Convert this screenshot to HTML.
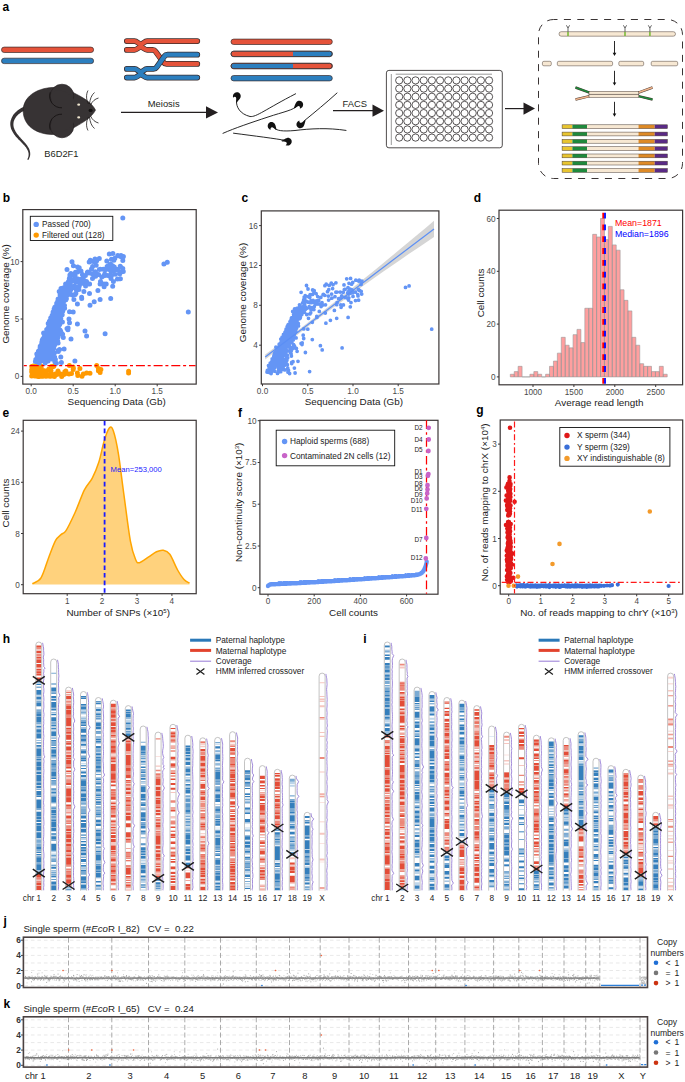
<!DOCTYPE html>
<html><head><meta charset="utf-8"><style>
html,body{margin:0;padding:0;background:#fff;}
svg{display:block;}
text{font-family:"Liberation Sans",sans-serif;}
</style></head><body>
<svg width="685" height="1082" viewBox="0 0 685 1082" font-family="Liberation Sans, sans-serif">
<rect width="685" height="1082" fill="#fff"/>
<text x="2.5" y="11" font-size="12" font-weight="bold" fill="#000">a</text>
<rect x="1.5" y="47.1" width="92.1" height="5.4" rx="2.7" fill="#e5533a" stroke="#3a2c2c" stroke-width="0.7"/>
<rect x="1.5" y="58.2" width="92.1" height="5.4" rx="2.7" fill="#2c7fbf" stroke="#3a2c2c" stroke-width="0.7"/>
<path d="M126.8 41.1H134.5C137.3 41.1 138.3 44.0 140.8 44.0C143.3 44.0 144.3 41.1 147.1 41.1H197.3" fill="none" stroke="#3a2c2c" stroke-width="5.7" stroke-linecap="round" stroke-linejoin="round"/>
<path d="M126.8 49.9H134.5C137.3 49.9 138.3 47.0 140.8 47.0C143.3 47.0 144.3 49.9 147.1 49.9H152.5Q154.5 49.9 155.5 51.4L163.5 62.4Q164.5 63.9 166.5 63.9H197.3" fill="none" stroke="#3a2c2c" stroke-width="5.7" stroke-linecap="round" stroke-linejoin="round"/>
<path d="M126.8 41.1H134.5C137.3 41.1 138.3 44.0 140.8 44.0C143.3 44.0 144.3 41.1 147.1 41.1H197.3" fill="none" stroke="#e5533a" stroke-width="4.3" stroke-linecap="round" stroke-linejoin="round"/>
<path d="M126.8 49.9H134.5C137.3 49.9 138.3 47.0 140.8 47.0C143.3 47.0 144.3 49.9 147.1 49.9H152.5Q154.5 49.9 155.5 51.4L163.5 62.4Q164.5 63.9 166.5 63.9H197.3" fill="none" stroke="#e5533a" stroke-width="4.3" stroke-linecap="round" stroke-linejoin="round"/>
<path d="M126.8 68.9H134.5C137.3 68.9 138.3 71.8 140.8 71.8C143.3 71.8 144.3 68.9 147.1 68.9H153.5Q155.5 68.9 156.5 67.4L164.5 56.2Q165.5 54.7 167.5 54.7H197.3" fill="none" stroke="#3a2c2c" stroke-width="5.7" stroke-linecap="round" stroke-linejoin="round"/>
<path d="M126.8 77.6H134.5C137.3 77.6 138.3 74.7 140.8 74.7C143.3 74.7 144.3 77.6 147.1 77.6H197.3" fill="none" stroke="#3a2c2c" stroke-width="5.7" stroke-linecap="round" stroke-linejoin="round"/>
<path d="M126.8 68.9H134.5C137.3 68.9 138.3 71.8 140.8 71.8C143.3 71.8 144.3 68.9 147.1 68.9H153.5Q155.5 68.9 156.5 67.4L164.5 56.2Q165.5 54.7 167.5 54.7H197.3" fill="none" stroke="#2c7fbf" stroke-width="4.3" stroke-linecap="round" stroke-linejoin="round"/>
<path d="M126.8 77.6H134.5C137.3 77.6 138.3 74.7 140.8 74.7C143.3 74.7 144.3 77.6 147.1 77.6H197.3" fill="none" stroke="#2c7fbf" stroke-width="4.3" stroke-linecap="round" stroke-linejoin="round"/>
<rect x="231" y="39.1" width="101.3" height="5.4" rx="2.7" fill="#e5533a" stroke="#3a2c2c" stroke-width="0.7"/>
<rect x="231" y="51.2" width="101.3" height="5.4" rx="2.7" fill="#2c7fbf" stroke="#3a2c2c" stroke-width="0.7"/>
<path d="M233.7 51.55H293V56.25H233.7A2.35 2.35 0 0 1 233.7 51.55Z" fill="#e5533a"/>
<rect x="231" y="51.2" width="101.3" height="5.4" rx="2.7" fill="none" stroke="#3a2c2c" stroke-width="0.7"/>
<rect x="231" y="63.3" width="101.3" height="5.4" rx="2.7" fill="#e5533a" stroke="#3a2c2c" stroke-width="0.7"/>
<path d="M233.7 63.65H293V68.35H233.7A2.35 2.35 0 0 1 233.7 63.65Z" fill="#2c7fbf"/>
<rect x="231" y="63.3" width="101.3" height="5.4" rx="2.7" fill="none" stroke="#3a2c2c" stroke-width="0.7"/>
<rect x="231" y="75.5" width="101.3" height="5.4" rx="2.7" fill="#2c7fbf" stroke="#3a2c2c" stroke-width="0.7"/>
<path d="M24.8 106.5L23.5 107.0L22.2 107.6L20.9 108.3L19.7 109.0L18.6 109.8L17.5 110.5L16.5 111.4L15.6 112.3L14.7 113.2L13.9 114.1L13.2 115.1L12.5 116.2L12.0 117.2L11.5 118.3L11.1 119.4L10.7 120.5L10.5 121.6L10.3 122.7L10.3 123.9L10.3 125.0L10.5 126.2L10.7 127.3L11.0 128.4L11.4 129.5L11.9 130.6L12.4 131.6L13.0 132.6L13.6 133.5L14.2 134.4L14.9 135.3L15.5 136.2L16.2 137.0L17.0 137.8L17.7 138.6L18.4 139.4L19.1 140.1L19.9 140.8L20.6 141.6L21.3 142.3L22.0 143.0L22.7 143.7L23.3 144.4L24.0 145.1L24.6 145.8L25.1 146.5L25.7 147.1L26.2 147.8L26.6 148.5L26.9 149.0L27.2 149.5L27.4 149.9L27.7 150.4L27.9 150.8L28.0 151.3L28.2 151.7L28.3 152.2L28.4 152.6L28.5 153.1L28.6 153.5L28.6 154.0L28.6 154.4L28.6 154.9L28.6 155.4L28.5 155.8L28.4 156.3L28.4 156.7L28.2 157.2L28.1 157.6L27.9 158.1L27.7 158.6L27.5 159.0L27.3 159.5L28.3 160.1L28.6 159.6L28.9 159.1L29.1 158.6L29.3 158.1L29.5 157.6L29.7 157.1L29.9 156.6L30.0 156.1L30.1 155.5L30.2 155.0L30.2 154.5L30.2 154.0L30.2 153.4L30.2 152.9L30.1 152.3L30.0 151.8L29.9 151.3L29.8 150.7L29.6 150.2L29.4 149.6L29.2 149.1L29.0 148.5L28.7 148.0L28.4 147.5L27.9 146.7L27.4 145.9L26.9 145.1L26.3 144.4L25.7 143.6L25.0 142.9L24.4 142.1L23.7 141.4L23.0 140.6L22.3 139.9L21.6 139.1L20.9 138.4L20.3 137.6L19.6 136.9L18.9 136.1L18.3 135.3L17.6 134.5L17.0 133.7L16.5 132.9L15.9 132.0L15.4 131.2L15.0 130.3L14.5 129.4L14.2 128.5L13.8 127.5L13.6 126.6L13.5 125.8L13.4 124.9L13.4 124.0L13.5 123.1L13.6 122.2L13.8 121.3L14.1 120.5L14.5 119.6L14.9 118.7L15.4 117.9L16.0 117.1L16.6 116.3L17.3 115.5L18.0 114.8L18.8 114.1L19.7 113.4L20.6 112.7L21.6 112.1L22.7 111.6L23.8 111.0L24.9 110.5L26.2 110.1Z" fill="#373334"/>
<path d="M23.2 111C23 97 36 88.5 52 87.5C62 87 69 90 75 93.5C84 98 92 103 95.5 110.1C92 117 84 122 75 127C69 130.5 62 134 52 134.5C35 134 23.5 125 23.2 111Z" fill="#373334" stroke="#241f20" stroke-width="0.6"/>
<circle cx="62" cy="96" r="11.8" fill="#373334" stroke="#241f20" stroke-width="0.6"/>
<circle cx="62" cy="126" r="11.8" fill="#373334" stroke="#241f20" stroke-width="0.6"/>
<path d="M52 92C60 88 70 92 74 100C78 108 78 114 74 122C70 130 60 134 52 130Z" fill="#373334"/>
<path d="M50.2 92.3A11.8 11.8 0 0 0 62 107.8M50.2 129.7A11.8 11.8 0 0 1 62 114.2" fill="none" stroke="#141010" stroke-width="0.85"/>
<ellipse cx="78.7" cy="104.7" rx="1.5" ry="1.1" fill="#efe6cf"/><ellipse cx="78.7" cy="117.4" rx="1.5" ry="1.1" fill="#efe6cf"/>
<ellipse cx="90.6" cy="110.4" rx="2" ry="1.6" fill="#141111"/>
<path d="M88.5 104C86 100 86 94 88 90.5M89.5 104C90 99 91.5 95 94.5 92.5M90.5 105C92.5 101 95 99 98.5 98M88.5 117C86 121 86 127 88 130.5M89.5 117C90 122 91.5 126 94.5 128.5M90.5 116C92.5 120 95 122 98.5 123" fill="none" stroke="#1c1818" stroke-width="0.8"/>
<text x="44.3" y="156.8" font-size="9.3" fill="#231f20">B6D2F1</text>
<path d="M121 112.4H208" stroke="#231f20" stroke-width="1.2"/>
<path d="M206 106.3L218 112.4L206 118.5Z" fill="#231f20"/>
<text x="163.7" y="106.6" font-size="9.4" text-anchor="middle" fill="#231f20">Meiosis</text>
<g fill="none" stroke="#111" stroke-width="0.9" stroke-linecap="round">
<path d="M236.5 101C236 107 240 114 250 116.5C256 117.5 266 109 295.6 93.8"/>
<path d="M297 106C294 110 283 112 268 117C250 123 235 128 223 133.3"/>
<path d="M304 121C315 112 326 103 337 93"/>
<path d="M274 127.5C276 131 283 131.5 295 130.5C310 128.6 328 127.6 346 130.4"/>
<path d="M286 140.5C275 138.5 255 136 233.5 133.2"/>
</g>
<path transform="translate(236.6 103) rotate(-95) scale(1.15 -1.15)" d="M0 0C1.5 -0.8 2.8 -3 4.5 -3.8C6.7 -4.8 9.3 -3.4 9.3 -1C9.3 1.5 7.2 3 4.9 2.6C5.7 1.7 5.7 0.5 4.8 0.1C3.5 -0.4 1.8 0.9 0 0Z" fill="#111"/>
<path transform="translate(293.5 108.3) rotate(-25) scale(1.15 1.15)" d="M0 0C1.5 -0.8 2.8 -3 4.5 -3.8C6.7 -4.8 9.3 -3.4 9.3 -1C9.3 1.5 7.2 3 4.9 2.6C5.7 1.7 5.7 0.5 4.8 0.1C3.5 -0.4 1.8 0.9 0 0Z" fill="#111"/>
<path transform="translate(305.8 120.2) rotate(150) scale(1.15 1.15)" d="M0 0C1.5 -0.8 2.8 -3 4.5 -3.8C6.7 -4.8 9.3 -3.4 9.3 -1C9.3 1.5 7.2 3 4.9 2.6C5.7 1.7 5.7 0.5 4.8 0.1C3.5 -0.4 1.8 0.9 0 0Z" fill="#111"/>
<path transform="translate(277 130) rotate(-150) scale(1.15 -1.15)" d="M0 0C1.5 -0.8 2.8 -3 4.5 -3.8C6.7 -4.8 9.3 -3.4 9.3 -1C9.3 1.5 7.2 3 4.9 2.6C5.7 1.7 5.7 0.5 4.8 0.1C3.5 -0.4 1.8 0.9 0 0Z" fill="#111"/>
<path transform="translate(281 140.8) rotate(15) scale(1.15 1.15)" d="M0 0C1.5 -0.8 2.8 -3 4.5 -3.8C6.7 -4.8 9.3 -3.4 9.3 -1C9.3 1.5 7.2 3 4.9 2.6C5.7 1.7 5.7 0.5 4.8 0.1C3.5 -0.4 1.8 0.9 0 0Z" fill="#111"/>
<path d="M333 110.7H375" stroke="#231f20" stroke-width="1.2"/>
<path d="M372.5 104.6L384 110.7L372.5 116.8Z" fill="#231f20"/>
<text x="354.8" y="107.2" font-size="9.4" text-anchor="middle" fill="#231f20">FACS</text>
<rect x="386.4" y="70.4" width="115.9" height="77.4" rx="2.5" fill="#fff" stroke="#231f20" stroke-width="0.8"/>
<path d="M391.3 74V145M395.7 74.2H492" stroke="#555" stroke-width="0.6"/>
<path d="M395.60 80.40a3.6 3.6 0 1 0 7.2 0a3.6 3.6 0 1 0 -7.2 0M403.77 80.40a3.6 3.6 0 1 0 7.2 0a3.6 3.6 0 1 0 -7.2 0M411.94 80.40a3.6 3.6 0 1 0 7.2 0a3.6 3.6 0 1 0 -7.2 0M420.11 80.40a3.6 3.6 0 1 0 7.2 0a3.6 3.6 0 1 0 -7.2 0M428.28 80.40a3.6 3.6 0 1 0 7.2 0a3.6 3.6 0 1 0 -7.2 0M436.45 80.40a3.6 3.6 0 1 0 7.2 0a3.6 3.6 0 1 0 -7.2 0M444.62 80.40a3.6 3.6 0 1 0 7.2 0a3.6 3.6 0 1 0 -7.2 0M452.79 80.40a3.6 3.6 0 1 0 7.2 0a3.6 3.6 0 1 0 -7.2 0M460.96 80.40a3.6 3.6 0 1 0 7.2 0a3.6 3.6 0 1 0 -7.2 0M469.13 80.40a3.6 3.6 0 1 0 7.2 0a3.6 3.6 0 1 0 -7.2 0M477.30 80.40a3.6 3.6 0 1 0 7.2 0a3.6 3.6 0 1 0 -7.2 0M485.47 80.40a3.6 3.6 0 1 0 7.2 0a3.6 3.6 0 1 0 -7.2 0M395.60 88.57a3.6 3.6 0 1 0 7.2 0a3.6 3.6 0 1 0 -7.2 0M403.77 88.57a3.6 3.6 0 1 0 7.2 0a3.6 3.6 0 1 0 -7.2 0M411.94 88.57a3.6 3.6 0 1 0 7.2 0a3.6 3.6 0 1 0 -7.2 0M420.11 88.57a3.6 3.6 0 1 0 7.2 0a3.6 3.6 0 1 0 -7.2 0M428.28 88.57a3.6 3.6 0 1 0 7.2 0a3.6 3.6 0 1 0 -7.2 0M436.45 88.57a3.6 3.6 0 1 0 7.2 0a3.6 3.6 0 1 0 -7.2 0M444.62 88.57a3.6 3.6 0 1 0 7.2 0a3.6 3.6 0 1 0 -7.2 0M452.79 88.57a3.6 3.6 0 1 0 7.2 0a3.6 3.6 0 1 0 -7.2 0M460.96 88.57a3.6 3.6 0 1 0 7.2 0a3.6 3.6 0 1 0 -7.2 0M469.13 88.57a3.6 3.6 0 1 0 7.2 0a3.6 3.6 0 1 0 -7.2 0M477.30 88.57a3.6 3.6 0 1 0 7.2 0a3.6 3.6 0 1 0 -7.2 0M485.47 88.57a3.6 3.6 0 1 0 7.2 0a3.6 3.6 0 1 0 -7.2 0M395.60 96.74a3.6 3.6 0 1 0 7.2 0a3.6 3.6 0 1 0 -7.2 0M403.77 96.74a3.6 3.6 0 1 0 7.2 0a3.6 3.6 0 1 0 -7.2 0M411.94 96.74a3.6 3.6 0 1 0 7.2 0a3.6 3.6 0 1 0 -7.2 0M420.11 96.74a3.6 3.6 0 1 0 7.2 0a3.6 3.6 0 1 0 -7.2 0M428.28 96.74a3.6 3.6 0 1 0 7.2 0a3.6 3.6 0 1 0 -7.2 0M436.45 96.74a3.6 3.6 0 1 0 7.2 0a3.6 3.6 0 1 0 -7.2 0M444.62 96.74a3.6 3.6 0 1 0 7.2 0a3.6 3.6 0 1 0 -7.2 0M452.79 96.74a3.6 3.6 0 1 0 7.2 0a3.6 3.6 0 1 0 -7.2 0M460.96 96.74a3.6 3.6 0 1 0 7.2 0a3.6 3.6 0 1 0 -7.2 0M469.13 96.74a3.6 3.6 0 1 0 7.2 0a3.6 3.6 0 1 0 -7.2 0M477.30 96.74a3.6 3.6 0 1 0 7.2 0a3.6 3.6 0 1 0 -7.2 0M485.47 96.74a3.6 3.6 0 1 0 7.2 0a3.6 3.6 0 1 0 -7.2 0M395.60 104.91a3.6 3.6 0 1 0 7.2 0a3.6 3.6 0 1 0 -7.2 0M403.77 104.91a3.6 3.6 0 1 0 7.2 0a3.6 3.6 0 1 0 -7.2 0M411.94 104.91a3.6 3.6 0 1 0 7.2 0a3.6 3.6 0 1 0 -7.2 0M420.11 104.91a3.6 3.6 0 1 0 7.2 0a3.6 3.6 0 1 0 -7.2 0M428.28 104.91a3.6 3.6 0 1 0 7.2 0a3.6 3.6 0 1 0 -7.2 0M436.45 104.91a3.6 3.6 0 1 0 7.2 0a3.6 3.6 0 1 0 -7.2 0M444.62 104.91a3.6 3.6 0 1 0 7.2 0a3.6 3.6 0 1 0 -7.2 0M452.79 104.91a3.6 3.6 0 1 0 7.2 0a3.6 3.6 0 1 0 -7.2 0M460.96 104.91a3.6 3.6 0 1 0 7.2 0a3.6 3.6 0 1 0 -7.2 0M469.13 104.91a3.6 3.6 0 1 0 7.2 0a3.6 3.6 0 1 0 -7.2 0M477.30 104.91a3.6 3.6 0 1 0 7.2 0a3.6 3.6 0 1 0 -7.2 0M485.47 104.91a3.6 3.6 0 1 0 7.2 0a3.6 3.6 0 1 0 -7.2 0M395.60 113.08a3.6 3.6 0 1 0 7.2 0a3.6 3.6 0 1 0 -7.2 0M403.77 113.08a3.6 3.6 0 1 0 7.2 0a3.6 3.6 0 1 0 -7.2 0M411.94 113.08a3.6 3.6 0 1 0 7.2 0a3.6 3.6 0 1 0 -7.2 0M420.11 113.08a3.6 3.6 0 1 0 7.2 0a3.6 3.6 0 1 0 -7.2 0M428.28 113.08a3.6 3.6 0 1 0 7.2 0a3.6 3.6 0 1 0 -7.2 0M436.45 113.08a3.6 3.6 0 1 0 7.2 0a3.6 3.6 0 1 0 -7.2 0M444.62 113.08a3.6 3.6 0 1 0 7.2 0a3.6 3.6 0 1 0 -7.2 0M452.79 113.08a3.6 3.6 0 1 0 7.2 0a3.6 3.6 0 1 0 -7.2 0M460.96 113.08a3.6 3.6 0 1 0 7.2 0a3.6 3.6 0 1 0 -7.2 0M469.13 113.08a3.6 3.6 0 1 0 7.2 0a3.6 3.6 0 1 0 -7.2 0M477.30 113.08a3.6 3.6 0 1 0 7.2 0a3.6 3.6 0 1 0 -7.2 0M485.47 113.08a3.6 3.6 0 1 0 7.2 0a3.6 3.6 0 1 0 -7.2 0M395.60 121.25a3.6 3.6 0 1 0 7.2 0a3.6 3.6 0 1 0 -7.2 0M403.77 121.25a3.6 3.6 0 1 0 7.2 0a3.6 3.6 0 1 0 -7.2 0M411.94 121.25a3.6 3.6 0 1 0 7.2 0a3.6 3.6 0 1 0 -7.2 0M420.11 121.25a3.6 3.6 0 1 0 7.2 0a3.6 3.6 0 1 0 -7.2 0M428.28 121.25a3.6 3.6 0 1 0 7.2 0a3.6 3.6 0 1 0 -7.2 0M436.45 121.25a3.6 3.6 0 1 0 7.2 0a3.6 3.6 0 1 0 -7.2 0M444.62 121.25a3.6 3.6 0 1 0 7.2 0a3.6 3.6 0 1 0 -7.2 0M452.79 121.25a3.6 3.6 0 1 0 7.2 0a3.6 3.6 0 1 0 -7.2 0M460.96 121.25a3.6 3.6 0 1 0 7.2 0a3.6 3.6 0 1 0 -7.2 0M469.13 121.25a3.6 3.6 0 1 0 7.2 0a3.6 3.6 0 1 0 -7.2 0M477.30 121.25a3.6 3.6 0 1 0 7.2 0a3.6 3.6 0 1 0 -7.2 0M485.47 121.25a3.6 3.6 0 1 0 7.2 0a3.6 3.6 0 1 0 -7.2 0M395.60 129.42a3.6 3.6 0 1 0 7.2 0a3.6 3.6 0 1 0 -7.2 0M403.77 129.42a3.6 3.6 0 1 0 7.2 0a3.6 3.6 0 1 0 -7.2 0M411.94 129.42a3.6 3.6 0 1 0 7.2 0a3.6 3.6 0 1 0 -7.2 0M420.11 129.42a3.6 3.6 0 1 0 7.2 0a3.6 3.6 0 1 0 -7.2 0M428.28 129.42a3.6 3.6 0 1 0 7.2 0a3.6 3.6 0 1 0 -7.2 0M436.45 129.42a3.6 3.6 0 1 0 7.2 0a3.6 3.6 0 1 0 -7.2 0M444.62 129.42a3.6 3.6 0 1 0 7.2 0a3.6 3.6 0 1 0 -7.2 0M452.79 129.42a3.6 3.6 0 1 0 7.2 0a3.6 3.6 0 1 0 -7.2 0M460.96 129.42a3.6 3.6 0 1 0 7.2 0a3.6 3.6 0 1 0 -7.2 0M469.13 129.42a3.6 3.6 0 1 0 7.2 0a3.6 3.6 0 1 0 -7.2 0M477.30 129.42a3.6 3.6 0 1 0 7.2 0a3.6 3.6 0 1 0 -7.2 0M485.47 129.42a3.6 3.6 0 1 0 7.2 0a3.6 3.6 0 1 0 -7.2 0M395.60 137.59a3.6 3.6 0 1 0 7.2 0a3.6 3.6 0 1 0 -7.2 0M403.77 137.59a3.6 3.6 0 1 0 7.2 0a3.6 3.6 0 1 0 -7.2 0M411.94 137.59a3.6 3.6 0 1 0 7.2 0a3.6 3.6 0 1 0 -7.2 0M420.11 137.59a3.6 3.6 0 1 0 7.2 0a3.6 3.6 0 1 0 -7.2 0M428.28 137.59a3.6 3.6 0 1 0 7.2 0a3.6 3.6 0 1 0 -7.2 0M436.45 137.59a3.6 3.6 0 1 0 7.2 0a3.6 3.6 0 1 0 -7.2 0M444.62 137.59a3.6 3.6 0 1 0 7.2 0a3.6 3.6 0 1 0 -7.2 0M452.79 137.59a3.6 3.6 0 1 0 7.2 0a3.6 3.6 0 1 0 -7.2 0M460.96 137.59a3.6 3.6 0 1 0 7.2 0a3.6 3.6 0 1 0 -7.2 0M469.13 137.59a3.6 3.6 0 1 0 7.2 0a3.6 3.6 0 1 0 -7.2 0M477.30 137.59a3.6 3.6 0 1 0 7.2 0a3.6 3.6 0 1 0 -7.2 0M485.47 137.59a3.6 3.6 0 1 0 7.2 0a3.6 3.6 0 1 0 -7.2 0" fill="none" stroke="#231f20" stroke-width="0.75"/>
<path d="M505 108.6H526" stroke="#231f20" stroke-width="1.2"/>
<path d="M523.5 102.5L535 108.6L523.5 114.7Z" fill="#231f20"/>
<rect x="538.5" y="19.5" width="144" height="159" rx="15" fill="none" stroke="#3a3434" stroke-width="1" stroke-dasharray="7 6.4" stroke-dashoffset="3"/>
<rect x="559" y="31.7" width="116.5" height="4.5" rx="2.25" fill="#f7e8d3" stroke="#4a3c34" stroke-width="0.5"/>
<rect x="567.2" y="31.9" width="1.6" height="4.1" fill="#7cba3a"/>
<path d="M568 28V31.7M566.4 25.3L568 28L569.6 25.3" fill="none" stroke="#222" stroke-width="0.7"/>
<rect x="624.2" y="31.9" width="1.6" height="4.1" fill="#7cba3a"/>
<path d="M625 28V31.7M623.4 25.3L625 28L626.6 25.3" fill="none" stroke="#222" stroke-width="0.7"/>
<rect x="649.1" y="31.9" width="1.6" height="4.1" fill="#7cba3a"/>
<path d="M649.9 28V31.7M648.3 25.3L649.9 28L651.5 25.3" fill="none" stroke="#222" stroke-width="0.7"/>
<path d="M614.5 41V53.5" stroke="#111" stroke-width="0.9"/>
<path d="M612.7 52.8L614.5 56L616.3 52.8Z" fill="#111"/>
<rect x="542.4" y="61.3" width="8.9" height="4.5" rx="1.5" fill="#f7e8d3" stroke="#4a3c34" stroke-width="0.5"/>
<rect x="557.3" y="61.3" width="55.3" height="4.5" rx="1.5" fill="#f7e8d3" stroke="#4a3c34" stroke-width="0.5"/>
<rect x="618.8" y="61.3" width="24.9" height="4.5" rx="1.5" fill="#f7e8d3" stroke="#4a3c34" stroke-width="0.5"/>
<rect x="651.2" y="61.3" width="26.5" height="4.5" rx="1.5" fill="#f7e8d3" stroke="#4a3c34" stroke-width="0.5"/>
<path d="M614.5 70.8V83.1" stroke="#111" stroke-width="0.9"/>
<path d="M612.7 82.4L614.5 85.6L616.3 82.4Z" fill="#111"/>
<path d="M575.5 87.5L589.5 92.6M575.5 99.5L589.5 96.2" stroke="#4a3c34" stroke-width="2.4" stroke-linecap="butt"/>
<path d="M575.5 87.5L589.5 92.6" stroke="#1e8a3c" stroke-width="1.6"/><path d="M575.5 99.5L589.5 96.2" stroke="#f2b48c" stroke-width="1.6"/>
<path d="M652.5 87.5L638.5 92.6M652.5 99.5L638.5 96.2" stroke="#4a3c34" stroke-width="2.4"/>
<path d="M652.5 87.5L638.5 92.6" stroke="#f2b48c" stroke-width="1.6"/><path d="M652.5 99.5L638.5 96.2" stroke="#1e8a3c" stroke-width="1.6"/>
<rect x="589" y="91.3" width="49.8" height="2.9" fill="#f7e8d3" stroke="#4a3c34" stroke-width="0.5"/>
<rect x="589" y="94.4" width="49.8" height="2.9" fill="#f7e8d3" stroke="#4a3c34" stroke-width="0.5"/>
<path d="M614.5 101.8V114.2" stroke="#111" stroke-width="0.9"/>
<path d="M612.7 113.5L614.5 116.7L616.3 113.5Z" fill="#111"/>
<rect x="562.1" y="124.8" width="10.3" height="3.8" fill="#e8c530"/>
<rect x="572.4" y="124.8" width="14.6" height="3.8" fill="#1e8a3c"/>
<rect x="587" y="124.8" width="51.5" height="3.8" fill="#f7e8d3"/>
<rect x="638.5" y="124.8" width="16.2" height="3.8" fill="#de8a26"/>
<rect x="654.7" y="124.8" width="12.7" height="3.8" fill="#5a2a86"/>
<rect x="562.1" y="124.8" width="105.3" height="3.8" fill="none" stroke="#4a3c34" stroke-width="0.5"/>
<rect x="562.1" y="132.1" width="10.3" height="3.8" fill="#e8c530"/>
<rect x="572.4" y="132.1" width="14.6" height="3.8" fill="#1e8a3c"/>
<rect x="587" y="132.1" width="51.5" height="3.8" fill="#f7e8d3"/>
<rect x="638.5" y="132.1" width="16.2" height="3.8" fill="#de8a26"/>
<rect x="654.7" y="132.1" width="12.7" height="3.8" fill="#5a2a86"/>
<rect x="562.1" y="132.1" width="105.3" height="3.8" fill="none" stroke="#4a3c34" stroke-width="0.5"/>
<rect x="562.1" y="139.4" width="10.3" height="3.8" fill="#e8c530"/>
<rect x="572.4" y="139.4" width="14.6" height="3.8" fill="#1e8a3c"/>
<rect x="587" y="139.4" width="51.5" height="3.8" fill="#f7e8d3"/>
<rect x="638.5" y="139.4" width="16.2" height="3.8" fill="#de8a26"/>
<rect x="654.7" y="139.4" width="12.7" height="3.8" fill="#5a2a86"/>
<rect x="562.1" y="139.4" width="105.3" height="3.8" fill="none" stroke="#4a3c34" stroke-width="0.5"/>
<rect x="562.1" y="146.7" width="10.3" height="3.8" fill="#e8c530"/>
<rect x="572.4" y="146.7" width="14.6" height="3.8" fill="#1e8a3c"/>
<rect x="587" y="146.7" width="51.5" height="3.8" fill="#f7e8d3"/>
<rect x="638.5" y="146.7" width="16.2" height="3.8" fill="#de8a26"/>
<rect x="654.7" y="146.7" width="12.7" height="3.8" fill="#5a2a86"/>
<rect x="562.1" y="146.7" width="105.3" height="3.8" fill="none" stroke="#4a3c34" stroke-width="0.5"/>
<rect x="562.1" y="154" width="10.3" height="3.8" fill="#e8c530"/>
<rect x="572.4" y="154" width="14.6" height="3.8" fill="#1e8a3c"/>
<rect x="587" y="154" width="51.5" height="3.8" fill="#f7e8d3"/>
<rect x="638.5" y="154" width="16.2" height="3.8" fill="#de8a26"/>
<rect x="654.7" y="154" width="12.7" height="3.8" fill="#5a2a86"/>
<rect x="562.1" y="154" width="105.3" height="3.8" fill="none" stroke="#4a3c34" stroke-width="0.5"/>
<rect x="562.1" y="161.2" width="10.3" height="3.8" fill="#e8c530"/>
<rect x="572.4" y="161.2" width="14.6" height="3.8" fill="#1e8a3c"/>
<rect x="587" y="161.2" width="51.5" height="3.8" fill="#f7e8d3"/>
<rect x="638.5" y="161.2" width="16.2" height="3.8" fill="#de8a26"/>
<rect x="654.7" y="161.2" width="12.7" height="3.8" fill="#5a2a86"/>
<rect x="562.1" y="161.2" width="105.3" height="3.8" fill="none" stroke="#4a3c34" stroke-width="0.5"/>
<rect x="562.1" y="168.5" width="10.3" height="3.8" fill="#e8c530"/>
<rect x="572.4" y="168.5" width="14.6" height="3.8" fill="#1e8a3c"/>
<rect x="587" y="168.5" width="51.5" height="3.8" fill="#f7e8d3"/>
<rect x="638.5" y="168.5" width="16.2" height="3.8" fill="#de8a26"/>
<rect x="654.7" y="168.5" width="12.7" height="3.8" fill="#5a2a86"/>
<rect x="562.1" y="168.5" width="105.3" height="3.8" fill="none" stroke="#4a3c34" stroke-width="0.5"/>
<text x="2.8" y="202.3" font-size="12" font-weight="bold" fill="#000">b</text>
<rect x="22.8" y="209.6" width="173.4" height="174.5" fill="none" stroke="#3b3636" stroke-width="1.2"/>
<path d="M52.4 374.9h0M51.0 370.6h0M37.7 366.6h0M36.6 369.6h0M40.9 373.4h0M32.3 373.7h0M34.9 373.5h0M62.8 374.9h0M43.6 370.6h0M34.4 373.8h0M33.0 367.3h0M34.5 373.7h0M35.8 368.5h0M50.8 371.7h0M39.6 376.1h0M54.5 376.2h0M36.2 374.1h0M44.6 370.7h0M35.9 367.2h0M61.7 376.4h0M41.7 373.2h0M36.1 373.2h0M35.4 370.6h0M41.0 366.0h0M69.4 365.6h0M36.7 368.3h0M42.2 370.2h0M82.0 376.3h0M37.9 373.9h0M42.4 375.4h0M77.8 375.5h0M36.3 375.9h0M36.7 369.6h0M32.5 375.8h0M42.2 371.3h0M45.3 375.2h0M48.4 369.8h0M46.7 376.0h0M38.0 376.4h0M51.4 366.4h0M54.4 376.4h0M36.0 372.4h0M39.3 376.1h0M47.3 374.8h0M38.8 376.0h0M40.1 376.0h0M32.6 372.7h0M35.1 369.1h0M34.5 373.7h0M32.2 375.4h0M37.7 372.1h0M37.8 368.0h0M32.7 368.0h0M33.3 366.0h0M39.1 373.8h0M41.2 367.8h0M65.1 373.7h0M31.7 375.9h0M48.8 369.7h0M44.2 375.8h0M39.3 376.4h0M32.8 374.8h0M65.8 371.0h0M50.6 376.3h0M37.0 376.2h0M34.7 376.1h0M56.9 374.6h0M38.4 370.9h0M53.6 366.4h0M40.1 372.8h0M55.2 373.9h0M35.2 369.7h0M34.6 374.2h0M37.3 373.1h0M36.1 373.6h0M37.7 376.3h0M49.8 376.3h0M39.2 372.2h0M36.8 375.4h0M32.7 374.2h0M35.4 373.0h0M34.3 369.5h0M38.4 376.4h0M36.9 366.1h0M31.7 371.7h0M64.3 374.2h0M40.8 374.2h0M35.2 371.5h0M40.6 374.7h0M38.6 372.6h0M45.7 376.3h0M32.6 375.2h0M34.8 368.8h0M37.2 367.8h0M36.8 374.9h0M43.1 376.2h0M73.4 368.3h0M35.6 374.7h0M48.9 368.9h0M42.0 376.3h0M46.2 376.3h0M41.5 372.2h0M58.0 371.1h0M31.8 366.6h0M45.7 371.8h0M31.7 369.7h0M37.1 370.5h0M73.1 366.9h0M32.4 369.1h0M37.5 369.5h0M96.7 365.5h0M98.4 368.4h0M98.4 370.7h0M100.1 372.4h0M100.9 369.5h0M128.6 373.0h0M128.6 371.2h0M77.4 373.0h0M83.3 374.1h0M86.6 373.0h0M73.2 369.5h0M69.0 374.1h0M60.6 374.1h0M64.8 371.8h0M79.9 368.4h0M71.5 373.5h0M90.0 373.2h0M53.9 366.1h0" stroke="#ff9900" stroke-width="5" stroke-linecap="round"/>
<path d="M53.5 327.0h0M53.7 322.8h0M43.5 347.7h0M38.4 355.1h0M46.2 355.3h0M69.3 287.6h0M58.4 311.8h0M50.6 321.2h0M43.1 347.3h0M55.8 327.9h0M53.6 321.9h0M49.9 326.6h0M71.0 286.5h0M44.1 337.5h0M43.7 339.5h0M60.3 297.5h0M68.6 289.4h0M63.6 292.9h0M66.2 287.7h0M59.3 302.6h0M41.5 355.6h0M39.5 353.1h0M38.1 354.5h0M53.6 318.9h0M48.8 347.3h0M42.7 353.2h0M44.7 345.5h0M52.5 338.4h0M45.0 345.7h0M48.3 354.5h0M42.9 345.5h0M42.9 339.0h0M43.0 355.4h0M50.5 333.2h0M63.1 289.3h0M40.1 347.9h0M66.5 293.0h0M64.5 305.5h0M52.2 346.8h0M46.7 329.4h0M47.6 359.7h0M52.4 342.0h0M54.6 316.1h0M39.6 357.2h0M58.0 318.9h0M61.5 292.3h0M36.6 361.6h0M42.9 348.4h0M50.7 317.9h0M68.4 287.7h0M59.1 309.0h0M46.2 361.5h0M64.6 308.3h0M55.4 324.7h0M56.0 337.2h0M63.9 305.6h0M61.8 305.6h0M49.2 334.7h0M65.3 293.5h0M64.1 296.3h0M54.2 314.0h0M42.8 356.2h0M68.9 286.8h0M59.0 305.8h0M57.0 327.9h0M42.3 360.5h0M49.8 324.8h0M59.6 314.8h0M41.9 342.1h0M43.1 346.3h0M63.0 293.2h0M51.2 336.6h0M44.9 346.6h0M60.1 295.1h0M54.4 317.1h0M66.0 298.2h0M63.2 307.6h0M50.3 327.1h0M43.6 345.4h0M51.6 337.5h0M65.6 287.6h0M60.2 295.6h0M58.6 307.7h0M37.4 361.4h0M48.6 326.8h0M38.4 351.2h0M55.0 313.7h0M64.5 300.4h0M55.0 309.5h0M39.2 362.2h0M56.2 307.3h0M59.4 308.6h0M57.4 314.8h0M62.3 293.1h0M67.0 291.2h0M61.6 313.9h0M51.9 332.8h0M63.2 290.4h0M54.4 312.0h0M57.2 312.7h0M53.6 345.5h0M56.9 320.6h0M54.2 337.1h0M40.2 356.0h0M57.1 319.6h0M58.4 300.3h0M57.8 301.0h0M41.2 351.3h0M56.8 322.1h0M63.4 290.3h0M62.6 290.0h0M51.5 339.5h0M57.7 312.9h0M45.7 337.8h0M66.3 297.6h0M67.4 288.6h0M51.4 317.9h0M52.3 315.5h0M64.0 288.5h0M55.7 318.6h0M54.1 309.1h0M68.3 289.4h0M47.3 341.1h0M65.9 299.8h0M51.3 325.2h0M63.2 291.8h0M57.7 302.5h0M57.2 309.4h0M51.9 334.4h0M44.0 352.7h0M42.3 342.5h0M48.7 332.8h0M51.4 321.2h0M58.4 313.0h0M63.7 297.2h0M61.9 305.4h0M61.4 293.4h0M54.6 345.1h0M61.0 294.5h0M44.5 341.8h0M61.3 298.6h0M52.2 330.8h0M35.4 361.5h0M61.0 288.6h0M54.6 323.0h0M40.6 347.4h0M36.8 354.1h0M51.7 318.2h0M43.1 347.8h0M59.2 291.6h0M46.2 357.7h0M48.5 336.6h0M52.7 322.2h0M61.7 308.3h0M43.9 348.0h0M40.4 346.9h0M51.3 322.4h0M61.0 308.0h0M54.7 313.7h0M67.4 287.5h0M52.1 341.9h0M58.9 299.9h0M66.2 293.9h0M57.7 303.5h0M55.4 306.7h0M38.6 362.2h0M58.2 313.0h0M58.5 310.9h0M57.0 311.4h0M67.0 286.3h0M61.2 308.3h0M58.6 314.7h0M46.1 342.1h0M46.5 332.9h0M50.7 342.5h0M65.4 288.7h0M67.2 286.6h0M58.0 316.0h0M47.7 359.1h0M45.0 349.0h0M53.8 315.0h0M54.5 321.4h0M46.7 333.6h0M48.9 340.0h0M43.6 339.0h0M47.5 350.0h0M55.1 331.8h0M69.2 287.1h0M46.4 356.8h0M64.3 288.2h0M58.6 321.6h0M67.0 287.8h0M52.1 315.6h0M40.2 346.2h0M49.4 321.3h0M50.2 326.8h0M54.7 317.2h0M68.6 286.5h0M58.9 305.8h0M63.1 302.1h0M46.6 334.1h0M55.7 316.5h0M57.5 304.4h0M70.0 292.5h0M35.8 359.6h0M54.4 314.1h0M52.2 320.2h0M56.6 319.6h0M49.7 333.0h0M63.7 305.1h0M37.9 356.7h0M56.7 303.3h0M49.2 329.1h0M61.5 311.8h0M48.9 336.7h0M47.6 328.9h0M47.9 354.8h0M54.9 318.5h0M56.4 309.5h0M47.0 345.5h0M39.1 356.1h0M42.3 340.0h0M51.7 334.2h0M59.6 307.7h0M68.8 292.2h0M59.0 300.7h0M49.1 337.3h0M43.9 342.7h0M47.3 333.6h0M46.3 346.9h0M61.9 301.2h0M46.7 348.4h0M62.7 295.0h0M55.1 320.1h0M66.5 288.7h0M57.1 319.9h0M37.3 355.9h0M41.4 355.8h0M46.3 351.0h0M48.4 344.9h0M55.9 321.8h0M67.2 288.6h0M53.0 323.9h0M61.7 292.5h0M64.2 299.0h0M64.0 298.5h0M64.6 289.4h0M60.2 300.8h0M47.7 329.4h0M43.6 332.9h0M43.5 346.2h0M41.3 358.0h0M44.7 353.4h0M39.9 357.7h0M60.3 317.0h0M41.7 347.8h0M48.2 343.7h0M41.8 347.7h0M47.2 348.7h0M62.4 299.7h0M52.6 341.8h0M59.1 319.8h0M52.5 324.7h0M60.8 300.9h0M53.5 321.3h0M58.2 311.6h0M37.9 362.1h0M61.0 307.4h0M39.9 349.9h0M63.6 295.9h0M62.0 313.1h0M48.6 350.5h0M45.1 363.1h0M37.5 356.0h0M54.8 307.2h0M65.8 289.5h0M61.3 296.7h0M60.5 292.4h0M58.4 299.0h0M48.1 349.9h0M46.8 337.8h0M55.0 325.9h0M52.4 334.1h0M58.4 326.3h0M64.0 298.8h0M56.7 307.6h0M57.5 318.5h0M59.1 301.0h0M53.5 314.7h0M46.8 338.8h0M52.1 331.6h0M58.5 306.1h0M65.0 290.3h0M58.1 299.0h0M38.6 351.3h0M41.9 348.1h0M63.3 298.2h0M40.4 349.9h0M48.0 330.5h0M54.5 322.5h0M62.5 303.4h0M47.6 330.1h0M54.6 330.9h0M58.2 311.4h0M36.9 361.5h0M42.1 354.1h0M57.2 322.7h0M46.2 349.8h0M63.3 293.4h0M47.2 351.2h0M65.5 287.2h0M49.3 346.7h0M54.7 313.8h0M57.6 317.6h0M53.4 336.4h0M50.7 352.6h0M47.7 351.7h0M52.3 318.8h0M68.7 292.9h0M46.2 352.7h0M52.7 339.6h0M60.9 298.7h0M51.7 319.8h0M69.5 287.2h0M54.9 311.5h0M49.5 332.4h0M58.5 300.7h0M43.1 351.1h0M51.5 318.1h0M53.3 318.3h0M53.3 312.7h0M65.3 289.3h0M50.3 325.7h0M61.2 304.1h0M59.7 324.5h0M48.3 330.3h0M58.2 318.4h0M56.0 328.5h0M44.1 337.1h0M57.9 306.0h0M57.9 304.5h0M42.0 352.6h0M53.6 323.2h0M52.0 321.4h0M46.8 338.2h0M68.3 292.8h0M59.7 310.9h0M49.7 344.8h0M60.8 318.3h0M44.4 352.6h0M62.3 289.9h0M45.4 336.8h0M65.4 294.0h0M52.6 316.9h0M45.8 360.3h0M69.7 291.1h0M49.1 325.5h0M63.6 293.8h0M60.2 298.2h0M67.7 295.1h0M47.5 346.4h0M38.5 358.7h0M59.2 306.5h0M54.9 307.4h0M62.4 308.7h0M43.7 344.7h0M56.6 307.6h0M61.1 311.0h0M52.6 333.1h0M42.7 344.2h0M65.3 291.6h0M50.5 355.4h0M51.5 327.9h0M53.8 315.9h0M51.1 342.5h0M58.3 304.3h0M48.6 340.3h0M65.3 287.2h0M53.2 326.3h0M51.9 323.4h0M55.2 319.2h0M61.8 302.2h0M56.7 323.0h0M61.7 289.8h0M57.5 302.5h0M54.2 327.9h0M63.4 302.0h0M47.7 344.8h0M48.2 323.5h0M58.2 317.9h0M42.1 348.1h0M50.9 328.3h0M52.6 341.6h0M56.3 318.2h0M59.3 301.6h0M38.9 359.4h0M56.4 314.3h0M47.8 355.5h0M42.3 348.8h0M65.6 298.7h0M39.5 357.8h0M63.4 288.4h0M56.3 324.2h0M54.7 326.8h0M37.8 359.7h0M47.9 331.5h0M50.8 329.1h0M62.9 303.7h0M42.5 344.2h0M57.0 326.3h0M49.2 333.7h0M39.0 359.6h0M53.1 312.1h0M64.7 296.2h0M61.4 294.6h0M54.5 332.4h0M44.2 345.3h0M42.0 349.4h0M44.6 345.4h0M68.3 286.8h0M60.3 296.3h0M57.2 309.0h0M43.3 340.7h0M56.3 331.5h0M56.6 307.3h0M64.0 290.9h0M62.3 303.5h0M47.0 337.0h0M46.5 356.0h0M51.7 321.9h0M48.3 331.5h0M52.4 316.2h0M46.7 337.7h0M56.5 307.9h0M61.0 306.5h0M50.4 340.2h0M49.9 330.6h0M45.3 339.3h0M42.7 345.3h0M58.4 318.4h0M63.1 288.1h0M45.9 345.2h0M62.8 310.9h0M53.0 313.4h0M51.0 328.9h0M48.8 336.5h0M42.9 340.3h0M46.9 349.2h0M41.7 343.4h0M45.6 350.4h0M58.8 308.3h0M48.6 331.6h0M41.0 357.6h0M55.5 316.9h0M46.9 336.7h0M64.0 294.2h0M49.2 341.7h0M62.2 314.7h0M51.9 333.9h0M57.0 313.8h0M49.6 330.2h0M64.0 295.1h0M61.9 292.9h0M47.4 338.0h0M63.7 288.0h0M56.4 309.9h0M39.2 363.1h0M55.0 323.9h0M53.9 319.8h0M63.5 288.6h0M64.1 349.0h0M58.3 350.5h0M62.6 334.2h0M69.5 322.8h0M54.6 357.0h0M58.1 342.9h0M53.6 348.1h0M61.0 332.0h0M51.6 353.7h0M52.2 350.0h0M54.3 342.0h0M48.1 361.1h0M55.4 359.4h0M51.9 359.0h0M60.6 331.0h0M60.8 356.9h0M58.4 326.8h0M54.3 353.0h0M60.0 329.9h0M57.8 333.4h0M58.4 333.4h0M59.5 349.6h0M68.1 328.0h0M57.4 339.7h0M61.7 333.7h0M67.0 328.5h0M51.3 358.5h0M57.0 335.3h0M49.3 355.9h0M71.0 338.9h0M60.2 322.6h0M58.9 334.6h0M58.0 336.9h0M77.4 324.1h0M54.9 361.7h0M48.7 358.7h0M58.3 351.6h0M60.4 321.6h0M51.3 349.8h0M57.7 340.7h0M53.8 347.9h0M67.9 329.8h0M53.4 351.7h0M63.3 337.5h0M62.4 322.1h0M104.1 286.8h0M71.9 288.1h0M73.4 265.7h0M77.7 266.9h0M91.5 268.9h0M65.6 284.0h0M96.2 265.3h0M79.0 269.5h0M76.3 289.6h0M78.1 279.0h0M67.0 269.6h0M81.0 271.1h0M68.4 281.7h0M123.4 256.6h0M74.9 274.5h0M87.1 284.2h0M111.2 271.6h0M95.3 271.7h0M101.8 276.9h0M119.7 272.3h0M114.9 258.3h0M112.9 269.1h0M106.1 269.5h0M73.1 280.8h0M70.4 276.7h0M107.9 266.1h0M81.0 280.1h0M75.4 281.5h0M121.0 255.6h0M111.4 268.3h0M110.3 270.2h0M111.0 278.4h0M112.6 265.8h0M69.5 311.8h0M120.4 278.7h0M77.6 272.0h0M117.8 255.6h0M76.3 279.1h0M85.6 286.1h0M111.5 259.2h0M84.2 283.0h0M79.3 286.1h0M117.5 269.4h0M82.4 274.5h0M107.1 266.6h0M95.0 259.0h0M103.3 269.3h0M71.7 279.6h0M83.3 278.9h0M92.4 274.0h0M86.5 281.5h0M120.5 256.6h0M75.1 275.7h0M107.9 275.5h0M69.9 275.1h0M121.2 267.5h0M75.9 293.2h0M73.6 274.5h0M78.9 289.5h0M81.7 298.5h0M73.9 299.5h0M72.0 261.7h0M100.5 281.5h0M75.5 272.2h0M99.3 258.6h0M100.1 283.9h0M92.5 278.6h0M113.2 270.5h0M103.9 284.1h0M87.4 272.3h0M85.4 275.4h0M96.7 260.8h0M93.2 261.6h0M89.0 273.0h0M97.9 290.4h0M72.2 295.1h0M90.3 260.2h0M81.2 279.3h0M106.8 261.0h0M115.1 268.8h0M70.9 273.5h0M76.7 281.4h0M113.4 281.4h0M112.7 286.2h0M110.7 298.4h0M67.7 288.9h0M115.3 269.8h0M111.3 275.9h0M89.5 293.4h0M74.6 286.0h0M79.3 281.7h0M95.6 276.3h0M110.0 276.3h0M110.8 268.8h0M114.3 266.9h0M117.5 279.1h0M110.6 264.2h0M69.5 278.0h0M66.4 298.7h0M112.9 253.6h0M70.4 280.7h0M113.9 260.2h0M99.4 269.5h0M122.8 268.4h0M75.2 294.4h0M106.2 284.1h0M74.7 286.6h0M65.4 298.4h0M82.7 283.2h0M79.2 267.7h0M98.5 274.6h0M70.9 289.5h0M104.1 275.7h0M70.3 283.5h0M119.8 273.7h0M74.6 287.3h0M123.3 271.6h0M83.9 291.5h0M81.0 283.1h0M100.2 269.3h0M87.7 272.1h0M89.6 284.0h0M92.6 266.5h0M104.7 273.9h0M76.8 287.3h0M69.3 278.8h0M89.2 261.9h0M109.3 254.0h0M122.8 257.5h0M122.8 260.5h0M85.0 331.1h0M86.6 336.0h0M105.1 333.7h0M163.9 263.9h0M167.3 262.2h0M188.3 312.1h0M74.9 360.9h0M113.5 269.6h0M115.2 274.2h0M120.2 266.2h0M61.4 362.6h0M56.4 363.2h0M77.4 304.1h0M81.6 297.2h0M90.0 305.2h0M94.2 301.8h0M100.1 299.5h0M73.2 312.1h0M69.0 319.0h0" stroke="#6495f5" stroke-width="5" stroke-linecap="round"/>
<path d="M122.8 218.0h0" stroke="#6495f5" stroke-width="5" stroke-linecap="round"/>
<path d="M23.4 365.5H195.6" stroke="#ff0000" stroke-width="1.25" stroke-dasharray="9 2.8 3 2.9" stroke-dashoffset="11.4"/>
<path d="M20.6 376.4h2.2M20.6 319h2.2M20.6 261.6h2.2" stroke="#3b3636" stroke-width="1"/>
<text x="19.4" y="379.4" font-size="8.2" text-anchor="end" fill="#4a4a4a">0</text>
<text x="19.4" y="322" font-size="8.2" text-anchor="end" fill="#4a4a4a">5</text>
<text x="19.4" y="264.6" font-size="8.2" text-anchor="end" fill="#4a4a4a">10</text>
<path d="M31.2 384.1v2.2M73.2 384.1v2.2M115.2 384.1v2.2M157.2 384.1v2.2" stroke="#3b3636" stroke-width="1"/>
<text x="31.2" y="394.1" font-size="8.2" text-anchor="middle" fill="#4a4a4a">0.0</text>
<text x="73.2" y="394.1" font-size="8.2" text-anchor="middle" fill="#4a4a4a">0.5</text>
<text x="115.2" y="394.1" font-size="8.2" text-anchor="middle" fill="#4a4a4a">1.0</text>
<text x="157.2" y="394.1" font-size="8.2" text-anchor="middle" fill="#4a4a4a">1.5</text>
<text x="116.7" y="405.3" font-size="9.9" text-anchor="middle" fill="#222">Sequencing Data (Gb)</text>
<text transform="translate(8.7 293.9) rotate(-90)" font-size="9.9" text-anchor="middle" fill="#222">Genome coverage (%)</text>
<rect x="30.3" y="216.3" width="82.5" height="24.2" fill="#fff" stroke="#111" stroke-width="0.9"/>
<path d="M36.2 224.4h0" stroke="#6495f5" stroke-width="5.4" stroke-linecap="round"/>
<path d="M36.2 235.1h0" stroke="#ff9900" stroke-width="5.4" stroke-linecap="round"/>
<text x="42.1" y="227.3" font-size="8.2" fill="#222">Passed (700)</text>
<text x="42.1" y="238" font-size="8.2" fill="#222">Filtered out (128)</text>
<text x="241.6" y="202.3" font-size="12" font-weight="bold" fill="#000">c</text>
<rect x="261.3" y="210.9" width="177.6" height="173.1" fill="none" stroke="#3b3636" stroke-width="1.2"/>
<path d="M265.2 354.5L273.7 348.3L282.1 342.1L290.5 335.8L299.0 329.4L307.4 323.0L315.8 316.5L324.3 310.0L332.7 303.5L341.2 296.9L349.6 290.2L358.0 283.5L366.5 276.7L374.9 269.9L383.4 263.0L391.8 256.1L400.2 249.1L408.7 242.1L417.1 235.0L425.6 227.9L434.0 220.7L434.0 237.1L425.6 242.7L417.1 248.4L408.7 254.1L400.2 259.9L391.8 265.7L383.4 271.6L374.9 277.6L366.5 283.6L358.0 289.6L349.6 295.7L341.2 301.9L332.7 308.1L324.3 314.3L315.8 320.6L307.4 327.0L299.0 333.4L290.5 339.9L282.1 346.4L273.7 352.9L265.2 359.6Z" fill="#d5d5d5"/>
<path d="M286.5 342.1h0M286.8 338.5h0M275.7 360.1h0M270.3 366.5h0M278.7 366.7h0M303.5 307.9h0M291.8 329.0h0M283.4 337.1h0M275.3 359.8h0M289.0 342.9h0M286.7 337.7h0M282.6 341.8h0M305.4 307.0h0M276.4 351.3h0M276.0 353.0h0M293.8 316.6h0M302.8 309.5h0M297.4 312.5h0M300.2 308.1h0M292.8 320.9h0M273.6 367.0h0M271.4 364.8h0M269.9 366.0h0M286.6 335.1h0M281.4 359.7h0M274.9 364.9h0M277.0 358.2h0M285.5 352.0h0M277.3 358.3h0M281.0 366.0h0M275.1 358.2h0M275.1 352.5h0M275.3 366.8h0M283.3 347.5h0M296.9 309.4h0M272.1 360.3h0M300.5 312.6h0M298.3 323.5h0M285.2 359.3h0M279.2 344.2h0M280.2 370.5h0M285.3 355.2h0M287.7 332.7h0M271.6 368.3h0M291.3 335.1h0M295.2 312.1h0M268.3 372.2h0M275.1 360.7h0M283.5 334.3h0M302.6 308.1h0M292.6 326.6h0M278.7 372.1h0M298.5 325.9h0M288.6 340.2h0M289.2 351.0h0M297.7 323.6h0M295.5 323.6h0M281.9 348.8h0M299.2 313.1h0M297.9 315.5h0M287.2 330.8h0M275.0 367.5h0M303.1 307.2h0M292.5 323.7h0M290.3 342.9h0M274.5 371.2h0M282.5 340.3h0M293.1 331.5h0M274.0 355.3h0M275.4 358.9h0M296.8 312.8h0M284.1 350.5h0M277.3 359.2h0M293.6 314.4h0M287.5 333.6h0M300.0 317.2h0M296.9 325.3h0M283.1 342.3h0M275.8 358.1h0M284.5 351.3h0M299.5 308.0h0M293.8 314.9h0M292.0 325.4h0M269.2 372.0h0M281.2 342.0h0M270.2 363.2h0M288.2 330.6h0M298.4 319.1h0M288.1 327.0h0M271.2 372.6h0M289.4 325.1h0M292.9 326.2h0M290.7 331.5h0M296.0 312.8h0M301.0 311.1h0M295.3 330.8h0M284.8 347.1h0M297.0 310.4h0M287.5 329.1h0M290.5 329.8h0M286.6 358.2h0M290.2 336.6h0M287.3 350.9h0M272.2 367.3h0M290.4 335.7h0M291.8 319.0h0M291.1 319.6h0M273.3 363.2h0M290.1 337.9h0M297.2 310.3h0M296.4 310.0h0M284.4 352.9h0M291.1 329.9h0M278.1 351.5h0M300.3 316.7h0M301.5 308.8h0M284.2 334.2h0M285.2 332.1h0M297.8 308.8h0M288.9 334.9h0M287.2 326.6h0M302.5 309.6h0M279.9 354.4h0M299.9 318.6h0M284.1 340.5h0M297.0 311.6h0M291.1 320.9h0M290.5 326.8h0M284.8 348.6h0M276.2 364.4h0M274.4 355.6h0M281.3 347.2h0M284.3 337.1h0M291.8 330.0h0M297.5 316.3h0M295.5 323.4h0M295.1 313.0h0M287.7 357.8h0M294.6 314.0h0M276.8 355.0h0M294.9 317.5h0M285.1 345.4h0M267.0 372.1h0M294.6 308.8h0M287.7 338.6h0M272.6 359.8h0M268.5 365.6h0M284.6 334.5h0M275.3 360.1h0M292.7 311.5h0M278.7 368.8h0M281.1 350.5h0M285.7 338.0h0M295.4 325.9h0M276.1 360.4h0M272.4 359.4h0M284.1 338.2h0M294.6 325.7h0M287.8 330.6h0M301.5 307.9h0M285.0 355.1h0M292.3 318.6h0M300.2 313.4h0M291.0 321.8h0M288.6 324.5h0M270.5 372.7h0M291.6 330.0h0M291.9 328.2h0M290.3 328.6h0M301.0 306.8h0M294.8 325.9h0M292.0 331.5h0M278.5 355.2h0M279.0 347.2h0M283.5 355.6h0M299.4 308.9h0M301.3 307.1h0M291.4 332.6h0M280.3 370.0h0M277.4 361.2h0M286.9 331.7h0M287.6 337.2h0M279.1 347.9h0M281.6 353.4h0M275.8 352.6h0M280.1 362.1h0M288.3 346.3h0M303.4 307.5h0M278.9 368.0h0M298.1 308.5h0M292.0 337.5h0M301.1 308.2h0M285.0 332.2h0M272.2 358.8h0M282.1 337.2h0M283.0 341.9h0M287.9 333.6h0M302.7 307.0h0M292.3 323.8h0M296.8 320.6h0M279.0 348.3h0M288.9 333.0h0M290.8 322.6h0M304.3 312.2h0M267.4 370.4h0M287.5 331.0h0M285.1 336.3h0M289.9 335.7h0M282.4 347.4h0M297.5 323.1h0M269.8 367.9h0M290.0 321.6h0M281.8 344.0h0M295.2 329.0h0M281.6 350.6h0M280.2 343.8h0M280.5 366.3h0M288.0 334.8h0M289.6 326.9h0M279.6 358.2h0M271.0 367.4h0M274.5 353.4h0M284.6 348.4h0M293.1 325.4h0M303.0 312.0h0M292.5 319.4h0M281.8 351.1h0M276.2 355.8h0M279.9 347.9h0M278.7 359.4h0M295.6 319.7h0M279.2 360.7h0M296.5 314.4h0M288.3 336.1h0M300.6 308.9h0M290.5 335.9h0M269.1 367.2h0M273.5 367.2h0M278.8 363.0h0M281.1 357.7h0M289.1 337.6h0M301.3 308.8h0M286.0 339.4h0M295.4 312.2h0M298.0 317.9h0M297.8 317.4h0M298.4 309.5h0M293.7 319.4h0M280.3 344.2h0M275.9 347.2h0M275.8 358.8h0M273.3 369.0h0M277.0 365.0h0M271.9 368.8h0M293.9 333.5h0M273.8 360.1h0M280.8 356.7h0M273.9 360.1h0M279.8 361.0h0M296.1 318.5h0M285.6 355.0h0M292.6 335.9h0M285.4 340.1h0M294.4 319.5h0M286.6 337.2h0M291.6 328.7h0M269.7 372.6h0M294.6 325.1h0M271.9 362.0h0M297.4 315.1h0M295.6 330.1h0M281.2 362.5h0M277.5 373.4h0M269.2 367.3h0M288.0 324.9h0M299.8 309.6h0M294.9 315.9h0M294.1 312.1h0M291.8 317.9h0M280.7 362.0h0M279.4 351.5h0M288.2 341.2h0M285.3 348.3h0M291.8 341.5h0M297.9 317.7h0M289.9 325.3h0M290.9 334.8h0M292.5 319.6h0M286.5 331.4h0M279.4 352.4h0M285.1 346.1h0M291.9 324.0h0M299.0 310.3h0M291.5 317.8h0M270.5 363.2h0M274.0 360.5h0M297.1 317.2h0M272.4 362.0h0M280.6 345.1h0M287.6 338.2h0M296.2 321.7h0M280.1 344.8h0M287.7 345.6h0M291.6 328.6h0M268.6 372.0h0M274.2 365.6h0M290.5 338.4h0M278.7 362.0h0M297.1 313.0h0M279.7 363.1h0M299.4 307.7h0M282.0 359.3h0M287.8 330.7h0M290.9 334.0h0M286.4 350.3h0M283.5 364.4h0M280.3 363.5h0M285.2 335.1h0M303.0 312.6h0M278.6 364.5h0M285.7 353.1h0M294.5 317.6h0M284.6 335.9h0M303.8 307.6h0M288.0 328.7h0M282.3 346.8h0M291.9 319.3h0M275.3 363.0h0M284.3 334.5h0M286.3 334.6h0M286.4 329.8h0M299.3 309.4h0M283.1 341.0h0M294.8 322.3h0M293.2 339.9h0M280.9 345.0h0M291.5 334.7h0M289.2 343.5h0M276.4 350.9h0M291.3 323.9h0M291.2 322.7h0M274.1 364.3h0M286.7 338.8h0M284.9 337.3h0M279.3 351.9h0M302.5 312.5h0M293.2 328.2h0M282.4 357.6h0M294.4 334.6h0M276.7 364.4h0M296.0 309.9h0M277.9 350.6h0M299.3 313.5h0M285.6 333.4h0M278.2 371.1h0M304.0 311.0h0M281.8 340.8h0M297.5 313.4h0M293.8 317.1h0M301.8 314.5h0M280.0 358.9h0M270.4 369.7h0M292.6 324.3h0M288.0 325.1h0M296.1 326.3h0M275.9 357.5h0M289.9 325.3h0M294.7 328.3h0M285.6 347.4h0M274.9 357.1h0M299.3 311.5h0M283.3 366.8h0M284.4 342.9h0M286.9 332.5h0M283.9 355.6h0M291.7 322.4h0M281.2 353.7h0M299.2 307.6h0M286.2 341.5h0M284.8 339.0h0M288.3 335.3h0M295.5 320.7h0M290.0 338.6h0M295.4 309.9h0M290.8 320.9h0M287.3 342.9h0M297.2 320.4h0M280.3 357.6h0M280.8 339.1h0M291.6 334.3h0M274.2 360.5h0M283.7 343.3h0M285.5 354.8h0M289.6 334.5h0M292.8 320.1h0M270.8 370.2h0M289.7 331.1h0M280.4 366.9h0M274.5 361.0h0M299.6 317.6h0M271.4 368.9h0M297.2 308.7h0M289.6 339.7h0M287.8 341.9h0M269.6 370.5h0M280.5 346.1h0M283.7 344.0h0M296.7 321.9h0M274.7 357.0h0M290.3 341.5h0M281.9 348.0h0M270.9 370.4h0M286.1 329.2h0M298.6 315.4h0M295.0 314.0h0M287.6 346.9h0M276.5 358.0h0M274.1 361.6h0M277.0 358.1h0M302.5 307.2h0M293.8 315.5h0M290.6 326.6h0M275.5 354.0h0M289.5 346.1h0M289.8 325.0h0M297.8 310.8h0M296.0 321.8h0M279.5 350.8h0M279.0 367.3h0M284.6 337.7h0M281.0 346.0h0M285.4 332.8h0M279.2 351.5h0M289.7 325.6h0M294.6 324.4h0M283.2 353.6h0M282.6 345.2h0M277.7 352.8h0M274.9 358.0h0M291.8 334.7h0M296.8 308.4h0M278.3 358.0h0M296.6 328.2h0M286.0 330.4h0M283.8 343.8h0M281.5 350.4h0M275.2 353.6h0M279.4 361.4h0M273.8 356.4h0M278.0 362.5h0M292.3 325.9h0M281.3 346.2h0M273.1 368.7h0M288.7 333.4h0M279.4 350.6h0M297.8 313.7h0M281.9 354.9h0M295.9 331.5h0M284.8 348.1h0M290.3 330.7h0M282.3 344.9h0M297.9 314.5h0M295.6 312.6h0M279.9 351.7h0M297.5 308.3h0M289.7 327.3h0M271.1 373.5h0M288.2 339.4h0M287.0 335.9h0M297.3 308.8h0M298.0 361.3h0M291.7 362.5h0M296.4 348.4h0M303.7 338.5h0M287.8 368.2h0M291.4 356.0h0M286.6 360.4h0M294.6 346.4h0M284.5 365.3h0M285.1 362.1h0M287.3 355.1h0M280.7 371.7h0M288.5 370.3h0M284.8 369.9h0M294.2 345.6h0M294.4 368.1h0M291.8 342.0h0M287.4 364.7h0M293.6 344.7h0M291.1 347.7h0M291.8 347.7h0M293.0 361.7h0M302.2 343.0h0M290.7 353.1h0M295.3 348.0h0M301.1 343.4h0M284.1 369.4h0M290.3 349.4h0M282.0 367.2h0M305.4 352.5h0M293.7 338.3h0M292.3 348.7h0M291.3 350.8h0M312.3 339.6h0M288.0 372.2h0M281.3 369.7h0M291.7 363.5h0M293.9 337.4h0M284.1 361.9h0M291.1 354.0h0M286.9 360.3h0M302.0 344.5h0M286.5 363.6h0M297.1 351.3h0M296.1 337.9h0M341.1 307.3h0M306.4 308.4h0M308.0 289.0h0M312.6 290.0h0M327.5 291.7h0M299.5 304.8h0M332.6 288.6h0M314.0 292.3h0M311.1 309.7h0M313.1 300.5h0M301.1 292.3h0M316.1 293.7h0M302.6 302.9h0M361.9 281.1h0M309.6 296.6h0M322.7 305.0h0M348.7 294.1h0M331.6 294.1h0M338.6 298.7h0M357.8 294.6h0M352.7 282.5h0M350.6 291.9h0M343.2 292.3h0M307.7 302.0h0M304.8 298.5h0M345.1 289.3h0M316.2 301.4h0M310.1 302.7h0M359.2 280.2h0M349.0 291.2h0M347.7 292.9h0M348.5 300.0h0M350.1 289.1h0M303.8 328.9h0M358.6 300.2h0M312.5 294.4h0M355.8 280.2h0M311.1 300.6h0M321.1 306.6h0M349.0 283.3h0M319.6 304.0h0M314.3 306.6h0M355.5 292.1h0M317.7 296.6h0M344.3 289.7h0M331.3 283.1h0M340.2 292.1h0M306.2 301.1h0M318.7 300.4h0M328.4 296.1h0M322.0 302.7h0M358.7 281.1h0M309.8 297.6h0M345.1 297.5h0M304.2 297.1h0M359.5 290.5h0M310.7 312.8h0M308.2 296.6h0M313.9 309.6h0M316.9 317.4h0M308.5 318.3h0M306.5 285.5h0M337.1 302.7h0M310.2 294.6h0M335.9 282.8h0M336.7 304.7h0M328.6 300.1h0M350.8 293.1h0M340.8 304.9h0M323.1 294.7h0M320.8 297.4h0M333.0 284.7h0M329.2 285.4h0M324.8 295.3h0M334.4 310.4h0M306.7 314.5h0M326.2 284.2h0M316.4 300.8h0M344.0 284.9h0M352.9 291.6h0M305.2 295.7h0M311.5 302.6h0M351.0 302.6h0M350.3 306.8h0M348.1 317.4h0M301.8 309.1h0M353.1 292.5h0M348.8 297.8h0M325.3 313.0h0M309.2 306.6h0M314.3 302.9h0M331.8 298.2h0M347.4 298.1h0M348.3 291.7h0M352.0 290.0h0M355.5 300.6h0M348.0 287.7h0M303.8 299.6h0M300.4 317.6h0M350.6 278.4h0M304.7 302.0h0M351.6 284.2h0M335.9 292.2h0M361.2 291.3h0M309.9 313.9h0M343.4 304.9h0M309.3 307.1h0M299.3 317.4h0M318.0 304.1h0M314.2 290.7h0M335.0 296.7h0M305.3 309.6h0M341.1 297.7h0M304.6 304.4h0M358.0 295.9h0M309.3 307.7h0M361.7 294.1h0M319.3 311.4h0M316.2 304.0h0M336.9 292.1h0M323.4 294.5h0M325.5 304.8h0M328.7 289.7h0M341.7 296.0h0M311.6 307.7h0M303.6 300.3h0M324.9 285.7h0M346.7 278.8h0M361.1 281.8h0M361.1 284.4h0M320.4 345.7h0M322.2 349.9h0M342.1 347.9h0M405.5 287.4h0M409.1 285.9h0M431.7 329.2h0M309.6 371.6h0M351.2 292.4h0M353.0 296.4h0M358.4 289.4h0M295.1 373.0h0M289.6 373.5h0M312.3 322.3h0M316.8 316.3h0M325.9 323.2h0M330.4 320.3h0M336.7 318.3h0M307.8 329.2h0M303.2 335.2h0" stroke="#6495f5" stroke-width="3.8" stroke-linecap="round"/>
<path d="M265.2 357.0L434.0 228.9" stroke="#5b8ff5" stroke-width="1.2"/>
<path d="M259.1 345.2h2.2M259.1 305.3h2.2M259.1 265.5h2.2M259.1 225.6h2.2" stroke="#3b3636" stroke-width="1"/>
<text x="257.9" y="348.1" font-size="8.2" text-anchor="end" fill="#4a4a4a">4</text>
<text x="257.9" y="308.3" font-size="8.2" text-anchor="end" fill="#4a4a4a">8</text>
<text x="257.9" y="268.4" font-size="8.2" text-anchor="end" fill="#4a4a4a">12</text>
<text x="257.9" y="228.6" font-size="8.2" text-anchor="end" fill="#4a4a4a">16</text>
<path d="M262.5 384v2.2M307.8 384v2.2M353 384v2.2M398.2 384v2.2" stroke="#3b3636" stroke-width="1"/>
<text x="262.5" y="394" font-size="8.2" text-anchor="middle" fill="#4a4a4a">0.0</text>
<text x="307.8" y="394" font-size="8.2" text-anchor="middle" fill="#4a4a4a">0.5</text>
<text x="353" y="394" font-size="8.2" text-anchor="middle" fill="#4a4a4a">1.0</text>
<text x="398.2" y="394" font-size="8.2" text-anchor="middle" fill="#4a4a4a">1.5</text>
<text x="353.8" y="405.3" font-size="9.9" text-anchor="middle" fill="#222">Sequencing Data (Gb)</text>
<text transform="translate(246.2 292.5) rotate(-90)" font-size="9.9" text-anchor="middle" fill="#222">Genome coverage (%)</text>
<text x="473.8" y="202.1" font-size="12" font-weight="bold" fill="#000">d</text>
<rect x="499" y="210.2" width="183.6" height="174.6" fill="none" stroke="#3b3636" stroke-width="1.2"/>
<path d="M510.30 376.90H514.22V374.26H510.30ZM514.22 376.90H518.14V371.62H514.22ZM518.14 376.90H522.07V366.34H518.14ZM522.07 376.90H525.99V376.90H522.07ZM525.99 376.90H529.91V376.90H525.99ZM529.91 376.90H533.84V374.26H529.91ZM533.84 376.90H537.76V371.62H533.84ZM537.76 376.90H541.68V374.26H537.76ZM541.68 376.90H545.60V376.90H541.68ZM545.60 376.90H549.52V374.26H545.60ZM549.52 376.90H553.45V366.34H549.52ZM553.45 376.90H557.37V361.06H553.45ZM557.37 376.90H561.29V353.14H557.37ZM561.29 376.90H565.22V337.30H561.29ZM565.22 376.90H569.14V345.22H565.22ZM569.14 376.90H573.06V347.86H569.14ZM573.06 376.90H576.98V334.66H573.06ZM576.98 376.90H580.90V329.38H576.98ZM580.90 376.90H584.83V342.58H580.90ZM584.83 376.90H588.75V308.26H584.83ZM588.75 376.90H592.67V308.26H588.75ZM592.67 376.90H596.60V234.34H592.67ZM596.60 376.90H600.52V236.98H596.60ZM600.52 376.90H604.44V218.50H600.52ZM604.44 376.90H608.36V239.62H604.44ZM608.36 376.90H612.29V226.42H608.36ZM612.29 376.90H616.21V244.90H612.29ZM616.21 376.90H620.13V250.18H616.21ZM620.13 376.90H624.05V289.78H620.13ZM624.05 376.90H627.98V300.34H624.05ZM627.98 376.90H631.90V310.90H627.98ZM631.90 376.90H635.82V337.30H631.90ZM635.82 376.90H639.74V345.22H635.82ZM639.74 376.90H643.67V363.70H639.74ZM643.67 376.90H647.59V366.34H643.67ZM647.59 376.90H651.51V366.34H647.59ZM651.51 376.90H655.43V371.62H651.51ZM655.43 376.90H659.36V371.62H655.43ZM659.36 376.90H663.28V366.34H659.36ZM663.28 376.90H667.20V374.26H663.28Z" fill="#ff9f9f" stroke="#999" stroke-width="0.6"/>
<path d="M603.2 210.2V384.2" stroke="#ff0000" stroke-width="1.8" stroke-dasharray="5.8 6" stroke-dashoffset="9.3"/>
<path d="M605.0 210.2V384.2" stroke="#0000ff" stroke-width="1.8" stroke-dasharray="5.8 6" stroke-dashoffset="9.3"/>
<text x="615" y="226.3" font-size="8.8" fill="#ff0000">Mean=1871</text>
<text x="615" y="237" font-size="8.8" fill="#0000ff">Median=1896</text>
<path d="M496.8 376.9h2.2M496.8 324.1h2.2M496.8 271.3h2.2M496.8 218.5h2.2" stroke="#3b3636" stroke-width="1"/>
<text x="495.6" y="379.9" font-size="8.2" text-anchor="end" fill="#4a4a4a">0</text>
<text x="495.6" y="327.1" font-size="8.2" text-anchor="end" fill="#4a4a4a">20</text>
<text x="495.6" y="274.3" font-size="8.2" text-anchor="end" fill="#4a4a4a">40</text>
<text x="495.6" y="221.5" font-size="8.2" text-anchor="end" fill="#4a4a4a">60</text>
<path d="M533 384.8v2.2M573.9 384.8v2.2M614.8 384.8v2.2M655.7 384.8v2.2" stroke="#3b3636" stroke-width="1"/>
<text x="533" y="394.8" font-size="8.2" text-anchor="middle" fill="#4a4a4a">1000</text>
<text x="573.9" y="394.8" font-size="8.2" text-anchor="middle" fill="#4a4a4a">1500</text>
<text x="614.8" y="394.8" font-size="8.2" text-anchor="middle" fill="#4a4a4a">2000</text>
<text x="655.7" y="394.8" font-size="8.2" text-anchor="middle" fill="#4a4a4a">2500</text>
<text x="599.2" y="406.3" font-size="9.9" text-anchor="middle" fill="#222">Average read length</text>
<text transform="translate(483.5 292.9) rotate(-90)" font-size="9.9" text-anchor="middle" fill="#222">Cell counts</text>
<text x="2.6" y="417.1" font-size="12" font-weight="bold" fill="#000">e</text>
<rect x="23.2" y="420.3" width="173" height="173.4" fill="none" stroke="#3b3636" stroke-width="1.2"/>
<path d="M32.3 583.7C33.8 582.7 38.2 582.4 41.0 577.9C43.8 573.4 46.5 563.1 48.9 556.9C51.3 550.7 53.5 544.3 55.5 540.6C57.5 536.9 59.2 536.3 61.0 534.6C62.8 532.9 63.6 534.3 66.0 530.6C68.4 526.9 72.1 519.0 75.2 512.2C78.3 505.4 81.6 495.6 84.4 489.9C87.2 484.2 89.9 482.7 92.3 478.1C94.7 473.5 96.8 468.4 98.8 462.3C100.8 456.2 102.3 447.0 104.1 441.3C105.8 435.6 107.8 429.9 109.3 428.1C110.8 426.4 111.8 426.4 113.3 430.8C114.8 435.2 116.8 443.9 118.5 454.4C120.2 464.9 121.8 479.4 123.8 493.8C125.8 508.2 128.4 530.1 130.4 541.1C132.4 552.1 134.1 555.9 135.6 559.5C137.1 563.1 137.3 563.1 139.5 562.7C141.7 562.3 145.9 558.7 148.7 556.9C151.5 555.1 154.1 552.9 156.5 551.8C158.9 550.7 161.0 549.9 163.2 550.3C165.4 550.7 167.4 551.0 169.8 554.3C172.2 557.6 175.2 565.8 177.6 570.0C180.0 574.2 182.0 577.3 184.0 579.5C186.0 581.7 188.6 582.6 189.5 583.2L189.5 584.4L32.3 584.4Z" fill="#ffd27d"/>
<path d="M32.3 583.7C33.8 582.7 38.2 582.4 41.0 577.9C43.8 573.4 46.5 563.1 48.9 556.9C51.3 550.7 53.5 544.3 55.5 540.6C57.5 536.9 59.2 536.3 61.0 534.6C62.8 532.9 63.6 534.3 66.0 530.6C68.4 526.9 72.1 519.0 75.2 512.2C78.3 505.4 81.6 495.6 84.4 489.9C87.2 484.2 89.9 482.7 92.3 478.1C94.7 473.5 96.8 468.4 98.8 462.3C100.8 456.2 102.3 447.0 104.1 441.3C105.8 435.6 107.8 429.9 109.3 428.1C110.8 426.4 111.8 426.4 113.3 430.8C114.8 435.2 116.8 443.9 118.5 454.4C120.2 464.9 121.8 479.4 123.8 493.8C125.8 508.2 128.4 530.1 130.4 541.1C132.4 552.1 134.1 555.9 135.6 559.5C137.1 563.1 137.3 563.1 139.5 562.7C141.7 562.3 145.9 558.7 148.7 556.9C151.5 555.1 154.1 552.9 156.5 551.8C158.9 550.7 161.0 549.9 163.2 550.3C165.4 550.7 167.4 551.0 169.8 554.3C172.2 557.6 175.2 565.8 177.6 570.0C180.0 574.2 182.0 577.3 184.0 579.5C186.0 581.7 188.6 582.6 189.5 583.2" fill="none" stroke="#ffa500" stroke-width="1.5"/>
<path d="M104.6 421V593" stroke="#1a1aff" stroke-width="1.8" stroke-dasharray="4.6 3"/>
<text x="110.6" y="472.4" font-size="7.65" fill="#1a1aff">Mean=253,000</text>
<path d="M21 584.7h2.2M21 533.5h2.2M21 482.3h2.2M21 431.1h2.2" stroke="#3b3636" stroke-width="1"/>
<text x="19.8" y="587.7" font-size="8.2" text-anchor="end" fill="#4a4a4a">0</text>
<text x="19.8" y="536.5" font-size="8.2" text-anchor="end" fill="#4a4a4a">8</text>
<text x="19.8" y="485.3" font-size="8.2" text-anchor="end" fill="#4a4a4a">16</text>
<text x="19.8" y="434.1" font-size="8.2" text-anchor="end" fill="#4a4a4a">24</text>
<path d="M67.2 593.7v2.2M102.1 593.7v2.2M137 593.7v2.2M171.9 593.7v2.2" stroke="#3b3636" stroke-width="1"/>
<text x="67.2" y="603.7" font-size="8.2" text-anchor="middle" fill="#4a4a4a">1</text>
<text x="102.1" y="603.7" font-size="8.2" text-anchor="middle" fill="#4a4a4a">2</text>
<text x="137" y="603.7" font-size="8.2" text-anchor="middle" fill="#4a4a4a">3</text>
<text x="171.9" y="603.7" font-size="8.2" text-anchor="middle" fill="#4a4a4a">4</text>
<text x="118.2" y="616" font-size="9.9" text-anchor="middle" fill="#222">Number of SNPs (×10<tspan font-size="6" dy="-3.2">5</tspan><tspan dy="3.2">)</tspan></text>
<text transform="translate(8.6 503) rotate(-90)" font-size="9.9" text-anchor="middle" fill="#222">Cell counts</text>
<text x="237.9" y="416.9" font-size="12" font-weight="bold" fill="#000">f</text>
<rect x="259.9" y="420.3" width="178.1" height="173.9" fill="none" stroke="#3b3636" stroke-width="1.2"/>
<path d="M268.0 586.0h0M268.2 585.8h0M268.5 585.5h0M268.7 585.4h0M268.9 585.2h0M269.2 585.1h0M269.4 584.9h0M269.6 584.8h0M269.8 584.8h0M270.1 584.7h0M270.3 584.6h0M270.5 584.6h0M270.8 584.5h0M271.0 584.5h0M271.2 584.4h0M271.5 584.4h0M271.7 584.4h0M271.9 584.4h0M272.2 584.3h0M272.4 584.3h0M272.6 584.3h0M272.9 584.3h0M273.1 584.3h0M273.3 584.3h0M273.5 584.2h0M273.8 584.2h0M274.0 584.2h0M274.2 584.2h0M274.5 584.2h0M274.7 584.2h0M274.9 584.2h0M275.2 584.2h0M275.4 584.2h0M275.6 584.1h0M275.9 584.1h0M276.1 584.1h0M276.3 584.1h0M276.5 584.1h0M276.8 584.1h0M277.0 584.1h0M277.2 584.1h0M277.5 584.1h0M277.7 584.1h0M277.9 584.0h0M278.2 584.0h0M278.4 584.0h0M278.6 584.0h0M278.9 584.0h0M279.1 584.0h0M279.3 584.0h0M279.6 584.0h0M279.8 584.0h0M280.0 584.0h0M280.2 584.0h0M280.5 583.9h0M280.7 583.9h0M280.9 583.9h0M281.2 583.9h0M281.4 583.9h0M281.6 583.9h0M281.9 583.9h0M282.1 583.9h0M282.3 583.9h0M282.6 583.9h0M282.8 583.8h0M283.0 583.8h0M283.2 583.8h0M283.5 583.8h0M283.7 583.8h0M283.9 583.8h0M284.2 583.8h0M284.4 583.8h0M284.6 583.8h0M284.9 583.8h0M285.1 583.7h0M285.3 583.7h0M285.6 583.7h0M285.8 583.7h0M286.0 583.7h0M286.2 583.7h0M286.5 583.7h0M286.7 583.7h0M286.9 583.7h0M287.2 583.6h0M287.4 583.6h0M287.6 583.6h0M287.9 583.6h0M288.1 583.6h0M288.3 583.6h0M288.6 583.6h0M288.8 583.6h0M289.0 583.6h0M289.3 583.5h0M289.5 583.5h0M289.7 583.5h0M289.9 583.5h0M290.2 583.5h0M290.4 583.5h0M290.6 583.5h0M290.9 583.5h0M291.1 583.5h0M291.3 583.4h0M291.6 583.4h0M291.8 583.4h0M292.0 583.4h0M292.3 583.4h0M292.5 583.4h0M292.7 583.4h0M292.9 583.4h0M293.2 583.4h0M293.4 583.3h0M293.6 583.3h0M293.9 583.3h0M294.1 583.3h0M294.3 583.3h0M294.6 583.3h0M294.8 583.3h0M295.0 583.3h0M295.3 583.3h0M295.5 583.2h0M295.7 583.2h0M296.0 583.2h0M296.2 583.2h0M296.4 583.2h0M296.6 583.2h0M296.9 583.2h0M297.1 583.2h0M297.3 583.1h0M297.6 583.1h0M297.8 583.1h0M298.0 583.1h0M298.3 583.1h0M298.5 583.1h0M298.7 583.1h0M299.0 583.1h0M299.2 583.0h0M299.4 583.0h0M299.6 583.0h0M299.9 583.0h0M300.1 583.0h0M300.3 583.0h0M300.6 583.0h0M300.8 583.0h0M301.0 583.0h0M301.3 582.9h0M301.5 582.9h0M301.7 582.9h0M302.0 582.9h0M302.2 582.9h0M302.4 582.9h0M302.6 582.9h0M302.9 582.9h0M303.1 582.8h0M303.3 582.8h0M303.6 582.8h0M303.8 582.8h0M304.0 582.8h0M304.3 582.8h0M304.5 582.8h0M304.7 582.8h0M305.0 582.7h0M305.2 582.7h0M305.4 582.7h0M305.7 582.7h0M305.9 582.7h0M306.1 582.7h0M306.3 582.7h0M306.6 582.6h0M306.8 582.6h0M307.0 582.6h0M307.3 582.6h0M307.5 582.6h0M307.7 582.6h0M308.0 582.6h0M308.2 582.6h0M308.4 582.5h0M308.7 582.5h0M308.9 582.5h0M309.1 582.5h0M309.3 582.5h0M309.6 582.5h0M309.8 582.5h0M310.0 582.5h0M310.3 582.4h0M310.5 582.4h0M310.7 582.4h0M311.0 582.4h0M311.2 582.4h0M311.4 582.4h0M311.7 582.4h0M311.9 582.4h0M312.1 582.3h0M312.4 582.3h0M312.6 582.3h0M312.8 582.3h0M313.0 582.3h0M313.3 582.3h0M313.5 582.3h0M313.7 582.2h0M314.0 582.2h0M314.2 582.2h0M314.4 582.2h0M314.7 582.2h0M314.9 582.2h0M315.1 582.2h0M315.4 582.2h0M315.6 582.1h0M315.8 582.1h0M316.0 582.1h0M316.3 582.1h0M316.5 582.1h0M316.7 582.1h0M317.0 582.1h0M317.2 582.0h0M317.4 582.0h0M317.7 582.0h0M317.9 582.0h0M318.1 582.0h0M318.4 582.0h0M318.6 582.0h0M318.8 581.9h0M319.1 581.9h0M319.3 581.9h0M319.5 581.9h0M319.7 581.9h0M320.0 581.9h0M320.2 581.9h0M320.4 581.8h0M320.7 581.8h0M320.9 581.8h0M321.1 581.8h0M321.4 581.8h0M321.6 581.8h0M321.8 581.8h0M322.1 581.8h0M322.3 581.7h0M322.5 581.7h0M322.7 581.7h0M323.0 581.7h0M323.2 581.7h0M323.4 581.7h0M323.7 581.7h0M323.9 581.6h0M324.1 581.6h0M324.4 581.6h0M324.6 581.6h0M324.8 581.6h0M325.1 581.6h0M325.3 581.6h0M325.5 581.5h0M325.8 581.5h0M326.0 581.5h0M326.2 581.5h0M326.4 581.5h0M326.7 581.5h0M326.9 581.5h0M327.1 581.4h0M327.4 581.4h0M327.6 581.4h0M327.8 581.4h0M328.1 581.4h0M328.3 581.4h0M328.5 581.4h0M328.8 581.3h0M329.0 581.3h0M329.2 581.3h0M329.4 581.3h0M329.7 581.3h0M329.9 581.3h0M330.1 581.3h0M330.4 581.2h0M330.6 581.2h0M330.8 581.2h0M331.1 581.2h0M331.3 581.2h0M331.5 581.2h0M331.8 581.2h0M332.0 581.1h0M332.2 581.1h0M332.4 581.1h0M332.7 581.1h0M332.9 581.1h0M333.1 581.1h0M333.4 581.1h0M333.6 581.0h0M333.8 581.0h0M334.1 581.0h0M334.3 581.0h0M334.5 581.0h0M334.8 581.0h0M335.0 581.0h0M335.2 580.9h0M335.5 580.9h0M335.7 580.9h0M335.9 580.9h0M336.1 580.9h0M336.4 580.9h0M336.6 580.8h0M336.8 580.8h0M337.1 580.8h0M337.3 580.8h0M337.5 580.8h0M337.8 580.8h0M338.0 580.8h0M338.2 580.7h0M338.5 580.7h0M338.7 580.7h0M338.9 580.7h0M339.1 580.7h0M339.4 580.7h0M339.6 580.7h0M339.8 580.6h0M340.1 580.6h0M340.3 580.6h0M340.5 580.6h0M340.8 580.6h0M341.0 580.6h0M341.2 580.5h0M341.5 580.5h0M341.7 580.5h0M341.9 580.5h0M342.2 580.5h0M342.4 580.5h0M342.6 580.5h0M342.8 580.4h0M343.1 580.4h0M343.3 580.4h0M343.5 580.4h0M343.8 580.4h0M344.0 580.4h0M344.2 580.4h0M344.5 580.3h0M344.7 580.3h0M344.9 580.3h0M345.2 580.3h0M345.4 580.3h0M345.6 580.3h0M345.8 580.2h0M346.1 580.2h0M346.3 580.2h0M346.5 580.2h0M346.8 580.2h0M347.0 580.2h0M347.2 580.2h0M347.5 580.1h0M347.7 580.1h0M347.9 580.1h0M348.2 580.1h0M348.4 580.1h0M348.6 580.1h0M348.9 580.0h0M349.1 580.0h0M349.3 580.0h0M349.5 580.0h0M349.8 580.0h0M350.0 580.0h0M350.2 580.0h0M350.5 579.9h0M350.7 579.9h0M350.9 579.9h0M351.2 579.9h0M351.4 579.9h0M351.6 579.9h0M351.9 579.8h0M352.1 579.8h0M352.3 579.8h0M352.5 579.8h0M352.8 579.8h0M353.0 579.8h0M353.2 579.8h0M353.5 579.7h0M353.7 579.7h0M353.9 579.7h0M354.2 579.7h0M354.4 579.7h0M354.6 579.7h0M354.9 579.6h0M355.1 579.6h0M355.3 579.6h0M355.5 579.6h0M355.8 579.6h0M356.0 579.6h0M356.2 579.5h0M356.5 579.5h0M356.7 579.5h0M356.9 579.5h0M357.2 579.5h0M357.4 579.5h0M357.6 579.5h0M357.9 579.4h0M358.1 579.4h0M358.3 579.4h0M358.6 579.4h0M358.8 579.4h0M359.0 579.4h0M359.2 579.3h0M359.5 579.3h0M359.7 579.3h0M359.9 579.3h0M360.2 579.3h0M360.4 579.3h0M360.6 579.2h0M360.9 579.2h0M361.1 579.2h0M361.3 579.2h0M361.6 579.2h0M361.8 579.2h0M362.0 579.2h0M362.2 579.1h0M362.5 579.1h0M362.7 579.1h0M362.9 579.1h0M363.2 579.1h0M363.4 579.1h0M363.6 579.0h0M363.9 579.0h0M364.1 579.0h0M364.3 579.0h0M364.6 579.0h0M364.8 579.0h0M365.0 578.9h0M365.3 578.9h0M365.5 578.9h0M365.7 578.9h0M365.9 578.9h0M366.2 578.9h0M366.4 578.8h0M366.6 578.8h0M366.9 578.8h0M367.1 578.8h0M367.3 578.8h0M367.6 578.8h0M367.8 578.7h0M368.0 578.7h0M368.3 578.7h0M368.5 578.7h0M368.7 578.7h0M368.9 578.7h0M369.2 578.7h0M369.4 578.6h0M369.6 578.6h0M369.9 578.6h0M370.1 578.6h0M370.3 578.6h0M370.6 578.6h0M370.8 578.5h0M371.0 578.5h0M371.3 578.5h0M371.5 578.5h0M371.7 578.5h0M371.9 578.5h0M372.2 578.4h0M372.4 578.4h0M372.6 578.4h0M372.9 578.4h0M373.1 578.4h0M373.3 578.4h0M373.6 578.3h0M373.8 578.3h0M374.0 578.3h0M374.3 578.3h0M374.5 578.3h0M374.7 578.3h0M375.0 578.2h0M375.2 578.2h0M375.4 578.2h0M375.6 578.2h0M375.9 578.2h0M376.1 578.2h0M376.3 578.1h0M376.6 578.1h0M376.8 578.1h0M377.0 578.1h0M377.3 578.1h0M377.5 578.1h0M377.7 578.0h0M378.0 578.0h0M378.2 578.0h0M378.4 578.0h0M378.6 578.0h0M378.9 578.0h0M379.1 577.9h0M379.3 577.9h0M379.6 577.9h0M379.8 577.9h0M380.0 577.9h0M380.3 577.9h0M380.5 577.8h0M380.7 577.8h0M381.0 577.8h0M381.2 577.8h0M381.4 577.8h0M381.7 577.8h0M381.9 577.7h0M382.1 577.7h0M382.3 577.7h0M382.6 577.7h0M382.8 577.7h0M383.0 577.7h0M383.3 577.6h0M383.5 577.6h0M383.7 577.6h0M384.0 577.6h0M384.2 577.6h0M384.4 577.6h0M384.7 577.5h0M384.9 577.5h0M385.1 577.5h0M385.3 577.5h0M385.6 577.5h0M385.8 577.5h0M386.0 577.4h0M386.3 577.4h0M386.5 577.4h0M386.7 577.4h0M387.0 577.4h0M387.2 577.4h0M387.4 577.3h0M387.7 577.3h0M387.9 577.3h0M388.1 577.3h0M388.4 577.3h0M388.6 577.3h0M388.8 577.2h0M389.0 577.2h0M389.3 577.2h0M389.5 577.2h0M389.7 577.2h0M390.0 577.1h0M390.2 577.1h0M390.4 577.1h0M390.7 577.1h0M390.9 577.1h0M391.1 577.1h0M391.4 577.0h0M391.6 577.0h0M391.8 577.0h0M392.0 577.0h0M392.3 577.0h0M392.5 577.0h0M392.7 576.9h0M393.0 576.9h0M393.2 576.9h0M393.4 576.9h0M393.7 576.9h0M393.9 576.9h0M394.1 576.8h0M394.4 576.8h0M394.6 576.8h0M394.8 576.8h0M395.1 576.8h0M395.3 576.8h0M395.5 576.7h0M395.7 576.7h0M396.0 576.7h0M396.2 576.7h0M396.4 576.7h0M396.7 576.7h0M396.9 576.6h0M397.1 576.6h0M397.4 576.6h0M397.6 576.6h0M397.8 576.6h0M398.1 576.5h0M398.3 576.5h0M398.5 576.5h0M398.7 576.5h0M399.0 576.5h0M399.2 576.5h0M399.4 576.4h0M399.7 576.4h0M399.9 576.4h0M400.1 576.4h0M400.4 576.4h0M400.6 576.4h0M400.8 576.3h0M401.1 576.3h0M401.3 576.3h0M401.5 576.3h0M401.7 576.3h0M402.0 576.3h0M402.2 576.2h0M402.4 576.2h0M402.7 576.2h0M402.9 576.2h0M403.1 576.2h0M403.4 576.1h0M403.6 576.1h0M403.8 576.1h0M404.1 576.1h0M404.3 576.1h0M404.5 576.1h0M404.8 576.0h0M405.0 576.0h0M405.2 576.0h0M405.4 576.0h0M405.7 576.0h0M405.9 576.0h0M406.1 575.9h0M406.4 575.9h0M406.6 575.9h0M406.8 575.9h0M407.1 575.9h0M407.3 575.8h0M407.5 575.8h0M407.8 575.8h0M408.0 575.8h0M408.2 575.8h0M408.4 575.8h0M408.7 575.7h0M408.9 575.7h0M409.1 575.7h0M409.4 575.7h0M409.6 575.7h0M409.8 575.6h0M410.1 575.6h0M410.3 575.6h0M410.5 575.6h0M410.8 575.6h0M411.0 575.5h0M411.2 575.5h0M411.5 575.5h0M411.7 575.5h0M411.9 575.5h0M412.1 575.4h0M412.4 575.4h0M412.6 575.4h0M412.8 575.4h0M413.1 575.3h0M413.3 575.3h0M413.5 575.3h0M413.8 575.3h0M414.0 575.2h0M414.2 575.2h0M414.5 575.2h0M414.7 575.2h0M414.9 575.1h0M415.1 575.1h0M415.4 575.1h0M415.6 575.0h0M415.8 575.0h0M416.1 575.0h0M416.3 574.9h0M416.5 574.9h0M416.8 574.9h0M417.0 574.8h0M417.2 574.8h0M417.5 574.7h0M417.7 574.7h0M417.9 574.6h0M418.1 574.6h0M418.4 574.5h0M418.6 574.4h0M418.8 574.4h0M419.1 574.3h0M419.3 574.2h0M419.5 574.1h0M419.8 574.0h0M420.0 573.9h0M420.2 573.8h0M420.5 573.7h0M420.7 573.6h0M420.9 573.4h0M421.2 573.3h0M421.4 573.1h0M421.6 573.0h0M421.8 572.8h0M422.1 572.6h0M422.3 572.4h0M422.5 572.1h0M422.8 571.9h0M423.0 571.6h0M423.2 571.3h0M423.5 571.0h0M423.7 570.6h0M423.9 570.2h0M424.2 569.8h0M424.4 569.3h0M424.6 568.8h0M424.8 568.3h0M425.1 567.7h0M425.3 567.0h0M425.5 566.4h0M425.8 565.6h0M426.0 564.8h0M426.2 563.9h0M426.5 562.9h0M426.7 561.8h0" stroke="#6495f5" stroke-width="4.4" stroke-linecap="round"/>
<path d="M426.5 420.3V593.8" stroke="#ff0000" stroke-width="1.25" stroke-dasharray="8.7 3.2 2.6 3.3"/>
<path d="M428.7 427.8h0M428.7 439.5h0M428.4 451.0h0M428.4 474.1h0M427.9 475.8h0M427.5 485.2h0M427.5 489.5h0M427.2 493.4h0M426.7 498.4h0M426.3 508.8h0M426.3 538.0h0M425.8 558.5h0" stroke="#c864c8" stroke-width="4.8" stroke-linecap="round"/>
<text x="422.6" y="430.1" font-size="6.4" text-anchor="end" fill="#222">D2</text>
<text x="422.6" y="441.8" font-size="6.4" text-anchor="end" fill="#222">D4</text>
<text x="422.6" y="451.9" font-size="6.4" text-anchor="end" fill="#222">D5</text>
<text x="422.6" y="473.5" font-size="6.4" text-anchor="end" fill="#222">D1</text>
<text x="422.6" y="478.6" font-size="6.4" text-anchor="end" fill="#222">D3</text>
<text x="422.6" y="486.1" font-size="6.4" text-anchor="end" fill="#222">D8</text>
<text x="422.6" y="490.9" font-size="6.4" text-anchor="end" fill="#222">D6</text>
<text x="422.6" y="496.6" font-size="6.4" text-anchor="end" fill="#222">D9</text>
<text x="422.6" y="502.6" font-size="6.4" text-anchor="end" fill="#222">D10</text>
<text x="422.6" y="512.3" font-size="6.4" text-anchor="end" fill="#222">D11</text>
<text x="422.6" y="542.3" font-size="6.4" text-anchor="end" fill="#222">D7</text>
<text x="422.6" y="559.8" font-size="6.4" text-anchor="end" fill="#222">D12</text>
<path d="M257.7 587.7h2.2M257.7 546h2.2M257.7 504.2h2.2M257.7 462.5h2.2M257.7 420.7h2.2" stroke="#3b3636" stroke-width="1"/>
<text x="256.5" y="590.7" font-size="8.2" text-anchor="end" fill="#4a4a4a">0</text>
<text x="256.5" y="548.9" font-size="8.2" text-anchor="end" fill="#4a4a4a">2.5</text>
<text x="256.5" y="507.2" font-size="8.2" text-anchor="end" fill="#4a4a4a">5</text>
<text x="256.5" y="465.4" font-size="8.2" text-anchor="end" fill="#4a4a4a">7.5</text>
<text x="256.5" y="423.7" font-size="8.2" text-anchor="end" fill="#4a4a4a">10</text>
<path d="M268 594.2v2.2M314.2 594.2v2.2M360.4 594.2v2.2M406.6 594.2v2.2" stroke="#3b3636" stroke-width="1"/>
<text x="268" y="604.2" font-size="8.2" text-anchor="middle" fill="#4a4a4a">0</text>
<text x="314.2" y="604.2" font-size="8.2" text-anchor="middle" fill="#4a4a4a">200</text>
<text x="360.4" y="604.2" font-size="8.2" text-anchor="middle" fill="#4a4a4a">400</text>
<text x="406.6" y="604.2" font-size="8.2" text-anchor="middle" fill="#4a4a4a">600</text>
<text x="353.5" y="616" font-size="9.9" text-anchor="middle" fill="#222">Cell counts</text>
<text transform="translate(242.3 502.4) rotate(-90)" font-size="9.9" text-anchor="middle" fill="#222">Non-continuity score (×10<tspan font-size="6" dy="-3.2">3</tspan><tspan dy="3.2">)</tspan></text>
<rect x="276.2" y="430.2" width="118.5" height="35.6" fill="#fff" stroke="#111" stroke-width="0.9"/>
<path d="M284.6 441.5h0" stroke="#6495f5" stroke-width="5.4" stroke-linecap="round"/>
<path d="M284.6 455.6h0" stroke="#c864c8" stroke-width="5.4" stroke-linecap="round"/>
<text x="289.9" y="444.4" font-size="8.3" fill="#222">Haploid sperms (688)</text>
<text x="289.9" y="458.5" font-size="8.3" fill="#222">Contaminated 2N cells (12)</text>
<text x="476.3" y="414.3" font-size="12" font-weight="bold" fill="#000">g</text>
<rect x="500.2" y="420" width="182.5" height="174.1" fill="none" stroke="#3b3636" stroke-width="1.2"/>
<path d="M507.7 570.5h0M507.8 579.5h0M508.7 523.8h0M506.8 550.4h0M510.0 577.0h0M508.3 528.9h0M508.1 555.2h0M508.9 557.0h0M509.4 539.0h0M508.9 577.9h0M508.9 570.6h0M508.3 530.5h0M508.5 522.1h0M508.5 575.2h0M509.0 581.9h0M509.4 575.2h0M508.2 554.9h0M511.0 563.3h0M509.4 564.1h0M510.9 581.0h0M509.4 544.0h0M508.3 532.1h0M509.0 540.4h0M509.1 558.8h0M510.2 542.6h0M508.8 540.9h0M509.2 541.3h0M507.9 551.4h0M508.7 581.5h0M508.5 523.4h0M508.8 523.1h0M507.1 570.1h0M508.0 522.6h0M509.7 524.9h0M509.7 534.0h0M510.8 568.1h0M510.7 543.0h0M507.9 543.6h0M507.3 528.6h0M508.6 567.7h0M509.3 524.2h0M507.1 579.7h0M509.5 559.3h0M509.2 578.0h0M507.7 555.3h0M510.5 541.1h0M508.6 526.8h0M509.3 531.1h0M507.7 531.9h0M506.0 525.0h0M509.9 546.8h0M508.7 536.5h0M507.4 549.8h0M507.9 547.7h0M510.7 524.0h0M509.5 552.1h0M509.1 566.6h0M508.4 579.9h0M507.7 528.5h0M507.6 548.5h0M509.8 540.0h0M510.2 549.6h0M510.6 581.5h0M508.8 549.7h0M507.3 551.2h0M508.9 539.8h0M508.4 545.0h0M509.1 582.3h0M510.0 552.5h0M508.5 542.6h0M509.4 569.7h0M509.2 574.9h0M507.8 569.3h0M510.0 564.4h0M508.0 544.2h0M507.5 565.0h0M508.6 569.0h0M509.8 564.1h0M508.2 561.6h0M510.9 557.4h0M509.9 537.3h0M508.9 563.0h0M507.2 561.5h0M509.2 570.7h0M508.1 567.0h0M509.9 572.5h0M507.8 575.1h0M510.2 564.0h0M511.0 553.6h0M508.5 554.3h0M509.7 579.2h0M510.3 551.1h0M508.3 566.6h0M507.5 532.5h0M509.0 562.6h0M507.6 547.7h0M507.7 560.8h0M507.7 565.9h0M509.3 548.9h0M508.9 561.7h0M509.1 560.5h0M510.1 524.6h0M508.2 525.3h0M508.9 530.1h0M508.6 533.8h0M509.3 524.2h0M507.9 559.3h0M509.0 558.0h0M508.9 522.0h0M510.7 546.7h0M508.6 529.0h0M509.7 572.7h0M508.6 559.4h0M509.0 527.8h0M508.0 557.4h0M508.6 580.5h0M509.2 571.6h0M507.9 561.2h0M508.5 558.4h0M509.2 556.4h0M511.1 559.1h0M508.2 543.4h0M508.8 528.6h0M508.8 556.5h0M508.4 560.4h0M508.5 576.4h0M508.1 535.8h0M509.5 539.8h0M509.7 580.6h0M508.6 577.7h0M508.2 581.8h0M508.4 552.3h0M508.1 582.0h0M509.2 552.0h0M508.6 529.4h0M509.8 559.9h0M508.1 569.7h0M509.1 572.4h0M509.9 538.7h0M508.9 579.1h0M508.9 538.3h0M508.1 531.4h0M509.5 559.1h0M508.7 551.0h0M508.0 567.4h0M507.8 529.2h0M508.8 554.5h0M508.0 542.5h0M508.5 550.3h0M509.9 544.0h0M508.8 524.2h0M507.6 537.4h0M506.9 576.2h0M509.4 555.3h0M510.4 548.1h0M508.9 557.1h0M508.5 551.4h0M507.6 577.6h0M508.1 574.0h0M509.4 534.0h0M508.3 526.0h0M510.4 573.0h0M508.5 539.5h0M507.9 569.6h0M509.2 551.2h0M508.5 555.5h0M508.0 531.4h0M508.8 557.7h0M508.9 536.0h0M508.5 572.0h0M509.1 523.6h0M507.5 566.1h0M512.0 564.8h0M508.4 525.0h0M509.1 561.4h0M508.3 580.1h0M508.7 539.8h0M508.3 578.0h0M509.5 547.3h0M509.8 531.8h0M508.6 528.6h0M508.6 545.1h0M509.1 557.1h0M508.9 567.3h0M509.1 548.3h0M508.5 541.2h0M508.0 579.3h0M508.2 544.8h0M510.1 531.2h0M509.3 560.5h0M506.8 555.8h0M508.7 559.9h0M508.7 537.5h0M509.9 567.8h0M508.3 536.3h0M508.7 544.6h0M508.8 565.5h0M508.2 562.0h0M509.9 527.6h0M509.5 529.6h0M508.2 575.5h0M508.4 551.3h0M508.1 523.8h0M510.2 566.2h0M509.3 580.1h0M509.0 563.5h0M508.9 581.3h0M509.2 562.6h0M509.0 560.1h0M508.4 543.6h0M508.9 559.4h0M509.6 543.3h0M508.4 572.7h0M509.1 561.5h0M509.1 573.9h0M507.9 553.6h0M507.8 567.1h0M508.2 546.1h0M509.0 534.3h0M508.9 524.4h0M509.6 568.4h0M508.1 522.0h0M506.9 559.8h0M509.2 548.1h0M508.4 531.4h0M508.9 531.7h0M508.2 575.7h0M509.4 531.3h0M508.8 531.9h0M509.5 539.5h0M508.9 484.7h0M509.9 513.7h0M507.2 506.1h0M510.5 505.6h0M506.4 487.5h0M509.2 505.4h0M508.4 507.4h0M510.2 489.0h0M508.9 491.2h0M509.0 486.2h0M506.6 495.5h0M510.4 493.8h0M508.0 507.5h0M509.0 507.0h0M509.2 505.5h0M509.4 514.3h0M508.2 515.4h0M508.0 483.9h0M510.4 497.0h0M509.4 485.2h0M505.9 500.6h0M507.9 495.1h0M509.1 512.9h0M509.0 499.7h0M509.1 491.6h0M508.7 485.3h0M508.5 492.0h0M509.0 496.9h0M508.7 484.9h0M509.1 515.3h0M509.3 496.8h0M509.9 501.0h0M509.5 487.2h0M509.2 501.3h0M510.0 511.5h0M508.2 490.7h0M510.0 499.5h0M508.9 502.3h0M507.8 507.3h0M509.8 513.4h0M508.4 510.6h0M509.8 491.0h0M509.4 486.5h0M509.4 508.8h0M509.2 487.9h0M508.0 486.4h0M508.8 497.6h0M509.2 502.5h0M508.8 506.5h0M509.2 485.3h0M509.1 495.8h0M509.6 486.9h0M508.0 508.2h0M509.2 501.8h0M510.0 508.4h0M507.9 502.4h0M507.1 505.0h0M509.5 514.7h0M508.6 492.4h0M507.3 510.1h0M508.4 485.8h0M509.2 489.2h0M508.7 493.0h0M510.3 485.8h0M508.9 484.6h0M507.5 485.3h0M509.4 511.6h0M509.5 514.5h0M508.2 497.6h0M508.3 495.5h0M508.7 502.7h0M508.9 510.6h0M508.7 500.9h0M508.4 489.3h0M508.5 514.2h0M507.7 509.5h0M509.4 513.4h0M509.4 498.7h0M507.8 508.6h0M509.2 514.1h0M510.0 427.7h0M509.6 477.4h0M514.6 501.7h0M512.6 553.6h0M513.3 577.7h0M509.5 481.0h0M510.5 484.0h0" stroke="#e01818" stroke-width="4.6" stroke-linecap="round"/>
<path d="M559.0 586.5h0M523.5 585.9h0M584.3 585.9h0M599.4 586.1h0M518.5 585.6h0M590.5 585.8h0M546.9 586.1h0M531.1 586.3h0M561.6 585.6h0M534.3 586.5h0M543.4 586.0h0M586.7 587.0h0M587.6 585.7h0M526.5 585.8h0M585.9 585.9h0M528.6 586.0h0M523.2 585.8h0M530.9 585.3h0M582.7 585.8h0M588.8 586.5h0M567.0 586.1h0M517.0 585.7h0M557.2 585.8h0M546.6 585.9h0M540.5 586.3h0M546.1 586.1h0M554.1 585.9h0M599.9 585.7h0M584.4 586.5h0M571.2 585.8h0M559.4 586.1h0M564.4 585.7h0M572.1 585.7h0M521.6 586.0h0M522.3 585.7h0M579.3 586.4h0M575.2 585.7h0M537.0 586.8h0M575.4 586.5h0M571.2 586.3h0M597.5 586.4h0M586.5 585.7h0M577.4 585.8h0M557.6 585.8h0M591.8 586.1h0M560.0 586.9h0M547.0 586.3h0M529.2 586.0h0M569.7 586.6h0M566.2 585.5h0M546.4 586.4h0M560.8 586.3h0M575.3 585.5h0M532.0 586.5h0M539.6 585.9h0M591.9 586.5h0M528.4 585.6h0M532.9 585.6h0M520.5 585.4h0M590.2 585.7h0M576.4 585.7h0M558.7 586.2h0M592.6 585.9h0M565.4 586.3h0M598.4 586.0h0M524.4 586.1h0M561.6 585.8h0M530.2 585.9h0M564.5 585.7h0M576.5 585.6h0M520.4 585.3h0M597.5 586.1h0M540.6 586.3h0M594.7 585.6h0M533.3 585.8h0M554.1 585.4h0M523.3 586.1h0M522.7 586.2h0M527.2 585.9h0M579.2 585.9h0M577.2 586.3h0M575.1 585.4h0M594.4 586.5h0M598.2 585.9h0M523.5 586.1h0M531.5 586.1h0M545.3 585.5h0M577.8 586.1h0M522.1 585.6h0M545.4 586.3h0M524.6 585.7h0M572.4 585.8h0M555.8 586.8h0M521.2 585.8h0M579.3 585.9h0M524.5 585.7h0M554.3 585.7h0M593.9 586.5h0M546.0 585.9h0M573.6 586.4h0M582.0 585.7h0M542.2 585.9h0M587.4 585.9h0M549.3 586.0h0M534.0 585.9h0M536.7 585.9h0M523.0 585.0h0M559.8 586.1h0M546.4 586.1h0M543.8 585.9h0M584.0 586.6h0M544.2 586.0h0M517.4 586.0h0M546.1 586.4h0M557.6 586.2h0M599.1 586.1h0M551.2 585.9h0M537.4 586.0h0M597.3 585.8h0M519.9 585.6h0M546.9 586.1h0M564.4 585.6h0M592.4 585.7h0M518.7 585.6h0M517.9 586.0h0M589.8 585.6h0M585.4 586.3h0M601.4 585.8h0M579.0 586.2h0M581.3 585.9h0M549.4 587.1h0M532.3 585.8h0M549.4 585.9h0M538.0 586.4h0M570.9 586.2h0M552.5 586.1h0M521.3 585.5h0M590.8 586.5h0M530.7 586.7h0M597.8 586.1h0M564.9 586.2h0M594.1 586.2h0M595.7 586.2h0M550.0 586.0h0M536.4 586.0h0M580.7 585.7h0M527.2 585.1h0M574.1 585.9h0M522.5 586.4h0M545.4 586.3h0M544.9 585.5h0M598.3 586.1h0M534.3 585.8h0M560.1 585.9h0M576.8 586.3h0M574.4 586.3h0M516.9 586.0h0M556.5 585.6h0M565.9 586.0h0M556.2 585.9h0M518.8 585.8h0M517.7 586.2h0M538.9 585.5h0M594.5 586.2h0M545.0 585.5h0M595.7 585.9h0M596.8 586.3h0M528.3 586.0h0M595.2 586.3h0M577.2 586.2h0M558.7 585.4h0M539.0 586.5h0M560.7 586.1h0M543.4 585.8h0M555.7 585.8h0M552.2 585.9h0M520.3 586.3h0M526.6 586.2h0M598.5 586.0h0M581.5 586.3h0M577.6 585.9h0M567.3 586.7h0M546.6 585.8h0M536.1 585.8h0M590.0 585.3h0M529.1 586.3h0M526.1 586.5h0M561.5 586.2h0M517.0 586.6h0M555.7 586.2h0M589.5 586.5h0M524.6 586.1h0M575.8 585.6h0M532.7 585.7h0M596.7 586.1h0M572.5 586.1h0M522.7 586.4h0M569.3 586.2h0M591.5 586.0h0M568.8 585.9h0M587.0 586.4h0M535.7 586.4h0M539.0 586.6h0M557.5 586.0h0M592.4 585.8h0M532.3 586.0h0M536.1 586.2h0M522.4 585.9h0M543.5 586.3h0M566.9 586.2h0M569.5 586.1h0M555.4 586.2h0M572.8 585.6h0M593.3 586.1h0M526.7 586.0h0M559.3 586.4h0M592.2 585.5h0M549.2 585.8h0M581.6 586.2h0M523.8 585.7h0M535.7 585.5h0M536.2 586.6h0M567.6 585.4h0M524.5 585.3h0M580.3 585.9h0M567.8 586.1h0M587.1 585.9h0M598.9 585.9h0M546.2 585.6h0M535.9 585.6h0M548.2 585.9h0M520.7 586.1h0M575.4 585.4h0M520.5 586.4h0M539.2 586.4h0M582.1 586.8h0M591.9 585.8h0M548.9 586.0h0M533.1 586.4h0M538.3 586.1h0M523.8 585.2h0M596.5 585.9h0M553.2 586.5h0M524.4 586.4h0M559.4 586.9h0M559.9 586.5h0M550.7 585.9h0M599.0 586.4h0M549.9 586.1h0M593.9 586.4h0M546.0 585.5h0M541.2 585.4h0M584.0 585.8h0M519.9 586.0h0M595.8 585.6h0M593.8 586.1h0M562.7 585.7h0M577.9 586.0h0M535.5 585.4h0M565.4 586.1h0M525.8 586.2h0M576.5 586.5h0M523.4 586.2h0M528.4 586.0h0M522.5 585.5h0M588.3 586.2h0M528.1 585.9h0M563.2 585.8h0M535.2 585.9h0M575.8 586.1h0M524.9 586.0h0M564.2 585.7h0M568.4 585.3h0M594.0 586.1h0M537.6 585.6h0M525.7 586.6h0M549.2 585.2h0M525.4 586.5h0M569.9 586.0h0M516.5 585.4h0M596.2 585.7h0M570.4 586.6h0M549.3 586.3h0M542.4 585.6h0M576.8 585.4h0M566.2 586.0h0M582.6 586.2h0M516.6 586.3h0M582.2 586.1h0M519.2 585.3h0M559.2 585.8h0M531.2 586.0h0M599.1 586.2h0M585.7 585.8h0M569.5 585.6h0M533.3 586.3h0M536.9 586.5h0M563.3 586.0h0M577.8 585.6h0M539.6 586.0h0M668.6 586.0h0M604.0 585.8h0M607.0 585.5h0M610.0 585.6h0M612.0 585.2h0M617.8 584.6h0" stroke="#3a6fd8" stroke-width="4.2" stroke-linecap="round"/>
<path d="M508.5 585.7h0M513.8 585.7h0M518.0 576.6h0M552.5 564.0h0M559.5 543.9h0M649.8 511.5h0" stroke="#f39a2a" stroke-width="4.6" stroke-linecap="round"/>
<path d="M514.5 420.5V593.6M500.8 582.4H682.1" stroke="#ff1a1a" stroke-width="1.2" stroke-dasharray="6 2.6 1.8 2.5" stroke-dashoffset="12"/>
<path d="M498 585.7h2.2M498 538.5h2.2M498 491.3h2.2M498 444.1h2.2" stroke="#3b3636" stroke-width="1"/>
<text x="496.8" y="588.7" font-size="8.2" text-anchor="end" fill="#4a4a4a">0</text>
<text x="496.8" y="541.5" font-size="8.2" text-anchor="end" fill="#4a4a4a">1</text>
<text x="496.8" y="494.3" font-size="8.2" text-anchor="end" fill="#4a4a4a">2</text>
<text x="496.8" y="447.1" font-size="8.2" text-anchor="end" fill="#4a4a4a">3</text>
<path d="M508.7 594.1v2.2M540.7 594.1v2.2M572.7 594.1v2.2M604.7 594.1v2.2M636.7 594.1v2.2M668.7 594.1v2.2" stroke="#3b3636" stroke-width="1"/>
<text x="508.7" y="604.1" font-size="8.2" text-anchor="middle" fill="#4a4a4a">0</text>
<text x="540.7" y="604.1" font-size="8.2" text-anchor="middle" fill="#4a4a4a">1</text>
<text x="572.7" y="604.1" font-size="8.2" text-anchor="middle" fill="#4a4a4a">2</text>
<text x="604.7" y="604.1" font-size="8.2" text-anchor="middle" fill="#4a4a4a">3</text>
<text x="636.7" y="604.1" font-size="8.2" text-anchor="middle" fill="#4a4a4a">4</text>
<text x="668.7" y="604.1" font-size="8.2" text-anchor="middle" fill="#4a4a4a">5</text>
<text x="599" y="616" font-size="9.9" text-anchor="middle" fill="#222">No. of reads mapping to chrY (×10<tspan font-size="6" dy="-3.2">3</tspan><tspan dy="3.2">)</tspan></text>
<text transform="translate(488 502.4) rotate(-90)" font-size="9.9" text-anchor="middle" fill="#222">No. of reads mapping to chrX (×10<tspan font-size="6" dy="-3.2">4</tspan><tspan dy="3.2">)</tspan></text>
<rect x="559.8" y="427.5" width="110.1" height="38.7" fill="#fff" stroke="#111" stroke-width="0.9"/>
<path d="M567.0 435.5h0" stroke="#e01818" stroke-width="5.4" stroke-linecap="round"/>
<path d="M567.0 447.1h0" stroke="#3a6fd8" stroke-width="5.4" stroke-linecap="round"/>
<path d="M567.0 458.4h0" stroke="#f39a2a" stroke-width="5.4" stroke-linecap="round"/>
<text x="577" y="438.4" font-size="8.4" fill="#222">X sperm (344)</text>
<text x="577" y="450" font-size="8.4" fill="#222">Y sperm (329)</text>
<text x="577" y="461.3" font-size="8.4" fill="#222">XY indistinguishable (8)</text>
<path d="M38.8 682.4v0.5m0 0v1m0 10.8v0.8m0 0v1.2m0 3v1.2m0 5.1v0.9m0 2v0.5m0 6.8v0.6m0 7.3v2m0 1.5v1.2m0 0v0.5m0 17.5v1m0 8.2v0.5m0 4.1v0.9m0 9v1m0 2.6v1m0 13v0.8m0 21.9v1.2m0 19v1.2m0 5.9v1.5m0 3v1m0 7.3v0.9m0 18.5v1M53.7 691.5v1m0 5.6v0.8m0 22.3v0.5m0 4.9v1.5m0 0.8v0.9m0 7.5v0.5m0 10.3v0.6m0 9.4v1.2m0 25.3v0.8m0 0v0.5m0 7.7v2m0 13.6v0.9m0 24.6v1.5m0 7.1v0.6m0 7.4v1m0 3.9v1m0 0v0.6m0 19.5v0.5M68.6 887.8v1.5M83.5 709.5v2m0 2v1m0 2v0.8m0 24.1v0.6m0 0v2m0 2.4v1m0 15.8v1m0 1.9v0.8m0 3.5v1.2m0 5.4v2m0 13v1m0 12.8v0.6m0 1.1v0.8m0 29.7v2m0 1.9v1.5m0 11.5v2m0 6.2v0.8m0 3.4v0.6m0 0.5v0.6m0 20.5v0.8M98.4 702.2v0.6m0 4.1v2m0 8.4v1m0 1v0.9m0 5.7v0.6m0 2.6v1.2m0 18.5v0.8m0 2.5v1.2m0 9.5v0.5m0 8.4v1.5m0 3.8v0.5m0 3.9v1.2m0 13.4v1.2m0 11.4v1.2m0 18.5v1.5m0 11.3v1m0 5.6v2m0 11.2v0.6m0 15.9v1M128.3 717.4v0.9m0 1.2v2m0 0v0.9M143.2 754.8v1.5m0 1v0.9m0 4.4v1.5m0 17.8v1m0 72.2v1m0 30v0.6M158.1 886.8v1m0 1v1.2M187.9 747.1v0.5m0 12.6v1m0 0v0.8m0 4.1v1.2m0 7.6v0.5m0 5.8v1.2m0 0v0.6m0 3v0.6m0 0v1.2m0 26v1m0 2.7v1.2m0 4v0.8m0 1v0.5m0 0.8v1m0 1.6v0.9m0 21.7v0.5m0 10.5v1M217.7 743.5v1.2m0 6.7v1.2m0 8.4v1.2m0 2.5v1.2m0 3.4v0.8m0 11.7v0.6m0 9.8v2m0 18.9v0.5m0 0v1m0 6v0.5m0 6.6v0.6m0 36.4v1.2m0 0.8v0.9m0 16.9v1.5M247.5 797.5v0.6m0 2.7v0.8m0 20.6v1.5m0 3.8v1m0 12.1v0.8m0 2.5v1.2m0 7.6v2m0 7.1v0.5m0 8.4v0.5m0 0v1.2m0 0v1.2m0 11v0.6m0 0.5v1.2m0 0v0.5M277.4 861.2v1m0 6.9v0.9m0 2.2v0.9M292.3 784.8v2m0 27v1.5m0 19v0.8m0 6.9v1.2m0 6.1v2M307.2 849.0v1m0 4.7v0.8m0 10.2v2m0 13.9v0.8m0 5.6v1" stroke="#2a78b8" stroke-opacity="0.3" stroke-width="5.0"/>
<path d="M38.8 686.5v1.5m0 10.9v0.8m0 1.2v1.5m0 0v0.6m0 6.4v1.2m0 0v1.2m0 0.9v0.5m0 9.1v1.2m0 9.1v0.9m0 8.6v0.8m0 4.9v1m0 17.5v0.5m0 4.7v0.6m0 9v2m0 2.5v0.5m0 2.8v1.2m0 5.2v0.6m0 12.5v1.5m0 6.1v0.5m0 8.4v0.9m0 13.8v1.5m0 0v1m0 1.5v1.5m0 0v0.5m0 0v0.9m0 2.6v0.9m0 0v0.9m0 4.8v1.5m0 5v0.5m0 0v1.5m0 7.1v1.2m0 0v0.5M53.7 672.8v0.9m0 26.2v1m0 11.2v0.6m0 9v1.2m0 0v0.8m0 2.3v0.6m0 4.5v1m0 9v1.2m0 0.5v1m0 0v1m0 3.9v0.9m0 4.2v1m0 2.5v0.8m0 3.2v2m0 4v0.9m0 1.7v2m0 4.2v0.9m0 0v1m0 2.7v0.5m0 0v0.9m0 0v1.5m0 4.3v0.8m0 1v1m0 4.9v1.2m0 5.4v0.5m0 3.9v0.8m0 0v0.9m0 4.6v0.8m0 1.5v0.5m0 2.6v0.5m0 0v0.6m0 1.6v0.9m0 17.4v0.8m0 0v1m0 9.7v0.5m0 2.5v0.6m0 3.9v1m0 0v1.2m0 4.9v1.2m0 4.8v1m0 1.3v0.8m0 9.6v0.8m0 0v1M83.5 697.3v0.8m0 7v1m0 0v0.9m0 4.5v2m0 5.9v2m0 1.5v0.6m0 1v0.6m0 11.7v2m0 11.2v0.9m0 4.6v2m0 1.6v0.6m0 19.3v1.2m0 6.1v0.5m0 1.6v0.9m0 3.7v0.5m0 9.5v1m0 0v0.8m0 1.6v0.6m0 1.3v1m0 0v0.9m0 0v1m0 0v2m0 18.7v0.8m0 1.6v0.5m0 0v1.2m0 12.8v1.2m0 6.9v1.2m0 8.4v0.8m0 0.6v0.5m0 1.1v0.5m0 1.4v2m0 2.7v0.8m0 11.1v1.5M98.4 701.7v0.5m0 10.3v0.9m0 8.3v1m0 9.7v1.5m0 8.6v0.9m0 4.5v0.9m0 1.8v1.5m0 5.9v1.2m0 1.9v0.5m0 2.9v1m0 3.1v1.2m0 7.7v1m0 0v0.6m0 7v0.9m0 0v1m0 3.5v1m0 2v0.5m0 8.2v1m0 2.1v0.8m0 0v1.5m0 3.9v1m0 1.8v0.5m0 3.6v0.6m0 11.2v1.5m0 3.5v1.2m0 0v1.2m0 11.1v0.5m0 2.8v2m0 5v0.9m0 0.6v1.2m0 0.8v0.8m0 1v0.6m0 3.8v0.8m0 15.4v1.5M128.3 709.2v0.9m0 3v1m0 4.2v0.6m0 13.4v1.2m0 0v0.6M143.2 741.7v1m0 2.8v0.6m0 4.6v0.8m0 1.5v0.6m0 2.7v1m0 11.6v0.9m0 0v1.2m0 0v1m0 1.8v1.2m0 0v0.6m0 5.7v0.6m0 1.5v0.5m0 2.2v0.5m0 12v0.5m0 3v1.5m0 3.3v0.6m0 0.8v1.5m0 7.7v0.8m0 4.3v1.2m0 0.9v1m0 6.8v1m0 0v1m0 8.6v1.2m0 5.6v1m0 1.2v2m0 4v1.2m0 1.2v0.8m0 1.5v1m0 5v1m0 5.5v0.6m0 2.7v0.9m0 2v1m0 1.5v0.6m0 0v1.5m0 3.6v0.6M158.1 884.3v1.5M187.9 751.0v0.8m0 15.5v1m0 0v0.5m0 8.6v0.8m0 1v1m0 5.2v0.6m0 3v0.9m0 6.6v1m0 2.2v0.6m0 3.3v0.6m0 1.5v0.6m0 1.1v2m0 3v0.9m0 2.1v1.5m0 4.8v0.5m0 1.3v1m0 2.9v1m0 0.9v0.6m0 0.9v0.5m0 2.4v0.5m0 5.3v0.5m0 7.1v0.8m0 3.6v0.5m0 2.8v0.6m0 10v0.6M217.7 742.0v1m0 10.6v1.5m0 4.5v0.5m0 3.1v1.5m0 2.8v1m0 2.2v1m0 7.9v1.2m0 2.6v0.8m0 0v0.8m0 2.3v1m0 0v0.9m0 2v1m0 5.9v1m0 4.8v0.6m0 2.6v2m0 2.4v1m0 2.1v2m0 6.2v0.5m0 6.5v1m0 3.6v1m0 0v2m0 7.6v1.2m0 0.6v0.5m0 1v1.5m0 0v0.8m0 2.5v1.5m0 3.5v2m0 8.1v0.8m0 2.8v1m0 2v1m0 4.7v0.8m0 0.9v0.5m0 4.8v0.9M247.5 783.7v1.5m0 0v1.5m0 6.2v1.2m0 4.6v1.5m0 1.4v2m0 6v1m0 1v1.5m0 16.4v0.9m0 0.5v0.6m0 3.8v1m0 21.9v2m0 2.1v0.9m0 0.8v0.8m0 0v0.9m0 0v1.5m0 10.7v1.2m0 2v1m0 1v0.5M277.4 828.5v1m0 5.2v2m0 0v1m0 4.5v0.6m0 1.4v1m0 19.6v1m0 4.2v1m0 0v1.2m0 0.9v0.8m0 5.8v0.8m0 2v1.2m0 0.6v1.2M292.3 778.7v1m0 0v1.2m0 0v0.8m0 0.9v1m0 11.7v1.2m0 2.4v1m0 0v1.2m0 1v0.6m0 5.7v1.5m0 0.6v1.5m0 1v0.8m0 7.2v1.2m0 0v0.5m0 1v0.5m0 3.8v0.5m0 0v0.9m0 6.9v1.2m0 5.7v2m0 1.1v1.5m0 0.6v0.9M307.2 835.0v2m0 16.2v0.9m0 0v0.6m0 3.1v1.2m0 0v0.8m0 1v2m0 11.3v0.8m0 0v2m0 1.8v1.5m0 6v0.8m0 0v1m0 1v1.2" stroke="#2a78b8" stroke-opacity="0.62" stroke-width="5.0"/>
<path d="M38.8 680.9v1.5m0 1.5v1.2m0 4.9v1.5m0 0v1m0 0v1.2m0 0v1m0 2v1m0 0v1.2m0 4.1v1m0 0v1.2m0 0v0.8m0 5.8v0.9m0 0.5v1m0 0v2m0 0.6v2m0 0v2m0 0v0.6m0 0v0.9m0 1.2v0.6m0 2v1.5m0 1.7v0.9m0 0v1.2m0 0v1.2m0 0.9v0.5m0 0v1m0 0v1.5m0 0v0.9m0 0v1.2m0 2v0.5m0 1.8v0.6m0 1.5v0.8m0 0v1m0 2v2m0 0v1.2m0 0v1.5m0 0v1m0 0v1m0 0v0.5m0 0.5v1.2m0 0.9v2m0 0.9v1m0 0v2m0 0v0.9m0 0v0.9m0 0.5v0.6m0 0v0.8m0 0v1.5m0 0v0.8m0 1.6v2m0 1v0.8m0 0v1m0 0v0.8m0 0v1m0 0v0.9m0 0v0.6m0 0v0.9m0 2v0.5m0 0v1.5m0 1v1m0 0v1m0 2.8v2m0 0v0.9m0 0v1.5m0 0.6v1m0 2.5v0.9m0 0v2m0 0v0.6m0 0v1.5m0 0v0.9m0 0v1.2m0 0v1m0 0v0.9m0 3.6v0.5m0 0v1.5m0 0v2m0 0.5v1.5m0 0v1.2m0 0.6v0.6m0 0v1.5m0 1v0.6m0 0v0.8m0 0v0.6m0 0.9v1.5m0 0v0.9m0 0v2m0 0v0.8m0 1.2v0.9m0 0v1.5m0 0v1.2m0 0v0.8m0 0v1.5m0 4v0.5m0 3.9v2m0 0v0.6m0 2.7v1.2m0 1v1.2m0 2v1m0 0v2m0 0v1m0 0v1m0 2v0.8m0 0v0.6m0 0v0.9m0 0v2m0 0v0.9m0 0v0.9m0 2.7v1M53.7 683.4v1m0 3.2v1m0 0v2m0 0v0.9m0 1v0.5m0 0v0.8m0 2.3v2m0 0.8v1m0 2v1m0 0v0.8m0 0v1.5m0 0v1.5m0 0v1m0 0.9v2m0 3.1v1.5m0 2v1.5m0 0v0.6m0 0v0.9m0 0v1m0 2.5v0.5m0 0.6v1.2m0 2.1v0.8m0 0.9v0.5m0 1.8v1m0 0v1.2m0 0v2m0 1.5v0.8m0 1.5v1m0 1.2v0.5m0 2v1m0 1.3v1m0 1.5v0.8m0 0v2m0 0v0.8m0 0v0.6m0 1v0.9m0 0v1m0 3.6v1m0 2v0.9m0 0v1.5m0 0.6v1m0 0.9v0.6m0 0.5v0.6m0 2v0.9m0 0v0.5m0 0v0.8m0 0v2m0 1.9v0.9m0 1v0.8m0 2.9v1m0 4.1v1m0 1.9v2m0 3.2v2m0 0v1m0 0v1.5m0 0v0.9m0 0.5v0.5m0 5.1v0.9m0 0.9v0.6m0 0v1.2m0 0v1m0 0.8v1.5m0 1.1v1.5m0 1.6v0.6m0 0v1m0 0.9v0.5m0 0v1m0 0v1.5m0 0v1m0 0v1m0 0.5v0.8m0 0v2m0 0v1m0 2v0.6m0 0v0.9m0 1.5v0.8m0 0v0.5m0 0v0.8m0 0v1m0 4.6v0.8m0 0v1.5m0 0v0.6m0 0v1m0 0v0.8m0 0v1.2m0 0v0.5m0 0v0.5m0 4.5v0.9m0 4.3v0.5m0 0v0.8m0 3v0.6m0 1.7v0.9m0 0v0.8m0 1.2v0.6m0 1.8v0.8m0 1.3v1m0 0.6v1.2m0 2v0.8m0 1.5v1m0 0v1.5m0 1.8v1m0 0v1.5m0 0v1.9M68.6 887.2v0.6m0 1.5v1M83.5 696.1v1.2m0 0.8v1m0 5v1m0 1.9v1.5m0 0v1m0 8.3v0.8m0 2.8v0.6m0 0v0.9m0 0.6v1m0 0.6v0.8m0 1v0.5m0 1.1v1m0 0v1.2m0 0v1.5m0 0v0.6m0 2v2m0 2v2m0 0v0.6m0 2.6v0.8m0 0v1m0 3.6v0.6m0 0.9v0.6m0 0v2m0 4v0.6m0 0v1m0 0.6v1.5m0 4v0.9m0 1.8v1m0 2.7v1m0 0v0.9m0 1.5v2m0 3.2v1.2m0 0v0.5m0 0v2m0 0v1.5m0 0v0.9m0 1v0.6m0 0v0.5m0 0.9v0.6m0 0v1.5m0 2.1v0.8m0 0v0.6m0 0v2m0 0.6v0.9m0 0v1.5m0 0v1m0 0.6v0.9m0 4.6v0.5m0 5.7v1m0 1.2v1m0 0v1m0 0v1m0 1.5v1m0 0v1m0 1.2v1.5m0 0v2m0 0v0.5m0 0v0.6m0 1v1.5m0 0v0.8m0 0v0.9m0 5.3v0.8m0 3v0.9m0 2.1v1m0 0v0.9m0 1v1m0 0v0.9m0 1.2v1.5m0 1v1.2m0 0v1.2m0 4v1.5m0 0v1.5m0 3v0.6m0 0v1m0 3.5v0.8m0 0v0.6m0 2v1.2m0 2.3v1m0 0v1m0 0v1m0 0v0.8m0 0.6v2m0 1.2v0.8m0 0v1.2m0 0v1.5M98.4 701.1v0.6m0 1.1v1.5m0 4.6v1.2m0 0v1.2m0 2.1v2m0 0.9v1m0 1v1m0 3.4v0.6m0 0v2m0 0v0.6m0 0.6v0.6m0 0v1m0 0v1m0 2.2v0.5m0 0v0.6m0 4.2v1m0 0.9v0.9m0 0v0.5m0 0.6v1m0 0v1m0 3.6v1m0 0v0.8m0 1.7v1m0 2.7v1.2m0 0v1m0 1v1.5m0 1.2v1m0 0v0.9m0 0.5v1.2m0 0.5v1.2m0 1v0.8m0 0v1.2m0 0v0.5m0 0v0.6m0 1.2v1m0 0v0.9m0 2.5v0.8m0 4.1v0.8m0 0.9v0.6m0 1.2v2m0 3.9v0.9m0 0v1.5m0 0v0.6m0 2v1m0 0.5v1m0 1.2v0.8m0 0.8v1.5m0 0.9v0.8m0 0v1.2m0 1v0.9m0 4.7v1m0 0.8v0.9m0 1v1m0 0v0.8m0 1v1m0 2.7v2m0 0.5v1m0 0.5v0.8m0 0v1.2m0 3.8v0.9m0 0v0.5m0 1.5v1.5m0 0v2m0 2.4v1.5m0 0v1m0 1v1.2m0 0v1m0 2.2v1.2m0 3.1v1.2m0 0.5v0.5m0 2v2m0 0v2m0 0v1m0 4.3v1m0 0.6v0.5m0 0v2m0 0v0.8m0 0v0.5m0 0.8v1.5m0 0.6v0.5m0 0v1.2m0 0v0.6m0 0v0.6m0 0v1m0 0v0.9m0 3.5v1.5m0 2.4v0.5m0 0v0.6m0 2.5v1.2M128.3 710.1v0.9m0 0.5v1m0 0v0.6m0 1v1m0 0v1m0 0v0.8m0 0v0.5m0 5v1.2m0 0v0.8m0 1v1m0 1v0.8m0 0v1.5m0 1v1m0 2.4v1.5m0 0v1M143.2 746.1v0.6m0 0v0.8m0 0v2m0 0v1.2m0 0.8v1.5m0 0.6v1.2m0 3.4v1m0 1.5v0.9m0 0v1m0 1.5v0.5m0 2v1m0 0v0.5m0 3.9v1m0 2.6v1.2m0 1v2m0 5.7v0.6m0 0.5v2m0 0v0.5m0 0v1m0 0v1.5m0 0v0.6m0 1.5v2m0 0v2m0 0v0.9m0 0.5v1.5m0 3v0.6m0 0v0.8m0 0v1m0 3.8v0.5m0 2v1m0 0v0.8m0 0v1m0 0v0.9m0 0v0.9m0 0v0.6m0 0.8v0.8m0 0v2m0 1v0.5m0 1.2v0.9m0 1v1m0 0v1m0 0v0.9m0 2v0.9m0 0v1m0 4.9v0.8m0 6.1v0.9m0 2v1.2m0 0v1.5m0 1v1.2m0 2v1m0 1v2m0 6.7v2m0 0v0.5m0 0v1.5m0 1v2m0 0v1.5m0 2.6v1.5m0 2.1v1m0 6.2v1M158.1 878.6v1m0 0v1.2m0 1.5v2m0 1.5v1m0 1v1m0 1.2v0.3M187.9 745.5v1m0 0v0.6m0 0.5v0.9m0 0v1m0 0v1.5m0 0.8v0.6m0 0v1.5m0 0.9v1m0 0v0.8m0 0.9v0.5m0 0v1.2m0 0v1m0 1.8v0.9m0 0v2m0 3.9v1m0 0v2m0 0v0.6m0 1v1.5m0 0.5v0.5m0 4.3v1m0 2.7v1.5m0 2.4v1.2m0 0.9v2m0 0v0.8m0 0v0.9m0 1.9v1m0 2v1.2m0 0.6v1m0 0v0.5m0 1v0.8m0 0.6v1.5m0 0.6v0.5m0 0v0.6m0 2v1m0 0v2m0 0.9v0.5m0 4.9v1m0 1v1m0 0.5v0.5m0 2.3v0.8m0 4.1v0.9m0 0.5v0.5m0 0.9v1m0 0.5v1.5m0 0v2m0 0v1m0 0v0.8m0 0.5v2m0 0v1m0 0v1.5m0 2v0.6m0 1.4v1.5m0 0v1m0 1v2m0 1.4v2m0 0v0.6m0 0v1m0 0v1.5m0 2.5v1.2m0 0v1.2m0 0.6v1.2M217.7 746.2v0.8m0 0v0.8m0 0v0.6m0 2v1m0 3.7v1m0 0v1m0 0v0.5m0 0v2m0 0.5v0.9m0 7.5v0.8m0 0.8v0.6m0 1v1.2m0 0v0.5m0 0v0.9m0 0v1m0 0v1.5m0 0v1m0 0v0.8m0 0v1m0 1.2v1m0 0.6v1m0 3v0.9m0 1.9v1m0 0v1m0 3v2m0 0v1m0 0v0.9m0 1v2m0 0v0.8m0 4.6v0.6m0 2v1m0 0v0.9m0 0v0.5m0 1v0.6m0 3.5v0.5m0 0v0.6m0 1v0.9m0 0v1m0 0.5v0.9m0 0v0.8m0 0.5v1.5m0 0v0.9m0 5.1v1.5m0 0v1.2m0 4.5v1m0 0v1.5m0 0v0.6m0 0v1.2m0 0v1m0 0v0.8m0 0v0.9m0 1.2v0.6m0 0.5v1m0 2.8v1m0 2.5v1.5m0 4v2m0 0v0.6m0 0v2m0 1.2v0.8m0 0.9v0.6m0 0.8v0.8m0 1v1m0 1v1m0 0v1m0 1v0.6m0 0v0.5m0 0v0.8m0 0v0.8m0 0v0.5m0 0v0.5m0 0v1m0 2.2v0.6m0 0v1.2m0 1.5v1.5m0 0.9v1m0 0v0.6m0 0v0.3M247.5 770.3v1m0 0v1.5m0 0.5v1m0 0.9v1.5m0 0.5v1m0 0v2m0 1.5v2m0 4.2v1m0 5.2v1m0 0.9v1m0 10.6v2m0 3.5v0.9m0 5v1.2m0 0v2m0 8.2v0.5m0 5.4v2m0 0v1.5m0 1.6v2m0 0v0.5m0 1.2v1.5m0 0v1.2m0 1v0.6m0 1v0.6m0 0v0.9m0 0v0.8m0 4v1.5m0 3v0.6m0 1.4v0.8m0 3.2v1m0 1v1.5m0 3.8v0.5m0 0v2m0 11v0.9M277.4 829.5v1.2m0 1.5v1.5m0 0v1m0 3.8v1.2m0 0v0.9m0 0.6v1m0 0.6v0.6m0 2.8v0.8m0 0v1m0 0v1.2m0 0v0.5m0 0v1.5m0 0v1m0 0v0.5m0 0v0.9m0 0v1m0 0v1.5m0 0v1.5m0 0v0.8m0 0v0.9m0 0v1m0 2.7v0.6m0 0v1.2m0 1v1.2m0 1.5v0.6m0 4.8v0.6m0 0v2m0 0v2m0 0v1.2m0 0.8v2m0 1.2v0.6m0 1.2v0.9m0 1.2v1.2m0 0v1.5M292.3 801.1v0.5m0 0v0.5m0 0.6v0.8m0 0v0.5m0 0v0.8m0 0v0.6m0 0v1.5m0 0v1.5m0 1.5v0.6m0 1.5v1m0 2.3v0.5m0 0v1.2m0 0v0.8m0 0v0.8m0 0v1.5m0 0v0.9m0 3.2v1.2m0 0.5v1.2m0 0v0.9m0 3.8v1m0 0v1.5m0 3.2v0.6m0 0.5v0.9m0 1v1.5m0 3.2v0.5m0 0v0.6m0 1.5v0.6m0 3.9v1m0 0v2M307.2 815.9v1.2m0 0v1m0 1.8v0.8m0 0.9v1m0 0v1m0 2v0.9m0 0v1m0 0v1.5m0 0v1.2m0 0v0.8m0 0v1.2m0 0v2m0 0v0.8m0 2v0.9m0 0v0.8m0 1.5v2m0 0v0.9m0 0v1.5m0 0v1.2m0 0v1.2m0 0v0.5m0 0v0.5m0 0v1m0 1v0.8m0 0v1m0 0v0.9m0 0v0.5m0 2.3v0.8m0 0v1.5m0 2v1m0 2v1m0 0v0.5m0 0v0.8m0 2.6v1m0 0v2m0 0v0.8m0 0v0.9m0 0v0.9m0 0v0.8m0 2.8v1m0 0v0.8m0 1.5v0.9m0 1.3v1.2m0 0v0.8" stroke="#2a78b8" stroke-opacity="0.95" stroke-width="5.0"/>
<path d="M38.8 648.9v2m0 2v1.2m0 2v0.6m0 10.9v1.5m0 220.9v0.3M68.6 693.7v0.5m0 4.9v2m0 24.9v2m0 5.7v1m0 11v0.8m0 4v1.5m0 1.6v1.5m0 1.8v0.5m0 19.5v0.8m0 0v1.5m0 6.7v2m0 21.2v0.9m0 0v0.8m0 0v0.9m0 0v0.5m0 0.5v1.5m0 4.4v2m0 7.5v0.5m0 2.3v1.2m0 6.2v0.8m0 3.8v0.8m0 8.5v0.6m0 0v0.5m0 3v1.2m0 12.7v1m0 7.6v0.5m0 4.5v1M113.3 713.7v0.5m0 3.5v1m0 2v1.5m0 4.2v0.5m0 6.9v0.9m0 4v0.8m0 14.1v1.2m0 1.5v0.9m0 4.9v1m0 28.7v0.5m0 10.2v0.5m0 1v2m0 7.8v1m0 11v1.2m0 0.9v1m0 9v0.6m0 3.5v0.6m0 0v0.9m0 0v0.6m0 0v1.5m0 4.5v0.8m0 1.2v0.5m0 2.8v2m0 5.2v1m0 10.4v1M128.3 738.4v2m0 2v0.8m0 34.9v0.5m0 2.8v0.9m0 3.9v0.9m0 2.9v0.8m0 4.6v0.8m0 6.5v0.5m0 11.7v1m0 21.3v1.5m0 28.9v0.5m0 15v1m0 3.6v0.9M158.1 756.5v0.6m0 8.4v1.2m0 9.5v0.6m0 8.2v2m0 3v0.8m0 8.3v0.5m0 4.7v0.5m0 3.5v0.9m0 0v0.9m0 4.9v0.8m0 2.3v1.2m0 1.5v1.2m0 5.4v0.9m0 23.9v1.2m0 3.9v0.5m0 2.9v2m0 2.4v0.9m0 6.4v0.5m0 0v1.5m0 0.9v0.5m0 1.2v1M173.0 731.1v1.2m0 9.9v0.8m0 3.6v1.2m0 44.1v1m0 23.2v1m0 0v1.5m0 17.8v0.6m0 9.8v0.5m0 24.1v0.5m0 12v2M187.9 870.2v0.5M202.8 745.7v0.5m0 0v1m0 3.8v0.6m0 10v1.2m0 8.9v1m0 1v1m0 3.4v1m0 0v1.2m0 16v0.5m0 14.5v0.8m0 13.3v0.6m0 2v0.5m0 4.8v0.9m0 17.1v1m0 7v1m0 20.6v0.6m0 2.2v1.5M232.6 743.7v2m0 5.2v0.9m0 15.8v1m0 0v0.9m0 8.7v0.9m0 1.5v0.5m0 38.8v0.9m0 2.4v1.2m0 23.9v1m0 15.7v0.5m0 6.9v0.5M262.4 783.0v0.9m0 6.4v0.5m0 2.3v0.8m0 20.8v2m0 20.3v0.9m0 18.4v1.5m0 2.7v0.9m0 5.6v0.5m0 7.9v1.2m0 8v1.2m0 1.9v2M277.4 774.1v1m0 5.6v0.9m0 13.4v1m0 12.6v0.5m0 0v0.5m0 4.6v1m0 3.8v2m0 4.3v0.5M292.3 857.3v1m0 0v0.9m0 6v0.6m0 24.2v0.3M322.1 682.3v0.9m0 17.4v1.5m0 3.1v0.6m0 0v1m0 0v0.5m0 10.8v0.8m0 0v0.8m0 16.1v1.2m0 34.6v0.8m0 22.1v0.9m0 6.5v0.5m0 19v0.8m0 10.6v2m0 8.3v0.5m0 15v2m0 1.2v0.5m0 27.5v0.5" stroke="#e2432d" stroke-opacity="0.3" stroke-width="5.0"/>
<path d="M38.8 647.4v1.5m0 5.2v1m0 0v1m0 2.1v1.2m0 10.8v1m0 1.8v0.9m0 6.1v0.9m0 196.6v1m0 2v0.8m0 0.5v1M68.6 701.1v0.8m0 1.5v1.5m0 0v0.6m0 9.2v0.9m0 0.9v1.5m0 11v1m0 0.5v1.5m0 10.3v0.6m0 9.1v0.6m0 11.3v0.5m0 0.9v0.9m0 0v0.8m0 7.9v2m0 2.3v1.2m0 0v1.5m0 0v1m0 5v1.2m0 7.4v0.8m0 6.9v0.8m0 1.5v2m0 13.1v1.2m0 3.8v1.5m0 4.9v1.2m0 12v1.2m0 1.1v0.9m0 3.9v1.5m0 9.9v1m0 2.8v0.9m0 3v1.2m0 0v1m0 3.2v1M113.3 709.0v1.2m0 8.5v0.5m0 10.2v0.6m0 2.2v0.8m0 0v0.8m0 2.5v1.5m0 1.7v0.9m0 2.4v2m0 0v0.6m0 3.4v0.5m0 3.5v0.8m0 6v1m0 10.6v2m0 6.5v1m0 10.1v1m0 1.5v0.9m0 1.2v1m0 10.8v0.6m0 2v2m0 0v2m0 6v0.6m0 3.1v0.8m0 0v1.5m0 3.1v0.5m0 1v1m0 26.9v0.5m0 4.8v2m0 1.5v0.8m0 0v1.5m0 3.1v0.5m0 0v1m0 2v0.6m0 0v2m0 5.2v1.5m0 3.2v1M128.3 752.2v1.5m0 11.7v1m0 0v0.6m0 0v0.5m0 0v0.5m0 3.1v0.5m0 1v2m0 10.4v1.2m0 8.2v1m0 2.4v2m0 2v0.9m0 0.5v1.2m0 3.1v2m0 1v0.9m0 28.5v1.5m0 6.5v0.9m0 2.9v0.5m0 0.9v0.6m0 0v2m0 2.5v0.9m0 6v1.5m0 0v1m0 6.4v1m0 1.9v0.9m0 6.3v0.6m0 1.8v1.2M158.1 738.3v1.2m0 30.3v1.5m0 5.5v0.6m0 0v1.5m0 18.7v0.5m0 7.5v1m0 10.4v0.5m0 0v0.6m0 3.9v1m0 0.9v0.8m0 3.6v1.5m0 3.8v2m0 9v0.6m0 4.5v0.5m0 9.6v0.9m0 2v1.5m0 7.3v0.9m0 2v0.9M173.0 734.3v1m0 3.3v0.6m0 0v1m0 1v1m0 3.4v1m0 16.3v1m0 2.6v1.2m0 32.5v0.5m0 0v0.8m0 19.1v2m0 0.8v1m0 6v0.8m0 16.1v1m0 3.1v0.9m0 1v1.5M187.9 885.9v0.9m0 3v0.5M202.8 751.6v0.9m0 0v2m0 0v0.9m0 5.3v0.9m0 5.8v1.2m0 22.1v0.9m0 1.5v0.5m0 7.7v0.9m0 0.5v0.5m0 0v0.9m0 0v2m0 0v1.5m0 5.5v0.8m0 0v1m0 0v0.8m0 0v1.2m0 1v0.8m0 0v1m0 2.5v1.2m0 3.6v1m0 1.5v0.8m0 5.4v1m0 4v2m0 1v1m0 1v0.8m0 0v1m0 2v1m0 4.4v0.6m0 1.2v2m0 3.1v0.6m0 2.4v1.5m0 0v1m0 0v0.6m0 2v0.9m0 1.5v0.8m0 1.2v0.6m0 3.5v0.5m0 1v1M232.6 740.2v2m0 10.1v0.6m0 0.8v1.2m0 3.5v0.5m0 0.5v1.2m0 1v2m0 2v2m0 3.7v0.9m0 1.2v0.6m0 9.1v0.8m0 3.1v1.5m0 3.8v0.6m0 4v0.5m0 0.9v1m0 9.7v2m0 9.8v0.8m0 5.4v1m0 7.3v1m0 0.9v1.2m0 1v1.2m0 3.7v1.5m0 0v0.5m0 4.9v2m0 0v1.5m0 0.6v1.2m0 1.8v0.6m0 0v2m0 7.1v0.6m0 5.8v0.5m0 9.5v1m0 2.3v0.6M262.4 792.2v0.9m0 0.8v2m0 14.8v2m0 4v0.8m0 1.5v0.9m0 2.4v2m0 1v1m0 3.4v0.6m0 10.7v1m0 3.2v0.6m0 0v1.2m0 1.5v1.2m0 8.1v1.2m0 6.4v0.8m0 6.1v0.6m0 0v0.5m0 4.7v0.8m0 0.5v0.6m0 5.8v0.9M277.4 776.1v0.5m0 1.5v0.5m0 7.5v1m0 2.8v2m0 2.1v1m0 7.7v1.5m0 2v0.6m0 2.8v0.6m0 0v2m0 8.8v2m0 0.5v0.6M292.3 864.4v0.8m0 4.8v0.9m0 15.6v1m0 0v1.2M322.1 696.3v0.5m0 2v0.8m0 17.5v1m0 14.2v0.5m0 24.2v2m0 34.5v1m0 1.8v1m0 90v1.5" stroke="#e2432d" stroke-opacity="0.62" stroke-width="5.0"/>
<path d="M38.8 645.6v0.8m0 0v1m0 3.5v0.5m0 0v0.6m0 0v0.9m0 3.8v1.5m0 1.2v0.5m0 0v0.6m0 0v0.6m0 0v2m0 1v2m0 0v1.5m0 1.5v0.6m0 0v0.5m0 1v0.8m0 0v1m0 0.9v0.8m0 0v0.8m0 2v0.5m0 0v2m0 194v1.5m0 0v2m0 1v1m0 1.8v0.5m0 1v1.2m0 0v1m0 0.6v0.9m0 0v1.5m0 0v0.8m0 0v1.2M68.6 690.7v0.5m0 1v0.9m0 1.1v0.5m0 1v1.2m0 0v1m0 0v1.2m0 2.8v0.6m0 3v0.8m0 0v0.5m0 0v1m0 0v1.5m0 0.5v1m0 0v2m0 0v0.8m0 0v0.6m0 0v0.5m0 0.9v0.9m0 1.5v1m0 0v1.2m0 0v1.2m0 0v0.8m0 0v0.9m0 0v0.8m0 0v0.9m0 0v1.2m0 2v1m0 1v0.5m0 1.5v1.2m0 0v0.5m0 1v1m0 0v1.2m0 0v0.8m0 0v1.5m0 0v0.6m0 1.5v1m0 0.6v0.8m0 0v1m0 1.8v0.8m0 0v1.2m0 0v2m0 2.1v1m0 1.5v1m0 0v0.8m0 0.5v0.6m0 0v0.9m0 0v0.5m0 0.5v1m0 0v2m0 0v1m0 0.5v0.9m0 1.7v1.5m0 1.9v0.6m0 0v1.2m0 1v0.5m0 9.2v1.5m0 0v0.6m0 4.1v0.8m0 0v2m0 0v0.5m0 0v0.6m0 0v2m0 0v0.9m0 0v0.6m0 0.8v1m0 0v1.5m0 0v1.2m0 0v1.2m0 2.8v1.5m0 2v0.6m0 3.1v0.5m0 2.7v0.8m0 0v1m0 0v0.6m0 0v0.8m0 2v1m0 1.7v0.8m0 1.5v1m0 2v0.9m0 0v0.9m0 0v0.5m0 1.2v0.9m0 1.2v0.6m0 0v1.2m0 0v1.5m0 0v0.8m0 0.8v1.2m0 0v0.6m0 0v1m0 0.5v0.5m0 0.8v1.5m0 0v1m0 1.2v0.6m0 0v0.5m0 0.9v0.6m0 0v1.2m0 0v1m0 2.6v1.5m0 1.2v2m0 0v0.8m0 0v2m0 0v0.9m0 0v1.5m0 1v0.8m0 2.9v0.8m0 1v1.2m0 2.2v1m0 0v1m0 0v1.2m0 1.5v0.5m0 0v0.5m0 0v2m0 0v1.5m0 1v0.9M113.3 703.8v2m0 0v1m0 0v0.6m0 1v0.6m0 1.2v1.5m0 0v2m0 0.5v1.5m0 0v2m0 1.5v1.5m0 1.5v1m0 0v1.2m0 0v1m0 0v0.5m0 1v0.5m0 0v2m0 0.6v1m0 0v1.2m0 2.5v0.6m0 0v1m0 4.1v1.5m0 0v0.9m0 2.6v1m0 0v0.9m0 0v1.5m0 0.5v2m0 0v1.5m0 3v0.5m0 0.9v0.8m0 0v1m0 0v0.6m0 1v0.6m0 0v0.9m0 1.6v1.2m0 0v1.5m0 0v1.5m0 0v0.8m0 0v1m0 0v0.5m0 0v1m0 2v0.6m0 0v0.9m0 0v1.5m0 0v2m0 0v1.5m0 1v0.9m0 0v0.6m0 0v0.6m0 1.6v0.6m0 0v1.2m0 3.1v1.5m0 1.5v1m0 0.9v1.2m0 1v0.6m0 0v0.5m0 0v0.8m0 0v0.6m0 0v0.8m0 2v0.8m0 0.5v1m0 2v1.2m0 0.6v2m0 5v0.8m0 0v0.8m0 0v1.2m0 2.8v1.5m0 0v0.6m0 4.5v0.9m0 1.5v1m0 1.8v0.8m0 0v0.9m0 1.2v0.9m0 0v1m0 0v0.9m0 1.2v0.5m0 0v1.2m0 0v1.2m0 3.6v0.5m0 0v2m0 0v2m0 0.8v1.2m0 0.5v1.2m0 0.6v1m0 2v0.9m0 0.5v1m0 0v0.9m0 0v0.9m0 4v1.5m0 2.3v0.5m0 0v2m0 0v0.6m0 2.5v1m0 2.6v2m0 0v1m0 1.2v1m0 5.7v0.8M128.3 737.4v1m0 2v0.8m0 0v1.2m0 0.8v0.5m0 0v2m0 0v1.2m0 0v1m0 0v0.5m0 0v1.2m0 0v1m0 0v1m0 3.1v1m0 0v1.2m0 0v2m0 0v1m0 0v1.2m0 0v0.8m0 0v1.5m0 0v2m0 2.6v1.5m0 0v0.6m0 0v1m0 0.5v1m0 2v1.2m0 0v0.6m0 0v0.9m0 0v0.8m0 2v0.8m0 0v0.5m0 0.9v0.9m0 1v0.8m0 2.6v1.5m0 0v0.9m0 1.4v0.8m0 0v0.5m0 0v1.2m0 3.1v0.8m0 2v2m0 2.6v1m0 0v1m0 0.5v0.6m0 2v1m0 1.9v0.8m0 0v0.5m0 0v1.2m0 1v0.9m0 0v1m0 0v1m0 0v0.9m0 0v0.8m0 2.7v1m0 0v1.5m0 0v0.6m0 0v0.9m0 5v1.2m0 0v0.8m0 0v1m0 0v2m0 1.5v1.2m0 1.5v1.2m0 9.6v0.9m0 2.6v1m0 0.9v0.6m0 2v1m0 6.9v0.6m0 0v0.9m0 0v0.9m0 0v1m0 0v1m0 0v1.5m0 1.9v1m0 0.9v0.8m0 1.2v1m0 1.5v0.8m0 1.6v0.8m0 0v1m0 3.3v0.5M158.1 773.6v1.2m0 0.6v0.8m0 2.7v1m0 0v1.2m0 0v1m0 0v0.5m0 0v1m0 0v0.8m0 0v0.6m0 2v1m0 0v2m0 0.8v1.5m0 0v0.8m0 0v1.5m0 0v1.2m0 0v0.6m0 1.7v1m0 0.5v1.2m0 0v0.5m0 0v0.8m0 0v0.5m0 0v0.5m0 0v0.6m0 0v0.6m0 0.5v0.8m0 1v0.8m0 0v0.9m0 1.8v1m0 0v0.9m0 0.8v1.2m0 0v1m0 4.3v0.5m0 0v1m0 2.2v0.9m0 0.8v1m0 0v0.9m0 0v0.8m0 3.3v1m0 0.8v0.6m0 0v0.5m0 2v0.8m0 0v2m0 0v0.6m0 0v1.5m0 0v2m0 0v0.6m0 0v1.5m0 1.2v0.5m0 0v1.2m0 0v1.2m0 1.5v2m0 1.2v0.6m0 0v1.5m0 0v1m0 0v0.8m0 0.5v2m0 4.4v0.9m0 0.9v1.2m0 1v1.5m0 0v0.8m0 0v1m0 4.3v1.2m0 1v0.6M173.0 727.9v1.2m0 3.2v1.2m0 0v0.8m0 1v0.9m0 0v1.2m0 2.8v1m0 6.6v0.6m0 2v1.2m0 5.1v1m0 0v1.2m0 0.5v0.9m0 3.6v1m0 0v1m0 0v0.6m0 4v0.9m0 1v1m0 0v0.6m0 1.5v0.9m0 2v0.8m0 0v0.9m0 2.8v2m0 2.9v1m0 0v0.9m0 11.8v1m0 4.9v1m0 1v2m0 11.2v0.8m0 3v1.5m0 3.3v0.8m0 1.8v0.5m0 0v1.5m0 0v0.6m0 0.6v1m0 3.5v1m0 0v1.5m0 4.3v1m0 3v1m0 1.5v2m0 2.2v1m0 1v0.8m0 0v1m0 3.7v1.5m0 0v0.8m0 0v0.5m0 2.6v2m0 1.6v0.5m0 0v1.2m0 1v0.9m0 0v1m0 1v2m0 2.8v1m0 0v2m0 0v1M187.9 867.2v1m0 4.4v0.8m0 0v0.8m0 0v1m0 0v1m0 0v2m0 2.4v0.5m0 2.8v2m0 0.9v1m0 0v2M202.8 741.4v0.5m0 0v0.8m0 1v0.5m0 4.8v2m0 5v0.9m0 0v1m0 0v1m0 0v0.9m0 0v0.9m0 2.1v2m0 0v0.5m0 0v1.2m0 2.1v0.6m0 0v2m0 0v0.5m0 1v1m0 1v0.5m0 0v1.5m0 0v0.8m0 2.8v0.6m0 1.8v0.5m0 0.8v1.5m0 0v0.9m0 0v1.2m0 0v1.2m0 1.4v0.5m0 0.9v1.5m0 0.5v0.6m0 0v0.6m0 1v0.5m0 0.5v1m0 0v0.5m0 0v1.2m0 0v0.8m0 8.2v0.8m0 1v1m0 5.6v1m0 2.8v0.5m0 2.2v2m0 0.6v1m0 1.5v1m0 7.2v1m0 1v0.6m0 5.4v1m0 1.8v1m0 0v1m0 1v0.8m0 3v0.6m0 0.6v1.2m0 2v0.6m0 1v0.9m0 0v0.6m0 0.6v1.5m0 0v0.9m0 3.1v2m0 0.9v1.5m0 0.8v1.2m0 0.6v1.5m0 0v0.8m0 1.7v1m0 1.6v1m0 0v1.2m0 3v1.5m0 0v2M232.6 745.7v1m0 1.2v2m0 0v1m0 0.9v0.5m0 0.6v0.8m0 3.2v1.5m0 0.5v0.5m0 1.2v1m0 2v2m0 3.9v1m0 0v0.8m0 0.9v0.6m0 0v0.6m0 0.6v0.8m0 0v1.2m0 0v1.2m0 0v1m0 0.9v1.5m0 0.5v1m0 1.8v0.9m0 0v0.8m0 0v0.8m0 2.1v2m0 1v0.8m0 0.6v1.5m0 0v1.5m0 0v1m0 0.5v0.9m0 3v0.9m0 0v1m0 0v1.5m0 1v1.5m0 3.8v0.9m0 1.2v0.6m0 1.2v2m0 0.9v0.5m0 0v1m0 0v0.6m0 1.7v0.6m0 2.2v1.5m0 0v0.6m0 1.5v1.5m0 0v0.9m0 0v1.2m0 1.2v0.5m0 0v2m0 1v0.9m0 1.2v1m0 1.2v1.5m0 1v1.2m0 2v2m0 1v1m0 0v0.9m0 3.5v0.6m0 6.1v1m0 0v0.8m0 0.8v1m0 0.5v1m0 0v1.5m0 0.6v2m0 0v0.9m0 0v0.9m0 0.5v1.5m0 1v1m0 0v1m0 0.8v1.2m0 0v1m0 1.5v1.5m0 0v1m0 1v0.8m0 0v1.5m0 0.6v1.5m0 0v0.5M262.4 775.7v0.9m0 0v0.5m0 0v0.5m0 0v1.5m0 1.5v0.9m0 0v1.5m0 1.9v1.5m0 1.5v0.6m0 0v0.6m0 6.8v0.8m0 0v1.5m0 0.9v2m0 2v0.9m0 0.5v2m0 0v0.6m0 0v1m0 0v0.8m0 0v0.6m0 0v1.2m0 2v2m0 3.8v0.5m0 0.9v1.5m0 0v0.9m0 4v1.5m0 0v0.9m0 0v1m0 0.6v0.6m0 0v0.5m0 0v1m0 2v0.8m0 5.2v0.6m0 1v2m0 6.6v1m0 0v0.9m0 0v2m0 4.5v1.5m0 0.9v1m0 5.1v1.2m0 1v1.5m0 0v0.5m0 0v0.6m0 1.1v0.5m0 0v1.5m0 1.2v1.5m0 0.8v0.5m0 10.3v0.6M277.4 772.9v1.2m0 1v1m0 0.5v0.5m0 1.5v0.9m0 0v1.2m0 0.9v0.8m0 0v1m0 0v1.2m0 0v0.9m0 0v0.6m0 1v2m0 6.9v1.5m0 1.2v1.5m0 0v2m0 2v2m0 0.6v0.8m0 0v1m0 3.6v2m0 1v1m0 0v0.8m0 0v1m0 0v1m0 4v0.5m0 0.6v1.2m0 0.5v0.6m0 0v0.9M292.3 862.4v1m0 0v1m0 2v0.6m0 0v2m0 0v1m0 0.9v2m0 2.9v0.5m0 0v0.5m0 0v1.5m0 0v0.9m0 0v2m0 0v1m0 0.5v0.5m0 6.3v0.5" stroke="#e2432d" stroke-opacity="0.95" stroke-width="5.0"/>
<path d="M35.8 890.6V645.0A3.0 3.0 0 0 1 41.8 645.0V890.6M50.7 890.6V662.0A3.0 3.0 0 0 1 56.7 662.0V890.6M65.6 890.6V690.1A3.0 3.0 0 0 1 71.6 690.1V890.6M80.5 890.6V694.5A3.0 3.0 0 0 1 86.5 694.5V890.6M95.4 890.6V700.5A3.0 3.0 0 0 1 101.4 700.5V890.6M110.3 890.6V703.2A3.0 3.0 0 0 1 116.3 703.2V890.6M125.3 890.6V708.6A3.0 3.0 0 0 1 131.3 708.6V890.6M140.2 890.6V729.0A3.0 3.0 0 0 1 146.2 729.0V890.6M155.1 890.6V735.1A3.0 3.0 0 0 1 161.1 735.1V890.6M170.0 890.6V727.3A3.0 3.0 0 0 1 176.0 727.3V890.6M184.9 890.6V738.2A3.0 3.0 0 0 1 190.9 738.2V890.6M199.8 890.6V740.8A3.0 3.0 0 0 1 205.8 740.8V890.6M214.7 890.6V740.4A3.0 3.0 0 0 1 220.7 740.4V890.6M229.6 890.6V734.7A3.0 3.0 0 0 1 235.6 734.7V890.6M244.5 890.6V761.2A3.0 3.0 0 0 1 250.5 761.2V890.6M259.4 890.6V768.6A3.0 3.0 0 0 1 265.4 768.6V890.6M274.4 890.6V772.3A3.0 3.0 0 0 1 280.4 772.3V890.6M289.3 890.6V778.1A3.0 3.0 0 0 1 295.3 778.1V890.6M304.2 890.6V815.3A3.0 3.0 0 0 1 310.2 815.3V890.6M319.1 890.6V676.1A3.0 3.0 0 0 1 325.1 676.1V890.6" fill="none" stroke="#b4b4b4" stroke-width="0.8"/>
<path d="M42.6 642.8L43.0 644.9L43.2 646.2L43.6 648.0L43.6 650.6L43.8 652.1L43.9 654.7L43.3 657.1L43.7 659.7L43.6 662.8L43.8 665.3L43.6 666.5L45.2 668.0L43.8 669.6L43.9 671.9L43.5 673.4L43.8 674.8L43.6 676.4L43.9 679.2L43.5 680.9L43.4 682.7L43.8 684.1L43.5 687.1L43.8 688.7L43.9 691.8L43.5 694.5L43.8 697.5L43.9 700.3L43.7 701.6L43.8 704.0L43.9 707.1L43.7 709.1L43.5 711.1L43.8 712.8L44.0 714.5L43.8 716.5L43.6 718.2L43.8 720.5L43.7 721.9L43.8 723.6L43.4 726.2L43.7 728.0L43.5 730.7L43.6 733.7L43.9 736.3L43.7 737.7L43.7 739.4L43.5 741.1L43.6 744.0L43.5 745.8L43.5 747.4L43.6 749.7L43.7 752.5L43.9 755.1L44.7 756.8L43.6 758.7L44.0 761.3L43.7 764.2L43.7 766.6L43.7 768.5L43.9 770.6L43.8 772.2L43.7 774.1L43.6 775.7L43.7 778.3L43.6 781.2L43.6 784.1L43.6 787.0L43.7 788.2L43.8 790.7L43.8 792.7L43.7 794.3L43.8 795.9L43.8 797.9L43.7 800.2L43.5 802.8L43.9 805.5L43.7 807.4L43.8 809.3L43.8 812.1L43.7 815.1L43.6 816.4L43.7 819.0L43.9 821.8L43.9 824.6L43.6 826.4L43.8 829.4L43.8 832.2L43.8 834.3L43.7 836.8L43.4 839.9L43.8 841.7L43.7 843.5L43.6 846.5L43.3 849.0L43.6 851.2L43.9 853.9L43.9 857.0L43.6 859.2L43.8 860.8L43.9 863.5L43.8 866.1L43.7 869.2L43.8 870.9L43.6 874.0L43.4 876.1L43.6 878.0L43.8 879.3L43.9 880.7L43.7 882.6L43.9 885.2L43.6 887.6L43.7 890.3M57.5 659.8L58.1 662.8L58.4 664.5L58.3 667.1L58.6 669.5L58.6 672.5L58.7 674.0L58.9 675.9L58.6 678.9L58.8 681.5L58.5 683.2L58.5 685.9L58.7 688.0L58.6 690.9L58.6 692.4L59.8 695.4L58.6 697.7L58.9 700.8L58.8 702.6L58.5 704.6L58.5 707.3L58.3 709.0L58.5 711.7L58.5 712.9L58.7 715.3L58.6 717.9L58.6 720.6L58.4 722.5L58.5 725.1L58.4 728.3L58.4 731.0L58.6 734.0L59.6 736.3L58.7 737.9L58.5 740.9L58.8 743.5L58.6 746.6L58.7 748.8L58.7 751.0L58.5 753.9L58.7 755.3L58.6 756.6L58.4 759.7L58.7 761.4L58.7 764.1L58.7 765.6L58.4 766.9L58.7 769.8L58.4 772.5L58.7 774.3L58.8 776.5L58.7 778.3L58.6 781.2L58.8 782.9L58.5 784.9L58.7 786.4L58.6 788.7L58.4 790.5L58.8 793.0L58.6 794.5L58.5 796.6L58.7 798.5L58.5 800.0L58.6 802.0L58.7 804.7L58.5 807.4L58.9 809.9L58.6 812.3L58.7 814.0L58.6 815.9L58.7 818.9L58.7 821.0L58.7 823.2L58.3 824.5L58.6 826.9L58.9 828.7L58.6 831.8L58.7 834.8L58.5 836.3L58.6 838.9L58.8 840.4L58.4 843.5L58.5 846.5L58.8 849.2L58.5 850.6L58.7 853.7L58.5 856.6L58.6 857.8L58.4 860.2L58.2 862.3L58.5 864.0L58.3 865.7L58.7 867.7L58.5 869.0L58.7 871.2L58.8 873.5L58.6 875.3L58.6 878.5L58.4 879.7L58.5 882.8L58.6 884.3L58.6 886.3L58.4 889.4L58.6 890.3M72.4 687.9L72.8 690.0L73.1 691.7L73.4 693.0L73.7 695.2L73.3 696.8L73.6 699.8L73.7 702.5L73.5 705.3L73.2 707.1L73.6 709.2L73.4 711.2L73.6 713.9L73.2 716.1L73.7 717.9L74.8 721.0L73.5 723.5L73.5 726.0L73.7 727.8L73.7 730.1L73.3 731.9L73.7 734.9L73.6 736.9L73.7 739.7L73.4 742.6L73.7 745.2L73.4 747.2L73.7 748.5L73.7 749.7L73.4 752.1L73.7 753.6L73.4 756.2L73.4 757.6L74.5 759.4L73.6 761.0L73.6 764.1L73.6 766.8L74.8 769.3L73.4 772.4L73.7 775.4L73.7 777.1L73.5 780.3L73.6 782.1L73.5 783.8L73.7 786.4L73.5 788.1L73.6 790.7L73.8 791.9L73.6 793.5L73.6 796.5L73.6 799.3L73.4 801.4L73.6 803.8L74.9 806.8L73.4 809.9L73.4 811.2L73.4 813.5L73.6 815.5L73.6 816.9L73.4 819.4L73.3 820.8L73.6 822.5L73.5 825.0L73.6 827.4L73.6 828.7L73.8 831.7L73.5 833.5L73.6 835.3L73.5 836.9L73.2 838.9L73.6 841.0L73.5 843.1L73.1 844.9L73.5 847.9L73.6 850.4L73.1 853.6L73.6 856.2L73.4 859.1L73.6 861.6L73.7 864.3L73.4 865.8L73.7 867.9L73.5 870.3L73.5 872.5L73.5 875.3L73.5 876.5L73.7 878.7L73.8 880.8L73.4 882.9L73.6 885.7L73.7 887.8L73.5 890.3M87.3 692.3L87.6 693.7L88.1 696.6L88.2 698.1L88.4 700.0L88.6 702.5L88.3 705.4L88.5 708.1L88.3 709.3L88.2 710.8L88.6 713.3L88.4 715.3L88.5 717.4L88.3 720.5L88.5 723.0L88.5 724.8L90.2 727.3L88.5 730.4L88.6 732.8L88.1 734.7L88.6 736.0L88.3 738.1L88.4 740.1L88.5 742.6L88.3 744.6L88.4 747.6L88.5 749.9L88.2 751.7L88.5 753.8L89.7 756.9L88.5 758.2L88.4 760.1L88.5 761.6L88.3 764.3L88.1 766.9L88.5 768.5L88.4 771.0L88.3 774.1L88.3 777.2L88.4 779.8L88.5 781.7L88.2 783.0L88.6 784.7L88.5 787.2L88.6 789.6L88.3 790.9L88.4 792.3L88.4 795.4L88.5 797.2L88.1 798.9L88.5 800.6L88.3 802.9L88.3 804.8L88.5 807.8L89.6 809.3L89.8 810.6L88.6 812.5L88.4 814.7L88.5 817.9L88.3 820.4L88.8 823.4L88.8 826.3L88.4 829.1L88.5 830.4L88.4 832.1L88.6 833.8L88.5 836.2L88.4 838.1L88.3 841.1L88.5 843.3L88.5 845.0L88.7 847.3L88.2 848.5L88.3 850.4L88.3 851.9L88.6 854.9L88.5 857.8L88.5 859.3L88.6 862.2L88.4 865.2L88.6 866.4L88.3 868.0L88.4 869.9L88.4 872.6L89.6 875.0L88.3 876.8L88.4 879.8L88.2 881.3L88.3 884.3L88.7 886.9L88.1 888.5L88.6 889.8L88.4 890.3M102.2 698.3L102.6 700.3L102.9 701.6L103.1 702.9L103.4 704.4L103.5 706.9L103.0 709.7L103.3 711.1L103.4 713.9L103.6 717.1L103.6 718.3L103.2 721.2L103.6 723.6L103.5 725.6L103.4 727.0L103.3 729.4L103.0 731.9L103.4 734.6L103.2 737.8L103.3 740.8L103.1 743.6L103.4 746.2L103.3 749.4L103.5 751.5L103.5 753.8L103.4 755.5L103.3 756.9L103.1 759.5L103.1 761.2L103.4 763.7L103.4 765.9L103.5 768.1L103.5 769.3L103.3 772.1L104.6 775.0L102.9 777.5L103.5 778.8L103.6 781.7L103.2 783.7L103.3 785.8L103.4 788.7L103.2 790.4L103.5 793.5L103.3 796.3L103.3 799.4L103.4 801.8L103.5 804.3L103.6 806.7L103.4 808.1L103.5 810.6L103.3 813.1L103.7 814.3L103.6 817.4L103.6 819.6L103.4 822.0L103.4 824.6L103.5 827.4L103.2 829.4L103.6 830.7L103.2 832.1L103.3 834.2L103.4 836.0L103.4 838.1L103.5 839.6L103.0 840.8L103.3 842.7L103.3 844.4L103.2 846.6L104.4 848.5L103.4 850.6L103.4 852.0L103.3 854.2L103.4 856.9L103.5 859.6L104.9 862.4L103.4 864.9L103.4 867.5L103.3 869.9L103.5 871.3L104.8 873.1L103.3 875.0L103.6 876.5L103.4 879.0L103.1 882.0L103.0 884.0L103.4 886.1L103.2 887.3L103.3 890.3M117.1 701.0L117.6 703.2L118.0 705.6L118.2 707.1L118.1 709.2L118.4 710.7L118.2 712.5L118.1 714.1L119.7 716.7L118.1 717.9L118.2 720.6L118.1 722.1L118.2 725.2L118.4 727.3L118.3 729.0L118.2 731.2L118.2 734.0L118.1 735.2L118.3 737.7L118.4 740.5L119.2 743.3L118.4 745.9L118.1 747.2L118.1 749.0L118.3 751.4L118.3 754.2L118.1 755.7L118.3 758.8L118.4 760.0L118.3 763.2L118.2 766.1L118.2 767.5L118.3 769.1L118.4 772.0L118.1 774.0L118.3 776.9L118.0 779.8L118.2 782.1L118.4 784.2L118.3 785.5L118.1 788.3L118.3 791.3L118.3 792.5L118.2 795.7L118.3 798.4L118.1 799.9L118.3 801.4L119.2 802.8L118.1 805.0L118.2 806.6L118.2 807.9L117.9 809.6L118.3 811.4L118.5 813.7L118.0 815.0L118.3 817.6L118.4 820.4L118.2 823.1L118.2 825.2L119.3 826.6L118.3 828.8L118.2 830.3L118.4 832.9L118.3 835.0L118.3 836.3L118.3 838.5L118.3 840.4L117.9 843.5L118.4 846.3L118.2 848.5L118.3 850.9L118.1 852.7L118.5 854.7L118.2 856.3L118.1 859.3L118.2 860.9L118.6 862.6L118.0 865.4L118.3 868.5L118.2 869.9L118.5 872.9L118.3 874.3L118.1 877.0L118.2 879.9L118.4 881.4L118.2 882.8L118.4 884.3L118.1 886.1L118.2 887.5L118.4 890.1L118.2 890.3M132.0 706.4L132.4 708.5L132.9 711.0L133.5 713.7L133.2 715.6L133.1 718.5L133.1 721.5L133.2 724.2L133.0 726.1L133.4 728.1L133.2 730.5L133.0 732.2L133.3 734.5L133.1 736.3L133.2 738.9L132.9 740.5L133.7 742.9L133.3 744.8L133.2 747.9L133.2 750.7L133.1 753.4L133.1 754.8L133.1 756.1L133.2 758.5L133.2 760.4L133.3 761.6L133.1 763.4L133.3 765.4L132.9 767.6L133.2 770.0L133.2 771.4L133.4 773.0L133.3 775.8L133.0 777.5L133.1 779.8L133.1 782.0L134.2 783.5L133.2 786.7L133.1 788.6L133.2 790.3L133.2 792.1L133.0 793.5L133.0 796.5L133.5 799.4L133.0 801.6L133.1 804.0L133.2 805.4L133.4 808.3L133.1 810.8L133.1 813.5L133.3 815.9L133.1 817.2L133.0 820.0L133.0 823.2L134.6 825.4L133.3 828.3L133.2 830.1L133.0 831.4L133.1 834.5L133.4 837.4L132.9 839.9L133.1 842.9L133.2 844.1L134.3 846.9L133.2 848.6L133.3 851.6L133.0 853.1L133.3 856.1L133.3 859.1L133.1 861.2L133.2 863.7L133.2 865.8L133.1 868.0L133.2 870.7L133.3 873.2L133.2 874.8L133.3 877.8L133.2 879.9L133.1 881.8L132.9 884.9L133.2 886.5L133.2 887.9L133.2 890.3M146.9 726.8L147.5 729.5L147.9 731.5L148.1 733.1L148.1 735.2L148.3 738.0L148.3 739.2L148.3 742.1L148.1 743.9L148.1 745.4L148.2 747.2L148.2 749.6L148.0 751.2L147.9 753.4L148.1 755.1L148.0 756.8L148.0 759.5L148.2 762.4L148.2 764.7L148.2 767.6L148.1 770.8L148.1 772.2L148.1 775.2L148.2 778.2L148.1 780.9L148.1 783.7L148.0 785.5L149.4 787.5L147.9 789.8L147.8 791.9L148.1 793.3L148.1 795.4L148.4 797.1L148.0 799.8L147.9 801.2L148.0 803.3L147.9 805.3L148.2 807.9L148.1 810.6L148.1 812.6L148.1 814.6L148.1 816.9L148.1 818.5L147.9 821.6L148.2 822.9L148.0 825.3L148.1 827.6L149.2 830.3L148.2 833.2L148.2 835.2L148.0 836.8L147.8 839.6L147.9 841.8L148.3 844.1L148.0 846.0L147.7 849.0L148.1 851.5L147.9 853.7L148.1 856.2L148.4 857.4L148.1 859.2L147.8 861.6L148.2 862.9L148.0 864.9L148.2 867.6L148.1 870.7L148.1 873.8L148.0 876.9L148.1 878.6L148.1 881.3L147.8 882.6L148.0 885.5L148.2 888.1L148.1 890.3M161.8 732.9L162.2 734.8L162.6 736.8L162.7 738.3L162.9 740.7L163.2 743.7L163.3 746.3L163.1 748.3L162.7 750.3L162.6 753.4L163.2 756.1L163.8 757.4L162.9 759.1L163.1 761.6L162.9 764.6L164.3 765.8L163.0 767.1L164.4 769.0L162.8 770.5L162.7 772.7L162.9 774.6L162.8 777.4L163.2 779.1L163.1 781.8L162.8 784.9L164.4 788.0L162.8 791.2L163.1 792.8L163.0 795.2L163.0 798.4L162.9 800.6L163.0 802.0L163.0 803.4L163.2 806.2L162.9 809.0L163.0 812.2L163.2 813.6L163.0 815.5L163.0 817.3L163.1 819.3L163.1 821.8L162.8 824.5L162.9 826.7L163.1 828.6L163.0 830.4L163.0 831.7L162.9 833.7L163.0 836.3L163.0 839.2L163.1 842.4L163.0 845.5L162.7 848.2L162.8 851.0L162.9 853.5L164.4 856.0L163.1 857.4L163.3 858.9L163.0 861.2L163.0 863.7L163.1 866.9L163.0 868.9L162.9 871.1L163.0 873.0L163.0 874.7L162.6 876.7L162.8 879.0L162.9 880.8L162.9 882.5L163.1 884.6L163.1 887.1L163.1 888.4L162.9 889.8L163.0 890.3M176.8 725.1L177.3 727.6L177.5 728.9L178.1 731.7L178.2 733.4L178.0 735.0L177.9 737.6L177.7 740.2L177.9 742.7L178.1 744.5L177.8 745.8L177.8 748.6L178.1 750.8L177.8 753.1L178.0 756.2L177.7 759.1L178.0 761.8L177.6 763.5L177.7 764.8L178.2 767.2L178.0 769.7L177.8 772.1L178.0 774.0L178.0 776.8L178.0 778.4L178.1 781.0L177.9 782.3L177.9 784.1L177.9 786.1L177.9 789.0L177.5 791.3L179.5 794.2L178.1 797.2L177.8 799.3L177.6 800.6L178.2 802.8L177.6 805.1L177.7 807.0L178.0 810.2L179.2 812.7L177.9 814.9L177.7 817.2L177.9 819.9L177.7 822.1L177.9 825.2L177.8 826.9L177.8 829.4L178.0 831.1L178.1 833.9L177.8 836.4L178.1 838.2L177.8 841.1L177.9 843.9L177.8 845.2L178.0 846.8L177.9 849.7L177.7 852.7L178.0 854.9L178.1 857.7L178.1 860.4L177.7 862.4L177.9 863.9L177.8 865.3L178.0 868.3L178.2 869.7L177.8 871.0L177.6 872.9L178.0 874.5L177.9 876.8L177.7 879.0L177.9 880.8L178.0 882.2L177.9 884.4L177.9 887.0L178.0 889.2L177.9 890.3M191.7 736.0L192.1 738.2L192.4 739.9L192.7 742.7L192.9 745.2L192.6 747.0L192.9 748.8L193.1 751.7L193.0 753.5L192.8 756.0L193.0 757.4L192.9 758.9L192.8 760.6L192.8 763.5L192.8 765.5L192.5 768.2L192.6 769.9L192.6 771.7L192.7 774.2L192.8 776.9L192.8 779.7L192.9 781.1L193.0 783.8L192.9 786.1L193.0 788.8L192.7 791.1L192.7 792.6L192.7 794.3L193.0 796.8L192.7 799.3L192.8 802.5L192.9 804.0L192.8 805.9L192.7 807.2L192.7 809.5L193.1 812.4L192.9 813.7L192.6 815.8L192.8 817.4L192.9 819.5L193.0 821.7L192.8 823.7L192.9 825.6L192.8 827.2L192.8 829.4L192.9 831.7L193.0 833.8L192.9 836.6L193.0 838.9L192.6 840.9L192.9 842.9L193.1 845.4L192.7 846.8L193.0 848.2L192.8 850.5L192.8 852.7L193.0 854.5L192.9 857.1L193.1 860.2L192.6 861.4L192.9 864.0L192.7 867.1L193.0 869.6L192.9 872.5L192.9 874.8L192.7 876.9L193.1 878.2L192.5 880.1L192.7 882.6L192.8 885.8L193.0 887.1L192.4 889.9L192.8 890.3M206.6 738.6L207.0 740.7L207.4 742.6L207.9 745.1L207.8 747.3L207.8 748.8L207.6 750.1L207.7 753.0L208.2 755.4L207.8 757.5L207.8 759.2L207.7 761.4L207.7 764.2L207.4 766.0L207.7 768.6L207.4 771.3L207.5 773.4L207.7 776.4L207.9 779.2L207.5 781.0L208.0 784.2L207.8 786.7L209.2 788.5L207.8 790.1L207.9 791.4L207.8 793.6L208.1 795.5L207.8 798.3L207.8 800.5L207.8 803.6L207.6 805.1L207.6 806.7L207.7 808.2L207.6 811.2L207.9 814.1L207.7 815.4L207.9 817.8L207.8 819.2L207.8 821.7L207.7 823.2L207.6 825.8L207.9 828.6L207.4 830.3L207.6 833.0L207.7 834.8L207.8 836.6L207.7 839.3L207.7 840.8L208.8 843.4L207.9 845.5L207.7 847.3L207.7 849.3L207.7 851.2L207.7 853.4L207.6 855.6L207.5 857.8L207.6 860.4L207.6 862.1L207.8 863.8L207.7 866.1L207.8 868.3L207.6 869.6L207.7 872.4L207.4 875.4L207.7 877.3L207.7 879.5L207.7 882.3L207.8 884.5L207.6 885.8L207.9 887.8L207.6 890.0L207.7 890.3M221.5 738.2L222.1 741.1L222.7 744.1L222.6 745.5L222.6 746.8L222.6 749.8L222.6 751.0L222.6 753.7L222.8 755.1L222.7 756.5L222.8 758.5L222.7 760.4L222.6 763.1L222.4 765.7L222.6 767.2L222.6 770.1L222.7 773.2L222.7 775.6L222.6 777.1L222.6 779.9L223.9 781.8L222.4 784.3L222.4 786.2L222.4 789.3L222.6 792.1L222.4 793.4L222.4 796.5L222.7 798.4L222.7 801.2L222.6 802.6L222.8 805.5L222.5 806.9L222.4 808.8L222.4 812.0L222.8 814.6L222.5 816.0L222.7 818.1L222.6 820.1L222.9 823.2L222.8 826.0L222.7 828.6L222.7 830.7L222.6 833.3L222.8 835.4L222.3 837.7L222.7 839.7L222.7 841.8L222.8 843.5L222.7 845.3L222.4 847.9L222.8 849.7L222.7 851.2L222.6 852.8L222.8 854.5L222.8 857.1L222.7 859.9L222.6 861.3L222.7 862.8L222.5 865.4L222.7 867.8L222.5 870.0L222.7 873.2L222.6 875.1L222.7 877.8L222.5 880.2L222.6 882.3L222.8 884.3L222.8 886.2L222.7 889.3L222.6 890.3M236.4 732.5L236.9 734.9L237.7 738.0L237.6 739.2L237.6 741.9L237.3 744.6L237.5 746.5L237.4 749.3L237.4 750.7L237.8 753.0L237.6 755.1L237.4 756.5L237.3 757.8L237.1 760.9L237.5 763.2L237.4 765.7L237.5 768.1L237.8 771.1L237.4 772.7L237.7 775.2L237.7 777.8L237.7 780.1L237.3 783.0L237.5 785.6L237.6 787.1L237.4 789.9L237.7 792.7L237.5 795.6L237.3 797.0L237.5 799.0L237.7 800.7L237.7 802.5L237.4 805.5L239.0 806.7L237.4 809.3L237.7 812.0L237.6 814.3L237.4 816.7L237.6 819.8L237.5 822.9L237.4 824.8L237.6 827.0L237.8 828.2L237.5 831.1L237.6 833.7L237.7 835.0L237.6 836.5L237.5 838.6L237.7 840.4L237.7 842.6L237.6 844.9L237.4 847.6L237.6 850.4L237.5 851.7L237.5 853.1L237.6 856.0L237.6 858.7L237.5 861.8L237.3 863.2L237.5 865.0L237.5 866.6L237.4 869.7L237.6 872.0L237.6 873.7L237.6 875.4L237.3 877.2L237.5 879.7L237.4 881.5L237.5 882.7L237.5 884.3L237.7 886.1L237.5 888.5L237.5 890.3M251.3 759.0L251.8 761.4L252.1 762.8L252.7 765.1L252.4 768.1L252.3 771.0L252.4 773.2L253.7 775.0L252.5 777.9L252.5 779.8L253.9 781.6L252.6 783.1L252.4 785.7L252.2 787.9L252.3 790.4L252.3 791.8L252.5 793.4L252.4 795.6L252.2 797.5L252.2 798.9L252.5 801.9L252.4 804.9L252.5 807.5L252.2 809.6L252.5 811.8L252.6 814.6L252.4 816.0L252.4 817.6L252.6 820.5L252.4 822.2L252.5 824.4L252.2 826.7L252.6 829.4L252.3 830.9L252.4 833.4L253.3 836.0L252.4 837.4L252.6 840.5L252.5 842.8L252.5 845.4L252.5 847.7L252.5 849.9L252.5 852.2L252.4 854.4L252.6 856.8L252.0 859.8L252.4 862.7L252.6 864.0L252.2 865.8L252.7 867.9L252.6 869.4L252.4 871.5L252.9 874.6L252.8 877.5L252.3 879.2L252.5 881.1L252.5 883.5L252.4 884.8L252.6 887.2L252.1 889.4L252.4 890.3M266.2 766.4L266.7 768.8L267.2 771.2L267.2 773.4L267.1 775.5L267.3 777.9L267.3 780.4L267.3 782.2L267.5 785.2L267.2 786.6L267.2 789.6L267.4 791.7L267.2 793.8L267.2 795.4L267.3 798.3L267.7 801.3L267.4 804.4L267.5 805.7L267.4 807.8L267.5 810.5L267.1 812.7L267.5 814.7L267.2 816.7L267.4 819.3L267.0 822.5L267.4 824.2L267.7 826.2L267.2 828.4L267.3 830.9L268.8 832.5L267.2 835.5L267.4 836.9L267.3 838.8L267.5 840.5L267.5 843.3L267.5 845.4L267.3 848.3L267.4 850.9L267.1 853.5L267.2 854.9L267.2 857.8L267.3 860.9L267.4 863.4L267.3 865.9L267.4 867.8L267.4 869.5L267.6 871.9L267.6 874.4L267.1 877.1L267.3 879.1L267.3 880.7L267.4 882.4L267.3 883.8L267.2 886.2L267.4 889.3L267.3 890.3M281.1 770.1L281.4 771.7L281.9 774.0L282.2 775.9L282.2 777.8L282.4 779.6L282.2 781.8L282.1 784.3L282.5 787.3L282.3 789.5L282.2 792.6L282.5 794.1L282.4 795.4L282.5 797.6L282.5 800.5L282.3 802.7L283.1 805.0L282.2 807.0L282.2 808.7L282.2 811.3L282.3 813.5L282.3 815.5L282.3 818.3L282.3 820.7L282.3 823.1L282.2 825.5L282.2 828.1L282.3 829.6L282.0 831.9L282.3 833.9L282.2 835.9L282.4 837.5L282.2 840.1L282.1 842.2L282.2 844.2L282.0 846.8L282.4 850.0L282.3 851.2L282.1 853.9L282.4 856.8L282.2 859.6L282.3 862.2L282.3 863.6L282.3 866.1L282.0 868.7L282.4 871.4L282.1 873.6L282.3 876.8L282.5 879.5L282.2 881.6L282.3 883.0L282.1 885.8L282.4 887.7L282.3 890.3M296.0 775.9L296.3 777.4L296.6 778.8L298.6 781.7L297.2 784.4L297.1 787.3L297.2 788.6L297.1 790.5L297.2 793.2L297.4 794.5L298.9 796.3L297.1 798.8L297.1 800.2L297.1 802.5L296.9 803.7L297.0 805.8L297.1 808.1L296.9 809.9L297.4 812.2L297.3 813.4L297.1 816.3L297.3 819.5L297.4 822.6L297.3 824.1L297.1 825.7L296.9 827.4L297.2 829.7L297.1 832.8L297.3 834.3L297.2 836.5L297.2 839.6L297.1 842.8L297.1 844.0L297.3 847.0L297.1 848.7L297.2 850.5L297.0 852.6L297.3 854.6L297.2 856.0L297.1 857.6L297.3 860.1L297.1 862.5L297.3 865.3L297.0 866.8L297.2 868.1L297.1 869.7L297.3 871.1L297.2 872.5L297.2 875.3L297.1 877.2L297.2 878.7L297.2 880.1L297.0 881.7L297.2 884.9L297.3 887.5L297.2 890.3M310.9 813.1L311.3 815.1L311.7 817.1L313.8 818.9L312.1 821.2L311.9 822.8L312.0 824.0L311.9 825.5L312.1 827.4L313.1 829.2L312.0 831.0L312.3 833.6L311.9 836.3L312.1 839.4L312.1 842.1L312.0 845.1L311.9 846.5L311.9 847.9L312.2 850.5L312.0 852.9L312.2 854.5L312.2 856.7L313.0 859.8L312.1 862.3L312.2 864.4L311.9 866.7L312.2 868.6L312.0 870.5L311.9 873.3L312.3 876.3L312.0 879.3L312.2 880.6L313.2 881.9L312.3 884.0L312.0 886.3L312.2 889.0L312.1 890.3M325.9 673.9L326.1 675.3L326.5 677.4L326.8 678.8L326.9 681.0L327.0 683.2L327.1 684.4L326.8 687.3L326.6 689.4L326.8 691.8L326.9 694.2L327.0 696.9L327.2 699.7L327.0 702.3L327.1 705.0L327.0 707.1L326.8 708.8L326.9 711.0L327.1 712.7L327.0 715.4L326.8 717.7L327.1 720.8L327.0 722.9L327.4 726.0L326.8 727.9L327.3 730.7L327.2 733.0L327.0 735.9L327.0 737.8L326.7 740.2L327.3 742.3L326.9 745.1L327.1 747.7L326.7 749.8L327.3 751.3L327.1 752.6L326.9 754.8L326.8 756.2L327.0 757.7L326.8 759.8L327.0 761.6L326.9 762.9L327.1 765.4L327.1 766.6L327.2 768.8L327.0 771.3L326.8 774.4L327.0 776.1L327.2 779.2L326.8 781.5L327.0 784.6L327.2 786.0L327.1 788.9L327.0 791.2L326.7 794.3L327.0 796.0L327.2 798.3L327.0 799.6L328.4 801.9L327.0 805.0L326.9 806.2L326.9 808.7L327.1 810.3L327.1 812.5L327.0 814.0L327.0 816.0L326.8 818.0L327.3 819.3L327.0 821.1L326.7 823.7L326.8 825.9L326.8 828.7L327.0 830.8L327.1 833.7L327.0 835.9L326.9 837.4L327.1 838.7L326.9 839.9L326.8 841.6L326.9 843.5L327.1 845.9L327.0 848.9L327.1 851.7L327.3 853.1L326.7 855.7L327.1 857.5L327.3 860.4L327.2 861.6L327.1 863.3L327.3 865.5L327.1 867.6L326.7 870.8L327.1 873.6L326.9 876.2L327.0 878.0L327.0 880.8L326.9 882.9L327.1 884.6L326.9 887.3L326.9 889.0L327.0 890.3" fill="none" stroke="#8a6ed0" stroke-width="0.8" stroke-linejoin="round"/>
<path d="M32.8 676.3l12 8m0 -8l-12 8M32.8 869.2l12 8m0 -8l-12 8M62.6 881.5l12 8m0 -8l-12 8M122.3 733.3l12 8m0 -8l-12 8M152.1 874.3l12 8m0 -8l-12 8M181.9 862.3l12 8m0 -8l-12 8M271.4 824.0l12 8m0 -8l-12 8M286.3 850.3l12 8m0 -8l-12 8" stroke="#1e1e1e" stroke-width="1.45"/>
<text x="41.2" y="900.9" font-size="8.3" text-anchor="end" fill="#222">chr 1</text>
<text x="53.7" y="900.9" font-size="8.3" text-anchor="middle" fill="#222">2</text>
<text x="68.6" y="900.9" font-size="8.3" text-anchor="middle" fill="#222">3</text>
<text x="83.5" y="900.9" font-size="8.3" text-anchor="middle" fill="#222">4</text>
<text x="98.4" y="900.9" font-size="8.3" text-anchor="middle" fill="#222">5</text>
<text x="113.3" y="900.9" font-size="8.3" text-anchor="middle" fill="#222">6</text>
<text x="128.3" y="900.9" font-size="8.3" text-anchor="middle" fill="#222">7</text>
<text x="143.2" y="900.9" font-size="8.3" text-anchor="middle" fill="#222">8</text>
<text x="158.1" y="900.9" font-size="8.3" text-anchor="middle" fill="#222">9</text>
<text x="173" y="900.9" font-size="8.3" text-anchor="middle" fill="#222">10</text>
<text x="187.9" y="900.9" font-size="8.3" text-anchor="middle" fill="#222">11</text>
<text x="202.8" y="900.9" font-size="8.3" text-anchor="middle" fill="#222">12</text>
<text x="217.7" y="900.9" font-size="8.3" text-anchor="middle" fill="#222">13</text>
<text x="232.6" y="900.9" font-size="8.3" text-anchor="middle" fill="#222">14</text>
<text x="247.5" y="900.9" font-size="8.3" text-anchor="middle" fill="#222">15</text>
<text x="262.4" y="900.9" font-size="8.3" text-anchor="middle" fill="#222">16</text>
<text x="277.4" y="900.9" font-size="8.3" text-anchor="middle" fill="#222">17</text>
<text x="292.3" y="900.9" font-size="8.3" text-anchor="middle" fill="#222">18</text>
<text x="307.2" y="900.9" font-size="8.3" text-anchor="middle" fill="#222">19</text>
<text x="322.1" y="900.9" font-size="8.3" text-anchor="middle" fill="#222">X</text>
<path d="M190.1 640.2h21" stroke="#2a78b8" stroke-width="3"/>
<path d="M190.1 650.4h21" stroke="#e2432d" stroke-width="3"/>
<path d="M190.1 661.2h21" stroke="#8a6ad0" stroke-width="0.9"/>
<path d="M196.4 668.4l8 6m0 -6l-8 6" stroke="#1e1e1e" stroke-width="1.2"/>
<text x="215.7" y="643.1" font-size="8.3" fill="#222">Paternal haplotype</text>
<text x="215.7" y="653.5" font-size="8.3" fill="#222">Maternal haplotype</text>
<text x="215.7" y="664" font-size="8.3" fill="#222">Coverage</text>
<text x="215.7" y="674.4" font-size="8.3" fill="#222">HMM inferred crossover</text>
<text x="2.8" y="642.5" font-size="12" font-weight="bold" fill="#000">h</text>
<path d="M387.3 647.2v0.6m0 1.8v1.2m0 21.6v2m0 22.8v0.5m0 6.5v0.5m0 15v0.9m0 0v2M417.1 703.9v1.5m0 0.6v0.9m0 0.8v1m0 9v0.8m0 0v0.9m0 15.1v1m0 10.5v1m0 8.6v0.9m0 34.1v0.9m0 9.4v0.6m0 6.4v1.5m0 3.5v0.5m0 9.6v0.9m0 5.5v1m0 38v1m0 5.6v0.9m0 4v1.2m0 1.2v2m0 0v1.2M432.0 699.6v0.9m0 3.1v1.2m0 7.1v1.5m0 4.3v2m0 4.1v1m0 1v0.5m0 7.6v0.6m0 47.7v1.2m0 0v0.6m0 3.3v2m0 5.9v0.5m0 4.8v1.2m0 9.7v1m0 14.8v0.8m0 4.8v0.9m0 14.3v1m0 10.2v1.5m0 13.9v1.2m0 4.4v1M446.9 860.5v0.6m0 20.1v0.8m0 5.7v0.9M461.9 726.1v0.5m0 3.5v2m0 12.3v1m0 6.2v0.6m0 0v0.9m0 5.8v0.9m0 0.9v1.2m0 3.3v2m0 15.1v1.5m0 0.5v2m0 37v0.9m0 2v1.2M491.7 736.0v0.6m0 51.8v1m0 8.7v1.5m0 10.2v1m0 0v0.5m0 10.4v1.2m0 0.5v1.5m0 26.6v0.5m0 6.9v1.2m0 0.8v1m0 10.9v1m0 0v0.9m0 9.4v1.2M506.6 798.8v2m0 12.4v0.5m0 0.8v0.9m0 5.5v1m0 23.5v0.6m0 12.5v0.8m0 6.8v0.8m0 7.4v1.5m0 4.4v1m0 5.6v2M521.5 808.9v0.8m0 69.9v0.9M536.4 874.0v0.8m0 3.2v0.5m0 1v1.5M551.3 748.1v0.5m0 14.9v0.8m0 1.6v1m0 6.5v0.5m0 12.3v0.8m0 11.9v0.8m0 6v1m0 1.5v1.2m0 4.1v1.5m0 14.9v1m0 2.3v1.5m0 4.3v1m0 13.3v1m0 15.4v1.5m0 7.9v2M566.2 818.0v1.5m0 16v0.9m0 11.4v0.9m0 0v0.9m0 8.3v0.6m0 25.7v1M581.1 743.2v0.9m0 0v0.9m0 0v1m0 7.5v1m0 6.2v2m0 17.3v1m0 0v0.9m0 4.9v0.8m0 9.7v2m0 0.6v1m0 4.4v2m0 1.7v0.9M596.0 766.9v0.9m0 25.8v0.9m0 0.5v0.8m0 0v1m0 6v1m0 20.2v0.8m0 1v1m0 18.3v0.8m0 1.2v2m0 21.2v0.6m0 17.6v1M611.0 780.7v0.8m0 11.4v2m0 5.2v2m0 36.9v0.5m0 4.5v1m0 2.8v1m0 0.5v1m0 4.2v1m0 2v1.2m0 19.7v1M625.9 854.7v2m0 2.1v1m0 10.5v1m0 14.3v1m0 0v0.8M640.8 878.3v0.9m0 6.5v2M655.7 862.6v1.5m0 5.1v0.8m0 2.3v0.9" stroke="#2a78b8" stroke-opacity="0.3" stroke-width="5.0"/>
<path d="M387.3 651.3v1.2m0 12.5v1.2m0 1.5v2m0 7.1v0.9m0 3.2v1.5m0 0v1.5m0 1v1.5m0 2.2v0.6m0 0v1.2m0 1.5v2m0 0v0.8m0 1.5v1m0 4.1v0.6m0 0.8v0.5m0 4.1v0.5m0 10.9v1m0 3.5v0.5m0 0v0.6M417.1 690.7v2m0 0v2m0 0v2m0 22.7v0.5m0 3.3v1.5m0 5.3v1m0 16.6v1m0 12.8v2m0 4.3v1.5m0 2v2m0 0v1.5m0 0v0.5m0 1.5v1m0 0v1m0 0v1m0 7.2v1m0 6.3v0.6m0 4.9v1.2m0 0.6v0.9m0 2.9v1.5m0 8.3v0.6m0 6.2v0.5m0 0v0.6m0 18.8v0.6m0 7.7v1m0 2.7v0.9m0 1v0.9m0 15.9v1M432.0 698.6v1m0 6.3v1m0 4v1m0 9.3v1.2m0 3.9v1.2m0 5.6v0.8m0 6.1v1m0 6.4v0.5m0 1v1.5m0 7.9v1.5m0 19.4v0.8m0 10.3v0.5m0 1.1v0.5m0 1.8v1m0 19v1.2m0 2.3v0.6m0 9.7v0.8m0 0v1.2m0 11.1v1.2m0 9.8v0.8m0 5.4v0.9m0 17.6v0.9m0 0v1m0 11.1v0.5M446.9 863.1v2m0 9.2v1m0 13.3v1.7M461.9 707.1v0.5m0 0.9v1m0 11.1v1.2m0 15.1v1.2m0 1v2m0 4.3v2m0 3.2v1m0 3v1.2m0 7.9v0.9m0 0v0.6m0 2v1.2m0 0v0.9m0 1v0.9m0 1.5v0.8m0 5v2m0 7.6v0.5m0 0.6v1.5m0 7.5v0.6m0 3.8v1.2m0 2v2m0 2.1v1.5m0 6v0.6m0 0v1.5m0 1v1m0 0v0.6m0 5.3v0.9m0 8.7v0.6M491.7 793.6v1m0 5v0.9m0 4.5v1.5m0 0v1.5m0 0v1m0 8.3v1.2m0 7v0.8m0 2.4v1m0 1v1.2m0 1.2v1m0 1v1.5m0 1v0.5m0 2.5v1m0 9.3v0.6m0 6.6v0.8m0 17.3v1m0 6.3v0.6m0 1.2v1M506.6 792.5v0.8m0 7.5v0.6m0 8.3v1.5m0 0.5v1m0 0v0.5m0 2.2v1.5m0 5v0.6m0 4.9v0.6m0 0v1.5m0 4.7v0.9m0 3.2v1m0 3.1v1.5m0 2.1v0.9m0 3v0.5m0 7.3v0.8m0 2.5v0.5m0 2.9v0.5m0 6.2v1m0 0v0.6m0 3.1v0.6m0 5.4v1.2m0 2.8v1m0 2v0.9M521.5 794.3v0.9m0 26.8v1m0 8v1.5m0 6.5v0.9M536.4 876.0v1m0 4v1.5m0 3.8v2M551.3 746.1v1m0 3.4v1m0 2.3v0.5m0 4.9v1m0 11.4v0.8m0 0v0.5m0 2v1.5m0 0v2m0 0v0.8m0 2.7v1.2m0 11v0.9m0 22.3v0.6m0 2.5v0.5m0 5.5v2m0 3.7v0.5m0 10.6v0.8m0 3.1v1m0 3.5v0.5m0 9.9v0.8m0 1v0.9m0 0v1m0 6.7v1m0 14.8v0.5M566.2 810.9v1m0 0v0.6m0 2v0.9m0 1v1m0 0v0.6m0 1.5v1m0 0.5v1m0 2.7v1m0 3v1.5m0 2.5v2m0 6.8v0.6m0 7.5v2m0 16.4v1m0 0v1m0 6.4v0.9m0 2.7v2m0 0.8v0.6m0 1.8v0.6M581.1 738.5v0.9m0 1.2v0.6m0 8.8v0.5m0 4v1.5m0 0v1m0 7.7v1.2m0 16v1.5m0 0v0.9m0 0v1m0 2.3v1.5m0 0v0.9m0 1.8v0.9m0 0v0.8m0 3v0.8m0 2v0.6m0 2.9v1m0 4.3v0.9m0 7.1v1.5m0 0v0.6m0 7.6v2M596.0 767.8v0.9m0 1.4v0.6m0 1.2v1m0 4.1v0.5m0 5.6v1m0 2.9v1.5m0 0v0.8m0 2.3v2m0 29.5v0.9m0 10.9v1m0 2.1v0.5m0 10.6v2m0 6.5v0.9m0 8.2v0.6m0 3.6v1.5m0 15.1v1M611.0 769.2v0.8m0 2v1.2m0 2.1v0.9m0 0.6v1m0 0v2m0 8.1v1m0 6.9v0.8m0 5.5v0.5m0 5.2v0.9m0 6.9v1m0 0v0.5m0 7.6v2m0 0.8v2m0 19.3v0.5m0 3.3v0.5m0 6.2v0.5m0 13.7v1m0 2.5v0.6m0 3.8v0.8M625.9 861.8v0.5m0 2.8v1.2m0 2.5v0.5m0 4.6v1.5m0 6.7v0.6M640.8 879.2v2M655.7 828.4v0.8m0 0v1.2m0 2.1v1m0 1.7v1.2m0 0v1.2m0 0v1.5m0 4.4v1.5m0 0v0.6m0 3.6v2m0 0v1.2m0 3v1.5m0 2v1.2m0 4v0.9m0 5v1.5m0 5.6v1m0 2.4v0.5m0 1.2v2m0 4.2v0.5m0 0v1.4" stroke="#2a78b8" stroke-opacity="0.62" stroke-width="5.0"/>
<path d="M387.3 645.6v0.8m0 0v0.8m0 3.6v0.5m0 3.2v0.5m0 0v1m0 1v2m0 0v0.8m0 3.2v2m0 1.2v1m0 0v0.5m0 2v1.5m0 0v1.2m0 2v0.6m0 0v0.8m0 0v1m0 0.9v2m0 0v0.6m0 7.1v0.6m0 0v0.6m0 1.8v0.5m0 0v1m0 2.8v1.5m0 1.5v0.9m0 0v1.2m0 0v1.5m0 0.6v0.8m0 0.5v1m0 0.5v0.9m0 0v0.9m0 0v0.8m0 1.3v2m0 0v2m0 0v1m0 0v2m0 0.8v0.9m0 0v0.6m0 0v0.8m0 5.6v1m0 0v1.2m0 1.5v2m0 0v1m0 0v0.5m0 1v1m0 1v0.8M402.2 889.2v1.1M417.1 696.7v1m0 0v1.5m0 0v1.2m0 0v1m0 0v0.6m0 0.9v1m0 1.5v0.6m0 0.9v0.8m0 1v1m0 2v2m0 0v1m0 0v1m0 0v2m0 3.7v0.8m0 0v1m0 1.5v1.2m0 0v0.5m0 0v1m0 0v0.6m0 3v0.8m0 0v0.5m0 1.2v1m0 1v0.5m0 0v1m0 1.2v2m0 0v0.9m0 0v0.6m0 0v1.2m0 0v0.5m0 0v0.8m0 0v1.2m0 3.2v2m0 0v1m0 1.5v1m0 0v0.5m0 1.9v1.5m0 2.2v1.2m0 2v2m0 0v0.9m0 0v0.6m0 8.3v1.5m0 3.6v1m0 0v1m0 0v0.8m0 0v1.2m0 0.8v0.8m0 3.5v1.2m0 1.4v1m0 0v1.2m0 0.6v0.5m0 0v1.5m0 0v0.9m0 0v2m0 2.7v0.9m0 3.5v0.6m0 0v0.5m0 2.7v1.5m0 0v0.8m0 0.5v1.2m0 1.1v0.8m0 0v2m0 0.8v0.6m0 0v2m0 2.6v1.5m0 2.4v1m0 3.1v1m0 1.2v1.2m0 0v1m0 2.9v2m0 0.6v1.5m0 0v2m0 0v1.5m0 1.2v1.5m0 1v1.2m0 0v0.9m0 3.4v0.9m0 5.6v1.2m0 0v1.2m0 0v0.9m0 3v1.2m0 0v1m0 4.3v2m0 0v2m0 5.6v1.2m0 0v2m0 1v0.6M432.0 695.1v1m0 0v1m0 0v1.5m0 1.9v1.5m0 1v0.6m0 3.3v1.2m0 0v2m0 0v0.8m0 2.5v2m0 7v0.6m0 1.8v1m0 1.7v0.5m0 0v1m0 0v0.8m0 0v0.5m0 1.5v0.5m0 0v0.8m0 2.4v1m0 0v1.5m0 0v1m0 0v1m0 1v2m0 0v0.8m0 0v1.5m0 0v1.2m0 3.9v0.8m0 0v1.2m0 0v2m0 0v1.5m0 0v1.5m0 0v0.9m0 1.5v1.5m0 1.5v0.8m0 0v1m0 1.5v2m0 0v0.6m0 0v0.8m0 1v1.2m0 0v2m0 0.5v2m0 0v2m0 0v1m0 0.8v1.2m0 0v1m0 4.1v1m0 2v1m0 1v0.6m0 3.8v1m0 0v1m0 1.2v0.8m0 0v0.8m0 1.2v0.9m0 0v1.5m0 1v0.9m0 1.5v1.5m0 0v0.9m0 0v1.5m0 2v0.8m0 1.2v0.5m0 0.8v1m0 0.6v1m0 0v2m0 0v2m0 0v0.8m0 0v0.8m0 0v1.2m0 0v0.5m0 0v0.6m0 2.8v0.8m0 0v2m0 0.9v1.2m0 0v1m0 0v0.6m0 0.6v2m0 0v2m0 1.2v0.5m0 1.2v0.5m0 0v1m0 0v2m0 1.5v0.6m0 0v1.5m0 3.3v1.2m0 0v1.5m0 3.6v0.5m0 0v0.5m0 0v1m0 3v0.6m0 0v1m0 0v0.9m0 0v0.5m0 1.5v0.9m0 0v2m0 0v0.5m0 5.1v1.5m0 1v0.5m0 2v2m0 0v0.6m0 0.5v2m0 0v1M446.9 853.5v0.5m0 1.5v1m0 0v1m0 0v0.5m0 0.5v2m0 4.6v2m0 0v1m0 3v0.6m0 0v0.8m0 0v1m0 0v0.8m0 2.4v2m0 2v0.5m0 3.1v0.9m0 0v1m0 0v1.5M461.9 703.8v1m0 0v0.8m0 0v1.5m0 0.5v0.9m0 1v0.5m0 0.6v2m0 2.6v0.5m0 0v0.8m0 2v0.5m0 0v1m0 4.6v0.6m0 0v0.9m0 0.5v1.5m0 0v1m0 0v1m0 2v2m0 0v0.5m0 3.5v1m0 2v1.5m0 0v0.6m0 0v1.2m0 4.2v0.8m0 6.4v0.9m0 0v1m0 0v1.2m0 0.9v0.9m0 1.2v0.9m0 6.5v1m0 3.2v0.6m0 1v0.6m0 0.8v2m0 5.3v0.5m0 2.8v1m0 2.6v0.5m0 0v1.5m0 0v1.2m0 0.5v2m0 2.4v1m0 8v0.9m0 3.9v0.5m0 1.7v0.6m0 0v0.5m0 0v1.5m0 6.8v1.2m0 4.1v0.9m0 0v0.5m0 2v1.2m0 0v0.6m0 0v1.5m0 4.9v2M491.7 789.4v1.2m0 0v2m0 2v1m0 0.5v2m0 2.4v0.8m0 2.7v1m0 7.8v0.8m0 0v1.5m0 0v1.2m0 2.2v1.2m0 0v2m0 1.2v0.5m0 1.5v0.6m0 2.3v0.9m0 1v1m0 5.9v1m0 0.5v0.5m0 0v2m0 2.5v0.6m0 0v1.2m0 0v1.5m0 0v1m0 0v1m0 0v1m0 2.6v2m0 0.5v1m0 2v0.6m0 2v0.8m0 1.9v1.5m0 0v1m0 0v0.6m0 3.2v1m0 0v1.5m0 0v1.2m0 1.9v1.5m0 3.8v1.5m0 0v1m0 3.8v1M506.6 793.3v1.2m0 0v0.6m0 0v1.2m0 0v0.8m0 0.5v1.2m0 2.6v1.2m0 0v1.5m0 0.8v0.8m0 0v1.2m0 0v0.8m0 0v2m0 1.5v0.5m0 2v0.8m0 2.4v1m0 0v1m0 1v1m0 2.1v2m0 1.5v0.9m0 5.8v1m0 0.9v2m0 0v0.6m0 0v0.6m0 1v2m0 0v0.6m0 0v0.5m0 1.5v1m0 0v0.5m0 1.5v1.5m0 0v1.5m0 0.5v1.5m0 0v0.8m0 0v1.5m0 0v0.8m0 0v0.5m0 3.8v1.2m0 0v0.5m0 0.5v0.6m0 1.8v0.5m0 0.5v1.2m0 6.6v0.8m0 2.9v0.6m0 0.8v0.9m0 2.5v0.6m0 2v2m0 3.9v0.6M521.5 799.4v1.5m0 0v1.5m0 0v0.9m0 2v0.8m0 8.7v0.8m0 1.3v1.5m0 0v1m0 4.4v1.2m0 23.5v1.2m0 0.9v0.9m0 1v2m0 1.5v0.5m0 4.1v2m0 3.7v1.5m0 0v0.5m0 2.2v0.9m0 3.8v0.8m0 1.5v1.5m0 4.3v0.9m0 4v1m0 0v1.1M536.4 870.2v1m0 0v0.6m0 0v1.2m0 0v1m0 0.8v1.2m0 1v1m0 0.5v1m0 4.8v1m0 0v1m0 2.5v0.5m0 0v0.8M551.3 741.4v0.9m0 0v0.6m0 0v1.2m0 0v2m0 1v1m0 1.5v0.9m0 1v0.8m0 2v1.2m0 0.9v1.2m0 0v1m0 2.6v1.2m0 1.9v1m0 0v0.6m0 1v1.2m0 1.5v2m0 2.3v1m0 4.3v1.5m0 0v0.6m0 0v0.6m0 1.2v0.6m0 0v0.5m0 0v2m0 0.8v1m0 0v0.6m0 0v0.6m0 1.2v0.5m0 2v1.2m0 0.9v0.5m0 0.6v1m0 0v0.8m0 1.8v2m0 0v0.6m0 0v0.6m0 0v2m0 0v0.8m0 5.2v0.6m0 5v0.8m0 0.6v2m0 0v0.5m0 0.5v1m0 2v1.5m0 0v1m0 2v0.6m0 0v0.9m0 1v1.2m0 0.5v0.6m0 1.5v1.5m0 0v2m0 0v0.8m0 1v0.9m0 0v0.5m0 0v1.2m0 1.4v0.8m0 0v0.6m0 0v1.2m0 0v0.5m0 1v2m0 0.5v1m0 0.5v1.2m0 1v0.6m0 0v0.8m0 0v1m0 0v1.2m0 0v0.6m0 0v1m0 0v1m0 0v1.5m0 0.8v1m0 3.4v1m0 0v1.5m0 1.5v1.2m0 1v1m0 0v0.9m0 0.6v0.5m0 0.6v0.9m0 0v1.2m0 3.4v2m0 0v1m0 1.7v1m0 1.5v0.6M566.2 808.1v0.8m0 0v1m0 0v1m0 1.6v1m0 0v1m0 7.5v1.2m0 0v1.5m0 5.5v0.5m0 4v0.8m0 0.9v0.8m0 2.3v2m0 0.6v0.5m0 0v0.8m0 0v2m0 0v0.9m0 5.3v2m0 0v0.9m0 0v1m0 0v1.5m0 0v0.9m0 0.6v0.6m0 0v1m0 0v1m0 0v1.5m0 2.6v0.5m0 0v0.8m0 0v1.5m0 2v1m0 0v0.9m0 2v0.5m0 0v2m0 1.4v1m0 0v1.2m0 2v0.8m0 0.6v0.8m0 1.6v0.9m0 0v1.2m0 0v0.5M581.1 735.3v0.9m0 0v1.2m0 2v1.2m0 0.6v2m0 2.8v1m0 0v1m0 0v1m0 0v1m0 0.5v2m0 0v1m0 3.5v0.9m0 0v1.2m0 0v1m0 3.4v1.2m0 1.2v1.2m0 0v0.6m0 0v1.5m0 0v1.2m0 0v0.5m0 0v0.8m0 0v2m0 0v0.6m0 0v1.2m0 0v1m0 0v0.5m0 0v2m0 0v1m0 5.3v0.9m0 0v0.6m0 4.2v0.8m0 1.7v0.5m0 0v1.5m0 5.4v1m0 0v0.9m0 1v1m0 2.5v0.8m0 1.8v1m0 0v1m0 0v1.2m0 0v2m0 0v1m0 2.1v0.6m0 1v1m0 0v2m0 0v1.5m0 0v1m0 0v0.5M596.0 770.7v1.2m0 1v1.5m0 0v0.8m0 0v0.9m0 2v0.6m0 0v0.8m0 0v0.8m0 0.8v0.8m0 2.2v1.5m0 0v0.6m0 0v0.8m0 9.8v1m0 0v2m0 0v0.8m0 1v1.2m0 2.5v0.6m0 0.8v1m0 2v0.9m0 0.6v2m0 2.2v0.8m0 0v1m0 0.5v1.5m0 0.9v1m0 0v1.5m0 2.2v1m0 1v1m0 0.9v2m0 0v1m0 0v0.6m0 1.6v1m0 1v0.5m0 2.1v0.8m0 0v1m0 0v1.2m0 0v0.9m0 2.2v0.5m0 0.8v1.2m0 7v1.5m0 0v2m0 0.9v0.6m0 1v1m0 3.7v1m0 0v0.9m0 0.6v1m0 0v2m0 2.1v1m0 0v1.5m0 0v1.5m0 1.2v0.9m0 0.8v0.8m0 1v1m0 0v1.2m0 2.7v1.5m0 2v0.8M611.0 770.0v1m0 0v1m0 7.8v0.9m0 1.7v1.5m0 0v2m0 0v2m0 3v2m0 2v0.9m0 2.3v2m0 2.5v0.5m0 2v1.5m0 0v1.2m0 1.9v1.5m0 6.9v0.6m0 0v0.8m0 0.5v0.6m0 0v0.6m0 5.5v0.8m0 2v1.5m0 0v2m0 0v0.8m0 0v1m0 2.2v1m0 1.5v0.5m0 0v0.9m0 0.6v0.6m0 0v1m0 0v0.9m0 1v0.8m0 0v1m0 4.3v1.5m0 0.5v0.8m0 7.4v1.2m0 2.3v1m0 0v0.5m0 0v1m0 0v1.2m0 0v0.8m0 2.2v2m0 2.5v1m0 0.6v0.8m0 1v1m0 0v1m0 0.8v1.5m0 3.5v2M625.9 856.7v1m0 0v0.6m0 1.5v2m0 0.5v2m0 2v1.5m0 0v1m0 4v0.5m0 0v0.6m0 3.5v1.2m0 0v1.5m0 0v2m0 0.6v0.6m0 0v0.8m0 0v1.5m0 1.8v0.8m0 0v2M640.8 877.4v0.9m0 2.9v1m0 0v2m0 0v1.5m0 2.9v1.7M655.7 827.5v0.9m0 2v1.5m0 0v0.6m0 1v0.9m0 0v0.8m0 3.9v0.6m0 0v1.5m0 0v1m0 0v0.5m0 0v0.8m0 3.5v0.8m0 0v0.5m0 4.1v1m0 0v1m0 0v1m0 2.5v1m0 1.2v0.5m0 0v2m0 2.4v0.9m0 0v0.9m0 0v0.9m0 0v1.5m0 2.3v0.8m0 0.9v1m0 0v1.5m0 0v0.8m0 0v0.6m0 1v0.9m0 0v1.5m0 0.5v1.2m0 2v0.5m0 0v0.6m0 0v1m0 0v1.2m0 0v0.9" stroke="#2a78b8" stroke-opacity="0.95" stroke-width="5.0"/>
<path d="M387.3 742.8v2m0 4.6v1.2m0 1.2v1m0 1.2v1m0 28.7v0.9m0 0v0.6m0 6.6v1.2m0 3v1.2m0 13.2v1m0 2.4v1m0 16.2v0.5m0 3.5v0.8m0 0v1m0 2.9v1m0 0v2m0 24.3v0.6m0 0v1m0 5.4v0.5M402.2 666.4v2m0 22v0.6m0 3.6v0.8m0 0v1m0 13.7v1.2m0 26v1m0 4.8v0.8m0 0.9v0.6m0 3.1v1.5m0 0.9v0.9m0 0.8v0.9m0 2.1v0.5m0 22.3v0.9m0 0v0.8m0 10.1v1m0 7.7v1.5m0 4.5v1.2m0 0v0.5m0 2.9v0.5m0 18v2m0 0.8v0.6m0 8.7v0.5m0 2.2v1.2m0 0.8v1m0 3.2v0.6m0 3.3v0.5m0 25.3v1.5m0 4.5v0.8m0 2.5v1.2M446.9 701.1v0.5m0 16.8v0.5m0 19.3v1.2m0 5v0.8m0 32.2v0.9m0 10.3v0.8m0 8.5v0.8m0 0v0.8m0 0v1m0 4v2m0 3.6v1.5m0 1v0.5m0 24.9v0.8m0 2.8v1m0 3.9v0.8M461.9 843.1v2m0 3.5v1m0 10.4v0.5m0 0v0.5m0 0v1.2m0 0.5v1.2m0 14v0.6m0 0.6v1M476.8 727.8v1.5m0 0v1.5m0 4v1m0 10.7v1.2m0 2.2v1.2m0 6.9v1.5m0 0v1.2m0 5v1.5m0 1.5v1m0 24.2v0.8m0 1.7v0.6m0 7.6v1.5m0 5.2v1.2m0 0v1m0 3.8v0.6m0 22.6v1.2m0 0v1m0 13.2v1m0 4.2v0.6m0 4.1v0.9M491.7 750.5v1m0 7.8v0.5m0 2v0.5m0 2.2v0.5m0 11.3v0.8m0 5.5v2M506.6 739.0v0.8m0 0v1.2m0 2v1m0 10.7v0.6m0 4.7v1.5m0 2.1v0.8m0 13.2v2m0 3.1v0.8m0 6.8v1.2M521.5 738.3v0.6m0 26.1v1M536.4 745.5v2m0 27.6v0.5m0 0v1m0 0.5v0.8m0 8.4v1m0 15.5v0.9m0 4.4v0.8m0 10.5v0.6m0 2.4v1.2m0 33.8v0.5M566.2 758.6v1.2m0 23.2v0.6m0 16.7v1.5M581.1 827.8v0.9m0 1.9v0.8m0 2.8v2m0 15.1v1m0 12.5v1M625.9 788.9v1m0 0.9v1m0 6.2v0.5m0 12.7v1.2m0 24.8v0.9m0 1.8v0.5m0 0v1.5m0 11.8v1M640.8 804.4v0.8m0 4.9v0.6m0 0.5v2m0 3.4v2m0 1.2v0.8m0 23.2v2m0 14.1v0.8M670.6 676.7v1m0 0.9v0.5m0 4.3v0.9m0 5.6v1m0 0v0.6m0 14.2v1.2m0 14.3v1.5m0 2.5v0.5m0 5.1v0.6m0 2v0.9m0 5.3v0.5m0 11.1v0.9m0 12.7v1.2m0 0v0.9m0 2v0.6m0 3v2m0 21.1v1.5m0 1.5v0.9m0 4.8v1.5m0 0v0.8m0 0.8v1m0 11.6v0.5m0 0.6v1m0 8.6v0.8m0 0v0.6m0 3.5v0.6m0 2v1.2m0 1.5v0.8m0 8.8v0.6m0 9.3v0.8m0 1.2v1m0 4.8v1.5m0 12.1v0.9m0 2.3v2m0 0v0.6m0 1.2v1.5" stroke="#e2432d" stroke-opacity="0.3" stroke-width="5.0"/>
<path d="M387.3 740.0v2m0 26.8v1m0 5.1v1m0 0v2m0 1v0.8m0 13.3v1m0 4.7v0.6m0 1.6v1m0 0v1.5m0 2.4v1m0 6.1v0.9m0 5.2v1.5m0 0v1m0 4.2v0.9m0 0v0.8m0 3v0.6m0 13.4v2m0 7.9v1m0 8.7v1.5m0 9.6v2m0 0v2m0 2v1M402.2 663.8v0.5m0 0v1.2m0 16.2v1.2m0 0.9v1m0 0.9v0.9m0 0v0.8m0 0v1m0 1v1m0 3.3v0.9m0 3.8v0.5m0 1v0.6m0 10.8v0.9m0 10.5v0.6m0 6.3v1m0 17.3v0.6m0 6.5v0.6m0 0.5v2m0 1.2v0.6m0 0v0.6m0 12v2m0 11.9v0.9m0 8.3v0.8m0 0v0.6m0 13.6v1.5m0 0.8v1.5m0 3.8v0.8m0 0v2m0 0v0.6m0 0.8v1m0 0.9v2m0 6.6v1.2m0 0.5v0.5m0 1.4v0.8m0 0.8v1m0 10.5v1m0 0v1.5m0 0v0.8m0 2v0.8m0 2.3v2m0 0.5v2m0 0v0.8m0 7.6v1m0 3.3v2M446.9 701.6v1.2m0 9.5v0.8m0 0v0.9m0 7.5v0.6m0 2.7v0.5m0 1.9v0.5m0 2.6v2m0 3.9v2m0 7v1m0 0v1m0 1.1v1m0 5.7v1m0 4.9v1m0 0v2m0 1.3v1.2m0 0.8v1m0 11.6v0.9m0 0v0.9m0 2v1.2m0 2v0.8m0 5v0.8m0 1.8v0.5m0 18.9v2m0 3.4v1m0 2v0.9m0 9.5v0.8m0 0v2m0 7.6v1.2m0 3.5v1m0 0v2M461.9 845.1v1.5m0 12.4v1m0 2.2v0.5m0 4.2v0.6m0 3.7v0.9m0 12.2v1.2M476.8 720.4v0.9m0 0v1m0 2.5v1m0 0v2m0 3v1m0 0.5v0.9m0 6.1v0.9m0 7.5v1m0 6.8v2m0 0v0.5m0 6.9v0.8m0 14.4v0.6m0 8.3v2m0 2v0.9m0 0.8v0.5m0 3.3v0.8m0 2.7v0.8m0 5.5v1m0 5.2v1m0 1v0.8m0 4.1v2m0 0.9v0.8m0 2.4v1m0 0v0.5m0 0v1.2m0 5.5v0.8m0 2v2m0 3.5v0.8m0 0.6v1.5m0 6.8v1m0 30.8v1.2M491.7 747.5v0.5m0 3.5v0.6m0 2.1v1.2m0 1v0.9m0 0v1m0 1.5v2m0 0.5v1m0 3.7v1.5m0 3.8v2m0 6.3v2m0 3v1.5m0 0.8v0.5M506.6 735.7v2m0 34.2v1m0 10.6v1m0 1v0.9m0 0v0.6m0 0v0.8m0 1v0.5M521.5 731.3v0.8m0 4.2v0.6m0 2v1m0 6.3v1.5m0 0v2m0 25.1v0.8m0 14.6v0.6M536.4 741.7v0.8m0 14.1v0.5m0 0v1m0 1.9v0.9m0 13v1.2m0 2.8v1.2m0 3.6v1m0 1.4v1.2m0 6.7v0.6m0 1v0.9m0 1.8v0.5m0 0v1m0 0v0.5m0 1.6v1m0 3v1.2m0 0v0.5m0 2.3v2m0 0v1.5m0 3.4v1m0 3.2v0.9m0 6v1m0 2.2v0.9m0 3.6v1.5m0 8.2v0.5m0 0v0.8m0 2.3v1.5m0 11.7v0.5m0 3.9v1m0 0v1M566.2 746.5v0.9m0 0v1m0 0v1.2m0 0v0.9m0 11.3v0.8m0 1v1.2m0 4v0.5m0 4v2m0 1.7v1.5m0 0.9v2m0 0.6v1m0 0.6v1m0 4.8v2m0 1.5v1m0 1.5v2m0 6.2v1.5m0 2v1M581.1 831.4v1m0 1.2v0.6m0 13.4v1.2m0 4v1m0 0v2m0 6v0.5m0 3.5v0.6m0 3.2v0.8m0 1.2v1.2m0 0v0.9m0 5.1v0.6m0 5.9v0.8m0 0.9v1m0 1v0.8M625.9 772.9v1m0 0v0.6m0 3.3v1.5m0 1.2v0.9m0 4.7v2m0 1.8v0.9m0 6.2v1m0 5.9v0.6m0 2v1m0 0.5v0.5m0 2.1v0.6m0 1.2v0.5m0 5.7v1m0 4.6v1.2m0 3.2v1.5m0 13.9v0.5m0 2.2v2m0 1.5v1.5M640.8 780.6v0.9m0 0.5v1m0 2v1.5m0 0.9v0.6m0 0v0.6m0 12.9v0.9m0 11.7v1.5m0 0v1m0 15.3v1m0 2.3v1.5m0 4v0.6m0 5.5v0.8m0 1.2v1m0 3.7v0.5m0 0.6v1m0 9v0.6m0 0v0.5m0 0v0.9m0 0.8v0.6m0 5.5v0.9M655.7 819.5v2m0 1.2v1.2M670.6 695.3v0.9m0 8.7v0.8m0 12.9v2m0 2.6v2m0 9.1v1m0 2.5v1m0 7.2v2m0 12.6v1.2m0 2v1m0 54.3v0.9m0 5.7v2m0 14.6v0.6m0 12.8v1.2m0 21.2v0.5" stroke="#e2432d" stroke-opacity="0.62" stroke-width="5.0"/>
<path d="M387.3 735.3v1.2m0 0v1m0 4.5v0.8m0 3v0.8m0 0v1m0 0v0.6m0 0v1.2m0 1.2v1.2m0 1v0.6m0 0v0.6m0 1v0.8m0 0v2m0 0v1m0 0v2m0 0v1.5m0 0v1m0 0v0.9m0 0v1m0 0v2m0 1v0.6m0 1v0.8m0 0v0.6m0 0v1.2m0 0v2m0 0v0.5m0 3v1m0 0.8v2m0 0v2m0 1.5v2m0 1v0.6m0 0v1m0 0v2m0 3.7v0.5m0 1.2v1.5m0 1.6v0.6m0 3v0.9m0 0v1m0 1v2m0 0v0.8m0 0v0.8m0 1v1.5m0 1.9v1.5m0 0v0.9m0 1v0.8m0 2.5v0.6m0 0v1m0 0v0.6m0 5.2v1.5m0 1.1v1.5m0 0v2m0 1.8v2m0 3.9v0.5m0 0v1.2m0 2v1m0 0v1m0 0v0.8m0 0v0.5m0 0v1m0 0.6v1m0 0v1m0 2v0.6m0 0v0.8m0 0v0.6m0 0v1.5m0 0v0.6m0 0v0.6m0 0v0.8m0 0v2m0 0v1.2m0 4.6v1.5m0 0v1.2m0 0v1.2m0 0v0.5m0 0v1m0 0.5v0.6m0 4v2m0 1v0.5m0 0v2m0 0v0.6m0 0v1m0 0v1m0 0v1m0 0v1m0 0v0.9M402.2 682.9v0.9m0 1v0.9m0 2.7v1m0 2.6v0.5m0 0v1.2m0 2.7v2m0 0.5v1m0 0.6v0.8m0 0v1m0 0v1.5m0 0v1.2m0 0v1m0 0v0.6m0 2v1.5m0 2.1v1.2m0 0v1m0 1v1m0 0v1.5m0 0v0.8m0 0v2m0 0v0.5m0 0v1.5m0 2.8v0.6m0 0v0.5m0 0v0.6m0 0.9v1.5m0 3.2v0.8m0 1v0.5m0 1v1.2m0 1v0.8m0 0v1m0 0v2m0 0v1m0 0.8v0.9m0 0.6v0.5m0 0v2m0 2.1v0.9m0 0.9v0.8m0 0.9v1.5m0 3.1v1.2m0 1.7v2m0 2v2m0 0v0.8m0 0v1m0 0v1.2m0 0v1.5m0 0v1m0 2v0.5m0 0v1m0 0v0.6m0 0v1.2m0 0v0.6m0 1.7v1.5m0 0v1m0 0v1m0 0.6v1m0 0v1.2m0 0.9v2m0 0v0.9m0 1v1m0 0v1m0 0v0.9m0 0v1.5m0 1.4v1m0 0v0.9m0 2.5v2m0 0v1.5m0 1.7v0.5m0 0v0.5m0 1v0.9m0 0.5v0.6m0 3.8v0.5m0 0v0.6m0 0v0.9m0 0v0.6m0 4.6v0.8m0 1v0.9m0 2.5v1.2m0 6.1v0.5m0 1.3v0.6m0 0.8v0.8m0 2.5v1.2m0 0v1m0 3v2m0 0v1.2m0 4.4v1.5m0 0.8v0.8m0 0v1.5m0 5.3v0.9m0 0v2m0 0v0.5m0 0v1.5m0 0v0.5m0 0v0.5m0 0.6v0.6m0 6.8v1.5m0 1.5v0.9m0 0v0.8m0 0.8v2m0 0.8v1.5M446.9 702.8v0.9m0 4v0.6m0 0v0.8m0 2v1.2m0 1.7v2m0 2.9v0.6m0 0v2m0 1.5v1m0 0v0.8m0 0.5v1m0 0v0.9m0 1.1v2m0 2.5v2m0 0v0.9m0 0v0.5m0 3.2v1.5m0 0v1m0 0v1.5m0 3.8v0.6m0 0v0.5m0 1v2m0 0v1m0 0.9v0.8m0 0v1m0 1v1m0 0v0.9m0 0v1m0 5v0.5m0 0v0.8m0 1.2v0.8m0 1v1m0 0v1m0 0v0.6m0 2v0.5m0 0v0.8m0 0v0.9m0 0v0.6m0 0v0.8m0 0v1m0 0.9v1.5m0 1.8v2m0 4v1m0 0.8v0.9m0 0v1.5m0 0v0.8m0 0.8v0.9m0 0v0.9m0 0.5v0.5m0 0.9v0.8m0 2.6v0.9m0 0v1m0 0v0.6m0 0v1.5m0 2v0.9m0 0v1.5m0 0v1.2m0 3v1.5m0 4.5v0.9m0 1v2m0 0.9v1m0 0v1.5m0 0v2m0 0v0.6m0 3.4v1m0 4v0.6m0 1.6v2m0 1v1.2m0 3.5v1.2M461.9 846.6v2m0 1v0.8m0 0v0.6m0 0v0.5m0 0v0.6m0 0v0.5m0 0v0.6m0 0v0.9m0 0v2m0 0v0.9m0 6.9v0.5m0 2v0.5m0 0.6v1m0 0v1.2m0 0v1.5m0 0.9v0.6m0 0v1.2m0 1.5v2m0 0v0.5m0 2.2v1m0 0v1.2m0 0v2m0 1.2v0.8m0 0v1m0 0v0.8m0 0v0.5m0 0v0.6m0 0v1M476.8 709.2v1.5m0 1.2v0.6m0 0v1m0 0v1.5m0 0v0.8m0 1.2v0.6m0 0v2m0 2.7v1.5m0 8v0.5m0 0.9v0.6m0 0v1m0 1v1m0 0v1.5m0 0v1m0 0.9v0.6m0 0v1.2m0 0v1.5m0 0v1.5m0 0v1m0 0v0.5m0 6.1v2m0 6.1v1.2m0 0.6v1m0 3.7v0.5m0 0v1m0 1.9v0.5m0 0v0.5m0 0v1.5m0 0v0.9m0 0v0.5m0 0v2m0 0v1.5m0 0v0.6m0 0v1.5m0 0.6v1.5m0 0v0.8m0 0v1m0 0v1.2m0 0v0.9m0 0v0.9m0 0v2m0 6.2v1.2m0 0.6v1.5m0 2.3v1.2m0 0.8v0.8m0 0v1m0 1.5v0.5m0 0v0.6m0 0v0.6m0 0v0.5m0 1v2m0 2.2v1m0 1v1m0 2.6v0.5m0 0v1.2m0 0v0.6m0 2v0.9m0 2v1.2m0 3.7v1m0 0v2m0 0v1.5m0 0.8v2m0 6.3v0.6m0 1.5v1.5m0 0.9v1.2m0 0v0.8m0 3.4v1.2m0 1v2m0 1v1.2m0 0.6v0.8m0 1.5v1.2m0 0v0.6m0 0.9v1m0 0v1m0 0v1m0 0v0.6m0 0v1.5m0 0.9v1m0 0v1.5m0 0v1m0 1.5v0.8m0 0v2m0 0v1m0 0v1.2m0 4v1.2m0 0v0.5m0 1v0.5m0 0v0.4M491.7 745.1v1.5m0 0v0.9m0 0.5v1.5m0 0v1m0 1.6v0.9m0 0v1.2m0 1.2v1m0 1.9v1m0 4v1.2m0 0.5v2m0 1.5v1m0 4.8v1.2m0 0v0.8m0 0.8v1.5m0 0v0.8m0 5.2v1m0 1.5v0.8M506.6 772.9v0.9m0 0v2m0 0v1.2m0 0v0.6m0 2v0.9m0 0v0.9m0 0v0.5m0 0v0.8m0 1.8v1m0 2.3v1m0 0.5v1M521.5 727.9v0.9m0 0v0.5m0 2.8v1.5m0 0v0.5m0 1v1.2m0 3.6v1m0 0v0.8m0 0v0.8m0 0v0.5m0 0.9v1.5m0 0v0.8m0 11v2m0 16.4v0.5m0 5.3v1m0 2v0.8m0 2.8v1.2m0 0v1m0 0.6v1m0 0v1m0 0v1M536.4 739.4v0.5m0 0v0.8m0 0v1m0 0.8v1m0 0v2m0 3v0.5m0 0v1.5m0 0v0.5m0 2.6v2m0 0v1m0 1.5v1m0 3.8v2m0 0.5v2m0 0v1m0 0v0.8m0 0v1.5m0 1.2v2m0 6.2v2m0 0v0.6m0 1v0.5m0 3.1v1m0 0v1.5m0 1.2v0.8m0 0v1.2m0 0.6v1m0 0.9v1.2m0 0v0.6m0 2v0.8m0 0v0.8m0 1v0.9m0 9.6v1.5m0 0v1m0 0v0.9m0 1v0.8m0 1v0.8m0 1.5v1.5m0 1.2v1.2m0 0v1.5m0 0v0.6m0 1v1.2m0 0v1m0 0.9v1m0 0v0.6m0 5.5v1.5m0 2v1.2m0 0v1.5m0 1.3v1.5m0 2.8v0.5m0 0.9v1m0 2v0.6m0 0v0.5m0 6.2v1.5m0 0v0.9m0 3.5v0.9m0 0v0.6m0 0v1.2M566.2 745.0v1.5m0 5v0.5m0 0v1.5m0 0v0.6m0 0v0.9m0 0.6v1m0 3.2v2m0 0.8v1m0 1.8v1.2m0 2.7v2m0 0v0.5m0 0v0.5m0 0v1m0 2.9v0.8m0 4.4v0.6m0 2.6v0.9m0 1.5v1.5m0 5.4v1.5m0 4v0.9m0 4.8v0.8m0 0v1.2M581.1 828.7v0.5m0 0v0.5m0 0v0.9m0 1.8v1.2m0 2.6v1m0 0v1m0 0v2m0 0v1.2m0 5v1.2m0 1.2v1.5m0 0v1m0 1v0.5m0 3v0.9m0 0v1m0 2v1.5m0 0v0.6m0 2.5v0.5m0 5.6v1.2m0 3.1v2m0 0v0.6m0 0v0.5m0 0v1m0 1.1v2m0 0v1m0 1.2v1.2m0 4.5v0.5M625.9 774.5v0.5m0 0v2m0 0v0.8m0 1.5v1.2m0 0.9v1.5m0 0v2m0 0v1.2m0 2v0.8m0 2.9v1m0 0v0.5m0 0v0.6m0 0v1m0 0.6v1.5m0 2.3v1.2m0 0v1m0 3v0.8m0 0v1.2m0 1v0.5m0 0.5v1.5m0 0v0.6m0 2.3v1.2m0 0v1.5m0 0v1.5m0 0v1.5m0 1v2m0 0v1.5m0 0v0.5m0 1.8v1m0 1.2v1m0 2.5v0.9m0 0v2m0 0v1.2m0 0v2m0 0.9v1m0 0v0.8m0 2v1.2m0 0v0.9m0 0.5v1m0 0v1.2m0 2v0.5m0 2.5v2M640.8 779.3v0.8m0 0v0.5m0 0.9v0.5m0 4.5v0.9m0 1.2v0.8m0 1.5v2m0 0v2m0 0v0.6m0 2v1.5m0 0v1m0 0.9v0.6m0 0.9v2m0 3.3v0.9m0 0.5v1m0 3.1v0.9m0 4.5v1.2m0 0.8v1.5m0 0v1m0 4.9v1.2m0 0v1.2m0 2.5v0.8m0 0.5v1m0 1.5v0.8m0 1v0.8m0 0v0.8m0 0v0.6m0 2.1v1m0 7.9v1.2m0 0v0.6m0 0.5v0.6m0 1v0.8m0 2.5v1m0 0.8v0.5m0 0.9v0.5m0 0v2m0 2v0.8m0 0.6v0.6m0 0v1.5m0 0v1.5m0 0v1m0 0v0.9m0 0.9v2M655.7 815.9v2m0 0v0.6m0 0v1m0 4.4v1m0 0v0.6" stroke="#e2432d" stroke-opacity="0.95" stroke-width="5.0"/>
<path d="M384.3 890.6V645.0A3.0 3.0 0 0 1 390.3 645.0V890.6M399.2 890.6V662.0A3.0 3.0 0 0 1 405.2 662.0V890.6M414.1 890.6V690.1A3.0 3.0 0 0 1 420.1 690.1V890.6M429.0 890.6V694.5A3.0 3.0 0 0 1 435.0 694.5V890.6M443.9 890.6V700.5A3.0 3.0 0 0 1 449.9 700.5V890.6M458.9 890.6V703.2A3.0 3.0 0 0 1 464.9 703.2V890.6M473.8 890.6V708.6A3.0 3.0 0 0 1 479.8 708.6V890.6M488.7 890.6V729.0A3.0 3.0 0 0 1 494.7 729.0V890.6M503.6 890.6V735.1A3.0 3.0 0 0 1 509.6 735.1V890.6M518.5 890.6V727.3A3.0 3.0 0 0 1 524.5 727.3V890.6M533.4 890.6V738.2A3.0 3.0 0 0 1 539.4 738.2V890.6M548.3 890.6V740.8A3.0 3.0 0 0 1 554.3 740.8V890.6M563.2 890.6V740.4A3.0 3.0 0 0 1 569.2 740.4V890.6M578.1 890.6V734.7A3.0 3.0 0 0 1 584.1 734.7V890.6M593.0 890.6V761.2A3.0 3.0 0 0 1 599.0 761.2V890.6M608.0 890.6V768.6A3.0 3.0 0 0 1 614.0 768.6V890.6M622.9 890.6V772.3A3.0 3.0 0 0 1 628.9 772.3V890.6M637.8 890.6V778.1A3.0 3.0 0 0 1 643.8 778.1V890.6M652.7 890.6V815.3A3.0 3.0 0 0 1 658.7 815.3V890.6M667.6 890.6V676.1A3.0 3.0 0 0 1 673.6 676.1V890.6" fill="none" stroke="#b4b4b4" stroke-width="0.8"/>
<path d="M391.1 642.8L391.4 644.3L391.8 646.7L391.8 649.2L392.1 651.4L392.2 653.7L393.7 655.4L392.5 658.5L392.2 660.9L392.5 664.0L392.3 665.4L392.4 667.2L392.2 668.5L391.9 669.8L392.3 671.1L392.1 673.8L392.2 676.6L392.0 678.8L392.3 680.3L392.4 683.0L392.3 686.1L392.1 688.5L392.3 691.1L392.1 694.1L392.1 696.1L392.2 698.3L392.0 700.0L392.3 702.6L391.9 704.2L392.2 707.3L392.1 709.7L392.2 711.4L392.4 714.3L392.4 716.5L392.4 718.4L392.3 720.1L392.3 721.7L392.1 724.3L392.0 726.0L392.2 729.1L392.0 730.3L392.3 732.3L392.2 735.2L392.1 738.3L392.1 741.0L392.2 742.5L392.2 744.6L392.2 747.1L392.3 749.3L392.5 752.4L392.3 753.7L393.9 755.2L392.4 756.4L392.2 757.7L392.3 760.5L392.4 761.9L392.3 763.6L392.3 766.6L392.2 768.9L392.5 771.4L392.4 774.5L392.2 777.3L392.1 779.1L392.2 780.5L393.4 781.8L392.2 784.5L392.1 786.5L392.1 788.9L393.7 791.3L392.2 793.7L392.0 796.7L392.0 799.4L392.3 800.8L392.1 803.7L392.1 806.7L392.1 808.5L392.2 810.1L392.2 811.7L392.0 813.0L392.2 815.1L392.3 816.6L393.4 819.6L392.2 821.6L392.1 822.8L391.9 824.1L392.3 825.6L392.1 827.0L392.0 828.9L392.2 831.4L392.4 834.1L392.2 837.1L392.2 840.1L392.2 842.7L392.2 845.5L392.1 847.0L392.2 849.3L391.9 851.5L392.2 854.3L392.3 855.6L392.3 858.8L392.3 860.9L392.3 863.6L392.0 864.9L392.2 867.0L392.1 868.3L392.0 870.2L393.7 873.4L392.2 875.4L392.2 876.7L392.1 878.9L392.0 881.3L392.3 882.9L392.2 885.7L392.2 887.4L392.2 890.3M406.0 659.8L406.2 661.1L406.5 662.6L406.9 664.4L407.0 667.6L406.9 668.9L407.1 671.8L407.4 673.4L407.1 674.6L408.0 676.7L407.0 678.0L407.1 680.6L407.1 682.1L407.3 684.4L407.1 687.0L407.3 688.4L407.0 690.9L407.5 693.7L407.1 696.1L407.1 698.7L407.1 701.5L407.3 703.6L407.1 706.4L407.1 709.2L407.3 711.7L407.3 713.3L407.1 716.2L407.1 717.7L406.9 720.8L407.3 723.6L406.9 725.5L408.0 726.9L407.1 728.6L407.0 731.1L407.2 733.5L407.0 736.0L407.4 738.5L407.2 740.9L407.2 743.7L406.9 746.7L407.1 749.6L407.2 751.6L407.0 754.4L407.4 756.3L407.0 758.1L407.2 759.5L407.2 762.3L407.2 764.2L407.4 765.7L407.2 768.8L407.2 771.3L407.1 774.1L407.2 777.2L407.1 778.6L407.1 780.5L407.0 783.0L407.2 784.2L406.9 786.4L407.4 788.4L407.1 790.0L407.0 792.4L407.4 795.1L407.3 796.7L407.0 799.9L407.2 802.3L407.2 804.3L407.1 805.9L407.0 809.0L407.1 810.4L406.9 813.2L407.2 815.1L407.0 818.1L407.3 820.0L407.0 822.8L407.3 824.7L407.3 826.1L407.1 827.5L407.3 830.4L407.2 833.4L407.0 835.9L407.1 837.2L407.1 838.7L406.9 841.2L407.1 842.8L407.1 844.6L407.3 846.9L407.0 848.2L407.2 851.0L407.2 853.0L406.9 855.8L407.0 857.6L407.0 858.9L406.9 861.6L407.2 864.4L407.1 866.6L407.1 868.3L407.3 870.2L407.0 872.2L406.9 873.7L407.0 875.9L407.4 877.5L407.0 880.4L407.1 881.7L406.8 883.3L407.2 884.5L407.3 886.5L407.1 889.3L407.1 890.3M420.9 687.9L421.5 690.9L421.8 692.5L422.2 695.6L422.1 697.8L422.0 699.8L422.1 701.9L422.1 704.7L422.1 707.2L421.8 708.7L421.9 711.6L422.0 713.1L421.8 715.1L421.9 718.0L422.3 720.7L421.7 723.1L421.9 724.8L422.0 726.0L422.0 729.1L421.9 731.1L422.0 734.1L421.9 737.2L422.0 738.8L422.0 741.5L421.9 743.4L421.8 745.5L422.0 748.5L422.0 750.2L422.2 751.9L422.1 754.6L422.1 756.5L422.1 758.6L422.1 761.5L422.1 764.0L423.6 767.0L422.3 769.1L421.9 771.2L422.7 772.6L421.9 773.9L422.1 776.1L422.0 778.0L421.9 779.9L421.8 781.7L422.2 784.3L422.0 787.2L422.0 789.3L421.7 791.9L422.2 794.6L422.2 797.7L421.8 800.8L421.9 802.7L422.2 805.7L422.0 808.8L421.7 811.0L422.1 814.1L422.0 816.6L421.9 819.2L422.0 820.8L421.8 824.0L423.0 825.2L422.0 827.2L422.4 829.6L422.1 832.7L422.2 835.0L422.1 836.5L422.3 837.7L422.3 839.4L422.1 842.3L422.1 844.5L422.1 845.8L421.9 847.1L421.7 849.6L422.3 852.4L422.0 855.2L422.0 857.0L422.1 859.8L422.1 862.4L423.3 865.5L421.9 868.2L422.8 871.1L422.3 873.2L421.7 875.6L421.8 878.7L422.0 879.9L422.3 882.5L422.0 885.3L422.0 887.4L422.0 890.3M435.8 692.3L436.4 695.3L437.1 697.9L436.7 699.6L436.8 700.9L436.9 702.9L437.2 704.6L436.8 706.0L436.9 707.8L438.3 710.0L436.9 711.6L436.9 713.3L436.7 715.5L437.0 717.5L437.0 720.5L436.9 722.6L436.7 725.3L437.0 727.5L436.9 730.5L436.9 733.3L436.7 734.9L436.7 736.8L437.3 738.3L437.0 741.1L437.0 742.5L437.0 744.4L437.0 746.0L436.9 748.4L436.6 750.1L437.0 751.6L437.0 754.6L436.8 756.7L437.1 759.0L436.9 760.6L437.0 762.0L436.9 764.4L437.0 766.7L436.9 769.2L436.7 770.9L436.9 772.3L437.0 774.4L436.8 776.2L436.6 777.5L437.2 779.7L436.9 781.9L437.1 783.9L436.7 786.7L436.9 788.1L436.9 790.5L436.8 792.1L436.7 793.6L437.1 794.9L437.0 797.0L436.7 800.0L436.8 801.3L437.1 803.7L436.9 806.6L437.1 808.6L437.2 811.3L436.9 813.8L437.1 816.0L437.2 818.3L437.2 821.2L437.1 824.3L436.9 825.9L436.9 827.5L436.7 829.7L436.9 832.2L436.8 833.6L436.7 835.7L437.0 837.5L437.0 838.9L436.8 841.6L436.9 843.1L436.9 844.4L436.9 846.3L436.8 849.3L437.0 851.2L436.9 854.0L436.8 855.6L437.0 857.4L437.1 860.4L437.1 862.0L436.6 864.6L436.9 866.7L436.8 868.6L437.0 870.5L436.9 873.2L436.7 875.8L437.0 877.0L437.1 880.1L437.1 883.2L436.8 885.8L436.9 887.8L436.9 890.3M450.7 698.3L451.3 701.1L451.6 702.6L451.7 705.0L451.8 707.5L451.7 710.0L452.0 711.7L451.6 713.7L451.6 715.5L451.6 717.4L451.7 719.1L451.7 721.6L451.8 724.4L451.6 726.1L451.6 728.7L451.8 730.4L452.0 732.8L451.9 735.1L451.9 737.2L452.0 740.1L451.7 743.2L451.9 746.3L451.7 748.7L451.6 750.5L451.9 751.9L451.7 753.8L451.7 755.0L451.8 756.9L451.9 758.5L451.7 760.9L451.8 762.3L451.7 765.2L451.8 766.9L451.8 768.2L451.7 770.2L451.8 773.0L451.7 775.6L451.9 777.4L451.4 780.1L451.7 783.1L451.8 785.9L453.3 787.8L452.0 789.2L452.0 791.2L451.9 792.7L452.3 793.9L451.9 795.2L452.0 796.9L451.9 799.4L451.8 801.1L451.8 803.6L451.8 805.6L451.9 807.4L451.8 809.5L451.7 812.5L451.7 814.3L452.0 816.7L451.9 819.5L451.8 822.7L451.7 824.6L451.6 825.9L451.9 829.1L451.7 830.5L452.1 833.0L451.7 836.1L452.1 838.2L451.7 841.4L451.9 844.5L451.8 846.8L452.2 848.1L451.9 851.2L451.8 854.3L451.8 856.2L451.6 857.4L451.8 859.4L451.9 860.7L451.7 863.5L451.7 865.8L451.7 868.4L451.7 869.9L451.7 872.5L451.7 873.8L451.8 876.6L451.8 878.3L451.9 880.4L453.4 883.3L451.6 884.9L451.9 888.0L451.8 890.3M465.6 701.0L466.0 702.8L466.5 705.4L466.8 707.2L466.9 708.6L466.7 711.1L466.7 712.7L466.8 714.4L466.7 717.2L466.6 720.0L466.7 722.8L466.6 724.2L466.5 725.8L466.7 727.5L466.7 730.5L466.7 733.1L466.6 735.1L466.7 737.4L466.7 740.0L466.6 743.2L466.9 745.5L466.8 748.4L466.7 749.9L466.7 752.9L466.9 755.0L466.6 757.7L466.8 759.0L466.7 761.8L466.8 764.9L466.8 767.7L466.6 770.1L466.9 771.7L466.5 773.5L466.6 775.1L466.5 776.9L466.8 778.7L467.1 780.3L466.6 782.5L466.6 784.2L466.7 786.7L466.7 788.8L466.7 790.8L466.8 793.1L466.9 794.9L466.6 796.8L466.8 798.0L466.8 801.2L467.0 803.5L467.6 805.5L466.4 807.8L466.7 809.7L466.6 811.7L466.6 813.0L466.8 814.2L466.7 817.1L466.9 818.9L466.6 822.1L466.8 825.1L466.7 826.9L466.9 829.9L467.0 832.7L466.6 835.9L466.7 838.7L466.5 840.3L466.7 843.5L466.6 844.8L468.5 846.4L466.7 847.8L466.6 849.0L466.6 851.9L466.6 854.8L466.9 856.3L467.0 858.1L466.8 861.0L466.8 862.7L466.7 864.5L466.9 867.3L466.9 869.0L466.9 871.2L466.7 874.2L466.6 876.7L466.8 878.0L466.7 880.4L468.2 882.1L467.0 884.5L466.6 887.0L466.9 889.9L466.8 890.3M480.5 706.4L480.8 708.1L481.2 709.7L481.5 711.3L481.8 713.2L481.6 714.9L481.4 717.0L481.7 719.7L481.8 721.1L481.7 722.3L482.1 724.7L481.5 727.6L481.5 729.8L481.6 731.9L481.7 734.9L482.6 736.7L481.6 738.0L481.3 739.6L481.6 741.0L481.6 742.2L481.7 743.9L481.8 745.2L482.0 748.2L481.5 749.7L481.8 752.3L481.8 755.2L481.6 756.4L481.5 759.5L481.5 762.1L481.5 763.8L481.6 765.8L481.7 767.6L481.3 769.0L481.5 772.0L481.8 773.7L481.5 775.9L481.5 778.6L481.8 781.4L481.6 783.4L481.4 785.6L481.6 787.7L481.5 789.7L481.7 791.1L481.7 793.1L481.6 795.0L481.8 797.4L481.6 799.9L481.6 801.3L481.6 803.4L481.6 805.9L481.6 807.3L481.6 809.0L481.6 811.6L481.9 814.1L482.4 816.5L481.6 819.0L481.7 821.2L481.8 823.6L481.6 826.7L481.9 829.4L481.6 832.3L481.6 835.5L481.8 838.1L481.6 840.1L481.8 841.4L481.8 844.4L481.7 847.3L481.7 849.7L481.6 852.0L481.5 854.8L481.4 856.3L481.5 859.4L481.7 860.7L481.5 862.1L481.8 864.5L481.6 867.4L481.8 868.7L481.6 870.2L481.7 871.4L481.4 874.6L481.8 877.2L481.5 880.0L481.6 882.1L481.9 883.9L481.5 886.0L481.5 888.8L481.8 890.3L481.7 890.3M495.4 726.8L495.9 729.2L496.4 731.8L496.6 733.1L496.6 735.7L496.6 738.0L496.7 741.1L496.5 743.7L496.7 746.9L496.5 749.3L496.7 751.6L496.9 753.6L496.5 755.7L496.8 757.5L496.5 760.0L496.2 763.2L496.7 765.2L496.6 768.2L496.5 770.9L496.2 773.5L497.5 775.3L496.4 778.3L496.7 779.6L496.5 780.9L496.8 784.1L496.6 785.5L496.5 788.5L496.8 791.3L496.6 792.6L496.7 795.8L496.6 797.5L496.9 800.0L496.7 801.7L496.5 804.6L496.4 807.3L496.7 808.7L496.8 811.2L496.7 814.2L496.4 816.3L496.7 818.3L496.8 820.9L496.6 823.1L496.7 825.5L496.7 827.1L496.6 828.7L496.5 831.4L496.7 834.5L496.8 836.9L496.6 838.4L496.5 840.7L496.5 843.3L496.5 844.7L496.5 847.4L496.5 849.1L496.6 851.8L496.6 854.0L496.4 857.1L496.8 860.2L496.8 861.7L496.2 864.9L496.3 867.8L496.8 870.1L496.5 872.8L496.7 875.3L496.3 877.1L496.5 879.3L496.6 880.8L496.8 883.7L496.5 886.4L496.5 889.1L496.6 890.3M510.3 732.9L510.8 735.2L511.1 736.5L511.5 739.5L511.4 742.2L511.5 744.2L511.2 746.0L511.9 748.5L511.4 750.4L511.6 751.6L511.4 754.1L511.3 757.0L511.5 758.3L511.3 761.0L511.6 763.7L511.3 766.4L511.2 768.2L511.6 770.1L511.7 771.9L511.2 774.8L511.5 776.2L511.8 778.5L511.7 781.6L511.5 784.4L511.4 787.0L512.8 789.3L511.7 791.3L511.6 794.1L511.6 797.1L511.4 799.4L511.6 802.1L511.5 804.7L511.6 806.4L511.3 809.2L511.4 810.4L511.8 812.2L511.1 815.0L511.5 816.6L512.6 818.2L511.5 820.8L511.4 823.2L511.2 825.7L511.3 828.5L511.7 830.2L511.5 831.5L511.6 834.5L511.5 836.4L511.4 837.9L511.8 840.9L511.5 844.1L511.5 846.9L512.4 849.2L511.6 850.9L511.4 852.7L511.4 854.5L511.4 855.7L511.5 857.1L511.4 858.4L511.5 859.8L511.3 861.8L511.6 864.5L511.6 866.5L511.8 868.0L511.4 871.1L511.5 874.2L511.2 876.9L511.6 878.8L511.5 881.7L511.4 883.6L511.5 885.5L511.4 886.9L511.5 889.1L511.5 890.3M525.2 725.1L525.6 726.9L526.1 729.4L526.2 731.8L526.3 734.8L526.5 737.2L526.3 739.9L526.5 741.3L526.3 743.8L526.7 746.5L526.6 748.7L526.3 750.7L526.2 752.7L526.3 754.7L526.4 757.3L526.4 759.4L526.2 761.6L526.2 762.9L526.6 765.6L526.4 767.8L526.1 769.5L526.4 771.4L526.2 773.3L526.1 775.8L526.5 777.9L526.4 780.0L526.3 781.2L526.2 784.2L526.3 785.6L526.2 787.7L526.5 789.3L526.4 791.8L526.4 794.9L526.4 797.0L526.2 800.2L526.2 802.0L526.2 804.0L526.4 806.1L526.6 808.7L526.4 810.6L526.1 813.2L526.3 815.9L526.5 818.9L526.5 821.2L526.3 824.1L527.0 825.7L526.5 828.3L526.3 829.5L526.1 831.0L526.7 833.9L526.2 836.5L526.4 839.0L526.1 840.2L526.5 842.7L526.5 844.6L526.5 846.8L526.5 848.5L526.3 850.9L526.5 854.0L526.6 856.3L526.4 858.6L526.4 861.1L526.5 863.8L526.3 866.5L526.4 867.8L526.3 869.6L526.4 872.8L526.7 875.8L526.2 878.9L526.7 881.0L526.5 883.1L526.2 884.4L526.6 886.0L526.8 887.3L526.2 889.9L526.4 890.3M540.2 736.0L540.6 738.1L541.0 740.4L541.2 742.2L541.2 744.5L541.4 747.2L541.3 748.9L541.3 750.6L541.5 753.3L541.2 756.2L541.3 758.3L541.2 760.0L541.3 762.5L541.4 764.5L541.3 766.8L542.4 769.9L541.3 773.0L541.6 774.2L541.0 776.2L541.2 778.2L541.3 781.0L541.1 782.7L541.4 785.3L541.2 787.2L541.4 790.2L541.2 791.9L541.4 794.9L541.1 797.3L541.2 800.0L541.2 801.9L541.3 804.9L541.6 806.2L541.2 807.9L541.4 810.9L541.1 813.7L541.4 815.6L541.5 817.6L541.2 819.3L541.4 821.1L541.3 823.3L541.3 825.8L541.7 827.2L541.1 828.7L541.3 830.9L541.3 832.2L541.5 834.8L541.5 837.0L541.4 839.9L541.2 841.4L541.6 843.9L541.3 846.8L541.4 849.6L541.3 851.6L541.3 854.2L541.0 855.5L541.4 856.8L541.0 859.3L541.5 861.9L541.4 864.5L541.6 867.6L541.3 870.6L541.4 873.0L541.3 875.6L541.2 877.6L541.2 880.0L541.1 882.1L541.6 885.1L541.5 887.7L541.4 889.6L541.3 890.3M555.1 738.6L555.5 740.6L556.1 743.7L556.4 745.4L556.2 747.2L556.4 750.1L556.2 751.9L556.3 754.5L556.5 755.9L556.1 759.0L556.1 761.8L556.2 764.7L556.4 766.4L556.3 768.4L556.2 771.2L556.2 772.8L556.1 775.2L556.1 777.1L556.6 779.5L556.2 780.9L556.6 783.1L556.2 784.6L556.1 787.4L556.3 789.2L556.4 791.3L556.1 793.0L556.5 796.2L556.3 797.5L556.2 798.9L556.1 800.3L557.4 803.2L556.2 806.2L556.0 809.3L556.1 812.2L556.3 813.8L556.5 815.0L555.8 817.7L556.2 819.2L556.3 822.0L556.1 823.3L556.0 825.2L556.4 827.5L556.2 830.0L556.0 832.1L556.4 834.3L556.0 836.6L556.1 839.6L556.3 842.8L556.3 845.2L556.4 848.2L556.4 851.1L556.1 853.3L555.9 855.8L555.9 858.2L556.2 861.0L556.2 862.7L556.3 865.1L556.3 868.1L556.3 871.1L556.2 874.0L556.3 875.4L556.3 877.5L556.3 879.9L556.1 881.3L556.1 882.8L556.1 886.0L556.5 888.8L556.2 890.3M570.0 738.2L570.4 740.2L570.7 741.7L571.0 743.4L570.9 746.2L570.9 747.6L571.2 750.7L571.1 752.8L571.2 755.3L571.4 758.1L571.2 761.2L571.0 764.1L571.1 765.9L571.3 767.9L571.2 770.2L571.1 773.2L571.1 774.9L571.2 777.9L571.4 779.3L570.9 780.9L571.2 782.5L571.6 784.4L571.1 786.8L571.4 789.7L571.2 792.3L571.2 795.4L571.0 797.5L571.0 800.2L571.0 801.9L571.2 803.1L571.2 805.3L571.1 807.8L571.1 809.6L571.1 811.9L571.1 814.6L571.2 817.4L571.1 818.7L571.2 820.2L571.4 823.1L571.1 825.9L572.4 828.8L571.0 831.8L571.3 834.8L571.1 837.4L571.1 839.6L571.2 840.9L571.2 843.8L571.3 846.1L570.8 849.2L571.1 851.6L571.1 854.5L571.2 857.4L571.5 860.6L571.1 862.8L571.1 864.9L571.1 866.9L571.3 869.2L571.2 871.9L570.7 874.6L571.0 876.2L571.0 878.5L571.1 881.4L571.2 883.3L571.2 885.9L571.3 887.2L571.3 889.1L571.1 890.3M584.9 732.5L585.3 734.8L585.8 737.2L585.9 738.6L586.0 741.5L586.0 743.5L585.9 746.3L586.1 747.5L586.1 750.5L585.9 752.2L585.9 753.8L585.9 756.4L588.1 759.5L585.9 761.5L585.9 764.5L586.0 766.3L586.3 769.0L586.0 771.1L586.0 773.3L585.8 776.4L585.7 778.1L586.3 780.7L586.0 783.6L587.9 784.9L586.2 786.2L585.8 788.0L586.1 789.4L585.9 791.9L586.1 794.5L586.0 796.2L585.9 797.9L586.0 799.5L586.3 802.1L586.3 805.0L586.2 806.5L586.2 809.3L586.0 811.0L587.0 813.1L586.1 815.0L585.9 816.8L586.0 818.1L586.0 820.6L585.7 823.4L585.9 826.5L586.0 828.4L586.3 831.2L586.3 834.0L586.1 835.8L586.0 838.3L586.1 839.5L586.1 842.4L586.1 843.7L585.9 846.5L586.0 847.9L586.1 850.6L586.1 853.2L585.9 856.2L586.0 858.3L586.2 861.4L586.1 863.7L585.8 865.2L585.9 866.9L586.0 869.2L585.9 871.7L585.7 874.2L586.2 876.1L585.9 878.5L586.2 880.6L587.6 883.7L586.0 885.9L586.3 888.8L586.0 890.3M599.8 759.0L600.4 762.1L600.9 764.7L600.9 767.5L600.8 770.0L600.8 772.7L600.7 775.5L600.9 777.1L601.0 778.7L601.2 781.5L600.8 784.4L600.8 786.5L601.0 789.6L600.8 792.5L600.9 794.9L601.1 797.0L600.9 798.9L601.2 800.7L600.8 802.9L601.1 804.7L601.0 807.0L601.0 808.4L600.9 809.8L600.8 812.7L601.0 814.7L600.7 816.0L601.0 818.7L601.0 819.9L600.9 821.1L600.9 824.0L600.9 825.9L600.9 828.5L601.0 831.2L600.7 833.2L601.2 835.4L601.1 838.2L601.1 841.0L601.1 842.9L600.9 844.5L601.0 847.0L600.8 849.8L600.7 852.6L601.0 855.3L601.0 857.3L600.9 859.4L600.8 862.1L601.0 863.3L600.9 866.0L601.2 867.8L600.8 870.0L601.0 871.9L601.2 874.2L600.8 875.6L600.9 878.4L601.0 881.4L601.1 884.5L601.0 885.8L600.8 887.8L600.9 890.3M614.7 766.4L615.3 769.2L615.6 772.4L615.8 775.0L616.1 777.1L615.7 778.5L615.9 780.8L615.9 784.0L616.0 786.7L615.9 789.2L615.8 791.7L615.9 793.5L617.0 795.3L615.6 797.4L615.5 799.1L616.1 800.6L615.6 803.2L615.9 806.3L615.8 808.8L616.0 811.1L615.7 814.1L615.9 816.7L615.6 818.7L615.9 820.7L616.0 822.1L616.1 825.1L616.0 826.9L616.1 828.4L616.0 830.4L615.7 831.6L615.9 833.2L615.9 834.7L615.9 837.2L615.7 839.9L615.7 842.6L615.8 844.3L616.1 846.5L616.0 848.4L616.1 851.1L615.7 852.5L616.0 854.6L615.8 856.0L615.9 859.1L615.7 862.1L615.8 864.1L615.8 867.2L615.9 869.1L616.0 871.6L615.9 874.7L615.6 876.4L615.7 879.4L615.7 881.5L615.7 883.2L615.9 885.6L616.0 887.3L615.7 889.4L615.9 890.3M629.6 770.1L630.2 773.2L630.7 775.5L631.1 778.6L630.8 780.9L630.7 782.3L631.1 783.9L630.9 786.6L630.5 787.8L630.5 789.3L630.8 792.4L630.7 794.2L630.8 796.2L630.4 799.2L630.7 802.4L630.7 804.9L630.6 807.4L630.7 808.6L630.8 811.7L630.8 814.7L630.8 816.6L630.7 819.8L630.7 822.1L630.6 825.0L630.9 827.8L630.7 829.8L630.7 832.5L630.8 834.8L630.8 837.6L630.6 839.3L630.7 841.3L630.5 843.3L630.8 844.6L630.8 847.6L630.9 850.4L631.0 852.6L630.6 855.2L630.7 857.1L631.0 859.1L630.8 861.4L630.8 864.3L630.9 865.6L630.7 866.9L631.0 868.9L631.0 871.1L630.8 873.1L630.7 874.3L630.7 876.0L630.8 877.4L630.8 878.7L631.1 881.5L630.8 884.4L630.8 886.9L631.0 889.5L630.8 890.3M644.5 775.9L645.1 779.0L645.7 781.1L645.5 782.7L645.7 785.6L645.9 788.7L645.7 790.7L645.5 792.6L645.6 795.6L645.8 797.8L645.8 799.9L645.8 801.5L645.8 803.2L645.7 806.2L645.6 808.1L645.6 810.3L646.1 812.7L645.9 815.4L645.4 817.9L645.6 820.2L645.5 822.9L645.5 825.2L645.7 827.1L645.7 828.7L645.7 830.4L645.5 832.4L645.7 833.9L645.6 836.9L645.5 839.2L645.8 841.0L645.6 842.6L645.5 845.1L645.6 848.1L645.7 850.9L645.9 852.6L645.3 854.2L645.6 857.1L645.7 859.9L645.7 862.5L646.2 864.4L645.7 866.2L645.8 869.3L645.7 871.5L645.5 874.2L645.7 875.9L645.6 878.4L645.7 879.9L645.7 881.2L645.8 883.6L645.6 885.9L645.9 888.6L645.7 890.3M659.4 813.1L660.0 815.8L660.2 817.1L660.8 819.4L660.6 821.4L661.5 824.3L660.8 826.6L660.5 828.8L660.9 830.9L660.5 833.9L660.7 835.8L660.5 837.5L660.6 840.3L660.5 843.3L660.6 844.5L660.6 846.7L660.6 848.5L660.5 850.4L660.3 852.0L660.6 853.8L660.8 855.8L660.4 857.8L660.8 859.2L660.7 860.6L660.6 863.8L660.7 866.6L660.9 868.7L661.7 869.9L660.4 871.5L660.9 873.7L662.0 875.2L660.7 877.2L660.3 878.7L660.6 879.9L660.9 882.3L660.7 885.0L660.6 887.6L660.6 890.3M674.4 673.9L674.7 675.5L675.2 678.2L675.4 681.3L675.6 682.6L675.5 684.1L675.8 686.6L675.6 688.3L675.6 690.2L675.3 692.5L675.3 694.2L675.7 696.3L675.7 697.6L675.5 699.5L675.1 701.8L675.7 704.2L675.4 707.1L675.5 709.6L675.1 712.3L677.2 714.8L675.5 717.1L675.7 718.6L675.4 720.8L675.4 722.2L675.6 723.7L675.6 725.0L675.6 727.4L675.3 729.5L675.6 731.1L675.4 732.8L675.5 735.1L675.5 736.4L675.5 739.1L675.5 741.2L675.6 744.3L675.6 746.8L675.3 748.6L677.1 751.1L675.1 754.3L675.4 756.2L675.4 758.6L675.5 761.5L675.1 763.5L675.7 765.8L675.7 767.9L675.4 769.5L675.3 772.7L676.7 774.5L675.5 776.1L675.4 779.3L675.5 782.3L675.9 785.2L675.4 787.5L675.7 790.3L675.4 792.8L675.6 795.3L675.3 797.3L675.6 800.0L675.7 802.3L675.7 803.8L675.3 805.3L675.5 807.8L675.7 809.2L675.4 810.9L675.7 813.5L675.4 816.5L675.6 819.4L675.7 822.5L675.5 824.3L675.4 827.5L675.4 830.3L675.4 832.6L675.4 834.1L675.5 836.1L675.7 839.1L675.2 841.4L675.5 843.8L675.6 846.5L675.7 848.3L675.8 850.2L675.8 851.5L675.7 853.0L675.6 855.8L675.4 857.8L675.6 860.3L675.4 862.9L675.2 864.3L675.5 865.5L675.5 868.7L675.6 870.1L675.7 871.5L675.3 873.8L675.6 875.3L675.7 877.4L675.3 878.8L675.3 881.1L675.3 884.1L675.5 885.8L675.6 888.6L675.5 890.3" fill="none" stroke="#8a6ed0" stroke-width="0.8" stroke-linejoin="round"/>
<path d="M381.3 731.3l12 8m0 -8l-12 8M396.2 884.0l12 8m0 -8l-12 8M440.9 848.3l12 8m0 -8l-12 8M455.9 837.5l12 8m0 -8l-12 8M485.7 784.4l12 8m0 -8l-12 8M500.6 787.8l12 8m0 -8l-12 8M515.5 789.9l12 8m0 -8l-12 8M530.4 865.0l12 8m0 -8l-12 8M560.2 803.4l12 8m0 -8l-12 8M575.1 823.1l12 8m0 -8l-12 8M619.9 850.1l12 8m0 -8l-12 8M634.8 871.2l12 8m0 -8l-12 8M649.7 822.6l12 8m0 -8l-12 8" stroke="#1e1e1e" stroke-width="1.45"/>
<text x="389.7" y="900.9" font-size="8.3" text-anchor="end" fill="#222">chr 1</text>
<text x="402.2" y="900.9" font-size="8.3" text-anchor="middle" fill="#222">2</text>
<text x="417.1" y="900.9" font-size="8.3" text-anchor="middle" fill="#222">3</text>
<text x="432" y="900.9" font-size="8.3" text-anchor="middle" fill="#222">4</text>
<text x="446.9" y="900.9" font-size="8.3" text-anchor="middle" fill="#222">5</text>
<text x="461.9" y="900.9" font-size="8.3" text-anchor="middle" fill="#222">6</text>
<text x="476.8" y="900.9" font-size="8.3" text-anchor="middle" fill="#222">7</text>
<text x="491.7" y="900.9" font-size="8.3" text-anchor="middle" fill="#222">8</text>
<text x="506.6" y="900.9" font-size="8.3" text-anchor="middle" fill="#222">9</text>
<text x="521.5" y="900.9" font-size="8.3" text-anchor="middle" fill="#222">10</text>
<text x="536.4" y="900.9" font-size="8.3" text-anchor="middle" fill="#222">11</text>
<text x="551.3" y="900.9" font-size="8.3" text-anchor="middle" fill="#222">12</text>
<text x="566.2" y="900.9" font-size="8.3" text-anchor="middle" fill="#222">13</text>
<text x="581.1" y="900.9" font-size="8.3" text-anchor="middle" fill="#222">14</text>
<text x="596" y="900.9" font-size="8.3" text-anchor="middle" fill="#222">15</text>
<text x="611" y="900.9" font-size="8.3" text-anchor="middle" fill="#222">16</text>
<text x="625.9" y="900.9" font-size="8.3" text-anchor="middle" fill="#222">17</text>
<text x="640.8" y="900.9" font-size="8.3" text-anchor="middle" fill="#222">18</text>
<text x="655.7" y="900.9" font-size="8.3" text-anchor="middle" fill="#222">19</text>
<text x="670.6" y="900.9" font-size="8.3" text-anchor="middle" fill="#222">X</text>
<path d="M538.6 640.2h21" stroke="#2a78b8" stroke-width="3"/>
<path d="M538.6 650.4h21" stroke="#e2432d" stroke-width="3"/>
<path d="M538.6 661.2h21" stroke="#8a6ad0" stroke-width="0.9"/>
<path d="M544.9 668.4l8 6m0 -6l-8 6" stroke="#1e1e1e" stroke-width="1.2"/>
<text x="564.2" y="643.1" font-size="8.3" fill="#222">Paternal haplotype</text>
<text x="564.2" y="653.5" font-size="8.3" fill="#222">Maternal haplotype</text>
<text x="564.2" y="664" font-size="8.3" fill="#222">Coverage</text>
<text x="564.2" y="674.4" font-size="8.3" fill="#222">HMM inferred crossover</text>
<text x="363.2" y="642.5" font-size="12" font-weight="bold" fill="#000">i</text>
<path d="M24.4 985.7H647.5M24.4 978.1H647.5M24.4 970.5H647.5M24.4 963.0H647.5M24.4 955.4H647.5M24.4 947.8H647.5M24.4 940.2H647.5" stroke="#d9d9d9" stroke-width="0.6" stroke-dasharray="3.6 2.9"/>
<path d="M68.5 937.7V987.5M111.8 937.7V987.5M148.5 937.7V987.5M184.8 937.7V987.5M220.5 937.7V987.5M256.3 937.7V987.5M289.5 937.7V987.5M320.2 937.7V987.5M349.0 937.7V987.5M379.3 937.7V987.5M408.5 937.7V987.5M435.7 937.7V987.5M464.9 937.7V987.5M493.6 937.7V987.5M518.8 937.7V987.5M542.4 937.7V987.5M564.0 937.7V987.5M585.7 937.7V987.5M599.8 937.7V987.5M640.0 937.7V987.5" stroke="#9c9c9c" stroke-width="0.85" stroke-dasharray="5 2.6"/>
<path d="M24.5 978.1h0.9M24.9 976.8h0.9M25.1 976.4h0.9M25.5 977.9h0.9M25.7 978.0h0.9M26.5 977.2h0.9M27.1 978.9h0.9M28.3 979.2h0.9M28.4 976.6h0.9M29.0 977.7h0.9M29.4 976.8h0.9M29.5 977.5h0.9M29.8 978.2h0.9M30.8 977.8h0.9M31.1 981.8h0.9M31.3 977.3h0.9M31.9 979.4h0.9M32.2 977.2h0.9M32.8 978.8h0.9M33.2 977.7h0.9M33.5 980.2h0.9M33.9 979.2h0.9M34.1 978.5h0.9M34.2 979.3h0.9M34.5 977.2h0.9M34.7 978.5h0.9M34.8 976.9h0.9M35.2 978.1h0.9M35.7 977.9h0.9M36.5 979.0h0.9M37.2 979.8h0.9M37.5 976.4h0.9M38.3 977.9h0.9M39.2 977.0h0.9M40.1 980.2h0.9M40.7 977.5h0.9M40.9 978.7h0.9M41.1 979.2h0.9M42.4 977.5h0.9M43.0 979.7h0.9M43.7 979.8h0.9M44.3 975.4h0.9M45.1 978.9h0.9M45.2 976.8h0.9M45.9 976.8h0.9M46.0 977.3h0.9M46.2 982.4h0.9M46.4 977.6h0.9M46.6 979.0h0.9M47.6 978.7h0.9M47.7 980.8h0.9M48.0 979.2h0.9M48.4 978.9h0.9M48.6 979.4h0.9M48.9 979.8h0.9M49.2 980.8h0.9M49.5 977.7h0.9M49.8 978.2h0.9M50.5 976.2h0.9M52.7 977.1h0.9M52.9 976.4h0.9M53.6 974.6h0.9M53.8 979.9h0.9M54.6 976.9h0.9M55.7 980.2h0.9M56.3 976.9h0.9M56.9 977.8h0.9M57.2 977.7h0.9M57.6 974.1h0.9M57.9 978.4h0.9M58.1 977.6h0.9M58.6 980.7h0.9M58.9 976.5h0.9M59.2 979.8h0.9M59.4 979.8h0.9M60.2 976.7h0.9M61.4 977.6h0.9M62.0 978.0h0.9M62.3 977.9h0.9M62.5 978.4h0.9M63.3 980.0h0.9M63.8 978.5h0.9M64.0 980.9h0.9M64.4 977.9h0.9M64.5 979.2h0.9M65.5 978.8h0.9M66.2 979.0h0.9M66.7 978.2h0.9M67.0 977.6h0.9M67.3 973.9h0.9M67.8 978.4h0.9M68.4 978.1h0.9M68.7 978.3h0.9M70.7 979.1h0.9M71.0 976.9h0.9M72.1 977.5h0.9M72.6 979.5h0.9M73.1 975.4h0.9M73.4 976.0h0.9M74.1 978.4h0.9M74.7 979.3h0.9M75.0 978.4h0.9M75.2 979.6h0.9M75.8 979.6h0.9M76.4 980.9h0.9M76.7 974.6h0.9M77.1 978.3h0.9M77.3 978.7h0.9M78.5 979.0h0.9M78.7 981.4h0.9M79.1 978.3h0.9M79.3 978.4h0.9M80.0 978.2h0.9M80.2 976.4h0.9M80.4 976.6h0.9M80.7 978.2h0.9M81.1 975.5h0.9M81.5 980.2h0.9M82.1 976.9h0.9M82.4 977.9h0.9M82.7 978.0h0.9M83.6 974.7h0.9M84.1 979.4h0.9M84.2 978.1h0.9M84.4 979.5h0.9M84.8 978.7h0.9M85.0 978.4h0.9M85.3 980.9h0.9M85.6 977.7h0.9M86.8 978.8h0.9M87.0 979.5h0.9M87.8 978.1h0.9M88.5 978.0h0.9M88.6 978.8h0.9M89.3 979.8h0.9M89.5 979.1h0.9M89.7 978.5h0.9M89.8 977.7h0.9M90.2 979.9h0.9M90.5 978.0h0.9M90.9 978.6h0.9M91.3 979.0h0.9M91.7 977.7h0.9M91.8 979.5h0.9M92.1 979.8h0.9M93.0 978.3h0.9M93.2 977.3h0.9M94.1 978.4h0.9M94.4 979.9h0.9M94.6 979.5h0.9M95.1 977.2h0.9M96.5 979.2h0.9M96.6 976.9h0.9M96.9 978.5h0.9M97.2 979.8h0.9M98.1 977.7h0.9M98.3 979.8h0.9M99.4 978.7h0.9M100.3 977.4h0.9M100.9 977.3h0.9M102.1 978.5h0.9M102.5 978.8h0.9M102.8 977.8h0.9M103.7 978.8h0.9M104.0 976.1h0.9M104.6 975.8h0.9M106.9 980.6h0.9M107.1 978.1h0.9M107.9 977.0h0.9M108.3 979.2h0.9M108.4 976.5h0.9M109.1 978.0h0.9M110.1 979.0h0.9M110.5 979.6h0.9M111.8 978.1h0.9M113.0 976.5h0.9M113.4 975.6h0.9M113.7 977.0h0.9M113.8 977.8h0.9M114.2 978.5h0.9M114.5 978.4h0.9M114.8 979.8h0.9M115.0 975.8h0.9M115.3 976.4h0.9M115.7 979.0h0.9M117.4 977.4h0.9M117.8 976.3h0.9M118.5 981.2h0.9M118.7 979.3h0.9M119.4 981.1h0.9M119.5 980.9h0.9M119.8 981.4h0.9M120.1 978.1h0.9M120.9 978.7h0.9M122.3 978.4h0.9M122.8 976.5h0.9M123.7 976.6h0.9M123.9 977.7h0.9M124.1 977.6h0.9M124.5 978.0h0.9M125.1 979.8h0.9M125.6 979.0h0.9M125.9 976.6h0.9M126.1 975.5h0.9M127.6 977.5h0.9M127.9 979.0h0.9M128.3 978.5h0.9M128.6 976.3h0.9M129.5 979.4h0.9M129.7 979.2h0.9M130.2 978.1h0.9M130.4 979.6h0.9M130.6 979.1h0.9M131.2 979.9h0.9M131.9 979.1h0.9M132.5 978.6h0.9M132.6 977.4h0.9M132.9 978.9h0.9M133.5 977.0h0.9M134.3 977.2h0.9M135.4 978.2h0.9M136.1 978.2h0.9M136.5 979.9h0.9M136.9 980.2h0.9M137.2 978.2h0.9M137.4 979.8h0.9M137.6 977.6h0.9M137.8 977.4h0.9M138.3 976.8h0.9M138.5 977.8h0.9M138.9 977.1h0.9M139.1 977.1h0.9M139.6 977.5h0.9M140.1 977.9h0.9M140.4 976.8h0.9M142.1 979.1h0.9M142.9 980.4h0.9M143.3 978.0h0.9M143.6 978.6h0.9M144.3 978.4h0.9M144.8 979.3h0.9M145.0 978.7h0.9M145.4 979.1h0.9M145.8 978.1h0.9M146.1 983.4h0.9M147.4 978.0h0.9M147.6 977.7h0.9M148.0 979.8h0.9M148.3 977.7h0.9M148.8 977.7h0.9M149.5 975.9h0.9M149.7 977.0h0.9M150.0 977.1h0.9M150.7 979.2h0.9M150.8 979.1h0.9M151.0 977.9h0.9M151.2 981.4h0.9M151.4 977.5h0.9M151.7 975.7h0.9M152.2 978.9h0.9M152.8 979.3h0.9M153.5 980.5h0.9M153.9 976.5h0.9M154.7 978.5h0.9M155.0 981.2h0.9M155.7 978.4h0.9M156.4 977.5h0.9M157.2 976.5h0.9M157.7 977.7h0.9M158.1 977.2h0.9M158.3 974.9h0.9M159.3 977.8h0.9M159.5 979.2h0.9M160.5 977.7h0.9M160.7 977.9h0.9M160.9 980.5h0.9M161.2 978.6h0.9M161.6 978.0h0.9M163.0 978.9h0.9M163.6 981.0h0.9M164.1 980.0h0.9M164.8 979.1h0.9M165.2 976.8h0.9M166.4 976.4h0.9M167.1 978.8h0.9M167.3 976.9h0.9M167.5 977.8h0.9M167.9 977.0h0.9M169.3 979.0h0.9M170.4 978.5h0.9M171.8 977.4h0.9M172.3 977.6h0.9M173.2 976.9h0.9M173.7 977.3h0.9M174.8 978.2h0.9M175.0 977.7h0.9M175.5 978.8h0.9M176.0 978.1h0.9M177.4 981.2h0.9M177.7 977.8h0.9M179.1 979.7h0.9M179.4 979.4h0.9M179.8 978.3h0.9M180.9 976.9h0.9M181.3 977.8h0.9M182.4 977.3h0.9M182.7 979.0h0.9M183.0 977.7h0.9M183.4 979.5h0.9M183.5 981.4h0.9M184.6 978.3h0.9M184.9 980.5h0.9M185.7 978.2h0.9M185.9 978.8h0.9M186.2 976.1h0.9M187.0 979.1h0.9M187.3 976.4h0.9M187.8 977.8h0.9M188.3 978.5h0.9M188.6 977.8h0.9M189.0 978.2h0.9M189.5 979.0h0.9M190.1 978.6h0.9M191.8 979.9h0.9M192.6 977.3h0.9M193.4 978.3h0.9M194.7 979.1h0.9M195.2 981.3h0.9M195.6 979.4h0.9M196.0 977.1h0.9M196.4 979.3h0.9M196.6 979.5h0.9M197.3 980.2h0.9M197.7 975.7h0.9M198.1 977.6h0.9M198.4 979.8h0.9M199.0 978.1h0.9M199.6 979.9h0.9M200.0 977.9h0.9M200.5 978.6h0.9M200.8 976.5h0.9M201.5 977.3h0.9M201.8 980.1h0.9M203.0 974.7h0.9M203.6 978.6h0.9M205.0 978.9h0.9M205.3 980.3h0.9M205.9 978.5h0.9M206.6 976.7h0.9M206.9 977.7h0.9M208.4 979.6h0.9M209.1 978.0h0.9M209.8 979.9h0.9M210.1 978.3h0.9M210.5 980.8h0.9M211.2 977.0h0.9M211.9 977.9h0.9M212.0 977.7h0.9M212.3 979.6h0.9M212.4 978.0h0.9M212.5 979.7h0.9M213.8 978.8h0.9M214.2 979.9h0.9M214.3 978.6h0.9M214.6 978.8h0.9M215.4 978.0h0.9M216.0 978.6h0.9M216.3 977.4h0.9M217.3 978.2h0.9M217.7 978.3h0.9M218.2 980.0h0.9M218.6 978.8h0.9M219.5 977.8h0.9M222.3 980.5h0.9M222.9 984.0h0.9M223.7 979.8h0.9M224.0 978.1h0.9M224.2 978.9h0.9M224.3 976.5h0.9M224.8 975.7h0.9M225.2 977.7h0.9M225.9 980.8h0.9M226.3 976.7h0.9M226.8 976.7h0.9M227.9 977.1h0.9M228.2 978.2h0.9M228.4 980.5h0.9M229.6 977.0h0.9M230.7 979.5h0.9M231.2 976.9h0.9M231.7 977.5h0.9M232.1 976.3h0.9M232.6 976.0h0.9M232.8 971.7h0.9M232.9 976.1h0.9M233.5 979.4h0.9M233.8 977.1h0.9M234.0 978.2h0.9M234.3 977.5h0.9M235.0 978.4h0.9M235.5 976.7h0.9M235.8 979.5h0.9M236.5 977.5h0.9M236.8 978.4h0.9M237.1 977.2h0.9M237.8 978.7h0.9M238.2 978.1h0.9M238.8 977.4h0.9M239.2 978.3h0.9M239.6 979.0h0.9M240.0 979.4h0.9M240.5 978.2h0.9M240.7 977.6h0.9M241.0 980.2h0.9M241.6 977.5h0.9M241.8 979.7h0.9M243.4 978.5h0.9M243.9 979.6h0.9M244.3 977.4h0.9M244.7 977.4h0.9M244.9 981.8h0.9M245.5 976.5h0.9M246.3 978.6h0.9M246.5 978.2h0.9M246.7 978.8h0.9M247.1 977.3h0.9M247.4 981.4h0.9M248.0 978.8h0.9M248.7 979.0h0.9M249.1 977.6h0.9M249.7 978.3h0.9M249.9 975.8h0.9M250.2 978.7h0.9M251.0 979.5h0.9M251.6 978.5h0.9M252.1 979.3h0.9M252.3 977.8h0.9M252.9 977.0h0.9M253.4 976.7h0.9M253.8 978.2h0.9M254.1 978.8h0.9M254.4 979.7h0.9M254.9 977.9h0.9M255.0 980.1h0.9M255.4 977.3h0.9M257.9 976.7h0.9M258.0 979.0h0.9M258.7 980.0h0.9M259.0 974.8h0.9M259.9 977.5h0.9M260.5 975.4h0.9M260.9 976.4h0.9M261.1 975.6h0.9M261.7 979.4h0.9M261.9 977.5h0.9M262.5 975.0h0.9M262.8 979.3h0.9M262.9 979.0h0.9M263.6 976.7h0.9M264.5 980.2h0.9M264.8 979.4h0.9M265.1 977.7h0.9M265.3 977.4h0.9M265.7 978.5h0.9M266.8 978.0h0.9M267.6 976.7h0.9M267.8 979.5h0.9M268.1 978.5h0.9M268.5 979.2h0.9M268.6 979.3h0.9M268.9 977.5h0.9M269.5 978.9h0.9M269.8 978.0h0.9M269.9 976.2h0.9M270.6 979.9h0.9M271.1 982.0h0.9M271.2 978.2h0.9M272.4 979.4h0.9M272.8 980.3h0.9M273.0 976.2h0.9M273.2 979.0h0.9M273.6 979.5h0.9M273.8 978.6h0.9M274.5 979.7h0.9M274.8 978.3h0.9M275.1 976.0h0.9M275.4 979.7h0.9M275.6 980.1h0.9M276.1 977.6h0.9M276.4 977.3h0.9M277.2 977.7h0.9M277.5 978.4h0.9M277.9 980.1h0.9M278.2 977.9h0.9M278.9 978.4h0.9M279.2 975.5h0.9M279.6 978.8h0.9M280.0 978.6h0.9M280.7 978.9h0.9M280.8 978.2h0.9M282.0 977.9h0.9M282.2 978.8h0.9M283.0 978.8h0.9M283.4 978.3h0.9M283.8 979.9h0.9M284.6 978.9h0.9M285.3 980.0h0.9M285.8 977.6h0.9M286.8 973.7h0.9M287.1 976.7h0.9M287.4 977.4h0.9M287.6 978.4h0.9M287.9 980.5h0.9M288.9 977.2h0.9M289.2 978.1h0.9M289.5 978.3h0.9M289.7 977.6h0.9M290.5 977.7h0.9M290.7 976.3h0.9M291.2 978.1h0.9M291.5 977.5h0.9M292.0 980.7h0.9M292.3 978.7h0.9M292.6 980.4h0.9M293.2 975.7h0.9M293.6 978.4h0.9M293.8 975.9h0.9M293.9 978.8h0.9M294.2 980.4h0.9M294.6 977.2h0.9M295.2 977.9h0.9M295.4 979.6h0.9M295.5 976.8h0.9M296.0 978.3h0.9M296.5 979.7h0.9M296.7 979.4h0.9M297.5 973.2h0.9M297.9 979.2h0.9M298.7 978.2h0.9M298.9 978.7h0.9M299.1 978.5h0.9M299.3 977.7h0.9M299.6 980.0h0.9M299.7 977.7h0.9M300.4 980.9h0.9M300.8 976.9h0.9M301.1 977.1h0.9M301.8 977.9h0.9M302.0 980.0h0.9M302.7 978.0h0.9M303.5 975.3h0.9M304.9 977.3h0.9M305.5 979.0h0.9M305.9 976.0h0.9M306.2 978.7h0.9M306.8 976.7h0.9M307.3 977.1h0.9M308.2 973.8h0.9M309.4 976.5h0.9M310.2 977.4h0.9M310.4 981.8h0.9M311.2 979.3h0.9M311.8 979.0h0.9M312.1 979.8h0.9M312.5 978.0h0.9M313.0 979.5h0.9M313.7 978.0h0.9M314.6 979.2h0.9M314.9 977.0h0.9M315.0 977.2h0.9M315.5 981.1h0.9M315.8 978.7h0.9M318.8 980.0h0.9M319.1 976.1h0.9M320.5 975.5h0.9M320.7 977.7h0.9M322.4 978.4h0.9M322.9 978.2h0.9M323.1 977.2h0.9M323.2 979.3h0.9M323.4 977.1h0.9M323.5 974.8h0.9M323.6 977.6h0.9M324.1 977.2h0.9M324.6 976.5h0.9M324.8 980.6h0.9M325.0 977.4h0.9M325.9 979.2h0.9M326.1 978.5h0.9M326.7 978.6h0.9M326.8 975.8h0.9M327.6 976.8h0.9M327.8 976.8h0.9M328.1 979.4h0.9M328.7 979.0h0.9M329.3 973.9h0.9M329.8 981.2h0.9M330.9 977.8h0.9M331.4 976.5h0.9M332.3 977.8h0.9M333.3 978.7h0.9M334.3 978.1h0.9M335.1 976.8h0.9M335.2 975.8h0.9M335.8 977.5h0.9M336.8 976.9h0.9M337.3 976.2h0.9M337.6 976.9h0.9M338.0 976.9h0.9M338.8 977.8h0.9M339.0 978.3h0.9M339.4 978.1h0.9M339.9 977.9h0.9M340.2 976.9h0.9M340.4 978.9h0.9M341.5 979.0h0.9M341.7 977.1h0.9M342.7 979.2h0.9M343.5 975.7h0.9M343.9 979.2h0.9M344.5 978.6h0.9M344.9 978.4h0.9M345.2 978.7h0.9M345.9 979.2h0.9M346.5 979.0h0.9M346.7 980.2h0.9M347.0 976.7h0.9M347.2 978.5h0.9M347.3 975.6h0.9M347.7 977.4h0.9M347.9 979.5h0.9M348.3 980.0h0.9M349.1 978.3h0.9M349.4 977.9h0.9M349.7 978.0h0.9M349.9 976.4h0.9M350.1 978.0h0.9M350.7 973.5h0.9M351.4 976.8h0.9M351.7 979.8h0.9M352.0 977.5h0.9M352.5 977.3h0.9M353.2 975.4h0.9M353.5 978.1h0.9M354.0 980.9h0.9M354.2 979.1h0.9M355.2 979.7h0.9M355.3 977.0h0.9M355.7 977.5h0.9M356.0 976.8h0.9M356.5 978.2h0.9M356.7 978.1h0.9M357.0 981.2h0.9M357.3 979.7h0.9M357.9 977.7h0.9M358.5 977.3h0.9M359.3 976.8h0.9M360.2 977.4h0.9M360.6 978.7h0.9M361.6 978.5h0.9M361.8 980.6h0.9M361.9 979.8h0.9M362.1 979.1h0.9M362.7 979.4h0.9M363.4 978.1h0.9M363.8 977.2h0.9M364.2 975.3h0.9M365.5 977.6h0.9M366.2 980.3h0.9M367.0 976.0h0.9M367.8 978.7h0.9M368.0 979.5h0.9M368.6 976.6h0.9M369.1 976.9h0.9M369.4 978.7h0.9M370.0 979.3h0.9M371.3 979.4h0.9M372.8 979.1h0.9M373.3 978.4h0.9M373.7 978.9h0.9M374.0 981.2h0.9M374.5 978.4h0.9M375.1 980.1h0.9M375.4 975.2h0.9M376.3 978.7h0.9M377.2 976.8h0.9M377.4 978.8h0.9M377.8 978.2h0.9M378.6 976.5h0.9M379.3 976.2h0.9M379.5 976.3h0.9M379.6 976.9h0.9M380.0 977.1h0.9M380.4 977.7h0.9M380.9 976.9h0.9M381.4 977.7h0.9M381.6 978.4h0.9M382.1 980.6h0.9M382.6 980.1h0.9M382.7 978.3h0.9M383.2 980.6h0.9M383.7 976.7h0.9M384.0 975.5h0.9M384.5 977.7h0.9M385.6 978.3h0.9M386.2 980.8h0.9M386.7 977.8h0.9M387.2 977.0h0.9M387.8 980.1h0.9M388.1 977.2h0.9M388.3 977.0h0.9M388.9 976.9h0.9M389.1 978.3h0.9M389.6 976.9h0.9M390.3 978.8h0.9M390.5 977.2h0.9M391.1 976.8h0.9M391.7 977.9h0.9M392.0 979.3h0.9M392.4 977.8h0.9M392.7 979.1h0.9M393.3 978.5h0.9M394.2 977.2h0.9M394.7 977.9h0.9M395.2 977.2h0.9M395.9 977.5h0.9M396.7 978.4h0.9M397.5 977.5h0.9M398.1 978.7h0.9M398.5 978.0h0.9M398.7 977.2h0.9M399.1 977.8h0.9M399.9 978.1h0.9M400.2 976.9h0.9M401.0 977.1h0.9M402.2 978.3h0.9M403.2 979.7h0.9M403.4 977.7h0.9M404.0 980.7h0.9M404.2 978.0h0.9M404.5 982.6h0.9M405.7 980.5h0.9M406.5 977.5h0.9M407.2 979.6h0.9M407.5 977.5h0.9M407.6 979.2h0.9M408.0 976.5h0.9M408.6 976.7h0.9M409.3 975.8h0.9M409.8 979.3h0.9M410.4 979.9h0.9M410.7 977.6h0.9M410.9 978.3h0.9M411.5 977.3h0.9M411.7 979.3h0.9M412.0 980.3h0.9M412.7 976.7h0.9M413.0 980.8h0.9M413.5 978.7h0.9M413.6 978.8h0.9M414.2 976.5h0.9M414.5 978.0h0.9M414.8 979.3h0.9M414.9 978.9h0.9M415.4 978.0h0.9M416.1 977.8h0.9M416.3 980.8h0.9M416.8 976.4h0.9M417.0 976.4h0.9M418.0 979.8h0.9M418.3 980.0h0.9M419.0 981.1h0.9M419.2 978.1h0.9M419.3 977.8h0.9M419.7 977.9h0.9M420.8 977.5h0.9M421.3 981.1h0.9M421.9 975.9h0.9M422.1 976.1h0.9M422.3 979.2h0.9M423.3 979.5h0.9M423.5 980.8h0.9M423.9 978.3h0.9M424.2 977.6h0.9M424.6 978.9h0.9M424.7 977.5h0.9M425.8 975.9h0.9M426.6 978.8h0.9M427.1 977.0h0.9M427.4 978.0h0.9M427.6 975.7h0.9M428.2 979.4h0.9M428.6 979.3h0.9M428.8 977.8h0.9M429.3 976.4h0.9M429.6 977.9h0.9M430.5 980.1h0.9M430.7 978.8h0.9M431.8 978.6h0.9M432.0 978.9h0.9M432.3 978.0h0.9M432.7 973.5h0.9M433.4 976.4h0.9M434.2 978.9h0.9M434.4 976.6h0.9M435.4 977.2h0.9M435.9 976.8h0.9M436.2 979.2h0.9M436.3 977.5h0.9M436.8 978.6h0.9M437.2 975.9h0.9M437.8 978.5h0.9M438.2 978.5h0.9M439.8 979.5h0.9M440.4 979.3h0.9M441.0 978.9h0.9M441.1 978.9h0.9M441.4 976.9h0.9M441.8 977.6h0.9M443.0 977.6h0.9M443.3 976.4h0.9M443.6 975.1h0.9M443.9 978.2h0.9M445.1 977.7h0.9M445.3 979.4h0.9M445.6 977.0h0.9M445.9 978.1h0.9M446.2 976.8h0.9M447.2 977.9h0.9M447.6 976.7h0.9M447.7 979.7h0.9M448.1 978.7h0.9M448.7 979.2h0.9M449.5 980.0h0.9M449.6 977.1h0.9M449.8 977.2h0.9M449.9 977.2h0.9M451.2 979.1h0.9M451.6 976.5h0.9M451.8 978.9h0.9M452.3 977.2h0.9M452.9 976.7h0.9M453.1 977.1h0.9M453.8 978.6h0.9M454.2 977.4h0.9M454.8 976.6h0.9M455.3 975.8h0.9M455.4 976.2h0.9M456.2 977.1h0.9M456.7 976.1h0.9M457.1 977.1h0.9M457.8 980.9h0.9M459.1 979.0h0.9M460.5 978.1h0.9M460.9 976.4h0.9M461.2 977.4h0.9M462.7 979.8h0.9M463.0 977.3h0.9M463.8 977.5h0.9M464.1 976.3h0.9M464.3 979.0h0.9M464.7 979.8h0.9M465.4 979.2h0.9M465.5 978.1h0.9M466.3 978.0h0.9M466.7 977.9h0.9M467.4 975.5h0.9M467.6 980.7h0.9M467.8 978.5h0.9M468.1 980.3h0.9M468.3 977.7h0.9M468.7 977.2h0.9M469.9 977.0h0.9M470.5 979.0h0.9M471.3 978.3h0.9M471.7 977.6h0.9M473.0 976.3h0.9M473.1 977.7h0.9M473.3 977.2h0.9M474.8 977.8h0.9M475.3 978.5h0.9M476.7 980.1h0.9M478.0 978.3h0.9M478.4 978.7h0.9M478.6 976.7h0.9M479.0 980.3h0.9M479.3 977.6h0.9M479.7 977.2h0.9M480.1 979.4h0.9M480.3 977.0h0.9M480.8 979.7h0.9M481.3 977.3h0.9M482.1 977.6h0.9M482.7 977.6h0.9M482.8 979.3h0.9M483.0 978.2h0.9M483.6 978.7h0.9M484.0 978.0h0.9M484.8 975.8h0.9M485.7 976.1h0.9M486.4 978.9h0.9M486.8 977.7h0.9M487.1 978.6h0.9M487.4 978.3h0.9M487.8 979.8h0.9M488.8 981.9h0.9M489.5 977.0h0.9M489.9 976.7h0.9M490.1 979.8h0.9M490.7 979.1h0.9M490.8 980.2h0.9M491.1 978.4h0.9M491.4 976.6h0.9M492.0 978.2h0.9M492.4 973.6h0.9M492.6 978.9h0.9M494.0 979.6h0.9M494.4 977.1h0.9M494.5 979.9h0.9M494.9 979.7h0.9M495.1 977.8h0.9M495.3 976.1h0.9M495.9 977.6h0.9M496.9 978.0h0.9M497.2 977.4h0.9M497.3 976.9h0.9M497.8 980.0h0.9M497.9 977.4h0.9M498.1 976.4h0.9M498.4 976.5h0.9M499.1 978.1h0.9M499.3 979.2h0.9M499.7 976.1h0.9M499.9 978.1h0.9M500.5 979.9h0.9M500.8 978.0h0.9M501.5 976.3h0.9M501.8 980.0h0.9M502.8 976.7h0.9M503.0 977.3h0.9M503.3 979.8h0.9M503.5 978.5h0.9M504.6 979.5h0.9M508.4 976.7h0.9M508.7 978.8h0.9M509.1 978.7h0.9M509.2 977.4h0.9M509.3 980.8h0.9M509.7 974.9h0.9M509.8 981.0h0.9M510.1 976.1h0.9M510.5 978.4h0.9M510.7 977.9h0.9M510.8 978.1h0.9M512.2 977.7h0.9M512.4 978.6h0.9M512.7 977.9h0.9M512.9 977.3h0.9M513.6 979.1h0.9M514.2 974.1h0.9M514.5 976.4h0.9M515.3 978.7h0.9M516.0 980.2h0.9M516.5 980.8h0.9M516.6 977.6h0.9M516.9 979.0h0.9M517.5 979.1h0.9M517.7 979.6h0.9M518.1 977.7h0.9M518.5 977.8h0.9M518.8 978.3h0.9M519.5 978.5h0.9M519.8 976.4h0.9M520.9 978.2h0.9M521.1 972.4h0.9M521.5 980.0h0.9M522.1 979.7h0.9M522.5 980.0h0.9M523.6 979.8h0.9M524.2 978.7h0.9M524.5 978.3h0.9M524.7 979.7h0.9M525.5 976.6h0.9M526.1 976.8h0.9M526.2 982.1h0.9M527.0 977.8h0.9M527.7 979.1h0.9M528.1 977.2h0.9M528.6 978.8h0.9M529.2 978.6h0.9M529.4 979.0h0.9M529.7 977.7h0.9M530.2 977.3h0.9M530.6 977.1h0.9M530.9 977.5h0.9M532.1 980.2h0.9M532.5 977.5h0.9M532.8 978.1h0.9M533.1 978.4h0.9M533.5 978.9h0.9M534.3 977.8h0.9M535.1 977.9h0.9M535.6 976.5h0.9M536.9 978.0h0.9M537.2 976.4h0.9M538.0 980.0h0.9M538.4 977.6h0.9M539.5 978.7h0.9M540.0 978.0h0.9M540.2 977.1h0.9M540.4 975.8h0.9M540.5 979.5h0.9M540.7 978.3h0.9M541.0 976.6h0.9M541.4 978.0h0.9M541.7 978.9h0.9M541.8 979.6h0.9M542.1 976.5h0.9M543.3 980.3h0.9M543.7 977.3h0.9M544.0 979.3h0.9M544.2 977.4h0.9M544.5 978.7h0.9M544.7 978.3h0.9M545.2 977.3h0.9M545.5 978.1h0.9M545.9 976.8h0.9M546.3 978.8h0.9M546.7 978.6h0.9M547.1 976.8h0.9M548.2 977.9h0.9M548.4 978.7h0.9M548.8 977.8h0.9M550.4 976.4h0.9M550.6 979.6h0.9M550.8 979.3h0.9M551.0 977.8h0.9M551.6 978.5h0.9M552.6 976.2h0.9M552.9 976.5h0.9M553.9 978.8h0.9M554.8 979.9h0.9M555.0 978.2h0.9M555.3 978.1h0.9M555.5 977.7h0.9M555.8 978.4h0.9M556.4 979.5h0.9M556.8 979.2h0.9M557.0 978.2h0.9M557.3 979.2h0.9M557.5 977.5h0.9M557.7 976.9h0.9M558.1 977.7h0.9M558.4 978.9h0.9M558.8 980.2h0.9M559.2 979.5h0.9M560.0 978.5h0.9M560.4 978.5h0.9M560.6 977.9h0.9M561.1 979.7h0.9M561.6 979.7h0.9M561.9 980.0h0.9M562.5 976.4h0.9M563.0 977.3h0.9M563.2 981.7h0.9M563.9 979.0h0.9M564.8 980.5h0.9M565.1 977.1h0.9M565.4 978.4h0.9M565.6 978.2h0.9M566.3 977.1h0.9M567.0 980.2h0.9M567.3 980.1h0.9M567.9 977.5h0.9M568.2 974.8h0.9M568.9 979.0h0.9M569.0 980.7h0.9M569.4 978.4h0.9M569.6 978.3h0.9M570.7 977.8h0.9M571.5 979.0h0.9M571.8 978.5h0.9M572.0 975.6h0.9M573.0 975.9h0.9M573.4 974.4h0.9M573.6 979.4h0.9M574.3 979.6h0.9M574.8 977.4h0.9M575.0 981.9h0.9M575.3 977.3h0.9M576.4 980.5h0.9M576.7 978.3h0.9M577.5 978.3h0.9M578.1 979.7h0.9M578.5 978.5h0.9M578.8 977.6h0.9M579.1 979.0h0.9M579.5 979.6h0.9M579.8 978.9h0.9M580.3 977.7h0.9M580.8 978.1h0.9M581.1 979.4h0.9M581.4 979.5h0.9M581.8 977.3h0.9M582.3 979.7h0.9M582.7 976.8h0.9M583.0 978.4h0.9M583.5 980.2h0.9M583.8 977.8h0.9M584.1 978.4h0.9M584.5 978.3h0.9M585.4 978.1h0.9M585.9 978.0h0.9M586.1 978.0h0.9M586.4 976.7h0.9M586.8 983.2h0.9M587.0 977.5h0.9M587.3 977.2h0.9M588.5 978.7h0.9M588.7 982.9h0.9M589.2 978.0h0.9M589.5 978.5h0.9M589.6 978.8h0.9M590.2 980.0h0.9M590.3 976.7h0.9M590.6 977.0h0.9M590.9 975.3h0.9M592.5 978.0h0.9M593.2 978.2h0.9M593.4 977.4h0.9M593.7 975.5h0.9M593.9 977.7h0.9M595.3 978.9h0.9M595.6 975.5h0.9M596.3 977.8h0.9M596.5 979.2h0.9M596.9 980.1h0.9M597.3 977.1h0.9M598.6 979.7h0.9" stroke="#8c8c8c" stroke-width="0.8"/>
<path d="M24.4 977.5h0.9M26.1 977.9h0.9M26.6 982.9h0.9M27.0 978.6h0.9M27.3 978.7h0.9M27.6 977.1h0.9M28.0 977.8h0.9M28.6 979.0h0.9M30.1 977.9h0.9M30.4 978.0h0.9M30.7 977.7h0.9M31.2 972.5h0.9M31.6 975.9h0.9M32.4 977.7h0.9M32.7 980.2h0.9M33.0 977.8h0.9M33.6 977.6h0.9M35.5 977.9h0.9M36.0 978.5h0.9M36.2 977.4h0.9M36.9 973.9h0.9M37.3 974.8h0.9M37.7 978.2h0.9M38.0 979.6h0.9M38.5 973.2h0.9M38.8 978.7h0.9M39.5 979.4h0.9M39.8 977.7h0.9M40.3 978.9h0.9M40.5 978.8h0.9M41.4 976.4h0.9M41.7 972.8h0.9M41.9 976.8h0.9M42.2 976.5h0.9M42.7 980.1h0.9M43.3 977.7h0.9M44.0 976.1h0.9M44.5 977.5h0.9M44.8 976.8h0.9M45.6 978.3h0.9M46.7 975.6h0.9M46.9 978.5h0.9M47.2 977.0h0.9M50.0 979.5h0.9M50.2 979.1h0.9M50.3 978.0h0.9M50.7 977.2h0.9M51.1 976.6h0.9M51.4 978.2h0.9M51.7 977.8h0.9M51.9 979.7h0.9M52.1 977.8h0.9M52.5 977.6h0.9M53.1 977.3h0.9M53.5 976.4h0.9M54.1 976.4h0.9M54.2 977.4h0.9M54.9 977.9h0.9M55.2 976.6h0.9M55.5 976.2h0.9M56.0 979.7h0.9M56.5 978.4h0.9M57.7 979.4h0.9M58.2 977.4h0.9M58.7 979.4h0.9M59.8 979.1h0.9M60.1 975.4h0.9M60.5 977.3h0.9M60.8 977.8h0.9M61.0 978.2h0.9M61.6 976.5h0.9M61.8 978.4h0.9M62.7 982.4h0.9M62.9 979.5h0.9M63.4 978.7h0.9M63.7 977.4h0.9M64.8 976.2h0.9M65.2 979.1h0.9M65.9 978.1h0.9M66.6 978.7h0.9M67.7 977.8h0.9M68.0 978.8h0.9M68.5 981.9h0.9M69.0 981.8h0.9M69.2 977.6h0.9M69.4 977.5h0.9M69.8 978.9h0.9M70.1 978.5h0.9M70.4 978.3h0.9M71.4 978.0h0.9M71.6 978.5h0.9M71.9 977.6h0.9M72.2 977.4h0.9M73.0 980.4h0.9M73.8 979.5h0.9M74.3 980.1h0.9M75.5 979.8h0.9M76.1 977.1h0.9M76.2 977.5h0.9M77.7 979.3h0.9M78.1 979.0h0.9M78.3 978.4h0.9M78.9 975.2h0.9M79.5 976.5h0.9M79.7 977.0h0.9M80.3 976.7h0.9M81.3 978.1h0.9M81.7 977.1h0.9M83.1 976.2h0.9M83.3 978.1h0.9M83.9 978.0h0.9M84.7 980.4h0.9M84.9 975.2h0.9M85.2 978.8h0.9M85.7 976.9h0.9M86.0 977.0h0.9M86.2 974.9h0.9M86.4 979.8h0.9M87.3 981.0h0.9M87.4 977.6h0.9M88.1 976.8h0.9M88.9 976.2h0.9M89.9 975.0h0.9M91.1 976.1h0.9M92.3 975.4h0.9M92.6 977.7h0.9M93.6 978.1h0.9M93.8 979.3h0.9M94.8 979.6h0.9M95.2 978.6h0.9M95.6 978.1h0.9M95.7 979.9h0.9M95.9 979.0h0.9M96.2 978.1h0.9M97.4 977.9h0.9M97.8 979.7h0.9M98.6 976.4h0.9M99.0 978.7h0.9M99.1 978.6h0.9M99.7 978.7h0.9M100.1 977.0h0.9M100.6 979.4h0.9M101.1 977.9h0.9M101.2 976.7h0.9M101.5 977.2h0.9M101.8 979.2h0.9M102.2 978.3h0.9M103.1 977.4h0.9M103.5 978.4h0.9M104.3 978.8h0.9M104.9 980.2h0.9M105.3 976.9h0.9M105.6 977.5h0.9M105.9 978.5h0.9M106.0 976.8h0.9M106.1 976.7h0.9M106.4 977.2h0.9M106.7 979.8h0.9M107.0 976.8h0.9M107.5 977.4h0.9M108.8 977.0h0.9M109.4 978.2h0.9M109.8 978.5h0.9M110.6 978.5h0.9M110.8 978.7h0.9M111.2 976.5h0.9M111.4 977.0h0.9M112.1 977.3h0.9M112.4 979.9h0.9M112.7 978.3h0.9M113.6 977.7h0.9M115.4 979.1h0.9M115.9 978.9h0.9M116.0 979.6h0.9M116.3 976.7h0.9M116.6 978.6h0.9M116.9 979.9h0.9M117.0 977.8h0.9M117.1 972.8h0.9M117.7 979.7h0.9M118.1 979.6h0.9M118.3 977.8h0.9M119.0 978.3h0.9M120.4 979.1h0.9M120.7 977.6h0.9M121.2 977.3h0.9M121.4 976.8h0.9M121.7 980.7h0.9M121.9 977.2h0.9M122.5 981.5h0.9M123.0 974.7h0.9M123.4 977.2h0.9M124.7 978.9h0.9M125.4 976.7h0.9M126.4 978.0h0.9M126.6 977.2h0.9M126.9 981.2h0.9M127.3 980.0h0.9M127.7 977.7h0.9M128.0 976.8h0.9M129.0 976.6h0.9M129.1 978.0h0.9M129.2 976.6h0.9M129.9 979.4h0.9M130.8 977.2h0.9M131.5 979.8h0.9M132.2 978.0h0.9M133.2 980.7h0.9M133.6 978.1h0.9M134.0 977.8h0.9M134.2 976.8h0.9M134.5 977.7h0.9M134.8 977.8h0.9M135.1 980.9h0.9M135.3 974.7h0.9M135.8 978.7h0.9M136.6 978.3h0.9M137.5 979.3h0.9M138.0 979.5h0.9M138.2 975.7h0.9M139.5 980.0h0.9M139.9 979.6h0.9M140.2 979.9h0.9M140.7 978.1h0.9M140.9 977.4h0.9M141.1 977.4h0.9M141.4 979.8h0.9M141.7 979.9h0.9M142.2 978.0h0.9M142.5 979.0h0.9M143.9 976.5h0.9M144.5 978.4h0.9M146.4 978.5h0.9M146.6 977.1h0.9M146.8 977.1h0.9M147.2 978.6h0.9M148.6 981.2h0.9M149.1 975.7h0.9M149.3 977.6h0.9M150.3 981.6h0.9M151.8 979.9h0.9M152.0 981.8h0.9M152.4 976.9h0.9M153.0 979.4h0.9M153.3 976.8h0.9M154.0 978.3h0.9M154.3 979.2h0.9M154.5 977.7h0.9M155.2 978.7h0.9M155.5 979.6h0.9M156.0 978.6h0.9M156.2 978.4h0.9M156.6 980.2h0.9M156.8 977.3h0.9M157.6 979.1h0.9M158.6 978.8h0.9M159.0 976.9h0.9M159.7 976.6h0.9M159.9 977.6h0.9M160.2 978.4h0.9M161.4 978.5h0.9M161.8 977.5h0.9M162.1 978.2h0.9M162.5 981.0h0.9M162.8 979.3h0.9M163.2 977.7h0.9M163.3 978.9h0.9M163.8 976.0h0.9M164.2 976.2h0.9M164.4 978.4h0.9M165.0 978.3h0.9M165.1 979.6h0.9M165.4 977.2h0.9M165.6 976.8h0.9M165.8 978.7h0.9M166.2 979.7h0.9M166.7 977.5h0.9M166.8 975.3h0.9M168.1 979.9h0.9M168.4 978.8h0.9M168.8 978.5h0.9M169.1 978.1h0.9M169.5 976.9h0.9M169.7 978.5h0.9M170.1 980.6h0.9M170.7 977.4h0.9M171.0 977.6h0.9M171.4 979.2h0.9M171.6 976.5h0.9M172.1 980.1h0.9M172.6 979.9h0.9M172.9 977.7h0.9M173.4 977.7h0.9M173.6 977.9h0.9M173.9 977.6h0.9M174.1 978.1h0.9M174.4 978.1h0.9M175.2 980.1h0.9M175.7 979.5h0.9M176.3 976.8h0.9M176.5 978.3h0.9M176.9 980.2h0.9M177.0 979.1h0.9M178.0 978.3h0.9M178.1 979.1h0.9M178.4 978.1h0.9M178.5 979.4h0.9M178.7 977.6h0.9M178.8 978.9h0.9M179.3 979.2h0.9M180.2 978.8h0.9M180.4 977.7h0.9M180.6 978.3h0.9M180.7 978.3h0.9M181.5 978.2h0.9M181.6 976.4h0.9M181.8 975.5h0.9M182.0 978.3h0.9M182.1 972.7h0.9M182.5 978.9h0.9M183.2 978.4h0.9M183.9 976.3h0.9M184.1 977.8h0.9M184.3 979.5h0.9M185.1 977.8h0.9M185.5 978.2h0.9M186.5 976.7h0.9M186.8 978.3h0.9M187.5 977.2h0.9M188.0 976.8h0.9M188.5 979.3h0.9M189.2 978.7h0.9M189.8 980.8h0.9M190.3 978.7h0.9M190.6 979.3h0.9M191.0 979.9h0.9M191.3 977.8h0.9M191.4 975.1h0.9M192.0 979.9h0.9M192.3 979.8h0.9M192.4 977.2h0.9M192.9 979.8h0.9M193.2 975.3h0.9M193.7 978.1h0.9M194.0 976.7h0.9M194.3 978.5h0.9M194.6 978.5h0.9M195.0 977.7h0.9M197.0 976.6h0.9M198.6 977.0h0.9M199.1 977.1h0.9M199.4 977.8h0.9M200.1 977.8h0.9M201.2 976.7h0.9M202.1 978.7h0.9M202.3 976.9h0.9M202.6 975.8h0.9M202.7 979.4h0.9M202.9 976.8h0.9M203.2 975.3h0.9M203.4 976.3h0.9M203.9 979.4h0.9M204.3 976.3h0.9M204.5 980.4h0.9M204.8 977.6h0.9M205.4 977.5h0.9M205.6 978.2h0.9M206.1 978.7h0.9M206.5 979.6h0.9M207.2 979.5h0.9M207.3 976.4h0.9M207.7 977.6h0.9M207.8 979.2h0.9M208.1 977.6h0.9M208.3 977.1h0.9M208.8 977.6h0.9M209.0 978.3h0.9M209.5 978.1h0.9M210.4 979.5h0.9M210.9 979.3h0.9M211.4 978.1h0.9M211.6 975.5h0.9M212.7 979.8h0.9M212.8 976.0h0.9M213.2 978.3h0.9M213.4 977.2h0.9M213.7 980.1h0.9M214.9 979.9h0.9M215.1 976.4h0.9M215.2 977.6h0.9M215.6 977.6h0.9M216.5 978.1h0.9M216.8 975.7h0.9M217.1 980.7h0.9M217.4 977.0h0.9M217.5 972.8h0.9M218.0 979.5h0.9M218.9 979.6h0.9M219.1 979.3h0.9M219.3 975.9h0.9M219.7 976.6h0.9M220.1 980.1h0.9M220.2 986.6h0.9M220.4 977.6h0.9M220.7 978.6h0.9M221.0 977.0h0.9M221.4 977.0h0.9M221.6 977.6h0.9M221.8 979.9h0.9M222.1 979.0h0.9M222.6 978.4h0.9M222.8 980.0h0.9M223.2 978.1h0.9M223.4 976.8h0.9M223.5 977.9h0.9M223.8 979.6h0.9M224.5 977.4h0.9M224.6 978.2h0.9M225.6 979.9h0.9M226.6 977.2h0.9M227.2 979.7h0.9M227.5 978.8h0.9M228.6 979.1h0.9M228.9 976.1h0.9M229.3 978.1h0.9M229.9 978.5h0.9M230.1 977.5h0.9M230.5 979.8h0.9M231.0 979.3h0.9M231.5 977.1h0.9M232.3 980.3h0.9M233.2 980.2h0.9M234.6 977.6h0.9M235.3 976.4h0.9M236.2 979.5h0.9M237.4 980.4h0.9M238.5 979.5h0.9M238.7 976.5h0.9M239.0 977.7h0.9M239.1 977.6h0.9M239.7 977.7h0.9M240.2 977.0h0.9M241.3 980.0h0.9M241.9 978.5h0.9M242.1 981.3h0.9M242.3 978.4h0.9M242.4 980.5h0.9M242.8 976.4h0.9M243.1 977.8h0.9M243.7 976.7h0.9M244.1 978.4h0.9M244.8 974.6h0.9M245.1 978.8h0.9M245.3 976.1h0.9M245.4 975.4h0.9M245.7 978.0h0.9M245.9 978.4h0.9M247.7 977.5h0.9M248.3 977.3h0.9M248.9 978.5h0.9M249.4 978.8h0.9M250.3 978.1h0.9M250.6 978.1h0.9M251.2 977.2h0.9M251.4 978.6h0.9M251.8 980.5h0.9M252.5 978.4h0.9M253.1 977.3h0.9M254.7 979.4h0.9M255.8 977.6h0.9M256.0 977.8h0.9M256.2 977.5h0.9M256.3 978.8h0.9M256.6 977.1h0.9M256.8 978.0h0.9M257.0 977.7h0.9M257.2 978.4h0.9M257.5 977.7h0.9M257.7 978.2h0.9M258.4 976.9h0.9M259.3 977.9h0.9M259.6 976.5h0.9M259.8 976.8h0.9M260.1 977.7h0.9M260.2 976.9h0.9M260.6 980.5h0.9M260.8 978.8h0.9M261.4 976.9h0.9M262.2 977.1h0.9M263.2 979.2h0.9M263.4 977.1h0.9M263.9 980.7h0.9M264.2 978.3h0.9M266.0 978.3h0.9M266.3 976.7h0.9M266.7 978.2h0.9M267.0 980.4h0.9M267.4 977.4h0.9M267.5 977.0h0.9M269.2 975.4h0.9M269.6 976.5h0.9M270.2 976.0h0.9M271.0 977.5h0.9M271.6 978.6h0.9M271.8 978.4h0.9M272.2 976.8h0.9M272.9 981.0h0.9M274.1 978.2h0.9M275.9 979.6h0.9M276.8 976.8h0.9M278.6 975.4h0.9M279.3 979.1h0.9M279.5 976.8h0.9M279.7 979.0h0.9M280.3 978.5h0.9M281.2 977.0h0.9M281.6 979.8h0.9M281.7 977.9h0.9M282.5 978.9h0.9M282.8 978.7h0.9M283.2 980.1h0.9M283.5 975.7h0.9M284.2 979.4h0.9M285.0 981.2h0.9M285.1 977.0h0.9M285.5 978.2h0.9M286.0 979.2h0.9M286.1 976.9h0.9M286.3 978.1h0.9M286.7 977.9h0.9M288.2 976.7h0.9M288.4 975.4h0.9M288.6 979.2h0.9M289.9 973.3h0.9M290.1 978.6h0.9M290.3 978.5h0.9M290.8 977.5h0.9M291.8 977.2h0.9M292.8 975.0h0.9M293.0 979.2h0.9M294.3 978.2h0.9M294.8 977.2h0.9M295.0 977.2h0.9M295.9 978.4h0.9M296.2 976.0h0.9M297.0 978.6h0.9M297.2 978.8h0.9M297.7 981.2h0.9M298.1 977.2h0.9M298.5 979.1h0.9M298.6 978.2h0.9M300.0 980.0h0.9M301.3 976.8h0.9M301.5 978.5h0.9M302.4 977.9h0.9M302.8 977.8h0.9M303.1 978.4h0.9M303.8 978.2h0.9M304.0 979.6h0.9M304.2 975.6h0.9M304.5 979.4h0.9M304.8 978.0h0.9M305.2 981.2h0.9M305.7 978.6h0.9M306.5 980.9h0.9M306.7 981.7h0.9M307.1 978.8h0.9M307.5 977.1h0.9M307.6 976.7h0.9M307.9 977.6h0.9M308.4 980.7h0.9M308.6 978.4h0.9M309.0 979.1h0.9M309.3 976.5h0.9M309.6 978.0h0.9M309.7 979.8h0.9M309.9 975.1h0.9M310.7 979.6h0.9M311.0 978.3h0.9M311.4 979.6h0.9M312.8 977.5h0.9M313.2 978.8h0.9M313.4 981.1h0.9M313.9 979.0h0.9M314.3 978.0h0.9M314.8 978.0h0.9M315.3 978.5h0.9M316.2 975.5h0.9M316.5 977.7h0.9M316.8 979.9h0.9M317.1 979.2h0.9M317.3 975.4h0.9M317.6 978.4h0.9M318.0 977.8h0.9M318.2 976.6h0.9M318.6 977.8h0.9M319.3 977.2h0.9M319.6 978.9h0.9M319.9 977.6h0.9M320.1 979.1h0.9M320.3 977.8h0.9M320.4 976.1h0.9M321.1 979.0h0.9M321.5 979.0h0.9M321.7 979.0h0.9M321.8 978.9h0.9M322.1 980.6h0.9M322.3 977.7h0.9M322.6 978.1h0.9M323.9 975.4h0.9M324.0 978.4h0.9M324.3 977.6h0.9M325.3 977.0h0.9M325.6 977.7h0.9M325.8 979.2h0.9M326.3 979.3h0.9M326.9 976.8h0.9M327.2 980.0h0.9M328.0 977.0h0.9M328.3 979.2h0.9M328.6 976.0h0.9M329.0 980.4h0.9M329.7 978.3h0.9M330.1 980.4h0.9M330.4 978.2h0.9M330.8 978.6h0.9M331.1 980.7h0.9M331.5 979.1h0.9M331.7 976.6h0.9M331.9 978.4h0.9M332.1 979.3h0.9M332.6 976.7h0.9M333.0 978.7h0.9M333.6 976.5h0.9M333.8 976.3h0.9M334.1 980.0h0.9M334.6 977.1h0.9M334.9 977.0h0.9M335.5 978.7h0.9M335.7 977.1h0.9M335.9 978.1h0.9M336.3 979.2h0.9M336.6 977.4h0.9M337.2 971.6h0.9M337.9 978.0h0.9M338.4 979.9h0.9M339.6 975.9h0.9M340.1 976.4h0.9M340.8 979.8h0.9M340.9 977.8h0.9M341.1 977.5h0.9M342.1 977.4h0.9M342.2 978.7h0.9M342.4 977.4h0.9M343.0 977.2h0.9M343.4 980.1h0.9M344.2 978.1h0.9M344.7 977.4h0.9M345.6 981.3h0.9M346.2 978.5h0.9M347.5 979.0h0.9M348.7 978.8h0.9M348.9 977.9h0.9M350.3 976.9h0.9M351.0 978.4h0.9M352.3 977.1h0.9M352.8 978.3h0.9M353.0 978.3h0.9M353.7 976.7h0.9M354.4 975.5h0.9M354.6 978.3h0.9M354.9 978.1h0.9M355.5 977.0h0.9M356.2 978.0h0.9M356.8 980.8h0.9M357.5 978.0h0.9M358.1 976.7h0.9M358.3 978.1h0.9M358.9 978.0h0.9M359.6 978.0h0.9M359.8 978.9h0.9M360.9 977.6h0.9M361.3 976.6h0.9M361.4 976.3h0.9M362.4 979.4h0.9M362.6 976.8h0.9M363.1 974.9h0.9M363.2 980.9h0.9M364.0 977.9h0.9M364.6 977.3h0.9M365.0 979.7h0.9M365.1 976.6h0.9M365.7 979.5h0.9M365.9 977.2h0.9M366.4 979.3h0.9M366.7 980.0h0.9M367.3 978.9h0.9M367.6 978.0h0.9M368.3 978.4h0.9M369.0 977.9h0.9M369.7 973.9h0.9M369.8 977.9h0.9M370.4 976.9h0.9M370.8 978.0h0.9M371.0 980.1h0.9M371.6 979.7h0.9M371.9 977.6h0.9M372.3 974.5h0.9M372.5 980.2h0.9M373.0 977.7h0.9M374.3 981.0h0.9M374.8 976.9h0.9M375.8 978.2h0.9M376.0 975.6h0.9M376.6 977.5h0.9M376.9 979.5h0.9M377.9 976.8h0.9M378.2 977.5h0.9M379.0 978.6h0.9M380.2 977.8h0.9M380.5 977.9h0.9M380.8 977.9h0.9M381.0 978.8h0.9M381.8 978.1h0.9M382.2 978.4h0.9M383.0 982.4h0.9M383.5 976.7h0.9M384.4 978.2h0.9M384.8 977.4h0.9M384.9 979.6h0.9M385.2 976.5h0.9M385.3 978.9h0.9M385.4 980.5h0.9M385.7 977.6h0.9M385.8 981.2h0.9M386.6 979.1h0.9M386.8 977.9h0.9M387.4 978.4h0.9M388.6 977.3h0.9M389.3 979.1h0.9M389.9 972.8h0.9M390.8 979.0h0.9M391.3 976.3h0.9M392.3 979.2h0.9M392.6 978.5h0.9M392.9 978.0h0.9M393.2 977.5h0.9M393.5 975.5h0.9M393.8 978.8h0.9M394.5 976.8h0.9M395.1 978.1h0.9M395.5 979.1h0.9M395.8 977.1h0.9M396.2 978.1h0.9M396.5 979.4h0.9M397.0 979.2h0.9M397.2 977.0h0.9M397.8 980.3h0.9M399.4 977.3h0.9M399.6 977.8h0.9M400.4 976.7h0.9M400.6 978.4h0.9M401.1 980.9h0.9M401.5 975.9h0.9M401.7 976.8h0.9M401.9 980.5h0.9M402.5 977.4h0.9M402.8 978.5h0.9M403.8 977.6h0.9M404.9 977.7h0.9M405.1 978.6h0.9M405.2 978.1h0.9M405.5 978.3h0.9M405.8 979.3h0.9M406.1 976.4h0.9M406.3 977.6h0.9M406.6 979.7h0.9M407.0 977.7h0.9M407.8 988.8h0.9M408.4 981.9h0.9M408.8 976.4h0.9M409.0 975.7h0.9M409.6 978.0h0.9M410.1 976.6h0.9M411.2 979.3h0.9M412.1 976.2h0.9M412.4 976.6h0.9M413.3 979.1h0.9M414.0 979.2h0.9M415.2 975.9h0.9M415.8 976.2h0.9M416.6 977.4h0.9M417.4 977.4h0.9M417.7 977.9h0.9M417.9 976.8h0.9M418.7 978.7h0.9M419.9 977.3h0.9M420.2 976.1h0.9M420.5 975.1h0.9M421.0 979.4h0.9M421.1 976.9h0.9M421.6 979.0h0.9M422.6 978.0h0.9M422.9 978.4h0.9M423.1 978.1h0.9M423.7 979.4h0.9M424.9 978.2h0.9M425.1 977.0h0.9M425.2 975.8h0.9M425.6 978.3h0.9M426.0 980.3h0.9M426.3 979.6h0.9M426.9 978.9h0.9M427.9 977.7h0.9M429.1 977.4h0.9M429.8 979.3h0.9M430.1 976.3h0.9M431.1 976.6h0.9M431.5 976.1h0.9M432.9 977.7h0.9M433.2 976.9h0.9M433.8 977.7h0.9M434.0 979.2h0.9M434.7 979.2h0.9M435.0 976.5h0.9M435.6 976.9h0.9M436.6 978.2h0.9M437.5 979.8h0.9M438.5 977.4h0.9M438.8 974.5h0.9M439.0 977.9h0.9M439.4 977.6h0.9M439.5 977.6h0.9M440.1 979.5h0.9M440.8 978.7h0.9M441.6 978.2h0.9M441.9 978.2h0.9M442.2 979.2h0.9M442.5 978.1h0.9M442.8 975.5h0.9M444.2 978.5h0.9M444.4 979.0h0.9M444.6 979.4h0.9M444.9 977.1h0.9M446.0 978.2h0.9M446.5 977.2h0.9M446.8 979.2h0.9M448.4 977.5h0.9M448.6 978.0h0.9M448.9 976.7h0.9M449.2 979.8h0.9M450.1 978.5h0.9M450.3 979.7h0.9M450.5 977.5h0.9M450.9 975.9h0.9M451.1 978.2h0.9M451.3 975.2h0.9M452.0 975.3h0.9M452.6 976.9h0.9M453.5 978.5h0.9M454.1 972.9h0.9M454.3 979.3h0.9M454.5 977.2h0.9M455.1 977.6h0.9M455.7 980.6h0.9M455.8 978.8h0.9M456.0 978.2h0.9M456.4 979.5h0.9M457.3 979.3h0.9M457.6 978.4h0.9M458.0 980.5h0.9M458.4 981.2h0.9M458.6 978.3h0.9M458.7 978.0h0.9M459.2 978.0h0.9M459.4 977.7h0.9M459.6 977.3h0.9M459.7 978.5h0.9M460.1 981.2h0.9M460.4 976.5h0.9M461.4 977.5h0.9M461.7 977.6h0.9M462.1 974.9h0.9M462.3 977.3h0.9M462.4 978.9h0.9M463.2 980.6h0.9M463.6 978.3h0.9M464.9 980.5h0.9M465.2 978.7h0.9M465.7 977.7h0.9M465.8 978.3h0.9M466.1 979.3h0.9M466.2 976.2h0.9M467.1 979.0h0.9M468.5 978.3h0.9M468.8 978.1h0.9M469.1 976.1h0.9M469.4 979.1h0.9M469.8 971.1h0.9M470.2 977.8h0.9M470.9 977.8h0.9M471.1 979.1h0.9M472.1 978.7h0.9M472.4 977.9h0.9M472.6 977.0h0.9M473.5 976.2h0.9M473.9 979.6h0.9M474.1 977.1h0.9M474.4 976.5h0.9M475.1 980.0h0.9M475.4 980.0h0.9M475.7 980.3h0.9M476.1 977.0h0.9M476.4 977.5h0.9M476.8 979.0h0.9M476.9 981.2h0.9M477.2 979.8h0.9M477.4 981.0h0.9M477.7 977.4h0.9M478.3 979.2h0.9M479.6 979.0h0.9M480.0 976.8h0.9M480.6 976.4h0.9M481.1 975.7h0.9M481.6 979.1h0.9M481.7 977.9h0.9M481.9 978.4h0.9M482.2 978.5h0.9M482.3 980.6h0.9M482.9 978.3h0.9M483.2 977.3h0.9M483.3 979.4h0.9M483.7 978.5h0.9M484.3 979.0h0.9M484.5 977.3h0.9M485.0 980.1h0.9M485.4 978.0h0.9M486.1 977.8h0.9M486.6 980.1h0.9M487.7 980.4h0.9M488.2 977.2h0.9M488.4 978.3h0.9M488.7 976.4h0.9M489.1 979.1h0.9M490.3 979.4h0.9M491.6 978.6h0.9M492.7 978.2h0.9M493.1 978.0h0.9M493.4 975.5h0.9M493.6 978.2h0.9M493.9 979.3h0.9M494.7 978.6h0.9M495.6 976.2h0.9M496.1 978.1h0.9M496.3 976.1h0.9M496.6 976.9h0.9M497.6 979.8h0.9M498.6 978.0h0.9M498.9 977.7h0.9M500.2 980.2h0.9M500.6 978.4h0.9M501.0 977.8h0.9M501.3 981.3h0.9M502.0 980.3h0.9M502.3 979.6h0.9M502.6 978.0h0.9M503.7 979.4h0.9M504.0 980.1h0.9M504.4 978.3h0.9M504.9 978.6h0.9M505.3 977.6h0.9M505.6 978.7h0.9M505.8 977.3h0.9M506.1 978.6h0.9M506.4 978.0h0.9M506.6 978.0h0.9M506.9 977.1h0.9M507.2 979.1h0.9M507.5 980.5h0.9M507.6 977.9h0.9M508.0 980.3h0.9M508.2 979.5h0.9M508.9 977.2h0.9M511.1 977.0h0.9M511.3 977.0h0.9M511.5 976.2h0.9M511.8 976.0h0.9M512.0 976.7h0.9M513.2 977.4h0.9M513.4 979.6h0.9M514.0 980.7h0.9M514.8 976.3h0.9M514.9 978.0h0.9M515.2 978.7h0.9M515.5 977.4h0.9M515.9 981.0h0.9M516.2 980.5h0.9M516.4 977.9h0.9M517.3 978.5h0.9M518.0 976.9h0.9M518.2 977.3h0.9M519.1 976.7h0.9M519.9 977.1h0.9M520.2 975.3h0.9M520.5 975.8h0.9M521.7 975.7h0.9M522.2 975.7h0.9M522.4 973.7h0.9M522.7 979.4h0.9M522.8 976.1h0.9M523.1 976.6h0.9M523.2 976.6h0.9M524.0 980.5h0.9M525.1 975.8h0.9M525.4 975.4h0.9M525.9 978.8h0.9M526.4 976.8h0.9M526.8 978.0h0.9M527.4 976.5h0.9M527.5 976.3h0.9M527.6 978.8h0.9M528.4 978.6h0.9M528.7 977.4h0.9M528.9 977.9h0.9M530.1 976.6h0.9M530.3 976.7h0.9M531.0 979.1h0.9M531.4 977.0h0.9M531.8 976.6h0.9M532.0 977.8h0.9M533.6 977.0h0.9M533.7 983.7h0.9M533.9 978.4h0.9M534.6 978.1h0.9M535.0 979.5h0.9M535.5 978.4h0.9M536.0 978.9h0.9M536.3 979.6h0.9M536.6 980.3h0.9M537.5 981.3h0.9M537.7 978.9h0.9M538.7 980.0h0.9M539.1 975.2h0.9M539.7 979.6h0.9M540.8 980.3h0.9M541.3 978.8h0.9M542.4 978.0h0.9M542.6 977.9h0.9M542.9 980.5h0.9M543.2 979.4h0.9M544.3 979.2h0.9M544.9 976.6h0.9M545.1 975.3h0.9M545.4 979.9h0.9M546.4 978.0h0.9M546.9 979.1h0.9M547.2 978.3h0.9M547.6 979.4h0.9M547.7 979.0h0.9M547.8 978.0h0.9M549.1 978.6h0.9M549.5 979.1h0.9M549.8 977.4h0.9M550.2 978.6h0.9M551.3 978.1h0.9M551.7 973.5h0.9M552.0 980.0h0.9M552.1 978.5h0.9M552.3 978.9h0.9M553.0 980.2h0.9M553.2 977.6h0.9M553.6 976.9h0.9M554.2 974.7h0.9M554.6 977.3h0.9M555.9 978.7h0.9M556.1 978.3h0.9M557.9 978.5h0.9M558.7 974.7h0.9M559.5 976.9h0.9M559.8 979.1h0.9M560.1 976.7h0.9M560.3 980.4h0.9M560.8 979.7h0.9M561.5 979.1h0.9M562.2 976.7h0.9M562.9 977.5h0.9M563.3 976.5h0.9M563.5 981.6h0.9M564.1 979.3h0.9M564.4 977.6h0.9M565.9 978.9h0.9M566.1 977.4h0.9M566.6 979.1h0.9M567.7 972.3h0.9M568.4 979.0h0.9M568.5 977.0h0.9M569.2 979.3h0.9M569.9 979.3h0.9M570.1 977.1h0.9M570.5 977.7h0.9M571.1 979.5h0.9M571.2 978.4h0.9M572.4 978.7h0.9M572.7 980.3h0.9M572.9 977.8h0.9M573.2 977.1h0.9M573.7 978.2h0.9M574.0 978.2h0.9M574.1 978.0h0.9M574.7 976.5h0.9M575.6 977.1h0.9M576.0 980.1h0.9M576.2 977.9h0.9M576.9 975.9h0.9M577.2 977.2h0.9M577.8 975.8h0.9M580.0 982.1h0.9M580.6 978.8h0.9M581.6 977.3h0.9M582.0 978.2h0.9M582.4 978.3h0.9M583.2 979.0h0.9M584.9 978.1h0.9M585.0 975.8h0.9M585.8 978.5h0.9M586.6 976.1h0.9M587.7 978.2h0.9M587.8 977.8h0.9M588.1 979.8h0.9M588.2 979.5h0.9M589.0 976.0h0.9M589.8 975.3h0.9M589.9 978.2h0.9M590.5 978.3h0.9M591.0 977.2h0.9M591.4 978.0h0.9M591.5 978.2h0.9M591.8 986.9h0.9M592.2 980.0h0.9M592.4 983.3h0.9M592.9 977.7h0.9M594.2 980.3h0.9M594.4 981.0h0.9M594.7 976.9h0.9M595.1 978.6h0.9M595.7 976.7h0.9M596.0 979.3h0.9M596.7 975.1h0.9M597.5 976.4h0.9M597.7 979.7h0.9M598.1 977.3h0.9M598.3 976.3h0.9M598.8 979.4h0.9M599.1 976.2h0.9" stroke="#b8b8b8" stroke-width="0.8"/>
<path d="M24.4 978.1H599.4" stroke="#7a7a7a" stroke-width="1.4"/>
<path d="M601 985.3H639" stroke="#2d7fd8" stroke-width="1.3"/>
<path d="M640.6 979.0h0.9M640.7 978.2h0.9M640.8 982.4h0.9M641.0 977.5h0.9M641.1 981.7h0.9M641.2 980.6h0.9M641.3 983.3h0.9M641.4 977.4h0.9M641.6 980.6h0.9M641.7 983.5h0.9M641.8 980.2h0.9M641.9 982.6h0.9M642.0 982.9h0.9M642.2 979.8h0.9M642.3 977.8h0.9M642.4 976.9h0.9M642.5 983.7h0.9M642.6 982.1h0.9M642.8 980.9h0.9M642.9 983.6h0.9M643.0 980.1h0.9M643.1 982.2h0.9M643.2 978.1h0.9M643.4 983.5h0.9M643.5 977.2h0.9M643.6 978.2h0.9M643.7 976.9h0.9M643.8 977.4h0.9M644.0 982.6h0.9M644.1 983.3h0.9M644.2 981.4h0.9M644.3 979.5h0.9M644.4 978.1h0.9M644.6 984.0h0.9M644.7 979.7h0.9M644.8 977.2h0.9M644.9 978.5h0.9M645.0 979.6h0.9M645.2 977.4h0.9M645.3 984.0h0.9M645.4 979.1h0.9M645.5 983.1h0.9M645.6 977.7h0.9M645.8 977.0h0.9M645.9 978.4h0.9M646.0 977.3h0.9M646.1 982.0h0.9M646.2 978.4h0.9" stroke="#a8a8a8" stroke-width="0.7"/>
<path d="M641 985.1H647" stroke="#2d7fd8" stroke-width="1.2" stroke-dasharray="2 1"/>
<path d="M62.9 970.5h0.3M111.8 970.5h0.3M275.4 970.5h0.3M321.2 955.4h0.3M432.1 970.5h0.3M438.7 970.5h0.3M519.5 970.5h0.3M539.4 970.5h0.3" stroke="#ec6a46" stroke-width="1.5" stroke-linecap="round"/>
<path d="M261.8 985.4h0.3M465.9 985.4h0.3" stroke="#2d7fd8" stroke-width="1.5" stroke-linecap="round"/>
<rect x="23.4" y="937.2" width="624.1" height="50.3" fill="none" stroke="#4a4242" stroke-width="1.6"/>
<path d="M21.0 985.7h2M21.0 970.5h2M21.0 955.4h2M21.0 940.2h2" stroke="#4a4242" stroke-width="1"/>
<text x="20.8" y="988.7" font-size="8.3" text-anchor="end" font-weight="bold" fill="#333">0</text>
<text x="20.8" y="973.5" font-size="8.3" text-anchor="end" font-weight="bold" fill="#333">2</text>
<text x="20.8" y="958.4" font-size="8.3" text-anchor="end" font-weight="bold" fill="#333">4</text>
<text x="20.8" y="943.2" font-size="8.3" text-anchor="end" font-weight="bold" fill="#333">6</text>
<text x="23.4" y="932.4" font-size="9.7" fill="#222">Single sperm (#<tspan font-style="italic">Eco</tspan>R I_82)   CV =  0.22</text>
<text x="3.4" y="925.3" font-size="12" font-weight="bold" fill="#000">j</text>
<text x="667.1" y="945.3" font-size="8.6" text-anchor="middle" fill="#222">Copy</text>
<text x="667.1" y="956" font-size="8.6" text-anchor="middle" fill="#222">numbers</text>
<path d="M656.0 962.7h0" stroke="#1f6fd6" stroke-width="4.6" stroke-linecap="round"/>
<text x="665.6" y="965.7" font-size="8.6" fill="#222">&lt;</text>
<text x="674.6" y="965.7" font-size="8.6" fill="#222">1</text>
<path d="M656.0 972.9h0" stroke="#777777" stroke-width="4.6" stroke-linecap="round"/>
<text x="665.6" y="975.9" font-size="8.6" fill="#222">=</text>
<text x="674.6" y="975.9" font-size="8.6" fill="#222">1</text>
<path d="M656.0 983.1h0" stroke="#cc3311" stroke-width="4.6" stroke-linecap="round"/>
<text x="665.6" y="986.1" font-size="8.6" fill="#222">&gt;</text>
<text x="674.6" y="986.1" font-size="8.6" fill="#222">1</text>
<path d="M24.4 1065.3H647.5M24.4 1057.7H647.5M24.4 1050.1H647.5M24.4 1042.6H647.5M24.4 1035.0H647.5M24.4 1027.4H647.5M24.4 1019.8H647.5" stroke="#d9d9d9" stroke-width="0.6" stroke-dasharray="3.6 2.9"/>
<path d="M68.5 1017.3V1067.1M111.8 1017.3V1067.1M148.5 1017.3V1067.1M184.8 1017.3V1067.1M220.5 1017.3V1067.1M256.3 1017.3V1067.1M289.5 1017.3V1067.1M320.2 1017.3V1067.1M349.0 1017.3V1067.1M379.3 1017.3V1067.1M408.5 1017.3V1067.1M435.7 1017.3V1067.1M464.9 1017.3V1067.1M493.6 1017.3V1067.1M518.8 1017.3V1067.1M542.4 1017.3V1067.1M564.0 1017.3V1067.1M585.7 1017.3V1067.1M599.8 1017.3V1067.1M640.0 1017.3V1067.1" stroke="#9c9c9c" stroke-width="0.85" stroke-dasharray="5 2.6"/>
<path d="M24.6 1057.3h0.9M25.1 1059.0h0.9M26.0 1057.2h0.9M26.1 1056.6h0.9M26.9 1058.4h0.9M27.2 1056.6h0.9M27.5 1058.2h0.9M27.8 1056.7h0.9M28.4 1059.2h0.9M29.0 1059.6h0.9M29.6 1057.2h0.9M30.0 1057.8h0.9M30.5 1056.7h0.9M30.9 1058.4h0.9M31.3 1058.1h0.9M31.9 1056.3h0.9M32.7 1061.1h0.9M33.0 1058.6h0.9M33.4 1055.9h0.9M33.5 1059.9h0.9M33.8 1057.9h0.9M34.1 1058.7h0.9M34.2 1058.9h0.9M34.8 1055.3h0.9M35.4 1057.5h0.9M35.8 1058.9h0.9M36.8 1057.8h0.9M37.4 1057.7h0.9M38.1 1056.1h0.9M38.4 1057.6h0.9M38.8 1059.1h0.9M39.7 1058.2h0.9M40.3 1056.7h0.9M40.6 1059.5h0.9M40.8 1059.5h0.9M40.9 1058.4h0.9M41.2 1057.1h0.9M41.4 1057.1h0.9M41.7 1056.4h0.9M41.8 1057.4h0.9M42.0 1056.4h0.9M43.1 1055.7h0.9M43.3 1058.5h0.9M43.6 1057.5h0.9M44.0 1056.9h0.9M44.1 1057.9h0.9M44.3 1057.2h0.9M44.6 1057.0h0.9M44.9 1059.6h0.9M45.9 1056.5h0.9M47.6 1058.2h0.9M47.9 1057.5h0.9M48.0 1056.6h0.9M48.7 1056.9h0.9M49.1 1056.1h0.9M49.8 1057.1h0.9M50.6 1055.2h0.9M51.0 1058.1h0.9M51.6 1057.1h0.9M51.8 1059.1h0.9M53.4 1057.1h0.9M53.6 1058.6h0.9M54.2 1056.5h0.9M54.3 1057.3h0.9M56.2 1059.0h0.9M56.5 1058.0h0.9M56.9 1059.4h0.9M57.4 1054.6h0.9M58.2 1056.7h0.9M58.8 1057.1h0.9M60.5 1058.1h0.9M61.2 1056.6h0.9M61.6 1056.5h0.9M62.6 1057.0h0.9M62.7 1058.2h0.9M62.9 1058.2h0.9M63.1 1057.9h0.9M64.0 1056.8h0.9M64.6 1058.3h0.9M66.1 1056.9h0.9M66.3 1056.3h0.9M66.7 1059.2h0.9M66.9 1057.7h0.9M67.0 1056.5h0.9M67.1 1059.5h0.9M67.8 1058.5h0.9M67.9 1059.2h0.9M68.6 1057.5h0.9M69.5 1056.9h0.9M70.2 1056.0h0.9M70.4 1057.9h0.9M70.6 1056.2h0.9M70.8 1059.2h0.9M70.9 1057.2h0.9M71.2 1057.4h0.9M71.8 1054.6h0.9M71.9 1056.6h0.9M72.4 1057.5h0.9M72.8 1056.0h0.9M73.8 1056.7h0.9M75.3 1057.4h0.9M76.0 1056.8h0.9M76.3 1056.2h0.9M77.1 1058.6h0.9M77.3 1055.6h0.9M77.7 1057.7h0.9M78.1 1057.8h0.9M78.6 1057.8h0.9M78.8 1057.2h0.9M80.3 1057.4h0.9M81.0 1057.5h0.9M81.4 1059.7h0.9M81.8 1057.1h0.9M82.0 1058.7h0.9M82.2 1059.9h0.9M83.4 1060.0h0.9M83.7 1060.5h0.9M83.9 1057.2h0.9M84.2 1056.8h0.9M84.6 1056.7h0.9M84.9 1057.9h0.9M85.2 1056.8h0.9M85.5 1055.5h0.9M85.6 1058.0h0.9M85.9 1058.1h0.9M86.0 1060.4h0.9M86.1 1060.2h0.9M86.6 1059.3h0.9M87.0 1059.5h0.9M87.3 1057.5h0.9M88.1 1056.8h0.9M88.3 1056.2h0.9M88.9 1058.3h0.9M89.2 1058.3h0.9M89.8 1058.1h0.9M89.9 1058.3h0.9M91.6 1057.1h0.9M92.1 1057.5h0.9M92.4 1058.4h0.9M92.8 1057.7h0.9M93.1 1059.6h0.9M93.9 1057.3h0.9M94.1 1056.3h0.9M95.1 1057.4h0.9M95.4 1058.3h0.9M95.8 1057.7h0.9M96.1 1054.9h0.9M96.2 1055.8h0.9M97.9 1056.4h0.9M98.3 1057.7h0.9M98.6 1057.7h0.9M99.5 1057.2h0.9M99.9 1059.3h0.9M100.1 1058.3h0.9M101.0 1058.7h0.9M102.5 1056.2h0.9M104.0 1059.1h0.9M104.1 1056.5h0.9M105.6 1058.2h0.9M105.7 1056.9h0.9M106.1 1057.9h0.9M106.3 1057.4h0.9M106.9 1057.5h0.9M107.2 1055.5h0.9M107.5 1054.1h0.9M108.1 1058.4h0.9M108.3 1058.6h0.9M108.8 1058.4h0.9M109.1 1057.8h0.9M109.7 1059.6h0.9M109.9 1058.3h0.9M110.4 1059.1h0.9M110.9 1059.3h0.9M111.2 1052.6h0.9M111.8 1058.9h0.9M112.5 1058.6h0.9M113.7 1060.2h0.9M114.0 1057.2h0.9M114.2 1058.0h0.9M115.1 1058.2h0.9M115.8 1057.8h0.9M116.3 1058.4h0.9M116.5 1056.2h0.9M117.3 1057.9h0.9M117.8 1059.9h0.9M118.1 1057.4h0.9M118.3 1058.7h0.9M118.5 1054.7h0.9M119.1 1056.9h0.9M119.2 1056.7h0.9M119.3 1057.9h0.9M119.6 1057.7h0.9M120.7 1058.7h0.9M121.1 1057.6h0.9M121.5 1060.3h0.9M121.6 1055.7h0.9M122.8 1058.3h0.9M123.7 1055.4h0.9M124.4 1055.8h0.9M124.6 1057.3h0.9M124.9 1058.0h0.9M125.1 1058.3h0.9M125.4 1056.0h0.9M125.7 1058.7h0.9M126.1 1056.5h0.9M126.5 1056.0h0.9M126.8 1056.1h0.9M128.2 1057.6h0.9M128.3 1060.0h0.9M128.8 1057.6h0.9M128.9 1057.2h0.9M129.7 1057.5h0.9M130.1 1054.1h0.9M130.5 1057.1h0.9M130.9 1056.5h0.9M132.6 1060.5h0.9M133.0 1059.3h0.9M133.7 1058.8h0.9M134.8 1056.0h0.9M135.2 1057.1h0.9M135.4 1057.8h0.9M135.6 1058.5h0.9M136.5 1056.0h0.9M136.8 1057.9h0.9M136.9 1058.3h0.9M137.7 1055.9h0.9M138.2 1056.6h0.9M138.5 1055.8h0.9M138.9 1057.8h0.9M139.7 1060.6h0.9M140.2 1058.6h0.9M140.9 1059.2h0.9M141.2 1057.0h0.9M142.2 1058.6h0.9M142.5 1058.6h0.9M143.0 1057.9h0.9M143.6 1056.6h0.9M143.9 1060.4h0.9M144.1 1058.9h0.9M144.6 1057.1h0.9M145.0 1056.8h0.9M145.4 1057.5h0.9M145.9 1058.9h0.9M146.1 1057.6h0.9M147.5 1057.3h0.9M148.4 1057.3h0.9M148.7 1057.9h0.9M149.0 1058.4h0.9M149.3 1057.3h0.9M149.6 1059.6h0.9M149.8 1063.2h0.9M150.0 1058.2h0.9M150.4 1057.6h0.9M150.9 1058.7h0.9M151.4 1059.5h0.9M151.7 1055.6h0.9M152.0 1057.4h0.9M152.4 1060.5h0.9M152.7 1057.6h0.9M152.8 1059.1h0.9M153.8 1058.0h0.9M154.4 1059.7h0.9M154.5 1056.3h0.9M155.2 1057.7h0.9M156.0 1055.8h0.9M156.4 1055.2h0.9M157.2 1057.5h0.9M157.5 1058.1h0.9M158.0 1057.5h0.9M158.1 1057.9h0.9M158.4 1057.5h0.9M158.9 1057.9h0.9M159.0 1057.4h0.9M159.4 1058.2h0.9M159.5 1057.4h0.9M159.8 1060.1h0.9M160.2 1057.6h0.9M160.4 1059.2h0.9M160.9 1059.3h0.9M161.3 1056.8h0.9M161.4 1058.1h0.9M162.0 1055.6h0.9M162.3 1057.9h0.9M162.6 1058.8h0.9M162.9 1058.2h0.9M163.3 1057.9h0.9M164.4 1055.7h0.9M165.5 1057.0h0.9M166.1 1059.4h0.9M166.3 1054.4h0.9M166.7 1057.9h0.9M166.9 1060.0h0.9M167.1 1059.1h0.9M167.5 1057.5h0.9M167.6 1056.8h0.9M168.2 1059.3h0.9M168.4 1057.5h0.9M170.1 1056.9h0.9M170.5 1058.9h0.9M170.6 1058.4h0.9M171.4 1056.6h0.9M171.6 1058.0h0.9M171.7 1058.1h0.9M171.9 1057.8h0.9M172.5 1057.5h0.9M173.4 1056.9h0.9M174.2 1058.2h0.9M175.1 1056.7h0.9M175.2 1058.3h0.9M175.5 1057.0h0.9M175.8 1057.4h0.9M176.4 1056.8h0.9M177.4 1058.3h0.9M178.1 1057.7h0.9M179.5 1051.9h0.9M179.7 1059.8h0.9M180.0 1058.6h0.9M181.4 1058.9h0.9M182.4 1057.0h0.9M182.6 1057.9h0.9M183.0 1057.6h0.9M183.1 1056.8h0.9M183.4 1058.8h0.9M183.7 1059.1h0.9M183.9 1058.9h0.9M184.1 1055.7h0.9M184.6 1057.3h0.9M184.9 1056.3h0.9M185.2 1057.3h0.9M185.4 1058.1h0.9M185.7 1058.2h0.9M185.9 1057.2h0.9M186.4 1060.3h0.9M186.5 1057.4h0.9M186.8 1059.4h0.9M187.0 1057.1h0.9M187.9 1057.0h0.9M188.0 1058.8h0.9M188.9 1057.6h0.9M189.2 1058.0h0.9M189.4 1056.9h0.9M189.7 1058.2h0.9M190.0 1057.9h0.9M190.6 1056.8h0.9M190.8 1059.0h0.9M191.2 1057.1h0.9M192.1 1058.8h0.9M192.5 1057.1h0.9M192.7 1056.3h0.9M193.4 1060.2h0.9M193.5 1058.4h0.9M194.9 1057.5h0.9M195.3 1059.2h0.9M195.9 1058.5h0.9M196.4 1058.4h0.9M196.7 1060.4h0.9M196.9 1057.6h0.9M198.1 1057.8h0.9M198.9 1058.8h0.9M199.9 1056.9h0.9M200.0 1060.9h0.9M200.4 1059.7h0.9M200.9 1059.6h0.9M202.2 1056.1h0.9M203.3 1056.0h0.9M203.4 1056.9h0.9M203.9 1056.7h0.9M205.2 1056.8h0.9M205.8 1058.5h0.9M206.2 1057.1h0.9M206.7 1058.3h0.9M206.9 1057.3h0.9M207.5 1055.6h0.9M207.7 1059.5h0.9M209.3 1057.2h0.9M209.8 1055.8h0.9M210.3 1060.2h0.9M210.5 1056.9h0.9M212.9 1060.6h0.9M213.3 1059.5h0.9M213.7 1059.6h0.9M213.8 1057.4h0.9M214.5 1058.6h0.9M214.9 1057.4h0.9M215.5 1057.3h0.9M216.3 1059.8h0.9M216.7 1058.2h0.9M216.9 1058.9h0.9M217.2 1049.1h0.9M218.7 1056.7h0.9M219.0 1056.8h0.9M219.2 1057.1h0.9M219.4 1056.3h0.9M219.5 1058.4h0.9M220.4 1056.4h0.9M220.8 1058.1h0.9M221.1 1058.0h0.9M222.2 1055.8h0.9M222.5 1058.3h0.9M222.7 1059.4h0.9M223.1 1056.2h0.9M224.5 1057.6h0.9M224.8 1058.1h0.9M225.3 1058.5h0.9M226.2 1059.8h0.9M226.8 1059.5h0.9M227.5 1058.0h0.9M228.2 1059.6h0.9M228.7 1057.1h0.9M229.9 1058.2h0.9M230.3 1055.0h0.9M231.8 1058.2h0.9M232.3 1058.0h0.9M232.7 1057.8h0.9M232.9 1057.3h0.9M233.8 1058.2h0.9M234.1 1056.8h0.9M235.0 1057.1h0.9M235.4 1058.9h0.9M236.0 1057.8h0.9M236.4 1057.8h0.9M236.7 1060.6h0.9M237.4 1059.5h0.9M237.8 1058.0h0.9M238.2 1058.3h0.9M238.5 1057.8h0.9M239.5 1055.3h0.9M240.3 1056.7h0.9M240.6 1059.2h0.9M241.2 1061.7h0.9M242.0 1059.8h0.9M242.2 1057.7h0.9M242.9 1059.6h0.9M243.8 1059.3h0.9M244.4 1056.1h0.9M245.8 1056.1h0.9M246.2 1056.9h0.9M246.5 1056.9h0.9M246.8 1059.6h0.9M247.1 1057.7h0.9M247.4 1060.4h0.9M247.6 1056.9h0.9M247.7 1056.3h0.9M247.8 1057.3h0.9M248.4 1058.1h0.9M250.2 1056.9h0.9M250.9 1057.3h0.9M252.4 1055.8h0.9M252.8 1057.0h0.9M253.2 1058.5h0.9M253.3 1057.8h0.9M253.5 1057.8h0.9M253.7 1057.1h0.9M254.0 1059.6h0.9M255.8 1057.2h0.9M256.2 1058.5h0.9M256.3 1056.8h0.9M256.5 1057.4h0.9M256.9 1060.4h0.9M257.8 1054.8h0.9M258.1 1056.9h0.9M258.2 1056.6h0.9M258.8 1058.4h0.9M259.4 1058.1h0.9M260.2 1055.2h0.9M260.5 1060.5h0.9M261.1 1058.3h0.9M261.4 1060.1h0.9M262.2 1059.7h0.9M262.9 1063.7h0.9M263.0 1058.5h0.9M263.4 1059.3h0.9M264.2 1056.6h0.9M264.6 1058.4h0.9M264.8 1056.2h0.9M265.1 1057.4h0.9M265.3 1057.4h0.9M266.2 1057.6h0.9M266.5 1058.2h0.9M266.9 1055.2h0.9M267.3 1058.8h0.9M267.5 1055.7h0.9M267.7 1059.4h0.9M268.2 1057.8h0.9M268.4 1058.0h0.9M268.8 1058.0h0.9M269.0 1059.1h0.9M269.1 1058.8h0.9M269.8 1057.1h0.9M269.9 1056.8h0.9M270.2 1058.8h0.9M270.4 1058.8h0.9M272.4 1054.5h0.9M272.8 1057.7h0.9M273.1 1057.1h0.9M273.5 1056.7h0.9M274.9 1055.6h0.9M275.4 1058.0h0.9M275.7 1057.5h0.9M276.0 1051.6h0.9M276.7 1059.2h0.9M278.2 1057.5h0.9M280.4 1057.7h0.9M280.6 1057.5h0.9M281.0 1057.4h0.9M281.3 1058.0h0.9M281.7 1058.7h0.9M282.1 1056.9h0.9M282.7 1057.6h0.9M282.9 1058.0h0.9M283.1 1060.4h0.9M283.3 1058.0h0.9M284.5 1058.0h0.9M285.1 1059.1h0.9M285.4 1058.0h0.9M285.9 1057.2h0.9M286.2 1056.0h0.9M286.7 1056.9h0.9M287.1 1057.8h0.9M288.2 1058.4h0.9M289.2 1056.2h0.9M289.8 1058.6h0.9M290.0 1056.3h0.9M290.9 1058.9h0.9M291.2 1056.3h0.9M291.6 1059.1h0.9M291.8 1057.9h0.9M292.5 1056.6h0.9M293.1 1057.3h0.9M293.3 1058.6h0.9M293.7 1057.2h0.9M293.9 1056.2h0.9M294.1 1058.2h0.9M294.3 1060.5h0.9M294.5 1056.8h0.9M294.9 1056.8h0.9M295.1 1056.6h0.9M295.6 1058.9h0.9M295.9 1055.3h0.9M296.4 1057.5h0.9M297.1 1056.5h0.9M297.9 1058.1h0.9M298.3 1056.2h0.9M298.7 1057.2h0.9M298.9 1058.7h0.9M300.3 1057.0h0.9M301.1 1057.6h0.9M302.2 1057.8h0.9M302.4 1055.4h0.9M302.8 1059.4h0.9M303.2 1059.1h0.9M303.9 1055.7h0.9M304.6 1057.5h0.9M305.2 1059.4h0.9M306.3 1057.7h0.9M306.5 1059.3h0.9M306.7 1058.5h0.9M306.9 1056.6h0.9M307.3 1057.5h0.9M308.0 1055.7h0.9M308.4 1056.4h0.9M309.4 1057.9h0.9M309.7 1055.2h0.9M310.0 1058.2h0.9M310.7 1060.4h0.9M311.1 1059.7h0.9M311.8 1056.7h0.9M312.3 1058.8h0.9M312.6 1058.2h0.9M313.2 1056.4h0.9M314.4 1056.7h0.9M314.5 1057.9h0.9M314.8 1058.8h0.9M315.7 1058.3h0.9M315.9 1057.9h0.9M316.3 1057.0h0.9M316.8 1055.7h0.9M317.1 1058.3h0.9M317.3 1058.9h0.9M317.5 1059.8h0.9M317.8 1059.8h0.9M318.5 1058.6h0.9M318.6 1056.6h0.9M319.0 1058.3h0.9M319.2 1058.1h0.9M319.5 1057.9h0.9M320.0 1056.2h0.9M320.4 1058.3h0.9M321.6 1055.7h0.9M321.8 1058.1h0.9M322.0 1057.9h0.9M322.7 1059.2h0.9M323.0 1048.2h0.9M323.8 1055.9h0.9M324.1 1057.2h0.9M324.2 1055.7h0.9M324.5 1056.2h0.9M324.8 1054.0h0.9M326.9 1058.3h0.9M327.1 1058.2h0.9M327.4 1055.7h0.9M327.7 1058.8h0.9M328.3 1057.6h0.9M328.6 1057.9h0.9M329.1 1055.6h0.9M329.3 1058.9h0.9M329.5 1058.9h0.9M330.1 1057.5h0.9M330.5 1058.2h0.9M330.9 1058.6h0.9M331.1 1056.3h0.9M331.2 1058.0h0.9M332.1 1055.9h0.9M332.5 1057.1h0.9M332.6 1054.5h0.9M332.9 1056.1h0.9M333.1 1057.9h0.9M333.2 1058.0h0.9M333.4 1058.7h0.9M333.7 1058.4h0.9M334.4 1057.3h0.9M335.2 1057.9h0.9M335.5 1060.8h0.9M335.7 1058.0h0.9M337.2 1057.0h0.9M337.6 1054.8h0.9M338.7 1057.2h0.9M339.0 1057.8h0.9M339.7 1058.3h0.9M340.0 1058.7h0.9M340.2 1061.3h0.9M340.5 1058.6h0.9M342.1 1058.1h0.9M342.6 1057.9h0.9M343.1 1058.8h0.9M343.2 1057.6h0.9M343.9 1055.6h0.9M344.2 1057.8h0.9M344.3 1057.5h0.9M344.4 1058.1h0.9M346.0 1058.8h0.9M346.9 1059.2h0.9M347.2 1057.5h0.9M347.4 1056.1h0.9M348.2 1057.5h0.9M348.9 1058.4h0.9M349.6 1060.1h0.9M349.8 1058.9h0.9M351.1 1056.9h0.9M351.7 1057.5h0.9M352.0 1058.3h0.9M352.5 1056.5h0.9M352.9 1056.6h0.9M353.1 1060.0h0.9M353.5 1057.3h0.9M353.9 1057.1h0.9M354.0 1058.4h0.9M355.3 1055.1h0.9M355.7 1056.5h0.9M356.3 1056.6h0.9M356.6 1056.4h0.9M356.8 1056.3h0.9M357.3 1056.0h0.9M357.7 1057.4h0.9M358.0 1057.3h0.9M358.2 1058.1h0.9M358.7 1056.8h0.9M359.0 1060.4h0.9M359.6 1058.2h0.9M360.2 1056.2h0.9M360.3 1059.4h0.9M360.6 1056.0h0.9M360.9 1057.5h0.9M361.2 1062.3h0.9M361.6 1055.1h0.9M362.0 1060.0h0.9M363.0 1057.5h0.9M363.5 1055.1h0.9M363.8 1055.9h0.9M363.9 1056.0h0.9M364.1 1056.7h0.9M365.7 1056.7h0.9M365.8 1056.7h0.9M366.0 1058.4h0.9M366.2 1057.1h0.9M367.2 1061.1h0.9M367.5 1058.1h0.9M367.8 1058.5h0.9M368.1 1056.7h0.9M368.7 1058.4h0.9M369.0 1059.0h0.9M369.2 1058.0h0.9M369.8 1056.9h0.9M370.6 1057.8h0.9M371.2 1060.7h0.9M371.6 1059.4h0.9M372.7 1058.7h0.9M373.6 1059.1h0.9M373.9 1060.0h0.9M374.4 1056.1h0.9M374.7 1057.1h0.9M375.0 1057.6h0.9M375.4 1058.6h0.9M376.0 1059.1h0.9M376.8 1057.9h0.9M377.6 1057.0h0.9M378.5 1057.6h0.9M378.8 1060.6h0.9M379.0 1058.7h0.9M379.4 1058.0h0.9M379.9 1059.1h0.9M380.2 1059.1h0.9M380.6 1056.1h0.9M381.0 1058.2h0.9M381.6 1058.8h0.9M381.8 1055.2h0.9M383.0 1058.0h0.9M383.7 1058.3h0.9M385.6 1058.5h0.9M386.0 1054.8h0.9M386.3 1059.3h0.9M386.7 1055.6h0.9M386.9 1058.4h0.9M387.4 1058.7h0.9M388.5 1057.6h0.9M389.1 1057.5h0.9M389.5 1058.8h0.9M389.8 1058.8h0.9M390.3 1057.9h0.9M391.6 1056.9h0.9M391.7 1058.2h0.9M392.1 1056.0h0.9M392.3 1056.1h0.9M393.7 1057.1h0.9M394.0 1060.2h0.9M394.6 1056.5h0.9M394.8 1058.3h0.9M395.1 1058.2h0.9M395.4 1056.7h0.9M397.9 1057.6h0.9M398.5 1056.3h0.9M399.6 1056.3h0.9M399.8 1057.5h0.9M400.1 1058.9h0.9M400.7 1056.7h0.9M401.1 1057.6h0.9M401.7 1056.5h0.9M402.4 1058.0h0.9M402.6 1056.6h0.9M403.1 1058.0h0.9M403.5 1057.8h0.9M404.9 1056.3h0.9M405.5 1058.5h0.9M405.7 1059.1h0.9M407.1 1058.0h0.9M408.1 1058.2h0.9M408.2 1059.2h0.9M410.5 1059.1h0.9M410.9 1056.7h0.9M411.0 1057.6h0.9M411.9 1056.5h0.9M412.2 1060.9h0.9M412.6 1057.3h0.9M413.1 1057.7h0.9M413.3 1059.1h0.9M413.5 1058.0h0.9M413.7 1056.1h0.9M414.2 1056.1h0.9M414.4 1057.8h0.9M414.9 1057.8h0.9M415.5 1058.1h0.9M417.3 1058.6h0.9M417.6 1057.0h0.9M418.0 1056.0h0.9M418.3 1056.8h0.9M418.9 1059.0h0.9M419.8 1056.5h0.9M420.0 1057.3h0.9M420.3 1054.7h0.9M421.9 1057.3h0.9M423.3 1056.3h0.9M423.7 1058.1h0.9M424.0 1058.8h0.9M424.6 1057.8h0.9M425.0 1058.6h0.9M426.3 1063.4h0.9M426.9 1055.9h0.9M427.0 1056.1h0.9M427.6 1055.8h0.9M427.9 1056.6h0.9M428.4 1058.0h0.9M429.1 1061.4h0.9M429.7 1056.1h0.9M430.2 1055.4h0.9M430.5 1058.2h0.9M430.8 1057.2h0.9M431.2 1059.2h0.9M431.5 1060.2h0.9M431.9 1057.9h0.9M432.2 1058.3h0.9M432.5 1058.5h0.9M432.9 1056.6h0.9M433.3 1057.5h0.9M433.6 1059.4h0.9M434.0 1057.9h0.9M434.5 1058.5h0.9M434.7 1056.3h0.9M435.2 1058.0h0.9M435.5 1058.7h0.9M435.8 1056.6h0.9M436.2 1058.2h0.9M436.9 1058.1h0.9M438.2 1057.0h0.9M438.6 1058.4h0.9M438.9 1056.9h0.9M439.2 1054.7h0.9M439.4 1055.3h0.9M439.8 1057.6h0.9M441.0 1058.1h0.9M441.2 1059.8h0.9M441.7 1058.5h0.9M442.0 1058.7h0.9M442.4 1055.3h0.9M442.6 1057.8h0.9M443.0 1060.1h0.9M443.2 1058.1h0.9M443.9 1058.5h0.9M444.7 1059.1h0.9M444.9 1056.8h0.9M445.2 1055.8h0.9M446.5 1058.7h0.9M446.8 1058.6h0.9M447.3 1057.6h0.9M447.5 1059.0h0.9M447.8 1055.5h0.9M448.2 1057.0h0.9M448.4 1057.1h0.9M448.6 1056.7h0.9M448.8 1057.8h0.9M449.2 1055.3h0.9M450.3 1057.4h0.9M450.9 1057.6h0.9M451.3 1057.6h0.9M452.2 1059.4h0.9M452.5 1057.3h0.9M452.9 1058.8h0.9M453.1 1059.1h0.9M453.5 1057.5h0.9M453.6 1057.6h0.9M454.0 1058.2h0.9M454.2 1057.6h0.9M454.5 1057.4h0.9M455.0 1060.4h0.9M455.5 1057.2h0.9M455.7 1058.7h0.9M456.3 1059.7h0.9M457.0 1056.1h0.9M457.6 1059.2h0.9M459.1 1057.4h0.9M459.6 1057.1h0.9M459.7 1058.2h0.9M459.9 1058.2h0.9M460.7 1058.5h0.9M461.6 1059.0h0.9M461.7 1056.3h0.9M462.1 1058.1h0.9M462.8 1058.3h0.9M463.0 1059.1h0.9M465.0 1056.4h0.9M465.6 1056.8h0.9M465.9 1059.0h0.9M466.3 1057.3h0.9M466.5 1054.5h0.9M466.7 1059.0h0.9M467.0 1058.8h0.9M467.6 1056.3h0.9M468.6 1057.7h0.9M468.8 1057.6h0.9M469.6 1056.5h0.9M469.8 1056.8h0.9M470.1 1058.3h0.9M470.4 1057.4h0.9M470.5 1057.8h0.9M470.8 1056.3h0.9M471.1 1059.3h0.9M471.5 1055.6h0.9M472.2 1057.8h0.9M472.3 1057.5h0.9M472.7 1059.5h0.9M473.4 1056.0h0.9M474.2 1056.5h0.9M474.8 1057.4h0.9M474.9 1058.3h0.9M475.3 1055.9h0.9M476.2 1057.0h0.9M476.4 1058.5h0.9M476.7 1059.6h0.9M476.8 1059.5h0.9M477.3 1057.1h0.9M477.6 1057.1h0.9M477.9 1056.7h0.9M478.0 1052.6h0.9M478.3 1057.8h0.9M478.5 1060.7h0.9M479.3 1056.7h0.9M479.7 1059.1h0.9M479.8 1057.7h0.9M480.1 1058.5h0.9M480.8 1058.2h0.9M481.5 1056.6h0.9M481.8 1058.8h0.9M482.4 1057.4h0.9M483.3 1058.4h0.9M484.1 1057.8h0.9M484.5 1057.4h0.9M484.6 1065.0h0.9M486.4 1058.2h0.9M486.7 1057.1h0.9M487.3 1060.1h0.9M487.6 1057.8h0.9M488.0 1056.7h0.9M488.2 1058.6h0.9M488.5 1058.2h0.9M488.9 1057.7h0.9M489.7 1055.9h0.9M490.4 1060.7h0.9M490.8 1057.6h0.9M491.5 1057.9h0.9M491.8 1055.0h0.9M492.2 1057.9h0.9M492.4 1058.8h0.9M493.4 1057.3h0.9M493.7 1058.9h0.9M494.1 1058.7h0.9M494.5 1058.8h0.9M495.4 1058.4h0.9M495.6 1056.1h0.9M496.0 1057.8h0.9M496.3 1055.8h0.9M496.5 1057.7h0.9M497.7 1058.2h0.9M498.6 1059.1h0.9M498.7 1057.0h0.9M499.0 1055.7h0.9M499.3 1060.7h0.9M499.9 1058.9h0.9M500.5 1056.4h0.9M501.2 1058.0h0.9M501.4 1056.5h0.9M501.7 1057.7h0.9M502.0 1057.7h0.9M502.4 1056.5h0.9M503.3 1055.3h0.9M503.7 1058.3h0.9M504.5 1059.4h0.9M506.7 1059.5h0.9M507.2 1059.0h0.9M507.3 1057.4h0.9M507.5 1060.1h0.9M507.8 1057.0h0.9M508.2 1059.2h0.9M509.7 1058.9h0.9M510.2 1057.1h0.9M510.4 1057.8h0.9M510.8 1057.2h0.9M511.8 1059.2h0.9M512.0 1058.5h0.9M512.1 1054.4h0.9M513.8 1060.6h0.9M514.1 1058.4h0.9M515.0 1056.8h0.9M515.3 1058.8h0.9M515.4 1057.9h0.9M515.8 1056.9h0.9M516.4 1057.0h0.9M517.1 1058.9h0.9M517.3 1057.9h0.9M517.7 1055.6h0.9M518.4 1056.3h0.9M518.8 1052.2h0.9M519.2 1054.7h0.9M519.4 1057.1h0.9M520.4 1056.0h0.9M520.5 1058.1h0.9M520.9 1055.4h0.9M521.1 1057.6h0.9M521.3 1058.5h0.9M521.7 1057.3h0.9M522.8 1056.3h0.9M523.0 1057.4h0.9M523.2 1058.3h0.9M523.5 1058.9h0.9M524.4 1057.8h0.9M525.3 1056.7h0.9M526.9 1056.3h0.9M527.3 1058.4h0.9M528.0 1057.9h0.9M528.1 1060.6h0.9M529.0 1063.3h0.9M530.1 1059.4h0.9M530.3 1055.8h0.9M530.6 1055.1h0.9M531.2 1060.1h0.9M531.4 1057.4h0.9M531.7 1060.2h0.9M531.9 1055.9h0.9M532.1 1058.1h0.9M533.1 1056.2h0.9M533.4 1054.4h0.9M533.8 1056.2h0.9M535.6 1057.9h0.9M536.4 1058.6h0.9M537.0 1057.0h0.9M537.4 1057.2h0.9M538.1 1061.6h0.9M538.5 1057.6h0.9M539.9 1056.1h0.9M540.5 1060.0h0.9M541.0 1056.6h0.9M541.6 1058.7h0.9M541.9 1059.5h0.9M542.9 1057.8h0.9M543.2 1059.5h0.9M544.0 1058.6h0.9M544.8 1056.6h0.9M545.6 1056.6h0.9M545.7 1054.5h0.9M546.3 1056.8h0.9M546.8 1057.0h0.9M546.9 1056.9h0.9M547.1 1058.5h0.9M547.5 1059.2h0.9M549.5 1058.3h0.9M549.8 1056.2h0.9M550.1 1057.6h0.9M550.4 1056.5h0.9M550.5 1056.6h0.9M551.0 1054.9h0.9M551.3 1059.2h0.9M552.1 1059.2h0.9M552.4 1057.5h0.9M552.9 1057.8h0.9M553.4 1055.6h0.9M553.6 1057.9h0.9M554.2 1054.9h0.9M554.6 1060.3h0.9M554.8 1058.5h0.9M555.0 1057.5h0.9M555.2 1057.3h0.9M556.0 1057.4h0.9M556.1 1057.8h0.9M556.2 1058.0h0.9M557.1 1058.7h0.9M557.7 1058.4h0.9M557.9 1057.0h0.9M558.1 1056.0h0.9M558.3 1056.4h0.9M559.3 1056.6h0.9M559.7 1058.5h0.9M559.9 1058.0h0.9M560.0 1056.7h0.9M560.4 1056.9h0.9M560.6 1056.8h0.9M561.4 1058.2h0.9M561.6 1055.2h0.9M561.9 1058.1h0.9M562.0 1055.9h0.9M562.8 1058.1h0.9M563.1 1056.4h0.9M563.4 1058.7h0.9M564.2 1057.1h0.9M564.4 1057.8h0.9M564.7 1057.6h0.9M565.0 1056.5h0.9M565.8 1059.3h0.9M566.2 1056.1h0.9M566.8 1056.7h0.9M567.4 1060.3h0.9M567.7 1056.3h0.9M568.0 1059.1h0.9M568.2 1059.2h0.9M568.8 1055.9h0.9M569.0 1056.8h0.9M569.3 1056.5h0.9M570.0 1056.5h0.9M570.2 1058.0h0.9M570.6 1057.3h0.9M570.8 1059.0h0.9M571.0 1059.2h0.9M571.2 1058.7h0.9M571.4 1057.9h0.9M571.8 1058.1h0.9M572.5 1058.3h0.9M572.9 1058.6h0.9M573.2 1051.6h0.9M573.3 1058.8h0.9M574.6 1059.7h0.9M574.9 1057.8h0.9M575.1 1058.4h0.9M575.6 1057.2h0.9M575.9 1057.9h0.9M577.4 1057.4h0.9M577.7 1055.1h0.9M578.7 1058.9h0.9M579.4 1058.6h0.9M579.8 1057.8h0.9M580.2 1061.4h0.9M580.4 1058.0h0.9M580.6 1059.0h0.9M580.9 1057.1h0.9M581.2 1057.2h0.9M581.4 1057.6h0.9M582.0 1056.7h0.9M582.1 1057.1h0.9M582.5 1058.1h0.9M582.6 1059.2h0.9M582.8 1061.5h0.9M583.5 1057.2h0.9M583.6 1058.9h0.9M583.9 1057.2h0.9M584.2 1058.2h0.9M585.0 1058.6h0.9M585.5 1058.1h0.9M585.7 1062.2h0.9M586.0 1058.3h0.9M586.4 1056.9h0.9M586.6 1059.0h0.9M588.0 1059.2h0.9M588.4 1056.9h0.9M589.0 1057.8h0.9M590.1 1058.5h0.9M590.4 1057.6h0.9M590.7 1055.8h0.9M590.9 1056.8h0.9M591.2 1057.4h0.9M591.4 1052.4h0.9M591.9 1056.4h0.9M592.2 1058.4h0.9M592.8 1055.9h0.9M592.9 1061.4h0.9M593.7 1056.2h0.9M594.5 1056.9h0.9M594.9 1058.9h0.9M595.8 1055.0h0.9M596.4 1058.7h0.9M596.5 1059.2h0.9M596.9 1057.9h0.9M597.1 1056.1h0.9M597.4 1055.5h0.9M597.7 1062.1h0.9M598.4 1060.0h0.9M598.9 1059.9h0.9M600.3 1058.2h0.9M600.6 1057.7h0.9M600.8 1057.7h0.9M601.2 1058.8h0.9M601.6 1058.2h0.9M602.1 1057.9h0.9M602.5 1057.2h0.9M602.8 1057.2h0.9M603.0 1057.2h0.9M603.2 1058.5h0.9M603.5 1057.4h0.9M604.3 1058.4h0.9M605.3 1053.1h0.9M605.6 1057.0h0.9M606.1 1056.8h0.9M606.5 1056.6h0.9M607.3 1059.4h0.9M607.6 1056.1h0.9M608.3 1057.3h0.9M608.5 1057.7h0.9M608.9 1057.2h0.9M609.2 1058.1h0.9M609.6 1058.8h0.9M610.3 1058.4h0.9M610.7 1056.7h0.9M611.0 1056.1h0.9M611.4 1059.5h0.9M611.8 1055.4h0.9M612.5 1056.1h0.9M612.9 1056.3h0.9M613.1 1058.0h0.9M613.4 1056.4h0.9M613.5 1057.1h0.9M613.9 1057.1h0.9M614.7 1059.4h0.9M615.8 1057.3h0.9M616.2 1056.8h0.9M616.3 1057.4h0.9M617.3 1059.3h0.9M617.6 1057.9h0.9M617.8 1057.0h0.9M618.6 1059.9h0.9M619.3 1056.6h0.9M619.5 1054.9h0.9M620.2 1058.5h0.9M620.5 1056.0h0.9M621.3 1057.4h0.9M621.5 1059.0h0.9M621.7 1060.9h0.9M622.0 1056.3h0.9M622.2 1056.3h0.9M622.5 1056.3h0.9M622.8 1059.6h0.9M623.5 1057.9h0.9M623.6 1057.9h0.9M624.1 1057.5h0.9M624.5 1056.9h0.9M625.5 1059.6h0.9M625.6 1057.4h0.9M625.8 1055.5h0.9M626.2 1059.1h0.9M626.9 1055.9h0.9M627.4 1056.0h0.9M628.0 1058.9h0.9M628.4 1061.3h0.9M628.7 1060.2h0.9M628.9 1058.3h0.9M629.0 1057.1h0.9M629.3 1057.5h0.9M629.6 1058.1h0.9M630.0 1061.4h0.9M630.2 1057.6h0.9M630.7 1057.6h0.9M631.1 1057.7h0.9M632.1 1059.7h0.9M632.5 1055.1h0.9M632.8 1057.4h0.9M633.8 1058.9h0.9M635.2 1058.6h0.9M635.4 1057.6h0.9M635.8 1057.7h0.9M636.1 1057.8h0.9M636.3 1057.0h0.9M636.5 1056.7h0.9M637.1 1055.6h0.9M639.0 1058.2h0.9M639.4 1058.2h0.9" stroke="#8c8c8c" stroke-width="0.8"/>
<path d="M24.4 1056.9h0.9M24.9 1056.9h0.9M25.4 1058.4h0.9M25.8 1057.6h0.9M26.4 1057.4h0.9M26.8 1059.3h0.9M27.9 1053.5h0.9M28.2 1058.3h0.9M28.8 1058.0h0.9M29.2 1052.7h0.9M30.1 1058.1h0.9M30.3 1057.3h0.9M31.4 1059.6h0.9M31.8 1057.5h0.9M32.2 1057.3h0.9M32.6 1057.3h0.9M32.8 1059.9h0.9M34.5 1057.2h0.9M35.1 1059.3h0.9M36.0 1053.7h0.9M36.2 1055.0h0.9M36.5 1053.9h0.9M37.1 1059.0h0.9M37.6 1058.7h0.9M37.9 1056.3h0.9M38.7 1059.1h0.9M39.1 1058.1h0.9M39.2 1058.4h0.9M39.4 1057.7h0.9M39.9 1061.5h0.9M40.2 1058.8h0.9M42.3 1055.8h0.9M42.7 1058.3h0.9M43.5 1057.4h0.9M44.7 1056.0h0.9M45.2 1060.4h0.9M45.5 1056.2h0.9M45.6 1056.8h0.9M46.3 1054.5h0.9M46.6 1057.2h0.9M46.7 1057.4h0.9M47.0 1057.8h0.9M47.3 1057.6h0.9M47.5 1059.3h0.9M48.2 1058.2h0.9M48.5 1057.8h0.9M49.2 1057.9h0.9M49.4 1059.6h0.9M50.1 1058.1h0.9M50.3 1057.3h0.9M50.8 1059.7h0.9M51.4 1056.2h0.9M52.2 1055.9h0.9M52.4 1055.2h0.9M52.6 1058.1h0.9M53.0 1059.8h0.9M53.7 1058.0h0.9M54.0 1058.3h0.9M54.6 1056.7h0.9M54.9 1056.4h0.9M55.2 1058.3h0.9M55.5 1055.4h0.9M55.8 1057.9h0.9M56.8 1058.2h0.9M57.2 1056.9h0.9M57.7 1058.1h0.9M57.8 1058.9h0.9M58.0 1057.8h0.9M58.4 1056.4h0.9M58.6 1058.1h0.9M59.0 1055.8h0.9M59.2 1056.6h0.9M59.4 1061.4h0.9M59.7 1057.6h0.9M59.9 1057.1h0.9M60.2 1056.7h0.9M60.8 1058.0h0.9M61.4 1059.2h0.9M61.9 1057.3h0.9M62.2 1050.7h0.9M63.4 1056.8h0.9M63.6 1059.3h0.9M63.8 1057.2h0.9M64.2 1058.5h0.9M64.8 1057.3h0.9M65.2 1057.8h0.9M65.4 1055.4h0.9M65.5 1059.6h0.9M65.8 1057.8h0.9M67.5 1057.2h0.9M68.3 1057.8h0.9M68.8 1059.4h0.9M69.1 1058.3h0.9M69.3 1057.7h0.9M69.8 1058.2h0.9M71.1 1057.3h0.9M71.4 1057.8h0.9M72.2 1058.5h0.9M73.0 1058.9h0.9M73.3 1057.9h0.9M73.4 1057.6h0.9M74.1 1058.5h0.9M74.5 1056.4h0.9M74.7 1058.9h0.9M74.8 1054.7h0.9M75.2 1057.8h0.9M75.6 1056.3h0.9M76.1 1060.0h0.9M76.7 1060.6h0.9M76.9 1057.6h0.9M78.0 1057.7h0.9M78.4 1055.8h0.9M79.0 1057.3h0.9M79.4 1056.0h0.9M79.5 1055.2h0.9M79.7 1055.6h0.9M79.8 1057.6h0.9M80.0 1055.8h0.9M80.5 1057.6h0.9M80.8 1055.7h0.9M81.2 1056.9h0.9M81.7 1057.8h0.9M82.5 1059.3h0.9M82.9 1056.1h0.9M83.2 1056.6h0.9M84.3 1055.5h0.9M85.7 1057.2h0.9M86.5 1059.7h0.9M86.7 1057.1h0.9M87.7 1058.0h0.9M88.6 1056.3h0.9M89.6 1060.5h0.9M90.2 1056.9h0.9M90.6 1055.9h0.9M90.9 1056.8h0.9M91.2 1058.1h0.9M91.9 1058.7h0.9M93.0 1059.0h0.9M93.4 1057.9h0.9M93.6 1057.7h0.9M94.5 1057.5h0.9M94.8 1058.7h0.9M95.3 1062.1h0.9M96.4 1059.5h0.9M96.5 1056.9h0.9M96.9 1055.8h0.9M97.2 1056.0h0.9M97.4 1060.0h0.9M97.6 1058.1h0.9M97.8 1055.9h0.9M98.9 1057.9h0.9M99.3 1057.9h0.9M100.2 1058.3h0.9M100.6 1058.7h0.9M101.1 1057.3h0.9M101.3 1058.7h0.9M101.7 1060.3h0.9M102.0 1057.4h0.9M102.1 1057.0h0.9M102.2 1058.4h0.9M102.7 1058.7h0.9M102.9 1059.3h0.9M103.2 1055.3h0.9M103.5 1058.9h0.9M103.8 1057.9h0.9M104.3 1056.0h0.9M104.6 1055.5h0.9M104.8 1054.9h0.9M105.0 1056.5h0.9M105.4 1059.0h0.9M105.9 1055.0h0.9M106.5 1054.7h0.9M107.9 1057.6h0.9M108.5 1058.4h0.9M109.3 1057.8h0.9M109.8 1056.8h0.9M110.1 1056.8h0.9M110.8 1058.6h0.9M111.4 1056.7h0.9M112.2 1057.2h0.9M112.7 1058.0h0.9M112.8 1056.8h0.9M113.2 1059.4h0.9M113.5 1058.7h0.9M114.4 1056.0h0.9M114.8 1057.7h0.9M115.4 1060.0h0.9M116.1 1055.8h0.9M116.9 1061.7h0.9M117.2 1055.2h0.9M117.6 1059.1h0.9M118.9 1059.3h0.9M120.0 1057.6h0.9M120.4 1058.3h0.9M120.5 1057.5h0.9M120.8 1060.0h0.9M121.8 1058.9h0.9M122.2 1057.4h0.9M122.5 1058.7h0.9M123.1 1060.2h0.9M123.4 1058.8h0.9M123.9 1056.8h0.9M124.1 1057.9h0.9M124.3 1058.3h0.9M125.9 1059.2h0.9M126.7 1058.8h0.9M127.1 1059.1h0.9M127.5 1057.6h0.9M127.6 1055.4h0.9M127.9 1056.2h0.9M128.5 1057.7h0.9M128.6 1056.8h0.9M129.1 1057.9h0.9M129.3 1057.1h0.9M130.2 1058.9h0.9M130.7 1057.1h0.9M131.2 1058.8h0.9M131.5 1054.0h0.9M131.8 1055.5h0.9M132.1 1057.5h0.9M132.4 1058.2h0.9M132.9 1057.0h0.9M133.3 1057.8h0.9M133.8 1057.8h0.9M134.0 1058.0h0.9M134.1 1058.7h0.9M134.5 1060.1h0.9M135.0 1058.1h0.9M135.9 1058.2h0.9M136.1 1056.5h0.9M137.1 1056.3h0.9M137.5 1059.4h0.9M138.1 1056.6h0.9M139.0 1058.1h0.9M139.2 1055.7h0.9M139.4 1058.5h0.9M139.8 1057.9h0.9M140.3 1056.8h0.9M140.5 1057.3h0.9M140.7 1056.8h0.9M141.4 1057.6h0.9M141.6 1057.7h0.9M141.7 1055.1h0.9M141.9 1058.1h0.9M142.8 1056.8h0.9M143.2 1056.5h0.9M143.3 1057.3h0.9M144.4 1059.9h0.9M144.8 1057.9h0.9M145.6 1056.6h0.9M146.3 1057.3h0.9M146.7 1059.3h0.9M146.8 1058.2h0.9M147.1 1057.2h0.9M147.8 1060.3h0.9M148.2 1057.4h0.9M148.9 1056.8h0.9M150.6 1057.2h0.9M151.0 1051.8h0.9M152.2 1057.2h0.9M153.2 1056.6h0.9M153.6 1056.6h0.9M154.0 1058.8h0.9M154.6 1057.9h0.9M154.8 1057.7h0.9M155.4 1057.9h0.9M155.7 1057.4h0.9M156.2 1057.3h0.9M156.8 1056.8h0.9M157.0 1056.3h0.9M157.4 1057.9h0.9M157.9 1055.9h0.9M158.6 1057.0h0.9M160.8 1059.1h0.9M161.1 1057.9h0.9M161.7 1057.0h0.9M163.6 1058.6h0.9M163.8 1059.1h0.9M164.1 1057.7h0.9M164.8 1058.6h0.9M165.0 1062.6h0.9M165.2 1055.0h0.9M165.8 1056.8h0.9M167.8 1058.2h0.9M168.1 1057.6h0.9M168.7 1059.1h0.9M169.1 1058.7h0.9M169.3 1059.1h0.9M169.5 1058.0h0.9M169.7 1058.9h0.9M170.9 1055.3h0.9M171.1 1056.8h0.9M171.5 1059.5h0.9M172.1 1055.8h0.9M172.8 1058.7h0.9M173.0 1059.6h0.9M173.6 1059.0h0.9M173.7 1057.8h0.9M173.8 1051.7h0.9M173.9 1057.0h0.9M174.1 1054.6h0.9M174.4 1059.0h0.9M174.7 1060.3h0.9M174.9 1056.2h0.9M176.0 1057.7h0.9M176.2 1057.8h0.9M176.7 1058.6h0.9M176.9 1057.0h0.9M177.1 1058.7h0.9M177.8 1058.5h0.9M178.5 1057.4h0.9M178.8 1058.8h0.9M178.9 1058.3h0.9M179.2 1055.6h0.9M180.1 1057.8h0.9M180.4 1059.9h0.9M180.5 1057.2h0.9M180.8 1057.4h0.9M181.1 1058.6h0.9M181.6 1058.6h0.9M181.7 1058.2h0.9M181.8 1056.5h0.9M182.1 1058.4h0.9M184.4 1057.4h0.9M185.0 1056.7h0.9M185.1 1057.3h0.9M185.6 1060.1h0.9M186.1 1058.4h0.9M187.4 1058.8h0.9M187.7 1054.4h0.9M188.4 1057.0h0.9M188.6 1058.5h0.9M189.6 1058.9h0.9M190.3 1058.5h0.9M191.0 1062.4h0.9M191.4 1058.3h0.9M191.8 1057.8h0.9M192.3 1057.7h0.9M193.0 1057.9h0.9M193.1 1059.7h0.9M193.8 1055.4h0.9M194.1 1057.9h0.9M194.4 1059.8h0.9M194.6 1058.4h0.9M195.1 1056.3h0.9M195.4 1056.5h0.9M195.5 1053.7h0.9M196.1 1055.1h0.9M196.2 1056.2h0.9M197.2 1056.4h0.9M197.5 1058.2h0.9M197.8 1060.6h0.9M198.5 1057.7h0.9M198.8 1058.9h0.9M199.1 1058.3h0.9M199.5 1058.8h0.9M199.7 1060.2h0.9M200.6 1057.0h0.9M201.0 1058.0h0.9M201.3 1058.2h0.9M201.5 1058.5h0.9M201.6 1057.8h0.9M201.8 1058.9h0.9M201.9 1057.7h0.9M202.6 1057.6h0.9M202.8 1057.2h0.9M203.1 1059.8h0.9M203.5 1060.4h0.9M204.3 1056.3h0.9M204.6 1058.1h0.9M205.0 1058.0h0.9M205.4 1059.4h0.9M205.5 1056.7h0.9M206.3 1053.5h0.9M207.2 1057.5h0.9M207.9 1056.1h0.9M208.1 1055.9h0.9M208.3 1056.0h0.9M208.6 1058.5h0.9M208.9 1059.5h0.9M209.2 1058.4h0.9M209.5 1058.6h0.9M210.2 1059.3h0.9M210.7 1055.3h0.9M210.8 1057.5h0.9M211.2 1057.6h0.9M211.5 1059.5h0.9M211.9 1058.1h0.9M212.2 1061.5h0.9M212.6 1058.5h0.9M213.2 1060.6h0.9M214.2 1057.6h0.9M215.1 1056.2h0.9M215.7 1057.7h0.9M216.0 1056.0h0.9M217.6 1057.3h0.9M217.8 1059.9h0.9M218.0 1055.5h0.9M218.3 1056.0h0.9M218.6 1057.9h0.9M219.8 1056.6h0.9M220.1 1061.1h0.9M221.3 1056.6h0.9M221.7 1057.5h0.9M222.1 1058.8h0.9M222.4 1058.5h0.9M223.4 1057.0h0.9M223.7 1059.4h0.9M224.0 1059.0h0.9M224.4 1057.5h0.9M224.9 1058.7h0.9M225.5 1056.7h0.9M225.8 1059.5h0.9M226.5 1055.4h0.9M227.1 1059.7h0.9M227.2 1057.2h0.9M227.3 1056.2h0.9M227.7 1056.1h0.9M228.0 1058.8h0.9M228.5 1057.9h0.9M228.8 1056.9h0.9M228.9 1055.7h0.9M229.3 1060.8h0.9M229.4 1056.8h0.9M229.7 1059.1h0.9M230.1 1056.3h0.9M230.5 1057.6h0.9M230.7 1057.8h0.9M230.9 1058.5h0.9M231.2 1057.9h0.9M231.5 1055.6h0.9M232.1 1057.9h0.9M233.2 1056.6h0.9M233.4 1055.8h0.9M233.7 1056.4h0.9M234.0 1058.4h0.9M234.4 1062.0h0.9M234.6 1057.5h0.9M234.8 1057.6h0.9M235.1 1055.6h0.9M235.5 1058.7h0.9M235.8 1058.6h0.9M236.1 1059.1h0.9M236.5 1056.8h0.9M237.0 1058.7h0.9M237.2 1055.5h0.9M237.9 1056.6h0.9M238.9 1057.5h0.9M239.0 1059.7h0.9M239.3 1057.3h0.9M239.9 1057.6h0.9M240.0 1060.2h0.9M240.1 1056.0h0.9M240.9 1058.2h0.9M241.5 1058.2h0.9M241.7 1060.2h0.9M242.5 1057.6h0.9M242.6 1056.9h0.9M243.0 1055.7h0.9M243.2 1058.4h0.9M243.6 1058.8h0.9M244.0 1058.1h0.9M244.6 1058.1h0.9M244.7 1057.1h0.9M245.1 1057.7h0.9M245.5 1060.4h0.9M245.7 1058.6h0.9M248.2 1056.8h0.9M248.7 1059.5h0.9M249.0 1058.1h0.9M249.3 1057.5h0.9M249.6 1056.5h0.9M249.9 1059.7h0.9M250.5 1058.1h0.9M251.3 1059.2h0.9M251.6 1059.8h0.9M252.0 1058.3h0.9M252.1 1058.7h0.9M252.3 1057.3h0.9M254.2 1058.1h0.9M254.4 1058.0h0.9M254.6 1058.5h0.9M254.8 1055.2h0.9M254.9 1054.7h0.9M255.2 1058.9h0.9M255.5 1058.9h0.9M256.0 1058.3h0.9M256.6 1058.5h0.9M257.2 1058.7h0.9M257.5 1057.8h0.9M257.9 1056.9h0.9M258.6 1057.1h0.9M259.1 1055.7h0.9M259.2 1057.1h0.9M259.6 1058.8h0.9M260.0 1058.2h0.9M260.3 1056.5h0.9M260.9 1060.2h0.9M261.5 1056.0h0.9M261.7 1060.2h0.9M262.1 1059.6h0.9M262.5 1055.9h0.9M262.6 1055.6h0.9M263.6 1058.1h0.9M263.9 1058.8h0.9M265.6 1057.6h0.9M266.0 1061.2h0.9M266.8 1056.8h0.9M267.9 1056.4h0.9M269.4 1059.7h0.9M270.8 1056.2h0.9M271.2 1057.6h0.9M271.3 1062.1h0.9M271.7 1056.5h0.9M271.9 1060.0h0.9M272.3 1055.7h0.9M273.4 1058.2h0.9M273.9 1058.7h0.9M274.1 1056.7h0.9M274.3 1055.7h0.9M274.6 1059.4h0.9M275.2 1058.5h0.9M276.2 1056.5h0.9M276.3 1058.6h0.9M277.0 1055.2h0.9M277.3 1058.0h0.9M277.5 1057.1h0.9M277.6 1057.8h0.9M277.9 1058.9h0.9M278.0 1058.5h0.9M278.6 1059.7h0.9M278.8 1058.1h0.9M279.1 1056.3h0.9M279.3 1058.0h0.9M279.6 1060.0h0.9M279.9 1055.9h0.9M280.2 1056.7h0.9M280.8 1058.0h0.9M281.5 1058.4h0.9M282.5 1057.7h0.9M283.2 1057.1h0.9M283.6 1057.0h0.9M283.8 1057.4h0.9M284.2 1057.7h0.9M284.7 1057.6h0.9M284.9 1059.7h0.9M285.7 1058.0h0.9M286.6 1053.6h0.9M287.5 1054.5h0.9M287.7 1057.6h0.9M287.9 1056.6h0.9M288.5 1057.9h0.9M288.7 1058.3h0.9M288.8 1058.6h0.9M289.0 1058.8h0.9M289.5 1057.6h0.9M290.3 1059.0h0.9M290.6 1057.9h0.9M292.0 1055.8h0.9M292.2 1057.4h0.9M292.7 1058.9h0.9M295.3 1057.3h0.9M296.1 1057.0h0.9M296.8 1057.3h0.9M297.3 1058.9h0.9M297.6 1057.5h0.9M298.0 1056.4h0.9M298.1 1059.8h0.9M299.2 1062.8h0.9M299.5 1057.6h0.9M299.7 1057.6h0.9M299.9 1057.7h0.9M300.2 1055.5h0.9M300.6 1058.6h0.9M300.9 1057.1h0.9M301.5 1059.0h0.9M301.9 1059.0h0.9M303.3 1057.3h0.9M303.6 1058.4h0.9M304.2 1057.7h0.9M304.9 1058.0h0.9M305.4 1057.3h0.9M305.7 1058.3h0.9M306.1 1057.5h0.9M307.0 1059.4h0.9M307.7 1057.9h0.9M308.7 1059.2h0.9M308.9 1058.8h0.9M309.2 1057.1h0.9M310.3 1057.3h0.9M311.4 1058.4h0.9M312.0 1056.0h0.9M312.4 1060.7h0.9M312.9 1056.1h0.9M313.4 1058.4h0.9M313.6 1054.8h0.9M313.8 1060.1h0.9M314.0 1057.7h0.9M314.3 1057.5h0.9M315.2 1059.0h0.9M315.4 1058.5h0.9M316.2 1057.3h0.9M316.5 1059.4h0.9M316.7 1057.8h0.9M318.0 1056.9h0.9M318.1 1056.9h0.9M318.4 1057.6h0.9M319.7 1056.4h0.9M320.5 1057.0h0.9M320.7 1056.7h0.9M320.9 1058.4h0.9M321.3 1057.4h0.9M322.2 1058.2h0.9M322.5 1056.6h0.9M323.3 1057.0h0.9M323.5 1059.1h0.9M323.6 1058.6h0.9M325.0 1058.4h0.9M325.1 1056.5h0.9M325.5 1056.7h0.9M325.9 1058.7h0.9M326.1 1056.4h0.9M326.4 1058.1h0.9M326.7 1057.3h0.9M327.8 1058.9h0.9M327.9 1058.1h0.9M328.5 1057.7h0.9M328.8 1057.5h0.9M329.7 1058.2h0.9M330.4 1057.7h0.9M331.6 1058.8h0.9M331.9 1060.0h0.9M332.2 1055.9h0.9M332.8 1057.4h0.9M333.6 1058.0h0.9M334.1 1055.3h0.9M334.8 1057.4h0.9M335.1 1057.8h0.9M336.1 1058.9h0.9M336.4 1058.6h0.9M336.7 1059.9h0.9M337.0 1057.9h0.9M337.9 1057.6h0.9M338.2 1056.2h0.9M338.4 1056.1h0.9M339.2 1058.5h0.9M339.4 1059.0h0.9M339.6 1057.1h0.9M340.7 1057.5h0.9M340.8 1061.4h0.9M341.1 1055.4h0.9M341.4 1060.2h0.9M341.5 1056.7h0.9M341.9 1058.7h0.9M342.4 1058.1h0.9M342.5 1057.3h0.9M342.8 1057.4h0.9M343.4 1055.7h0.9M343.5 1057.6h0.9M344.6 1054.9h0.9M344.9 1056.4h0.9M345.2 1056.3h0.9M345.5 1056.5h0.9M345.8 1057.4h0.9M346.3 1057.2h0.9M346.6 1057.7h0.9M347.8 1058.2h0.9M347.9 1059.1h0.9M348.5 1058.9h0.9M349.3 1059.3h0.9M350.0 1057.5h0.9M350.2 1060.4h0.9M350.5 1055.5h0.9M350.8 1058.3h0.9M351.4 1056.5h0.9M352.2 1057.1h0.9M352.6 1055.8h0.9M354.3 1055.4h0.9M354.6 1055.5h0.9M354.8 1058.8h0.9M355.0 1057.5h0.9M356.0 1059.0h0.9M357.1 1058.1h0.9M358.5 1058.9h0.9M359.3 1057.6h0.9M360.0 1056.8h0.9M361.1 1066.2h0.9M361.3 1056.9h0.9M361.9 1057.5h0.9M362.4 1057.0h0.9M362.6 1058.5h0.9M363.3 1057.5h0.9M364.4 1058.7h0.9M364.5 1058.1h0.9M364.8 1057.0h0.9M365.0 1057.2h0.9M365.1 1059.6h0.9M365.3 1056.1h0.9M366.5 1058.2h0.9M366.8 1055.4h0.9M367.4 1059.0h0.9M368.4 1054.3h0.9M369.6 1056.2h0.9M370.2 1057.6h0.9M370.3 1057.5h0.9M371.0 1059.6h0.9M371.5 1056.6h0.9M371.8 1055.9h0.9M372.1 1057.3h0.9M372.4 1055.0h0.9M373.1 1057.4h0.9M373.3 1057.2h0.9M373.5 1055.9h0.9M374.1 1057.6h0.9M375.7 1057.6h0.9M375.8 1058.8h0.9M376.3 1055.2h0.9M376.6 1058.3h0.9M376.9 1058.7h0.9M377.1 1060.2h0.9M377.3 1058.1h0.9M377.9 1058.7h0.9M378.1 1057.8h0.9M378.3 1058.6h0.9M378.9 1057.0h0.9M379.8 1058.4h0.9M380.5 1060.8h0.9M381.3 1059.1h0.9M381.5 1057.6h0.9M382.2 1056.6h0.9M382.5 1057.9h0.9M382.8 1058.5h0.9M383.3 1057.6h0.9M384.0 1056.4h0.9M384.4 1057.2h0.9M384.5 1056.1h0.9M384.8 1057.6h0.9M385.0 1059.1h0.9M385.2 1059.4h0.9M385.7 1056.3h0.9M386.4 1060.0h0.9M387.2 1056.8h0.9M387.6 1056.6h0.9M388.0 1057.3h0.9M388.3 1058.1h0.9M388.7 1050.6h0.9M389.0 1055.7h0.9M390.1 1056.1h0.9M390.6 1060.9h0.9M391.0 1058.8h0.9M391.3 1058.9h0.9M392.4 1058.1h0.9M392.6 1058.1h0.9M392.9 1057.4h0.9M393.1 1057.7h0.9M393.4 1058.2h0.9M393.8 1056.2h0.9M394.3 1056.4h0.9M394.4 1059.4h0.9M395.7 1058.1h0.9M395.9 1057.7h0.9M396.1 1054.4h0.9M396.3 1058.4h0.9M396.4 1057.1h0.9M396.8 1056.2h0.9M397.0 1056.4h0.9M397.2 1059.3h0.9M397.5 1056.3h0.9M398.3 1056.0h0.9M398.6 1056.9h0.9M398.9 1057.8h0.9M399.2 1056.8h0.9M399.3 1056.8h0.9M400.3 1059.5h0.9M400.5 1056.8h0.9M401.0 1055.1h0.9M401.2 1055.8h0.9M401.6 1058.2h0.9M402.1 1061.3h0.9M402.3 1057.3h0.9M402.9 1055.6h0.9M403.2 1056.5h0.9M403.8 1056.0h0.9M404.1 1056.2h0.9M404.2 1051.8h0.9M404.6 1058.1h0.9M405.1 1059.5h0.9M405.9 1057.6h0.9M406.2 1058.8h0.9M406.5 1055.6h0.9M406.9 1056.4h0.9M407.4 1055.7h0.9M407.7 1056.7h0.9M407.8 1056.8h0.9M408.4 1057.2h0.9M408.7 1057.0h0.9M408.9 1057.6h0.9M409.1 1058.9h0.9M409.4 1058.7h0.9M409.6 1058.4h0.9M409.7 1057.7h0.9M410.1 1058.2h0.9M410.6 1058.4h0.9M411.2 1057.0h0.9M411.4 1056.8h0.9M411.7 1057.2h0.9M412.8 1056.2h0.9M414.0 1060.0h0.9M414.6 1056.3h0.9M415.3 1057.7h0.9M415.6 1059.7h0.9M415.7 1055.9h0.9M415.9 1057.5h0.9M416.1 1057.2h0.9M416.3 1057.8h0.9M416.7 1058.2h0.9M416.9 1055.5h0.9M417.4 1055.9h0.9M418.7 1055.9h0.9M419.1 1056.1h0.9M419.3 1057.2h0.9M419.7 1058.2h0.9M420.6 1057.7h0.9M420.9 1055.5h0.9M421.3 1057.0h0.9M421.6 1057.8h0.9M422.2 1056.5h0.9M422.3 1056.2h0.9M422.7 1059.0h0.9M423.0 1058.2h0.9M423.5 1057.2h0.9M424.2 1056.4h0.9M424.5 1057.1h0.9M424.9 1057.8h0.9M425.2 1050.7h0.9M425.6 1057.9h0.9M426.0 1058.7h0.9M426.6 1059.2h0.9M427.3 1060.3h0.9M427.4 1059.1h0.9M428.0 1058.8h0.9M428.1 1056.8h0.9M428.8 1059.1h0.9M429.4 1056.6h0.9M430.0 1059.6h0.9M430.7 1054.5h0.9M431.1 1059.5h0.9M432.8 1057.2h0.9M434.3 1059.7h0.9M435.0 1057.9h0.9M436.5 1059.1h0.9M436.7 1057.1h0.9M437.0 1057.1h0.9M437.3 1056.0h0.9M437.6 1057.4h0.9M437.9 1057.6h0.9M438.1 1059.5h0.9M439.5 1058.6h0.9M440.0 1058.0h0.9M440.3 1057.2h0.9M440.4 1057.8h0.9M440.7 1058.9h0.9M441.4 1055.8h0.9M442.3 1063.0h0.9M443.6 1057.5h0.9M444.0 1058.0h0.9M444.4 1054.9h0.9M445.4 1059.0h0.9M445.7 1056.4h0.9M446.0 1057.7h0.9M446.3 1059.1h0.9M446.9 1058.5h0.9M449.0 1056.8h0.9M449.4 1056.8h0.9M449.8 1058.7h0.9M450.0 1059.2h0.9M450.7 1057.1h0.9M451.2 1058.5h0.9M451.5 1061.5h0.9M451.6 1058.4h0.9M451.9 1055.0h0.9M453.2 1053.5h0.9M453.9 1058.5h0.9M454.7 1058.2h0.9M455.2 1058.2h0.9M456.0 1056.5h0.9M456.7 1055.7h0.9M457.2 1059.2h0.9M457.5 1056.0h0.9M458.0 1057.5h0.9M458.2 1058.7h0.9M458.4 1053.2h0.9M458.8 1058.7h0.9M459.3 1055.6h0.9M460.2 1058.5h0.9M460.5 1057.6h0.9M460.8 1059.5h0.9M461.2 1056.8h0.9M461.8 1059.7h0.9M462.4 1057.0h0.9M462.7 1057.6h0.9M463.3 1058.7h0.9M463.4 1056.5h0.9M463.8 1056.6h0.9M464.2 1058.0h0.9M464.3 1057.6h0.9M464.6 1057.9h0.9M465.3 1057.2h0.9M467.3 1056.8h0.9M467.8 1056.9h0.9M468.0 1057.5h0.9M468.3 1057.0h0.9M468.9 1056.7h0.9M469.2 1059.1h0.9M469.4 1058.9h0.9M471.4 1056.8h0.9M471.7 1053.6h0.9M472.0 1058.7h0.9M472.8 1057.1h0.9M473.1 1056.6h0.9M473.6 1056.8h0.9M473.8 1050.8h0.9M474.5 1058.3h0.9M475.7 1058.2h0.9M475.8 1057.5h0.9M476.1 1056.0h0.9M477.1 1056.8h0.9M477.5 1058.0h0.9M478.8 1057.8h0.9M479.0 1058.6h0.9M479.4 1057.2h0.9M479.9 1056.0h0.9M480.3 1057.8h0.9M480.4 1058.8h0.9M481.1 1057.7h0.9M481.2 1057.0h0.9M481.6 1057.1h0.9M482.1 1058.6h0.9M482.6 1059.7h0.9M482.8 1057.0h0.9M483.1 1058.9h0.9M483.5 1056.1h0.9M483.6 1055.8h0.9M483.9 1058.9h0.9M484.8 1057.2h0.9M485.2 1056.9h0.9M485.6 1057.8h0.9M485.8 1059.1h0.9M486.0 1058.6h0.9M486.8 1059.1h0.9M487.2 1059.6h0.9M489.1 1056.7h0.9M489.4 1057.6h0.9M490.0 1056.6h0.9M490.7 1058.8h0.9M491.1 1057.2h0.9M491.2 1057.2h0.9M492.7 1059.6h0.9M493.0 1056.3h0.9M493.3 1058.4h0.9M493.9 1055.0h0.9M494.6 1058.1h0.9M494.8 1057.9h0.9M495.0 1059.0h0.9M496.8 1057.8h0.9M497.1 1056.8h0.9M497.3 1058.3h0.9M498.1 1056.1h0.9M498.3 1057.6h0.9M498.9 1057.5h0.9M499.6 1057.9h0.9M499.7 1058.1h0.9M500.1 1059.4h0.9M500.7 1059.1h0.9M500.8 1054.9h0.9M502.6 1058.4h0.9M502.9 1056.6h0.9M503.4 1055.4h0.9M504.1 1049.8h0.9M504.3 1058.5h0.9M504.8 1056.7h0.9M505.2 1057.0h0.9M505.5 1055.9h0.9M505.9 1058.7h0.9M506.1 1059.4h0.9M506.3 1060.7h0.9M506.9 1057.3h0.9M508.0 1055.1h0.9M508.4 1055.8h0.9M508.5 1058.3h0.9M508.8 1059.2h0.9M509.0 1058.7h0.9M509.4 1059.7h0.9M509.8 1057.8h0.9M511.1 1056.1h0.9M511.5 1057.2h0.9M512.2 1058.6h0.9M512.4 1057.6h0.9M512.8 1057.8h0.9M513.0 1056.3h0.9M513.2 1056.0h0.9M513.4 1057.6h0.9M514.5 1058.3h0.9M514.8 1055.5h0.9M515.6 1056.5h0.9M515.9 1058.4h0.9M516.2 1058.8h0.9M516.7 1056.5h0.9M516.9 1053.3h0.9M518.0 1057.9h0.9M518.1 1058.1h0.9M519.0 1055.3h0.9M519.5 1058.2h0.9M519.8 1060.1h0.9M520.0 1059.7h0.9M520.7 1057.4h0.9M522.1 1057.6h0.9M522.2 1059.7h0.9M522.5 1057.0h0.9M523.8 1058.5h0.9M524.2 1056.9h0.9M524.7 1057.4h0.9M525.0 1056.3h0.9M525.5 1060.4h0.9M525.8 1059.2h0.9M526.0 1057.2h0.9M526.3 1060.0h0.9M526.5 1059.9h0.9M527.1 1057.7h0.9M527.7 1057.7h0.9M528.3 1057.2h0.9M528.6 1060.0h0.9M528.7 1062.9h0.9M528.9 1058.1h0.9M529.3 1054.5h0.9M529.7 1058.2h0.9M530.0 1056.7h0.9M530.9 1058.0h0.9M532.2 1056.4h0.9M532.5 1057.6h0.9M532.9 1057.0h0.9M534.1 1057.5h0.9M534.4 1057.8h0.9M534.7 1058.5h0.9M535.1 1057.4h0.9M535.2 1056.9h0.9M535.4 1056.5h0.9M535.7 1058.5h0.9M535.9 1057.4h0.9M536.1 1058.4h0.9M536.5 1058.3h0.9M536.7 1057.5h0.9M537.7 1055.8h0.9M537.8 1057.2h0.9M538.3 1056.3h0.9M538.8 1057.8h0.9M538.9 1055.7h0.9M539.3 1058.3h0.9M539.5 1056.7h0.9M540.2 1059.9h0.9M540.9 1056.8h0.9M541.2 1057.5h0.9M542.2 1056.4h0.9M542.4 1059.6h0.9M542.5 1057.7h0.9M543.5 1057.7h0.9M543.7 1055.6h0.9M543.9 1057.8h0.9M544.2 1059.4h0.9M544.5 1058.7h0.9M544.9 1059.4h0.9M545.0 1055.9h0.9M545.3 1056.3h0.9M545.9 1057.2h0.9M546.2 1057.2h0.9M546.7 1059.8h0.9M547.3 1057.0h0.9M547.8 1056.5h0.9M548.1 1059.6h0.9M548.4 1058.1h0.9M548.7 1058.2h0.9M549.1 1057.5h0.9M549.6 1056.5h0.9M550.8 1057.9h0.9M551.1 1057.0h0.9M551.5 1057.0h0.9M551.8 1061.2h0.9M552.7 1058.1h0.9M553.1 1055.0h0.9M553.8 1054.1h0.9M554.4 1058.9h0.9M555.3 1057.9h0.9M555.5 1058.2h0.9M555.6 1058.0h0.9M556.4 1056.1h0.9M556.7 1058.4h0.9M557.3 1054.7h0.9M557.6 1056.4h0.9M558.5 1056.9h0.9M558.8 1057.8h0.9M559.1 1059.3h0.9M559.5 1055.4h0.9M560.1 1057.7h0.9M560.8 1057.8h0.9M561.0 1061.3h0.9M561.3 1055.7h0.9M562.3 1059.1h0.9M562.6 1058.9h0.9M563.0 1057.7h0.9M563.7 1056.4h0.9M564.1 1058.4h0.9M564.8 1058.4h0.9M565.2 1052.7h0.9M565.5 1058.9h0.9M566.5 1058.1h0.9M567.0 1056.7h0.9M567.5 1057.2h0.9M568.5 1058.4h0.9M569.5 1057.2h0.9M569.7 1058.1h0.9M571.6 1057.5h0.9M572.1 1059.0h0.9M572.3 1056.5h0.9M573.6 1059.6h0.9M573.8 1056.0h0.9M573.9 1059.0h0.9M574.3 1054.8h0.9M575.4 1057.3h0.9M576.1 1057.8h0.9M576.4 1057.1h0.9M576.8 1059.1h0.9M577.0 1056.6h0.9M578.0 1057.6h0.9M578.1 1058.5h0.9M578.4 1057.5h0.9M579.1 1059.2h0.9M580.1 1057.6h0.9M581.6 1057.4h0.9M581.9 1057.5h0.9M583.2 1058.3h0.9M583.8 1058.6h0.9M584.5 1059.5h0.9M584.8 1059.3h0.9M585.2 1055.9h0.9M585.9 1058.3h0.9M586.9 1054.2h0.9M587.3 1058.4h0.9M587.5 1056.4h0.9M587.7 1056.1h0.9M588.1 1057.9h0.9M588.7 1058.2h0.9M589.3 1056.4h0.9M589.5 1057.7h0.9M589.8 1057.9h0.9M591.7 1057.3h0.9M592.5 1058.9h0.9M592.6 1057.1h0.9M593.2 1057.8h0.9M593.3 1057.4h0.9M593.5 1057.6h0.9M594.1 1057.9h0.9M594.2 1056.1h0.9M594.6 1058.6h0.9M595.2 1059.2h0.9M595.4 1057.4h0.9M596.1 1059.8h0.9M596.3 1058.7h0.9M598.0 1058.2h0.9M598.6 1055.9h0.9M599.2 1057.3h0.9M599.6 1060.9h0.9M599.9 1056.1h0.9M600.4 1057.9h0.9M601.3 1057.6h0.9M601.9 1057.5h0.9M602.0 1058.0h0.9M603.8 1060.7h0.9M604.0 1060.4h0.9M604.2 1058.9h0.9M604.6 1057.0h0.9M605.0 1057.5h0.9M605.9 1059.4h0.9M606.4 1057.8h0.9M606.7 1057.6h0.9M607.0 1057.7h0.9M607.9 1058.9h0.9M609.7 1056.7h0.9M610.1 1059.0h0.9M611.2 1056.6h0.9M612.2 1054.7h0.9M614.1 1056.0h0.9M614.4 1058.7h0.9M614.9 1059.4h0.9M615.3 1057.8h0.9M615.6 1057.0h0.9M616.0 1055.9h0.9M616.7 1057.4h0.9M617.0 1057.2h0.9M617.4 1056.9h0.9M617.9 1058.6h0.9M618.3 1059.8h0.9M618.9 1056.4h0.9M619.2 1057.1h0.9M619.8 1057.3h0.9M620.7 1056.1h0.9M620.9 1058.3h0.9M622.3 1056.0h0.9M623.0 1060.3h0.9M623.2 1058.0h0.9M623.9 1059.0h0.9M624.2 1059.8h0.9M624.8 1059.0h0.9M625.0 1058.6h0.9M625.2 1062.9h0.9M626.3 1056.3h0.9M626.4 1056.0h0.9M626.6 1058.0h0.9M627.3 1059.2h0.9M627.7 1059.4h0.9M628.2 1058.6h0.9M628.5 1057.6h0.9M630.4 1059.6h0.9M631.4 1056.8h0.9M631.8 1057.2h0.9M632.3 1056.5h0.9M632.9 1055.9h0.9M633.2 1057.6h0.9M633.3 1057.4h0.9M633.7 1058.4h0.9M634.1 1056.7h0.9M634.3 1057.1h0.9M634.6 1060.8h0.9M634.7 1056.9h0.9M634.9 1055.5h0.9M635.5 1058.8h0.9M636.7 1061.6h0.9M637.2 1054.9h0.9M637.4 1056.0h0.9M637.6 1057.9h0.9M637.9 1057.2h0.9M638.3 1059.3h0.9M638.6 1058.8h0.9M638.8 1056.1h0.9M639.1 1054.4h0.9" stroke="#b8b8b8" stroke-width="0.8"/>
<path d="M24.4 1057.7H639.6" stroke="#7a7a7a" stroke-width="1.4"/>
<path d="M641 1064.7H647" stroke="#2d7fd8" stroke-width="1.2" stroke-dasharray="2.2 1"/>
<path d="M68.5 1050.1h0.3M91.6 1050.1h0.3M111.8 1050.1h0.3M133.4 1050.1h0.3M259.3 1050.1h0.3M265.4 1050.1h0.3M321.2 1035.0h0.3" stroke="#ec6a46" stroke-width="1.5" stroke-linecap="round"/>
<path d="M46.8 1065.0h0.3M109.8 1065.0h0.3M413.0 1065.0h0.3M475.0 1065.0h0.3M606.5 1065.0h0.3" stroke="#2d7fd8" stroke-width="1.5" stroke-linecap="round"/>
<rect x="23.4" y="1016.8" width="624.1" height="50.3" fill="none" stroke="#4a4242" stroke-width="1.6"/>
<path d="M21.0 1065.3h2M21.0 1050.1h2M21.0 1035.0h2M21.0 1019.8h2" stroke="#4a4242" stroke-width="1"/>
<text x="20.8" y="1068.3" font-size="8.3" text-anchor="end" font-weight="bold" fill="#333">0</text>
<text x="20.8" y="1053.1" font-size="8.3" text-anchor="end" font-weight="bold" fill="#333">2</text>
<text x="20.8" y="1038" font-size="8.3" text-anchor="end" font-weight="bold" fill="#333">4</text>
<text x="20.8" y="1022.8" font-size="8.3" text-anchor="end" font-weight="bold" fill="#333">6</text>
<text x="23.4" y="1012.0" font-size="9.7" fill="#222">Single sperm (#<tspan font-style="italic">Eco</tspan>R I_65)   CV =  0.24</text>
<text x="3.4" y="1007.8" font-size="12" font-weight="bold" fill="#000">k</text>
<text x="667.1" y="1024.9" font-size="8.6" text-anchor="middle" fill="#222">Copy</text>
<text x="667.1" y="1035.6" font-size="8.6" text-anchor="middle" fill="#222">numbers</text>
<path d="M656.0 1042.3h0" stroke="#1f6fd6" stroke-width="4.6" stroke-linecap="round"/>
<text x="665.6" y="1045.3" font-size="8.6" fill="#222">&lt;</text>
<text x="674.6" y="1045.3" font-size="8.6" fill="#222">1</text>
<path d="M656.0 1052.5h0" stroke="#777777" stroke-width="4.6" stroke-linecap="round"/>
<text x="665.6" y="1055.5" font-size="8.6" fill="#222">=</text>
<text x="674.6" y="1055.5" font-size="8.6" fill="#222">1</text>
<path d="M656.0 1062.7h0" stroke="#cc3311" stroke-width="4.6" stroke-linecap="round"/>
<text x="665.6" y="1065.7" font-size="8.6" fill="#222">&gt;</text>
<text x="674.6" y="1065.7" font-size="8.6" fill="#222">1</text>
<text x="45.8" y="1079.3" font-size="9.4" text-anchor="end" fill="#222">chr 1</text>
<text x="88.8" y="1079.3" font-size="9.4" text-anchor="middle" fill="#222">2</text>
<text x="130.2" y="1079.3" font-size="9.4" text-anchor="middle" fill="#222">3</text>
<text x="166.7" y="1079.3" font-size="9.4" text-anchor="middle" fill="#222">4</text>
<text x="202.7" y="1079.3" font-size="9.4" text-anchor="middle" fill="#222">5</text>
<text x="238.4" y="1079.3" font-size="9.4" text-anchor="middle" fill="#222">6</text>
<text x="272.9" y="1079.3" font-size="9.4" text-anchor="middle" fill="#222">7</text>
<text x="304.9" y="1079.3" font-size="9.4" text-anchor="middle" fill="#222">8</text>
<text x="334.6" y="1079.3" font-size="9.4" text-anchor="middle" fill="#222">9</text>
<text x="364.1" y="1079.3" font-size="9.4" text-anchor="middle" fill="#222">10</text>
<text x="393.9" y="1079.3" font-size="9.4" text-anchor="middle" fill="#222">11</text>
<text x="422.1" y="1079.3" font-size="9.4" text-anchor="middle" fill="#222">12</text>
<text x="450.3" y="1079.3" font-size="9.4" text-anchor="middle" fill="#222">13</text>
<text x="479.2" y="1079.3" font-size="9.4" text-anchor="middle" fill="#222">14</text>
<text x="506.2" y="1079.3" font-size="9.4" text-anchor="middle" fill="#222">15</text>
<text x="530.6" y="1079.3" font-size="9.4" text-anchor="middle" fill="#222">16</text>
<text x="553.2" y="1079.3" font-size="9.4" text-anchor="middle" fill="#222">17</text>
<text x="574.9" y="1079.3" font-size="9.4" text-anchor="middle" fill="#222">18</text>
<text x="592.8" y="1079.3" font-size="9.4" text-anchor="middle" fill="#222">19</text>
<text x="621.5" y="1079.3" font-size="9.4" text-anchor="middle" fill="#222">X</text>
<text x="642.9" y="1079.3" font-size="9.4" text-anchor="middle" fill="#222">Y</text>
</svg></body></html>
